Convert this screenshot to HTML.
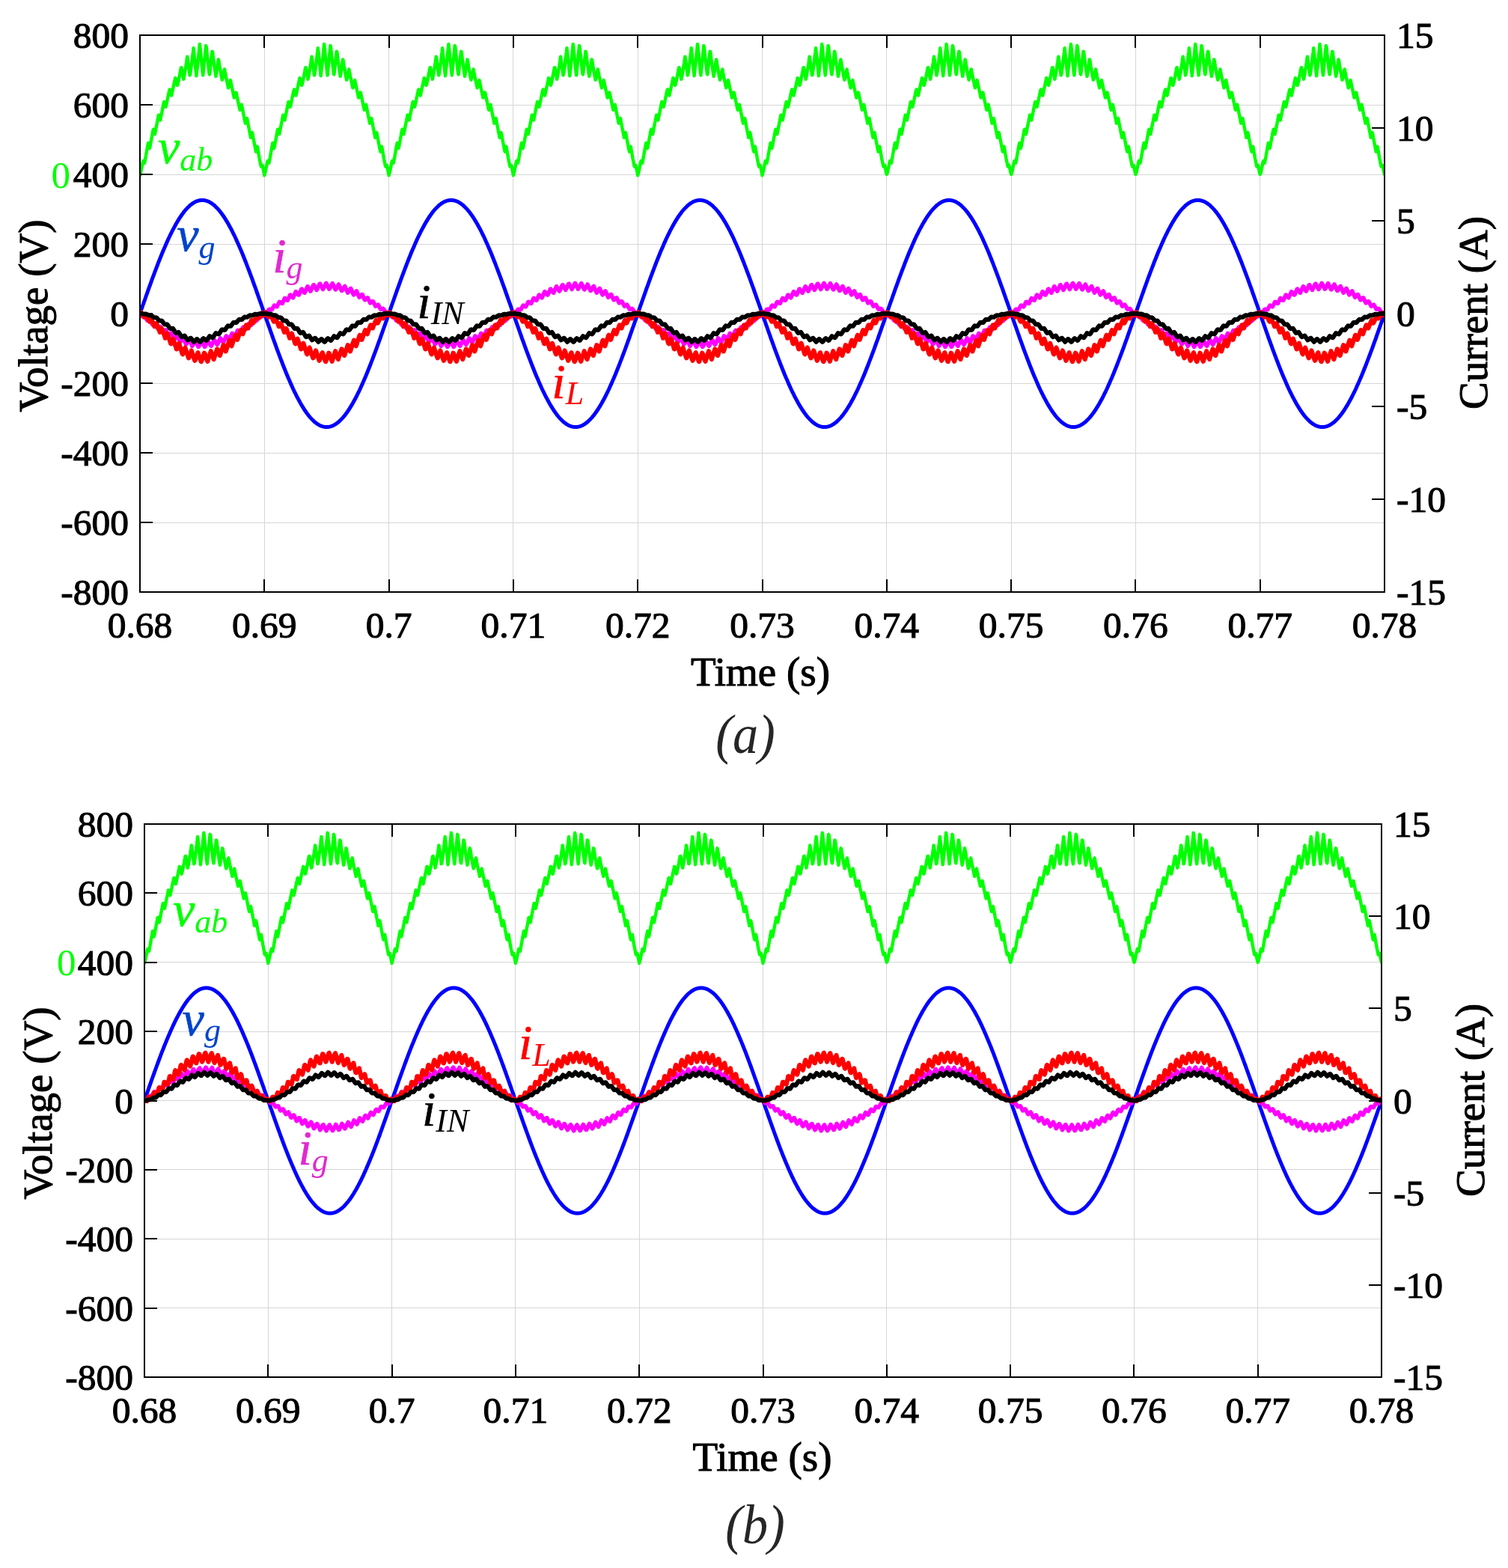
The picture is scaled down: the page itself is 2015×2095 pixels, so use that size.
<!DOCTYPE html><html><head><meta charset="utf-8"><title>Waveforms</title><style>html,body{margin:0;padding:0;background:#fff;overflow:hidden}svg{display:block}</style></head><body>
<svg xmlns="http://www.w3.org/2000/svg" width="2015" height="2095" viewBox="0 0 2015 2095">
<rect width="2015" height="2095" fill="#fff"/>
<clipPath id="ca"><rect x="187" y="44" width="1663" height="750"/></clipPath>
<path d="M353.5 47V791M519.5 47V791M685.5 47V791M852.5 47V791M1018.5 47V791M1184.5 47V791M1351.5 47V791M1517.5 47V791M1683.5 47V791M187 140.5H1850M187 233.5H1850M187 326.5H1850M187 419.5H1850M187 512.5H1850M187 605.5H1850M187 698.5H1850" stroke="#d6d6d6" stroke-width="1" fill="none"/>
<g clip-path="url(#ca)" fill="none" stroke-linejoin="round" stroke-linecap="round">
<path d="M187 234.3L187.6 232.1L188.1 229.9L188.7 227.5L189.2 224.9L189.8 222.2L190.3 219.4L190.9 216.5L191.4 214.9L192 216L192.5 217.4L193.1 217.9L193.7 215.1L194.2 212.2L194.8 209.2L195.3 206L195.9 202.8L196.4 199.8L197 196.8L197.5 193.9L198.1 190.9L198.6 193.4L199.2 195.9L199.7 198.3L200.3 196.5L200.9 193.6L201.4 190.7L202 187.7L202.5 184.8L203.1 181.9L203.6 178.9L204.2 176L204.7 173.1L205.3 172.7L205.8 175.1L206.4 177.4L207 179.2L207.5 176.4L208.1 173.5L208.6 170.6L209.2 167.8L209.7 165L210.3 162.1L210.8 159.3L211.4 156.4L211.9 153.6L212.5 154.6L213.1 156.8L213.6 158.9L214.2 160.5L214.7 157.8L215.3 155L215.8 152.3L216.4 149.5L216.9 146.8L217.5 144.1L218 141.3L218.6 138.6L219.2 135.9L219.7 136.7L220.3 138.8L220.8 140.8L221.4 142.8L221.9 141.3L222.5 138.7L223 136.1L223.6 133.4L224.1 130.8L224.7 128.2L225.2 125.5L225.8 122.9L226.4 120.3L226.9 119.5L227.5 121.5L228 123.5L228.6 125.5L229.1 127.6L229.7 125.2L230.2 122.6L230.8 120.1L231.3 117.5L231.9 114.9L232.5 112.3L233 109.6L233.6 106.9L234.1 104.2L234.7 104.7L235.2 107L235.8 109.3L236.3 111.6L236.9 114.1L237.4 113.1L238 110.5L238.6 107.8L239.1 105.1L239.7 102.3L240.2 99.5L240.8 96.5L241.3 93.5L241.9 90.4L242.4 90.2L243 93.1L243.5 96.1L244.1 99.2L244.7 102.5L245.2 105.9L245.8 103.6L246.3 100.5L246.9 97.4L247.4 94.1L248 90.7L248.5 87.1L249.1 83.5L249.6 79.6L250.2 75.7L250.7 78.9L251.3 82.9L251.9 87.1L252.4 91.4L253 95.9L253.5 100.5L254.1 99.8L254.6 95.9L255.2 91.9L255.7 87.7L256.3 83.3L256.8 78.8L257.4 74.1L258 69.3L258.5 64.3L259.1 69.3L259.6 74.4L260.2 79.6L260.7 85L261.3 90.4L261.8 95.9L262.4 101.4L262.9 96.6L263.5 91.6L264.1 86.4L264.6 81.1L265.2 75.7L265.7 70.2L266.3 64.6L266.8 59L267.4 62.9L267.9 68.6L268.5 74.4L269 80.1L269.6 85.7L270.2 91.3L270.7 96.9L271.3 100.6L271.8 95L272.4 89.4L272.9 83.7L273.5 78L274 72.3L274.6 66.7L275.1 61L275.7 62.5L276.2 68L276.8 73.4L277.4 78.7L277.9 83.8L278.5 88.9L279 93.7L279.6 98.5L280.1 99.5L280.7 94.2L281.2 88.9L281.8 83.7L282.3 78.6L282.9 73.6L283.5 68.8L284 69L284.6 73.6L285.1 78.2L285.7 82.5L286.2 86.7L286.8 90.8L287.3 94.7L287.9 98.4L288.4 102L289 99.3L289.6 95.1L290.1 90.9L290.7 87L291.2 83.2L291.8 79.5L292.3 80.8L292.9 84.5L293.4 88L294 91.5L294.5 94.7L295.1 97.9L295.6 101L296.2 103.9L296.8 106.8L297.3 105.8L297.9 102.8L298.4 99.8L299 97L299.5 94.2L300.1 92.6L300.6 95.6L301.2 98.6L301.7 101.4L302.3 104.2L302.9 107L303.4 109.6L304 112.3L304.5 114.8L305.1 117.4L305.6 115.3L306.2 113L306.7 110.8L307.3 108.6L307.8 107.1L308.4 109.8L309 112.4L309.5 115.1L310.1 117.7L310.6 120.3L311.2 122.9L311.7 125.4L312.3 128L312.8 130.5L313.4 129.5L313.9 127.5L314.5 125.5L315.1 123.5L315.6 123.7L316.2 126.3L316.7 129L317.3 131.6L317.8 134.3L318.4 136.9L318.9 139.6L319.5 142.2L320 144.9L320.6 147L321.1 145L321.7 142.9L322.3 140.9L322.8 139.8L323.4 142.5L323.9 145.3L324.5 148L325 150.8L325.6 153.6L326.1 156.3L326.7 159.1L327.2 161.9L327.8 164.7L328.4 163.2L328.9 161L329.5 158.8L330 158L330.6 160.8L331.1 163.7L331.7 166.5L332.2 169.4L332.8 172.2L333.3 175.1L333.9 178L334.5 180.9L335 183.8L335.6 181.7L336.1 179.3L336.7 176.9L337.2 177.8L337.8 180.7L338.3 183.6L338.9 186.6L339.4 189.5L340 192.5L340.6 195.4L341.1 198.4L341.7 201.3L342.2 202.7L342.8 200.2L343.3 197.6L343.9 195.8L344.4 198.8L345 202L345.5 205.2L346.1 208.5L346.6 211.6L347.2 214.5L347.8 217.4L348.3 220.1L348.9 222.6L349.4 222.1L350 221.2L350.5 220.8L351.1 222.9L351.6 225.6L352.2 228.2L352.7 230.7L353.3 234.3L353.9 232.1L354.4 229.9L355 227.5L355.5 224.9L356.1 222.2L356.6 219.4L357.2 216.5L357.7 214.9L358.3 216L358.8 217.4L359.4 217.9L360 215.1L360.5 212.2L361.1 209.2L361.6 206L362.2 202.8L362.7 199.8L363.3 196.8L363.8 193.9L364.4 190.9L364.9 193.4L365.5 195.9L366 198.3L366.6 196.5L367.2 193.6L367.7 190.7L368.3 187.7L368.8 184.8L369.4 181.9L369.9 178.9L370.5 176L371 173.1L371.6 172.7L372.1 175.1L372.7 177.4L373.3 179.2L373.8 176.4L374.4 173.5L374.9 170.6L375.5 167.8L376 165L376.6 162.1L377.1 159.3L377.7 156.4L378.2 153.6L378.8 154.6L379.4 156.8L379.9 158.9L380.5 160.5L381 157.8L381.6 155L382.1 152.3L382.7 149.5L383.2 146.8L383.8 144.1L384.3 141.3L384.9 138.6L385.5 135.9L386 136.7L386.6 138.8L387.1 140.8L387.7 142.8L388.2 141.3L388.8 138.7L389.3 136.1L389.9 133.4L390.4 130.8L391 128.2L391.5 125.5L392.1 122.9L392.7 120.3L393.2 119.5L393.8 121.5L394.3 123.5L394.9 125.5L395.4 127.6L396 125.2L396.5 122.6L397.1 120.1L397.6 117.5L398.2 114.9L398.8 112.3L399.3 109.6L399.9 106.9L400.4 104.2L401 104.7L401.5 107L402.1 109.3L402.6 111.6L403.2 114.1L403.7 113.1L404.3 110.5L404.9 107.8L405.4 105.1L406 102.3L406.5 99.5L407.1 96.5L407.6 93.5L408.2 90.4L408.7 90.2L409.3 93.1L409.8 96.1L410.4 99.2L411 102.5L411.5 105.9L412.1 103.6L412.6 100.5L413.2 97.4L413.7 94.1L414.3 90.7L414.8 87.1L415.4 83.5L415.9 79.6L416.5 75.7L417 78.9L417.6 82.9L418.2 87.1L418.7 91.4L419.3 95.9L419.8 100.5L420.4 99.8L420.9 95.9L421.5 91.9L422 87.7L422.6 83.3L423.1 78.8L423.7 74.1L424.3 69.3L424.8 64.3L425.4 69.3L425.9 74.4L426.5 79.6L427 85L427.6 90.4L428.1 95.9L428.7 101.4L429.2 96.6L429.8 91.6L430.4 86.4L430.9 81.1L431.5 75.7L432 70.2L432.6 64.6L433.1 59L433.7 62.9L434.2 68.6L434.8 74.4L435.3 80.1L435.9 85.7L436.5 91.3L437 96.9L437.6 100.6L438.1 95L438.7 89.4L439.2 83.7L439.8 78L440.3 72.3L440.9 66.7L441.4 61L442 62.5L442.5 68L443.1 73.4L443.7 78.7L444.2 83.8L444.8 88.9L445.3 93.7L445.9 98.5L446.4 99.5L447 94.2L447.5 88.9L448.1 83.7L448.6 78.6L449.2 73.6L449.8 68.8L450.3 69L450.9 73.6L451.4 78.2L452 82.5L452.5 86.7L453.1 90.8L453.6 94.7L454.2 98.4L454.7 102L455.3 99.3L455.9 95.1L456.4 90.9L457 87L457.5 83.2L458.1 79.5L458.6 80.8L459.2 84.5L459.7 88L460.3 91.5L460.8 94.7L461.4 97.9L461.9 101L462.5 103.9L463.1 106.8L463.6 105.8L464.2 102.8L464.7 99.8L465.3 97L465.8 94.2L466.4 92.6L466.9 95.6L467.5 98.6L468 101.4L468.6 104.2L469.2 107L469.7 109.6L470.3 112.3L470.8 114.8L471.4 117.4L471.9 115.3L472.5 113L473 110.8L473.6 108.6L474.1 107.1L474.7 109.8L475.3 112.4L475.8 115.1L476.4 117.7L476.9 120.3L477.5 122.9L478 125.4L478.6 128L479.1 130.5L479.7 129.5L480.2 127.5L480.8 125.5L481.4 123.5L481.9 123.7L482.5 126.3L483 129L483.6 131.6L484.1 134.3L484.7 136.9L485.2 139.6L485.8 142.2L486.3 144.9L486.9 147L487.4 145L488 142.9L488.6 140.9L489.1 139.8L489.7 142.5L490.2 145.3L490.8 148L491.3 150.8L491.9 153.6L492.4 156.3L493 159.1L493.5 161.9L494.1 164.7L494.7 163.2L495.2 161L495.8 158.8L496.3 158L496.9 160.8L497.4 163.7L498 166.5L498.5 169.4L499.1 172.2L499.6 175.1L500.2 178L500.8 180.9L501.3 183.8L501.9 181.7L502.4 179.3L503 176.9L503.5 177.8L504.1 180.7L504.6 183.6L505.2 186.6L505.7 189.5L506.3 192.5L506.9 195.4L507.4 198.4L508 201.3L508.5 202.7L509.1 200.2L509.6 197.6L510.2 195.8L510.7 198.8L511.3 202L511.8 205.2L512.4 208.5L512.9 211.6L513.5 214.5L514.1 217.4L514.6 220.1L515.2 222.6L515.7 222.1L516.3 221.2L516.8 220.8L517.4 222.9L517.9 225.6L518.5 228.2L519 230.7L519.6 234.3L520.2 232.1L520.7 229.9L521.3 227.5L521.8 224.9L522.4 222.2L522.9 219.4L523.5 216.5L524 214.9L524.6 216L525.1 217.4L525.7 217.9L526.3 215.1L526.8 212.2L527.4 209.2L527.9 206L528.5 202.8L529 199.8L529.6 196.8L530.1 193.9L530.7 190.9L531.2 193.4L531.8 195.9L532.3 198.3L532.9 196.5L533.5 193.6L534 190.7L534.6 187.7L535.1 184.8L535.7 181.9L536.2 178.9L536.8 176L537.3 173.1L537.9 172.7L538.4 175.1L539 177.4L539.6 179.2L540.1 176.4L540.7 173.5L541.2 170.6L541.8 167.8L542.3 165L542.9 162.1L543.4 159.3L544 156.4L544.5 153.6L545.1 154.6L545.7 156.8L546.2 158.9L546.8 160.5L547.3 157.8L547.9 155L548.4 152.3L549 149.5L549.5 146.8L550.1 144.1L550.6 141.3L551.2 138.6L551.8 135.9L552.3 136.7L552.9 138.8L553.4 140.8L554 142.8L554.5 141.3L555.1 138.7L555.6 136.1L556.2 133.4L556.7 130.8L557.3 128.2L557.8 125.5L558.4 122.9L559 120.3L559.5 119.5L560.1 121.5L560.6 123.5L561.2 125.5L561.7 127.6L562.3 125.2L562.8 122.6L563.4 120.1L563.9 117.5L564.5 114.9L565.1 112.3L565.6 109.6L566.2 106.9L566.7 104.2L567.3 104.7L567.8 107L568.4 109.3L568.9 111.6L569.5 114.1L570 113.1L570.6 110.5L571.2 107.8L571.7 105.1L572.3 102.3L572.8 99.5L573.4 96.5L573.9 93.5L574.5 90.4L575 90.2L575.6 93.1L576.1 96.1L576.7 99.2L577.3 102.5L577.8 105.9L578.4 103.6L578.9 100.5L579.5 97.4L580 94.1L580.6 90.7L581.1 87.1L581.7 83.5L582.2 79.6L582.8 75.7L583.3 78.9L583.9 82.9L584.5 87.1L585 91.4L585.6 95.9L586.1 100.5L586.7 99.8L587.2 95.9L587.8 91.9L588.3 87.7L588.9 83.3L589.4 78.8L590 74.1L590.6 69.3L591.1 64.3L591.7 69.3L592.2 74.4L592.8 79.6L593.3 85L593.9 90.4L594.4 95.9L595 101.4L595.5 96.6L596.1 91.6L596.7 86.4L597.2 81.1L597.8 75.7L598.3 70.2L598.9 64.6L599.4 59L600 62.9L600.5 68.6L601.1 74.4L601.6 80.1L602.2 85.7L602.8 91.3L603.3 96.9L603.9 100.6L604.4 95L605 89.4L605.5 83.7L606.1 78L606.6 72.3L607.2 66.7L607.7 61L608.3 62.5L608.8 68L609.4 73.4L610 78.7L610.5 83.8L611.1 88.9L611.6 93.7L612.2 98.5L612.7 99.5L613.3 94.2L613.8 88.9L614.4 83.7L614.9 78.6L615.5 73.6L616.1 68.8L616.6 69L617.2 73.6L617.7 78.2L618.3 82.5L618.8 86.7L619.4 90.8L619.9 94.7L620.5 98.4L621 102L621.6 99.3L622.2 95.1L622.7 90.9L623.3 87L623.8 83.2L624.4 79.5L624.9 80.8L625.5 84.5L626 88L626.6 91.5L627.1 94.7L627.7 97.9L628.2 101L628.8 103.9L629.4 106.8L629.9 105.8L630.5 102.8L631 99.8L631.6 97L632.1 94.2L632.7 92.6L633.2 95.6L633.8 98.6L634.3 101.4L634.9 104.2L635.5 107L636 109.6L636.6 112.3L637.1 114.8L637.7 117.4L638.2 115.3L638.8 113L639.3 110.8L639.9 108.6L640.4 107.1L641 109.8L641.6 112.4L642.1 115.1L642.7 117.7L643.2 120.3L643.8 122.9L644.3 125.4L644.9 128L645.4 130.5L646 129.5L646.5 127.5L647.1 125.5L647.7 123.5L648.2 123.7L648.8 126.3L649.3 129L649.9 131.6L650.4 134.3L651 136.9L651.5 139.6L652.1 142.2L652.6 144.9L653.2 147L653.7 145L654.3 142.9L654.9 140.9L655.4 139.8L656 142.5L656.5 145.3L657.1 148L657.6 150.8L658.2 153.6L658.7 156.3L659.3 159.1L659.8 161.9L660.4 164.7L661 163.2L661.5 161L662.1 158.8L662.6 158L663.2 160.8L663.7 163.7L664.3 166.5L664.8 169.4L665.4 172.2L665.9 175.1L666.5 178L667.1 180.9L667.6 183.8L668.2 181.7L668.7 179.3L669.3 176.9L669.8 177.8L670.4 180.7L670.9 183.6L671.5 186.6L672 189.5L672.6 192.5L673.2 195.4L673.7 198.4L674.3 201.3L674.8 202.7L675.4 200.2L675.9 197.6L676.5 195.8L677 198.8L677.6 202L678.1 205.2L678.7 208.5L679.2 211.6L679.8 214.5L680.4 217.4L680.9 220.1L681.5 222.6L682 222.1L682.6 221.2L683.1 220.8L683.7 222.9L684.2 225.6L684.8 228.2L685.3 230.7L685.9 234.3L686.5 232.1L687 229.9L687.6 227.5L688.1 224.9L688.7 222.2L689.2 219.4L689.8 216.5L690.3 214.9L690.9 216L691.4 217.4L692 217.9L692.6 215.1L693.1 212.2L693.7 209.2L694.2 206L694.8 202.8L695.3 199.8L695.9 196.8L696.4 193.9L697 190.9L697.5 193.4L698.1 195.9L698.6 198.3L699.2 196.5L699.8 193.6L700.3 190.7L700.9 187.7L701.4 184.8L702 181.9L702.5 178.9L703.1 176L703.6 173.1L704.2 172.7L704.7 175.1L705.3 177.4L705.9 179.2L706.4 176.4L707 173.5L707.5 170.6L708.1 167.8L708.6 165L709.2 162.1L709.7 159.3L710.3 156.4L710.8 153.6L711.4 154.6L712 156.8L712.5 158.9L713.1 160.5L713.6 157.8L714.2 155L714.7 152.3L715.3 149.5L715.8 146.8L716.4 144.1L716.9 141.3L717.5 138.6L718.1 135.9L718.6 136.7L719.2 138.8L719.7 140.8L720.3 142.8L720.8 141.3L721.4 138.7L721.9 136.1L722.5 133.4L723 130.8L723.6 128.2L724.1 125.5L724.7 122.9L725.3 120.3L725.8 119.5L726.4 121.5L726.9 123.5L727.5 125.5L728 127.6L728.6 125.2L729.1 122.6L729.7 120.1L730.2 117.5L730.8 114.9L731.4 112.3L731.9 109.6L732.5 106.9L733 104.2L733.6 104.7L734.1 107L734.7 109.3L735.2 111.6L735.8 114.1L736.3 113.1L736.9 110.5L737.5 107.8L738 105.1L738.6 102.3L739.1 99.5L739.7 96.5L740.2 93.5L740.8 90.4L741.3 90.2L741.9 93.1L742.4 96.1L743 99.2L743.6 102.5L744.1 105.9L744.7 103.6L745.2 100.5L745.8 97.4L746.3 94.1L746.9 90.7L747.4 87.1L748 83.5L748.5 79.6L749.1 75.7L749.6 78.9L750.2 82.9L750.8 87.1L751.3 91.4L751.9 95.9L752.4 100.5L753 99.8L753.5 95.9L754.1 91.9L754.6 87.7L755.2 83.3L755.7 78.8L756.3 74.1L756.9 69.3L757.4 64.3L758 69.3L758.5 74.4L759.1 79.6L759.6 85L760.2 90.4L760.7 95.9L761.3 101.4L761.8 96.6L762.4 91.6L763 86.4L763.5 81.1L764.1 75.7L764.6 70.2L765.2 64.6L765.7 59L766.3 62.9L766.8 68.6L767.4 74.4L767.9 80.1L768.5 85.7L769.1 91.3L769.6 96.9L770.2 100.6L770.7 95L771.3 89.4L771.8 83.7L772.4 78L772.9 72.3L773.5 66.7L774 61L774.6 62.5L775.1 68L775.7 73.4L776.3 78.7L776.8 83.8L777.4 88.9L777.9 93.7L778.5 98.5L779 99.5L779.6 94.2L780.1 88.9L780.7 83.7L781.2 78.6L781.8 73.6L782.4 68.8L782.9 69L783.5 73.6L784 78.2L784.6 82.5L785.1 86.7L785.7 90.8L786.2 94.7L786.8 98.4L787.3 102L787.9 99.3L788.5 95.1L789 90.9L789.6 87L790.1 83.2L790.7 79.5L791.2 80.8L791.8 84.5L792.3 88L792.9 91.5L793.4 94.7L794 97.9L794.5 101L795.1 103.9L795.7 106.8L796.2 105.8L796.8 102.8L797.3 99.8L797.9 97L798.4 94.2L799 92.6L799.5 95.6L800.1 98.6L800.6 101.4L801.2 104.2L801.8 107L802.3 109.6L802.9 112.3L803.4 114.8L804 117.4L804.5 115.3L805.1 113L805.6 110.8L806.2 108.6L806.7 107.1L807.3 109.8L807.9 112.4L808.4 115.1L809 117.7L809.5 120.3L810.1 122.9L810.6 125.4L811.2 128L811.7 130.5L812.3 129.5L812.8 127.5L813.4 125.5L814 123.5L814.5 123.7L815.1 126.3L815.6 129L816.2 131.6L816.7 134.3L817.3 136.9L817.8 139.6L818.4 142.2L818.9 144.9L819.5 147L820 145L820.6 142.9L821.2 140.9L821.7 139.8L822.3 142.5L822.8 145.3L823.4 148L823.9 150.8L824.5 153.6L825 156.3L825.6 159.1L826.1 161.9L826.7 164.7L827.3 163.2L827.8 161L828.4 158.8L828.9 158L829.5 160.8L830 163.7L830.6 166.5L831.1 169.4L831.7 172.2L832.2 175.1L832.8 178L833.4 180.9L833.9 183.8L834.5 181.7L835 179.3L835.6 176.9L836.1 177.8L836.7 180.7L837.2 183.6L837.8 186.6L838.3 189.5L838.9 192.5L839.5 195.4L840 198.4L840.6 201.3L841.1 202.7L841.7 200.2L842.2 197.6L842.8 195.8L843.3 198.8L843.9 202L844.4 205.2L845 208.5L845.5 211.6L846.1 214.5L846.7 217.4L847.2 220.1L847.8 222.6L848.3 222.1L848.9 221.2L849.4 220.8L850 222.9L850.5 225.6L851.1 228.2L851.6 230.7L852.2 234.3L852.8 232.1L853.3 229.9L853.9 227.5L854.4 224.9L855 222.2L855.5 219.4L856.1 216.5L856.6 214.9L857.2 216L857.7 217.4L858.3 217.9L858.9 215.1L859.4 212.2L860 209.2L860.5 206L861.1 202.8L861.6 199.8L862.2 196.8L862.7 193.9L863.3 190.9L863.8 193.4L864.4 195.9L864.9 198.3L865.5 196.5L866.1 193.6L866.6 190.7L867.2 187.7L867.7 184.8L868.3 181.9L868.8 178.9L869.4 176L869.9 173.1L870.5 172.7L871 175.1L871.6 177.4L872.2 179.2L872.7 176.4L873.3 173.5L873.8 170.6L874.4 167.8L874.9 165L875.5 162.1L876 159.3L876.6 156.4L877.1 153.6L877.7 154.6L878.3 156.8L878.8 158.9L879.4 160.5L879.9 157.8L880.5 155L881 152.3L881.6 149.5L882.1 146.8L882.7 144.1L883.2 141.3L883.8 138.6L884.4 135.9L884.9 136.7L885.5 138.8L886 140.8L886.6 142.8L887.1 141.3L887.7 138.7L888.2 136.1L888.8 133.4L889.3 130.8L889.9 128.2L890.4 125.5L891 122.9L891.6 120.3L892.1 119.5L892.7 121.5L893.2 123.5L893.8 125.5L894.3 127.6L894.9 125.2L895.4 122.6L896 120.1L896.5 117.5L897.1 114.9L897.7 112.3L898.2 109.6L898.8 106.9L899.3 104.2L899.9 104.7L900.4 107L901 109.3L901.5 111.6L902.1 114.1L902.6 113.1L903.2 110.5L903.8 107.8L904.3 105.1L904.9 102.3L905.4 99.5L906 96.5L906.5 93.5L907.1 90.4L907.6 90.2L908.2 93.1L908.7 96.1L909.3 99.2L909.9 102.5L910.4 105.9L911 103.6L911.5 100.5L912.1 97.4L912.6 94.1L913.2 90.7L913.7 87.1L914.3 83.5L914.8 79.6L915.4 75.7L915.9 78.9L916.5 82.9L917.1 87.1L917.6 91.4L918.2 95.9L918.7 100.5L919.3 99.8L919.8 95.9L920.4 91.9L920.9 87.7L921.5 83.3L922 78.8L922.6 74.1L923.2 69.3L923.7 64.3L924.3 69.3L924.8 74.4L925.4 79.6L925.9 85L926.5 90.4L927 95.9L927.6 101.4L928.1 96.6L928.7 91.6L929.3 86.4L929.8 81.1L930.4 75.7L930.9 70.2L931.5 64.6L932 59L932.6 62.9L933.1 68.6L933.7 74.4L934.2 80.1L934.8 85.7L935.4 91.3L935.9 96.9L936.5 100.6L937 95L937.6 89.4L938.1 83.7L938.7 78L939.2 72.3L939.8 66.7L940.3 61L940.9 62.5L941.4 68L942 73.4L942.6 78.7L943.1 83.8L943.7 88.9L944.2 93.7L944.8 98.5L945.3 99.5L945.9 94.2L946.4 88.9L947 83.7L947.5 78.6L948.1 73.6L948.7 68.8L949.2 69L949.8 73.6L950.3 78.2L950.9 82.5L951.4 86.7L952 90.8L952.5 94.7L953.1 98.4L953.6 102L954.2 99.3L954.8 95.1L955.3 90.9L955.9 87L956.4 83.2L957 79.5L957.5 80.8L958.1 84.5L958.6 88L959.2 91.5L959.7 94.7L960.3 97.9L960.8 101L961.4 103.9L962 106.8L962.5 105.8L963.1 102.8L963.6 99.8L964.2 97L964.7 94.2L965.3 92.6L965.8 95.6L966.4 98.6L966.9 101.4L967.5 104.2L968.1 107L968.6 109.6L969.2 112.3L969.7 114.8L970.3 117.4L970.8 115.3L971.4 113L971.9 110.8L972.5 108.6L973 107.1L973.6 109.8L974.2 112.4L974.7 115.1L975.3 117.7L975.8 120.3L976.4 122.9L976.9 125.4L977.5 128L978 130.5L978.6 129.5L979.1 127.5L979.7 125.5L980.3 123.5L980.8 123.7L981.4 126.3L981.9 129L982.5 131.6L983 134.3L983.6 136.9L984.1 139.6L984.7 142.2L985.2 144.9L985.8 147L986.3 145L986.9 142.9L987.5 140.9L988 139.8L988.6 142.5L989.1 145.3L989.7 148L990.2 150.8L990.8 153.6L991.3 156.3L991.9 159.1L992.4 161.9L993 164.7L993.6 163.2L994.1 161L994.7 158.8L995.2 158L995.8 160.8L996.3 163.7L996.9 166.5L997.4 169.4L998 172.2L998.5 175.1L999.1 178L999.7 180.9L1000.2 183.8L1000.8 181.7L1001.3 179.3L1001.9 176.9L1002.4 177.8L1003 180.7L1003.5 183.6L1004.1 186.6L1004.6 189.5L1005.2 192.5L1005.8 195.4L1006.3 198.4L1006.9 201.3L1007.4 202.7L1008 200.2L1008.5 197.6L1009.1 195.8L1009.6 198.8L1010.2 202L1010.7 205.2L1011.3 208.5L1011.8 211.6L1012.4 214.5L1013 217.4L1013.5 220.1L1014.1 222.6L1014.6 222.1L1015.2 221.2L1015.7 220.8L1016.3 222.9L1016.8 225.6L1017.4 228.2L1017.9 230.7L1018.5 234.3L1019.1 232.1L1019.6 229.9L1020.2 227.5L1020.7 224.9L1021.3 222.2L1021.8 219.4L1022.4 216.5L1022.9 214.9L1023.5 216L1024 217.4L1024.6 217.9L1025.2 215.1L1025.7 212.2L1026.3 209.2L1026.8 206L1027.4 202.8L1027.9 199.8L1028.5 196.8L1029 193.9L1029.6 190.9L1030.1 193.4L1030.7 195.9L1031.2 198.3L1031.8 196.5L1032.4 193.6L1032.9 190.7L1033.5 187.7L1034 184.8L1034.6 181.9L1035.1 178.9L1035.7 176L1036.2 173.1L1036.8 172.7L1037.3 175.1L1037.9 177.4L1038.5 179.2L1039 176.4L1039.6 173.5L1040.1 170.6L1040.7 167.8L1041.2 165L1041.8 162.1L1042.3 159.3L1042.9 156.4L1043.4 153.6L1044 154.6L1044.6 156.8L1045.1 158.9L1045.7 160.5L1046.2 157.8L1046.8 155L1047.3 152.3L1047.9 149.5L1048.4 146.8L1049 144.1L1049.5 141.3L1050.1 138.6L1050.7 135.9L1051.2 136.7L1051.8 138.8L1052.3 140.8L1052.9 142.8L1053.4 141.3L1054 138.7L1054.5 136.1L1055.1 133.4L1055.6 130.8L1056.2 128.2L1056.7 125.5L1057.3 122.9L1057.9 120.3L1058.4 119.5L1059 121.5L1059.5 123.5L1060.1 125.5L1060.6 127.6L1061.2 125.2L1061.7 122.6L1062.3 120.1L1062.8 117.5L1063.4 114.9L1064 112.3L1064.5 109.6L1065.1 106.9L1065.6 104.2L1066.2 104.7L1066.7 107L1067.3 109.3L1067.8 111.6L1068.4 114.1L1068.9 113.1L1069.5 110.5L1070.1 107.8L1070.6 105.1L1071.2 102.3L1071.7 99.5L1072.3 96.5L1072.8 93.5L1073.4 90.4L1073.9 90.2L1074.5 93.1L1075 96.1L1075.6 99.2L1076.2 102.5L1076.7 105.9L1077.3 103.6L1077.8 100.5L1078.4 97.4L1078.9 94.1L1079.5 90.7L1080 87.1L1080.6 83.5L1081.1 79.6L1081.7 75.7L1082.2 78.9L1082.8 82.9L1083.4 87.1L1083.9 91.4L1084.5 95.9L1085 100.5L1085.6 99.8L1086.1 95.9L1086.7 91.9L1087.2 87.7L1087.8 83.3L1088.3 78.8L1088.9 74.1L1089.5 69.3L1090 64.3L1090.6 69.3L1091.1 74.4L1091.7 79.6L1092.2 85L1092.8 90.4L1093.3 95.9L1093.9 101.4L1094.4 96.6L1095 91.6L1095.6 86.4L1096.1 81.1L1096.7 75.7L1097.2 70.2L1097.8 64.6L1098.3 59L1098.9 62.9L1099.4 68.6L1100 74.4L1100.5 80.1L1101.1 85.7L1101.7 91.3L1102.2 96.9L1102.8 100.6L1103.3 95L1103.9 89.4L1104.4 83.7L1105 78L1105.5 72.3L1106.1 66.7L1106.6 61L1107.2 62.5L1107.7 68L1108.3 73.4L1108.9 78.7L1109.4 83.8L1110 88.9L1110.5 93.7L1111.1 98.5L1111.6 99.5L1112.2 94.2L1112.7 88.9L1113.3 83.7L1113.8 78.6L1114.4 73.6L1115 68.8L1115.5 69L1116.1 73.6L1116.6 78.2L1117.2 82.5L1117.7 86.7L1118.3 90.8L1118.8 94.7L1119.4 98.4L1119.9 102L1120.5 99.3L1121.1 95.1L1121.6 90.9L1122.2 87L1122.7 83.2L1123.3 79.5L1123.8 80.8L1124.4 84.5L1124.9 88L1125.5 91.5L1126 94.7L1126.6 97.9L1127.1 101L1127.7 103.9L1128.3 106.8L1128.8 105.8L1129.4 102.8L1129.9 99.8L1130.5 97L1131 94.2L1131.6 92.6L1132.1 95.6L1132.7 98.6L1133.2 101.4L1133.8 104.2L1134.4 107L1134.9 109.6L1135.5 112.3L1136 114.8L1136.6 117.4L1137.1 115.3L1137.7 113L1138.2 110.8L1138.8 108.6L1139.3 107.1L1139.9 109.8L1140.5 112.4L1141 115.1L1141.6 117.7L1142.1 120.3L1142.7 122.9L1143.2 125.4L1143.8 128L1144.3 130.5L1144.9 129.5L1145.4 127.5L1146 125.5L1146.6 123.5L1147.1 123.7L1147.7 126.3L1148.2 129L1148.8 131.6L1149.3 134.3L1149.9 136.9L1150.4 139.6L1151 142.2L1151.5 144.9L1152.1 147L1152.6 145L1153.2 142.9L1153.8 140.9L1154.3 139.8L1154.9 142.5L1155.4 145.3L1156 148L1156.5 150.8L1157.1 153.6L1157.6 156.3L1158.2 159.1L1158.7 161.9L1159.3 164.7L1159.9 163.2L1160.4 161L1161 158.8L1161.5 158L1162.1 160.8L1162.6 163.7L1163.2 166.5L1163.7 169.4L1164.3 172.2L1164.8 175.1L1165.4 178L1166 180.9L1166.5 183.8L1167.1 181.7L1167.6 179.3L1168.2 176.9L1168.7 177.8L1169.3 180.7L1169.8 183.6L1170.4 186.6L1170.9 189.5L1171.5 192.5L1172.1 195.4L1172.6 198.4L1173.2 201.3L1173.7 202.7L1174.3 200.2L1174.8 197.6L1175.4 195.8L1175.9 198.8L1176.5 202L1177 205.2L1177.6 208.5L1178.1 211.6L1178.7 214.5L1179.3 217.4L1179.8 220.1L1180.4 222.6L1180.9 222.1L1181.5 221.2L1182 220.8L1182.6 222.9L1183.1 225.6L1183.7 228.2L1184.2 230.7L1184.8 233L1185.4 232.1L1185.9 229.9L1186.5 227.5L1187 224.9L1187.6 222.2L1188.1 219.4L1188.7 216.5L1189.2 214.9L1189.8 216L1190.3 217.4L1190.9 217.9L1191.5 215.1L1192 212.2L1192.6 209.2L1193.1 206L1193.7 202.8L1194.2 199.8L1194.8 196.8L1195.3 193.9L1195.9 190.9L1196.4 193.4L1197 195.9L1197.5 198.3L1198.1 196.5L1198.7 193.6L1199.2 190.7L1199.8 187.7L1200.3 184.8L1200.9 181.9L1201.4 178.9L1202 176L1202.5 173.1L1203.1 172.7L1203.6 175.1L1204.2 177.4L1204.8 179.2L1205.3 176.4L1205.9 173.5L1206.4 170.6L1207 167.8L1207.5 165L1208.1 162.1L1208.6 159.3L1209.2 156.4L1209.7 153.6L1210.3 154.6L1210.9 156.8L1211.4 158.9L1212 160.5L1212.5 157.8L1213.1 155L1213.6 152.3L1214.2 149.5L1214.7 146.8L1215.3 144.1L1215.8 141.3L1216.4 138.6L1217 135.9L1217.5 136.7L1218.1 138.8L1218.6 140.8L1219.2 142.8L1219.7 141.3L1220.3 138.7L1220.8 136.1L1221.4 133.4L1221.9 130.8L1222.5 128.2L1223 125.5L1223.6 122.9L1224.2 120.3L1224.7 119.5L1225.3 121.5L1225.8 123.5L1226.4 125.5L1226.9 127.6L1227.5 125.2L1228 122.6L1228.6 120.1L1229.1 117.5L1229.7 114.9L1230.3 112.3L1230.8 109.6L1231.4 106.9L1231.9 104.2L1232.5 104.7L1233 107L1233.6 109.3L1234.1 111.6L1234.7 114.1L1235.2 113.1L1235.8 110.5L1236.4 107.8L1236.9 105.1L1237.5 102.3L1238 99.5L1238.6 96.5L1239.1 93.5L1239.7 90.4L1240.2 90.2L1240.8 93.1L1241.3 96.1L1241.9 99.2L1242.5 102.5L1243 105.9L1243.6 103.6L1244.1 100.5L1244.7 97.4L1245.2 94.1L1245.8 90.7L1246.3 87.1L1246.9 83.5L1247.4 79.6L1248 75.7L1248.5 78.9L1249.1 82.9L1249.7 87.1L1250.2 91.4L1250.8 95.9L1251.3 100.5L1251.9 99.8L1252.4 95.9L1253 91.9L1253.5 87.7L1254.1 83.3L1254.6 78.8L1255.2 74.1L1255.8 69.3L1256.3 64.3L1256.9 69.3L1257.4 74.4L1258 79.6L1258.5 85L1259.1 90.4L1259.6 95.9L1260.2 101.4L1260.7 96.6L1261.3 91.6L1261.9 86.4L1262.4 81.1L1263 75.7L1263.5 70.2L1264.1 64.6L1264.6 59L1265.2 62.9L1265.7 68.6L1266.3 74.4L1266.8 80.1L1267.4 85.7L1268 91.3L1268.5 96.9L1269.1 100.6L1269.6 95L1270.2 89.4L1270.7 83.7L1271.3 78L1271.8 72.3L1272.4 66.7L1272.9 61L1273.5 62.5L1274 68L1274.6 73.4L1275.2 78.7L1275.7 83.8L1276.3 88.9L1276.8 93.7L1277.4 98.5L1277.9 99.5L1278.5 94.2L1279 88.9L1279.6 83.7L1280.1 78.6L1280.7 73.6L1281.3 68.8L1281.8 69L1282.4 73.6L1282.9 78.2L1283.5 82.5L1284 86.7L1284.6 90.8L1285.1 94.7L1285.7 98.4L1286.2 102L1286.8 99.3L1287.4 95.1L1287.9 90.9L1288.5 87L1289 83.2L1289.6 79.5L1290.1 80.8L1290.7 84.5L1291.2 88L1291.8 91.5L1292.3 94.7L1292.9 97.9L1293.4 101L1294 103.9L1294.6 106.8L1295.1 105.8L1295.7 102.8L1296.2 99.8L1296.8 97L1297.3 94.2L1297.9 92.6L1298.4 95.6L1299 98.6L1299.5 101.4L1300.1 104.2L1300.7 107L1301.2 109.6L1301.8 112.3L1302.3 114.8L1302.9 117.4L1303.4 115.3L1304 113L1304.5 110.8L1305.1 108.6L1305.6 107.1L1306.2 109.8L1306.8 112.4L1307.3 115.1L1307.9 117.7L1308.4 120.3L1309 122.9L1309.5 125.4L1310.1 128L1310.6 130.5L1311.2 129.5L1311.7 127.5L1312.3 125.5L1312.9 123.5L1313.4 123.7L1314 126.3L1314.5 129L1315.1 131.6L1315.6 134.3L1316.2 136.9L1316.7 139.6L1317.3 142.2L1317.8 144.9L1318.4 147L1318.9 145L1319.5 142.9L1320.1 140.9L1320.6 139.8L1321.2 142.5L1321.7 145.3L1322.3 148L1322.8 150.8L1323.4 153.6L1323.9 156.3L1324.5 159.1L1325 161.9L1325.6 164.7L1326.2 163.2L1326.7 161L1327.3 158.8L1327.8 158L1328.4 160.8L1328.9 163.7L1329.5 166.5L1330 169.4L1330.6 172.2L1331.1 175.1L1331.7 178L1332.3 180.9L1332.8 183.8L1333.4 181.7L1333.9 179.3L1334.5 176.9L1335 177.8L1335.6 180.7L1336.1 183.6L1336.7 186.6L1337.2 189.5L1337.8 192.5L1338.4 195.4L1338.9 198.4L1339.5 201.3L1340 202.7L1340.6 200.2L1341.1 197.6L1341.7 195.8L1342.2 198.8L1342.8 202L1343.3 205.2L1343.9 208.5L1344.4 211.6L1345 214.5L1345.6 217.4L1346.1 220.1L1346.7 222.6L1347.2 222.1L1347.8 221.2L1348.3 220.8L1348.9 222.9L1349.4 225.6L1350 228.2L1350.5 230.7L1351.1 233L1351.7 232.1L1352.2 229.9L1352.8 227.5L1353.3 224.9L1353.9 222.2L1354.4 219.4L1355 216.5L1355.5 214.9L1356.1 216L1356.6 217.4L1357.2 217.9L1357.8 215.1L1358.3 212.2L1358.9 209.2L1359.4 206L1360 202.8L1360.5 199.8L1361.1 196.8L1361.6 193.9L1362.2 190.9L1362.7 193.4L1363.3 195.9L1363.8 198.3L1364.4 196.5L1365 193.6L1365.5 190.7L1366.1 187.7L1366.6 184.8L1367.2 181.9L1367.7 178.9L1368.3 176L1368.8 173.1L1369.4 172.7L1369.9 175.1L1370.5 177.4L1371.1 179.2L1371.6 176.4L1372.2 173.5L1372.7 170.6L1373.3 167.8L1373.8 165L1374.4 162.1L1374.9 159.3L1375.5 156.4L1376 153.6L1376.6 154.6L1377.2 156.8L1377.7 158.9L1378.3 160.5L1378.8 157.8L1379.4 155L1379.9 152.3L1380.5 149.5L1381 146.8L1381.6 144.1L1382.1 141.3L1382.7 138.6L1383.3 135.9L1383.8 136.7L1384.4 138.8L1384.9 140.8L1385.5 142.8L1386 141.3L1386.6 138.7L1387.1 136.1L1387.7 133.4L1388.2 130.8L1388.8 128.2L1389.3 125.5L1389.9 122.9L1390.5 120.3L1391 119.5L1391.6 121.5L1392.1 123.5L1392.7 125.5L1393.2 127.6L1393.8 125.2L1394.3 122.6L1394.9 120.1L1395.4 117.5L1396 114.9L1396.6 112.3L1397.1 109.6L1397.7 106.9L1398.2 104.2L1398.8 104.7L1399.3 107L1399.9 109.3L1400.4 111.6L1401 114.1L1401.5 113.1L1402.1 110.5L1402.7 107.8L1403.2 105.1L1403.8 102.3L1404.3 99.5L1404.9 96.5L1405.4 93.5L1406 90.4L1406.5 90.2L1407.1 93.1L1407.6 96.1L1408.2 99.2L1408.8 102.5L1409.3 105.9L1409.9 103.6L1410.4 100.5L1411 97.4L1411.5 94.1L1412.1 90.7L1412.6 87.1L1413.2 83.5L1413.7 79.6L1414.3 75.7L1414.8 78.9L1415.4 82.9L1416 87.1L1416.5 91.4L1417.1 95.9L1417.6 100.5L1418.2 99.8L1418.7 95.9L1419.3 91.9L1419.8 87.7L1420.4 83.3L1420.9 78.8L1421.5 74.1L1422.1 69.3L1422.6 64.3L1423.2 69.3L1423.7 74.4L1424.3 79.6L1424.8 85L1425.4 90.4L1425.9 95.9L1426.5 101.4L1427 96.6L1427.6 91.6L1428.2 86.4L1428.7 81.1L1429.3 75.7L1429.8 70.2L1430.4 64.6L1430.9 59L1431.5 62.9L1432 68.6L1432.6 74.4L1433.1 80.1L1433.7 85.7L1434.2 91.3L1434.8 96.9L1435.4 100.6L1435.9 95L1436.5 89.4L1437 83.7L1437.6 78L1438.1 72.3L1438.7 66.7L1439.2 61L1439.8 62.5L1440.3 68L1440.9 73.4L1441.5 78.7L1442 83.8L1442.6 88.9L1443.1 93.7L1443.7 98.5L1444.2 99.5L1444.8 94.2L1445.3 88.9L1445.9 83.7L1446.4 78.6L1447 73.6L1447.6 68.8L1448.1 69L1448.7 73.6L1449.2 78.2L1449.8 82.5L1450.3 86.7L1450.9 90.8L1451.4 94.7L1452 98.4L1452.5 102L1453.1 99.3L1453.7 95.1L1454.2 90.9L1454.8 87L1455.3 83.2L1455.9 79.5L1456.4 80.8L1457 84.5L1457.5 88L1458.1 91.5L1458.6 94.7L1459.2 97.9L1459.7 101L1460.3 103.9L1460.9 106.8L1461.4 105.8L1462 102.8L1462.5 99.8L1463.1 97L1463.6 94.2L1464.2 92.6L1464.7 95.6L1465.3 98.6L1465.8 101.4L1466.4 104.2L1467 107L1467.5 109.6L1468.1 112.3L1468.6 114.8L1469.2 117.4L1469.7 115.3L1470.3 113L1470.8 110.8L1471.4 108.6L1471.9 107.1L1472.5 109.8L1473.1 112.4L1473.6 115.1L1474.2 117.7L1474.7 120.3L1475.3 122.9L1475.8 125.4L1476.4 128L1476.9 130.5L1477.5 129.5L1478 127.5L1478.6 125.5L1479.2 123.5L1479.7 123.7L1480.3 126.3L1480.8 129L1481.4 131.6L1481.9 134.3L1482.5 136.9L1483 139.6L1483.6 142.2L1484.1 144.9L1484.7 147L1485.2 145L1485.8 142.9L1486.4 140.9L1486.9 139.8L1487.5 142.5L1488 145.3L1488.6 148L1489.1 150.8L1489.7 153.6L1490.2 156.3L1490.8 159.1L1491.3 161.9L1491.9 164.7L1492.5 163.2L1493 161L1493.6 158.8L1494.1 158L1494.7 160.8L1495.2 163.7L1495.8 166.5L1496.3 169.4L1496.9 172.2L1497.4 175.1L1498 178L1498.6 180.9L1499.1 183.8L1499.7 181.7L1500.2 179.3L1500.8 176.9L1501.3 177.8L1501.9 180.7L1502.4 183.6L1503 186.6L1503.5 189.5L1504.1 192.5L1504.7 195.4L1505.2 198.4L1505.8 201.3L1506.3 202.7L1506.9 200.2L1507.4 197.6L1508 195.8L1508.5 198.8L1509.1 202L1509.6 205.2L1510.2 208.5L1510.7 211.6L1511.3 214.5L1511.9 217.4L1512.4 220.1L1513 222.6L1513.5 222.1L1514.1 221.2L1514.6 220.8L1515.2 222.9L1515.7 225.6L1516.3 228.2L1516.8 230.7L1517.4 233L1518 232.1L1518.5 229.9L1519.1 227.5L1519.6 224.9L1520.2 222.2L1520.7 219.4L1521.3 216.5L1521.8 214.9L1522.4 216L1522.9 217.4L1523.5 217.9L1524.1 215.1L1524.6 212.2L1525.2 209.2L1525.7 206L1526.3 202.8L1526.8 199.8L1527.4 196.8L1527.9 193.9L1528.5 190.9L1529 193.4L1529.6 195.9L1530.1 198.3L1530.7 196.5L1531.3 193.6L1531.8 190.7L1532.4 187.7L1532.9 184.8L1533.5 181.9L1534 178.9L1534.6 176L1535.1 173.1L1535.7 172.7L1536.2 175.1L1536.8 177.4L1537.4 179.2L1537.9 176.4L1538.5 173.5L1539 170.6L1539.6 167.8L1540.1 165L1540.7 162.1L1541.2 159.3L1541.8 156.4L1542.3 153.6L1542.9 154.6L1543.5 156.8L1544 158.9L1544.6 160.5L1545.1 157.8L1545.7 155L1546.2 152.3L1546.8 149.5L1547.3 146.8L1547.9 144.1L1548.4 141.3L1549 138.6L1549.6 135.9L1550.1 136.7L1550.7 138.8L1551.2 140.8L1551.8 142.8L1552.3 141.3L1552.9 138.7L1553.4 136.1L1554 133.4L1554.5 130.8L1555.1 128.2L1555.6 125.5L1556.2 122.9L1556.8 120.3L1557.3 119.5L1557.9 121.5L1558.4 123.5L1559 125.5L1559.5 127.6L1560.1 125.2L1560.6 122.6L1561.2 120.1L1561.7 117.5L1562.3 114.9L1562.9 112.3L1563.4 109.6L1564 106.9L1564.5 104.2L1565.1 104.7L1565.6 107L1566.2 109.3L1566.7 111.6L1567.3 114.1L1567.8 113.1L1568.4 110.5L1569 107.8L1569.5 105.1L1570.1 102.3L1570.6 99.5L1571.2 96.5L1571.7 93.5L1572.3 90.4L1572.8 90.2L1573.4 93.1L1573.9 96.1L1574.5 99.2L1575.1 102.5L1575.6 105.9L1576.2 103.6L1576.7 100.5L1577.3 97.4L1577.8 94.1L1578.4 90.7L1578.9 87.1L1579.5 83.5L1580 79.6L1580.6 75.7L1581.1 78.9L1581.7 82.9L1582.3 87.1L1582.8 91.4L1583.4 95.9L1583.9 100.5L1584.5 99.8L1585 95.9L1585.6 91.9L1586.1 87.7L1586.7 83.3L1587.2 78.8L1587.8 74.1L1588.4 69.3L1588.9 64.3L1589.5 69.3L1590 74.4L1590.6 79.6L1591.1 85L1591.7 90.4L1592.2 95.9L1592.8 101.4L1593.3 96.6L1593.9 91.6L1594.5 86.4L1595 81.1L1595.6 75.7L1596.1 70.2L1596.7 64.6L1597.2 59L1597.8 62.9L1598.3 68.6L1598.9 74.4L1599.4 80.1L1600 85.7L1600.5 91.3L1601.1 96.9L1601.7 100.6L1602.2 95L1602.8 89.4L1603.3 83.7L1603.9 78L1604.4 72.3L1605 66.7L1605.5 61L1606.1 62.5L1606.6 68L1607.2 73.4L1607.8 78.7L1608.3 83.8L1608.9 88.9L1609.4 93.7L1610 98.5L1610.5 99.5L1611.1 94.2L1611.6 88.9L1612.2 83.7L1612.7 78.6L1613.3 73.6L1613.9 68.8L1614.4 69L1615 73.6L1615.5 78.2L1616.1 82.5L1616.6 86.7L1617.2 90.8L1617.7 94.7L1618.3 98.4L1618.8 102L1619.4 99.3L1620 95.1L1620.5 90.9L1621.1 87L1621.6 83.2L1622.2 79.5L1622.7 80.8L1623.3 84.5L1623.8 88L1624.4 91.5L1624.9 94.7L1625.5 97.9L1626 101L1626.6 103.9L1627.2 106.8L1627.7 105.8L1628.3 102.8L1628.8 99.8L1629.4 97L1629.9 94.2L1630.5 92.6L1631 95.6L1631.6 98.6L1632.1 101.4L1632.7 104.2L1633.3 107L1633.8 109.6L1634.4 112.3L1634.9 114.8L1635.5 117.4L1636 115.3L1636.6 113L1637.1 110.8L1637.7 108.6L1638.2 107.1L1638.8 109.8L1639.4 112.4L1639.9 115.1L1640.5 117.7L1641 120.3L1641.6 122.9L1642.1 125.4L1642.7 128L1643.2 130.5L1643.8 129.5L1644.3 127.5L1644.9 125.5L1645.5 123.5L1646 123.7L1646.6 126.3L1647.1 129L1647.7 131.6L1648.2 134.3L1648.8 136.9L1649.3 139.6L1649.9 142.2L1650.4 144.9L1651 147L1651.5 145L1652.1 142.9L1652.7 140.9L1653.2 139.8L1653.8 142.5L1654.3 145.3L1654.9 148L1655.4 150.8L1656 153.6L1656.5 156.3L1657.1 159.1L1657.6 161.9L1658.2 164.7L1658.8 163.2L1659.3 161L1659.9 158.8L1660.4 158L1661 160.8L1661.5 163.7L1662.1 166.5L1662.6 169.4L1663.2 172.2L1663.7 175.1L1664.3 178L1664.9 180.9L1665.4 183.8L1666 181.7L1666.5 179.3L1667.1 176.9L1667.6 177.8L1668.2 180.7L1668.7 183.6L1669.3 186.6L1669.8 189.5L1670.4 192.5L1671 195.4L1671.5 198.4L1672.1 201.3L1672.6 202.7L1673.2 200.2L1673.7 197.6L1674.3 195.8L1674.8 198.8L1675.4 202L1675.9 205.2L1676.5 208.5L1677 211.6L1677.6 214.5L1678.2 217.4L1678.7 220.1L1679.3 222.6L1679.8 222.1L1680.4 221.2L1680.9 220.8L1681.5 222.9L1682 225.6L1682.6 228.2L1683.1 230.7L1683.7 233L1684.3 232.1L1684.8 229.9L1685.4 227.5L1685.9 224.9L1686.5 222.2L1687 219.4L1687.6 216.5L1688.1 214.9L1688.7 216L1689.2 217.4L1689.8 217.9L1690.4 215.1L1690.9 212.2L1691.5 209.2L1692 206L1692.6 202.8L1693.1 199.8L1693.7 196.8L1694.2 193.9L1694.8 190.9L1695.3 193.4L1695.9 195.9L1696.4 198.3L1697 196.5L1697.6 193.6L1698.1 190.7L1698.7 187.7L1699.2 184.8L1699.8 181.9L1700.3 178.9L1700.9 176L1701.4 173.1L1702 172.7L1702.5 175.1L1703.1 177.4L1703.7 179.2L1704.2 176.4L1704.8 173.5L1705.3 170.6L1705.9 167.8L1706.4 165L1707 162.1L1707.5 159.3L1708.1 156.4L1708.6 153.6L1709.2 154.6L1709.8 156.8L1710.3 158.9L1710.9 160.5L1711.4 157.8L1712 155L1712.5 152.3L1713.1 149.5L1713.6 146.8L1714.2 144.1L1714.7 141.3L1715.3 138.6L1715.9 135.9L1716.4 136.7L1717 138.8L1717.5 140.8L1718.1 142.8L1718.6 141.3L1719.2 138.7L1719.7 136.1L1720.3 133.4L1720.8 130.8L1721.4 128.2L1721.9 125.5L1722.5 122.9L1723.1 120.3L1723.6 119.5L1724.2 121.5L1724.7 123.5L1725.3 125.5L1725.8 127.6L1726.4 125.2L1726.9 122.6L1727.5 120.1L1728 117.5L1728.6 114.9L1729.2 112.3L1729.7 109.6L1730.3 106.9L1730.8 104.2L1731.4 104.7L1731.9 107L1732.5 109.3L1733 111.6L1733.6 114.1L1734.1 113.1L1734.7 110.5L1735.3 107.8L1735.8 105.1L1736.4 102.3L1736.9 99.5L1737.5 96.5L1738 93.5L1738.6 90.4L1739.1 90.2L1739.7 93.1L1740.2 96.1L1740.8 99.2L1741.4 102.5L1741.9 105.9L1742.5 103.6L1743 100.5L1743.6 97.4L1744.1 94.1L1744.7 90.7L1745.2 87.1L1745.8 83.5L1746.3 79.6L1746.9 75.7L1747.4 78.9L1748 82.9L1748.6 87.1L1749.1 91.4L1749.7 95.9L1750.2 100.5L1750.8 99.8L1751.3 95.9L1751.9 91.9L1752.4 87.7L1753 83.3L1753.5 78.8L1754.1 74.1L1754.7 69.3L1755.2 64.3L1755.8 69.3L1756.3 74.4L1756.9 79.6L1757.4 85L1758 90.4L1758.5 95.9L1759.1 101.4L1759.6 96.6L1760.2 91.6L1760.8 86.4L1761.3 81.1L1761.9 75.7L1762.4 70.2L1763 64.6L1763.5 59L1764.1 62.9L1764.6 68.6L1765.2 74.4L1765.7 80.1L1766.3 85.7L1766.8 91.3L1767.4 96.9L1768 100.6L1768.5 95L1769.1 89.4L1769.6 83.7L1770.2 78L1770.7 72.3L1771.3 66.7L1771.8 61L1772.4 62.5L1772.9 68L1773.5 73.4L1774.1 78.7L1774.6 83.8L1775.2 88.9L1775.7 93.7L1776.3 98.5L1776.8 99.5L1777.4 94.2L1777.9 88.9L1778.5 83.7L1779 78.6L1779.6 73.6L1780.2 68.8L1780.7 69L1781.3 73.6L1781.8 78.2L1782.4 82.5L1782.9 86.7L1783.5 90.8L1784 94.7L1784.6 98.4L1785.1 102L1785.7 99.3L1786.3 95.1L1786.8 90.9L1787.4 87L1787.9 83.2L1788.5 79.5L1789 80.8L1789.6 84.5L1790.1 88L1790.7 91.5L1791.2 94.7L1791.8 97.9L1792.3 101L1792.9 103.9L1793.5 106.8L1794 105.8L1794.6 102.8L1795.1 99.8L1795.7 97L1796.2 94.2L1796.8 92.6L1797.3 95.6L1797.9 98.6L1798.4 101.4L1799 104.2L1799.6 107L1800.1 109.6L1800.7 112.3L1801.2 114.8L1801.8 117.4L1802.3 115.3L1802.9 113L1803.4 110.8L1804 108.6L1804.5 107.1L1805.1 109.8L1805.7 112.4L1806.2 115.1L1806.8 117.7L1807.3 120.3L1807.9 122.9L1808.4 125.4L1809 128L1809.5 130.5L1810.1 129.5L1810.6 127.5L1811.2 125.5L1811.8 123.5L1812.3 123.7L1812.9 126.3L1813.4 129L1814 131.6L1814.5 134.3L1815.1 136.9L1815.6 139.6L1816.2 142.2L1816.7 144.9L1817.3 147L1817.8 145L1818.4 142.9L1819 140.9L1819.5 139.8L1820.1 142.5L1820.6 145.3L1821.2 148L1821.7 150.8L1822.3 153.6L1822.8 156.3L1823.4 159.1L1823.9 161.9L1824.5 164.7L1825.1 163.2L1825.6 161L1826.2 158.8L1826.7 158L1827.3 160.8L1827.8 163.7L1828.4 166.5L1828.9 169.4L1829.5 172.2L1830 175.1L1830.6 178L1831.2 180.9L1831.7 183.8L1832.3 181.7L1832.8 179.3L1833.4 176.9L1833.9 177.8L1834.5 180.7L1835 183.6L1835.6 186.6L1836.1 189.5L1836.7 192.5L1837.3 195.4L1837.8 198.4L1838.4 201.3L1838.9 202.7L1839.5 200.2L1840 197.6L1840.6 195.8L1841.1 198.8L1841.7 202L1842.2 205.2L1842.8 208.5L1843.3 211.6L1843.9 214.5L1844.5 217.4L1845 220.1L1845.6 222.6L1846.1 222.1L1846.7 221.2L1847.2 220.8L1847.8 222.9L1848.3 225.6L1848.9 228.2L1849.4 230.7L1850 233" stroke="#00ff00" stroke-width="4.4"/>
<path d="M187 419L188.7 414.2L190.3 409.5L192 404.7L193.7 400L195.3 395.3L197 390.6L198.6 385.9L200.3 381.3L202 376.7L203.6 372.2L205.3 367.7L207 363.2L208.6 358.8L210.3 354.5L211.9 350.2L213.6 346L215.3 341.8L216.9 337.8L218.6 333.8L220.3 329.9L221.9 326.1L223.6 322.4L225.2 318.8L226.9 315.2L228.6 311.8L230.2 308.5L231.9 305.3L233.6 302.2L235.2 299.2L236.9 296.4L238.6 293.6L240.2 291L241.9 288.5L243.5 286.2L245.2 283.9L246.9 281.8L248.5 279.9L250.2 278.1L251.9 276.4L253.5 274.8L255.2 273.4L256.8 272.2L258.5 271.1L260.2 270.1L261.8 269.3L263.5 268.6L265.2 268.1L266.8 267.7L268.5 267.5L270.2 267.4L271.8 267.5L273.5 267.7L275.1 268.1L276.8 268.6L278.5 269.3L280.1 270.1L281.8 271.1L283.5 272.2L285.1 273.4L286.8 274.8L288.4 276.4L290.1 278.1L291.8 279.9L293.4 281.8L295.1 283.9L296.8 286.2L298.4 288.5L300.1 291L301.7 293.6L303.4 296.4L305.1 299.2L306.7 302.2L308.4 305.3L310.1 308.5L311.7 311.8L313.4 315.2L315.1 318.8L316.7 322.4L318.4 326.1L320 329.9L321.7 333.8L323.4 337.8L325 341.8L326.7 346L328.4 350.2L330 354.5L331.7 358.8L333.3 363.2L335 367.7L336.7 372.2L338.3 376.7L340 381.3L341.7 385.9L343.3 390.6L345 395.3L346.6 400L348.3 404.7L350 409.5L351.6 414.2L353.3 419L355 423.8L356.6 428.5L358.3 433.3L360 438L361.6 442.7L363.3 447.4L364.9 452.1L366.6 456.7L368.3 461.3L369.9 465.8L371.6 470.3L373.3 474.8L374.9 479.2L376.6 483.5L378.2 487.8L379.9 492L381.6 496.2L383.2 500.2L384.9 504.2L386.6 508.1L388.2 511.9L389.9 515.6L391.5 519.2L393.2 522.8L394.9 526.2L396.5 529.5L398.2 532.7L399.9 535.8L401.5 538.8L403.2 541.6L404.9 544.4L406.5 547L408.2 549.5L409.8 551.8L411.5 554.1L413.2 556.2L414.8 558.1L416.5 559.9L418.2 561.6L419.8 563.2L421.5 564.6L423.1 565.8L424.8 566.9L426.5 567.9L428.1 568.7L429.8 569.4L431.5 569.9L433.1 570.3L434.8 570.5L436.5 570.6L438.1 570.5L439.8 570.3L441.4 569.9L443.1 569.4L444.8 568.7L446.4 567.9L448.1 566.9L449.8 565.8L451.4 564.6L453.1 563.2L454.7 561.6L456.4 559.9L458.1 558.1L459.7 556.2L461.4 554.1L463.1 551.8L464.7 549.5L466.4 547L468 544.4L469.7 541.6L471.4 538.8L473 535.8L474.7 532.7L476.4 529.5L478 526.2L479.7 522.8L481.4 519.2L483 515.6L484.7 511.9L486.3 508.1L488 504.2L489.7 500.2L491.3 496.2L493 492L494.7 487.8L496.3 483.5L498 479.2L499.6 474.8L501.3 470.3L503 465.8L504.6 461.3L506.3 456.7L508 452.1L509.6 447.4L511.3 442.7L512.9 438L514.6 433.3L516.3 428.5L517.9 423.8L519.6 419L521.3 414.2L522.9 409.5L524.6 404.7L526.3 400L527.9 395.3L529.6 390.6L531.2 385.9L532.9 381.3L534.6 376.7L536.2 372.2L537.9 367.7L539.6 363.2L541.2 358.8L542.9 354.5L544.5 350.2L546.2 346L547.9 341.8L549.5 337.8L551.2 333.8L552.9 329.9L554.5 326.1L556.2 322.4L557.8 318.8L559.5 315.2L561.2 311.8L562.8 308.5L564.5 305.3L566.2 302.2L567.8 299.2L569.5 296.4L571.2 293.6L572.8 291L574.5 288.5L576.1 286.2L577.8 283.9L579.5 281.8L581.1 279.9L582.8 278.1L584.5 276.4L586.1 274.8L587.8 273.4L589.4 272.2L591.1 271.1L592.8 270.1L594.4 269.3L596.1 268.6L597.8 268.1L599.4 267.7L601.1 267.5L602.8 267.4L604.4 267.5L606.1 267.7L607.7 268.1L609.4 268.6L611.1 269.3L612.7 270.1L614.4 271.1L616.1 272.2L617.7 273.4L619.4 274.8L621 276.4L622.7 278.1L624.4 279.9L626 281.8L627.7 283.9L629.4 286.2L631 288.5L632.7 291L634.3 293.6L636 296.4L637.7 299.2L639.3 302.2L641 305.3L642.7 308.5L644.3 311.8L646 315.2L647.7 318.8L649.3 322.4L651 326.1L652.6 329.9L654.3 333.8L656 337.8L657.6 341.8L659.3 346L661 350.2L662.6 354.5L664.3 358.8L665.9 363.2L667.6 367.7L669.3 372.2L670.9 376.7L672.6 381.3L674.3 385.9L675.9 390.6L677.6 395.3L679.2 400L680.9 404.7L682.6 409.5L684.2 414.2L685.9 419L687.6 423.8L689.2 428.5L690.9 433.3L692.6 438L694.2 442.7L695.9 447.4L697.5 452.1L699.2 456.7L700.9 461.3L702.5 465.8L704.2 470.3L705.9 474.8L707.5 479.2L709.2 483.5L710.8 487.8L712.5 492L714.2 496.2L715.8 500.2L717.5 504.2L719.2 508.1L720.8 511.9L722.5 515.6L724.1 519.2L725.8 522.8L727.5 526.2L729.1 529.5L730.8 532.7L732.5 535.8L734.1 538.8L735.8 541.6L737.5 544.4L739.1 547L740.8 549.5L742.4 551.8L744.1 554.1L745.8 556.2L747.4 558.1L749.1 559.9L750.8 561.6L752.4 563.2L754.1 564.6L755.7 565.8L757.4 566.9L759.1 567.9L760.7 568.7L762.4 569.4L764.1 569.9L765.7 570.3L767.4 570.5L769.1 570.6L770.7 570.5L772.4 570.3L774 569.9L775.7 569.4L777.4 568.7L779 567.9L780.7 566.9L782.4 565.8L784 564.6L785.7 563.2L787.3 561.6L789 559.9L790.7 558.1L792.3 556.2L794 554.1L795.7 551.8L797.3 549.5L799 547L800.6 544.4L802.3 541.6L804 538.8L805.6 535.8L807.3 532.7L809 529.5L810.6 526.2L812.3 522.8L814 519.2L815.6 515.6L817.3 511.9L818.9 508.1L820.6 504.2L822.3 500.2L823.9 496.2L825.6 492L827.3 487.8L828.9 483.5L830.6 479.2L832.2 474.8L833.9 470.3L835.6 465.8L837.2 461.3L838.9 456.7L840.6 452.1L842.2 447.4L843.9 442.7L845.5 438L847.2 433.3L848.9 428.5L850.5 423.8L852.2 419L853.9 414.2L855.5 409.5L857.2 404.7L858.9 400L860.5 395.3L862.2 390.6L863.8 385.9L865.5 381.3L867.2 376.7L868.8 372.2L870.5 367.7L872.2 363.2L873.8 358.8L875.5 354.5L877.1 350.2L878.8 346L880.5 341.8L882.1 337.8L883.8 333.8L885.5 329.9L887.1 326.1L888.8 322.4L890.4 318.8L892.1 315.2L893.8 311.8L895.4 308.5L897.1 305.3L898.8 302.2L900.4 299.2L902.1 296.4L903.8 293.6L905.4 291L907.1 288.5L908.7 286.2L910.4 283.9L912.1 281.8L913.7 279.9L915.4 278.1L917.1 276.4L918.7 274.8L920.4 273.4L922 272.2L923.7 271.1L925.4 270.1L927 269.3L928.7 268.6L930.4 268.1L932 267.7L933.7 267.5L935.4 267.4L937 267.5L938.7 267.7L940.3 268.1L942 268.6L943.7 269.3L945.3 270.1L947 271.1L948.7 272.2L950.3 273.4L952 274.8L953.6 276.4L955.3 278.1L957 279.9L958.6 281.8L960.3 283.9L962 286.2L963.6 288.5L965.3 291L966.9 293.6L968.6 296.4L970.3 299.2L971.9 302.2L973.6 305.3L975.3 308.5L976.9 311.8L978.6 315.2L980.3 318.8L981.9 322.4L983.6 326.1L985.2 329.9L986.9 333.8L988.6 337.8L990.2 341.8L991.9 346L993.6 350.2L995.2 354.5L996.9 358.8L998.5 363.2L1000.2 367.7L1001.9 372.2L1003.5 376.7L1005.2 381.3L1006.9 385.9L1008.5 390.6L1010.2 395.3L1011.8 400L1013.5 404.7L1015.2 409.5L1016.8 414.2L1018.5 419L1020.2 423.8L1021.8 428.5L1023.5 433.3L1025.2 438L1026.8 442.7L1028.5 447.4L1030.1 452.1L1031.8 456.7L1033.5 461.3L1035.1 465.8L1036.8 470.3L1038.5 474.8L1040.1 479.2L1041.8 483.5L1043.4 487.8L1045.1 492L1046.8 496.2L1048.4 500.2L1050.1 504.2L1051.8 508.1L1053.4 511.9L1055.1 515.6L1056.7 519.2L1058.4 522.8L1060.1 526.2L1061.7 529.5L1063.4 532.7L1065.1 535.8L1066.7 538.8L1068.4 541.6L1070.1 544.4L1071.7 547L1073.4 549.5L1075 551.8L1076.7 554.1L1078.4 556.2L1080 558.1L1081.7 559.9L1083.4 561.6L1085 563.2L1086.7 564.6L1088.3 565.8L1090 566.9L1091.7 567.9L1093.3 568.7L1095 569.4L1096.7 569.9L1098.3 570.3L1100 570.5L1101.7 570.6L1103.3 570.5L1105 570.3L1106.6 569.9L1108.3 569.4L1110 568.7L1111.6 567.9L1113.3 566.9L1115 565.8L1116.6 564.6L1118.3 563.2L1119.9 561.6L1121.6 559.9L1123.3 558.1L1124.9 556.2L1126.6 554.1L1128.3 551.8L1129.9 549.5L1131.6 547L1133.2 544.4L1134.9 541.6L1136.6 538.8L1138.2 535.8L1139.9 532.7L1141.6 529.5L1143.2 526.2L1144.9 522.8L1146.6 519.2L1148.2 515.6L1149.9 511.9L1151.5 508.1L1153.2 504.2L1154.9 500.2L1156.5 496.2L1158.2 492L1159.9 487.8L1161.5 483.5L1163.2 479.2L1164.8 474.8L1166.5 470.3L1168.2 465.8L1169.8 461.3L1171.5 456.7L1173.2 452.1L1174.8 447.4L1176.5 442.7L1178.1 438L1179.8 433.3L1181.5 428.5L1183.1 423.8L1184.8 419L1186.5 414.2L1188.1 409.5L1189.8 404.7L1191.5 400L1193.1 395.3L1194.8 390.6L1196.4 385.9L1198.1 381.3L1199.8 376.7L1201.4 372.2L1203.1 367.7L1204.8 363.2L1206.4 358.8L1208.1 354.5L1209.7 350.2L1211.4 346L1213.1 341.8L1214.7 337.8L1216.4 333.8L1218.1 329.9L1219.7 326.1L1221.4 322.4L1223 318.8L1224.7 315.2L1226.4 311.8L1228 308.5L1229.7 305.3L1231.4 302.2L1233 299.2L1234.7 296.4L1236.4 293.6L1238 291L1239.7 288.5L1241.3 286.2L1243 283.9L1244.7 281.8L1246.3 279.9L1248 278.1L1249.7 276.4L1251.3 274.8L1253 273.4L1254.6 272.2L1256.3 271.1L1258 270.1L1259.6 269.3L1261.3 268.6L1263 268.1L1264.6 267.7L1266.3 267.5L1268 267.4L1269.6 267.5L1271.3 267.7L1272.9 268.1L1274.6 268.6L1276.3 269.3L1277.9 270.1L1279.6 271.1L1281.3 272.2L1282.9 273.4L1284.6 274.8L1286.2 276.4L1287.9 278.1L1289.6 279.9L1291.2 281.8L1292.9 283.9L1294.6 286.2L1296.2 288.5L1297.9 291L1299.5 293.6L1301.2 296.4L1302.9 299.2L1304.5 302.2L1306.2 305.3L1307.9 308.5L1309.5 311.8L1311.2 315.2L1312.9 318.8L1314.5 322.4L1316.2 326.1L1317.8 329.9L1319.5 333.8L1321.2 337.8L1322.8 341.8L1324.5 346L1326.2 350.2L1327.8 354.5L1329.5 358.8L1331.1 363.2L1332.8 367.7L1334.5 372.2L1336.1 376.7L1337.8 381.3L1339.5 385.9L1341.1 390.6L1342.8 395.3L1344.4 400L1346.1 404.7L1347.8 409.5L1349.4 414.2L1351.1 419L1352.8 423.8L1354.4 428.5L1356.1 433.3L1357.8 438L1359.4 442.7L1361.1 447.4L1362.7 452.1L1364.4 456.7L1366.1 461.3L1367.7 465.8L1369.4 470.3L1371.1 474.8L1372.7 479.2L1374.4 483.5L1376 487.8L1377.7 492L1379.4 496.2L1381 500.2L1382.7 504.2L1384.4 508.1L1386 511.9L1387.7 515.6L1389.3 519.2L1391 522.8L1392.7 526.2L1394.3 529.5L1396 532.7L1397.7 535.8L1399.3 538.8L1401 541.6L1402.7 544.4L1404.3 547L1406 549.5L1407.6 551.8L1409.3 554.1L1411 556.2L1412.6 558.1L1414.3 559.9L1416 561.6L1417.6 563.2L1419.3 564.6L1420.9 565.8L1422.6 566.9L1424.3 567.9L1425.9 568.7L1427.6 569.4L1429.3 569.9L1430.9 570.3L1432.6 570.5L1434.2 570.6L1435.9 570.5L1437.6 570.3L1439.2 569.9L1440.9 569.4L1442.6 568.7L1444.2 567.9L1445.9 566.9L1447.6 565.8L1449.2 564.6L1450.9 563.2L1452.5 561.6L1454.2 559.9L1455.9 558.1L1457.5 556.2L1459.2 554.1L1460.9 551.8L1462.5 549.5L1464.2 547L1465.8 544.4L1467.5 541.6L1469.2 538.8L1470.8 535.8L1472.5 532.7L1474.2 529.5L1475.8 526.2L1477.5 522.8L1479.2 519.2L1480.8 515.6L1482.5 511.9L1484.1 508.1L1485.8 504.2L1487.5 500.2L1489.1 496.2L1490.8 492L1492.5 487.8L1494.1 483.5L1495.8 479.2L1497.4 474.8L1499.1 470.3L1500.8 465.8L1502.4 461.3L1504.1 456.7L1505.8 452.1L1507.4 447.4L1509.1 442.7L1510.7 438L1512.4 433.3L1514.1 428.5L1515.7 423.8L1517.4 419L1519.1 414.2L1520.7 409.5L1522.4 404.7L1524.1 400L1525.7 395.3L1527.4 390.6L1529 385.9L1530.7 381.3L1532.4 376.7L1534 372.2L1535.7 367.7L1537.4 363.2L1539 358.8L1540.7 354.5L1542.3 350.2L1544 346L1545.7 341.8L1547.3 337.8L1549 333.8L1550.7 329.9L1552.3 326.1L1554 322.4L1555.6 318.8L1557.3 315.2L1559 311.8L1560.6 308.5L1562.3 305.3L1564 302.2L1565.6 299.2L1567.3 296.4L1569 293.6L1570.6 291L1572.3 288.5L1573.9 286.2L1575.6 283.9L1577.3 281.8L1578.9 279.9L1580.6 278.1L1582.3 276.4L1583.9 274.8L1585.6 273.4L1587.2 272.2L1588.9 271.1L1590.6 270.1L1592.2 269.3L1593.9 268.6L1595.6 268.1L1597.2 267.7L1598.9 267.5L1600.5 267.4L1602.2 267.5L1603.9 267.7L1605.5 268.1L1607.2 268.6L1608.9 269.3L1610.5 270.1L1612.2 271.1L1613.9 272.2L1615.5 273.4L1617.2 274.8L1618.8 276.4L1620.5 278.1L1622.2 279.9L1623.8 281.8L1625.5 283.9L1627.2 286.2L1628.8 288.5L1630.5 291L1632.1 293.6L1633.8 296.4L1635.5 299.2L1637.1 302.2L1638.8 305.3L1640.5 308.5L1642.1 311.8L1643.8 315.2L1645.5 318.8L1647.1 322.4L1648.8 326.1L1650.4 329.9L1652.1 333.8L1653.8 337.8L1655.4 341.8L1657.1 346L1658.8 350.2L1660.4 354.5L1662.1 358.8L1663.7 363.2L1665.4 367.7L1667.1 372.2L1668.7 376.7L1670.4 381.3L1672.1 385.9L1673.7 390.6L1675.4 395.3L1677 400L1678.7 404.7L1680.4 409.5L1682 414.2L1683.7 419L1685.4 423.8L1687 428.5L1688.7 433.3L1690.4 438L1692 442.7L1693.7 447.4L1695.3 452.1L1697 456.7L1698.7 461.3L1700.3 465.8L1702 470.3L1703.7 474.8L1705.3 479.2L1707 483.5L1708.6 487.8L1710.3 492L1712 496.2L1713.6 500.2L1715.3 504.2L1717 508.1L1718.6 511.9L1720.3 515.6L1721.9 519.2L1723.6 522.8L1725.3 526.2L1726.9 529.5L1728.6 532.7L1730.3 535.8L1731.9 538.8L1733.6 541.6L1735.3 544.4L1736.9 547L1738.6 549.5L1740.2 551.8L1741.9 554.1L1743.6 556.2L1745.2 558.1L1746.9 559.9L1748.6 561.6L1750.2 563.2L1751.9 564.6L1753.5 565.8L1755.2 566.9L1756.9 567.9L1758.5 568.7L1760.2 569.4L1761.9 569.9L1763.5 570.3L1765.2 570.5L1766.8 570.6L1768.5 570.5L1770.2 570.3L1771.8 569.9L1773.5 569.4L1775.2 568.7L1776.8 567.9L1778.5 566.9L1780.2 565.8L1781.8 564.6L1783.5 563.2L1785.1 561.6L1786.8 559.9L1788.5 558.1L1790.1 556.2L1791.8 554.1L1793.5 551.8L1795.1 549.5L1796.8 547L1798.4 544.4L1800.1 541.6L1801.8 538.8L1803.4 535.8L1805.1 532.7L1806.8 529.5L1808.4 526.2L1810.1 522.8L1811.8 519.2L1813.4 515.6L1815.1 511.9L1816.7 508.1L1818.4 504.2L1820.1 500.2L1821.7 496.2L1823.4 492L1825.1 487.8L1826.7 483.5L1828.4 479.2L1830 474.8L1831.7 470.3L1833.4 465.8L1835 461.3L1836.7 456.7L1838.4 452.1L1840 447.4L1841.7 442.7L1843.3 438L1845 433.3L1846.7 428.5L1848.3 423.8L1850 419" stroke="#0000ff" stroke-width="5"/>
<path d="M187 418.2L187.6 419L188.1 419.8L188.7 420.7L189.2 421.5L189.8 422.4L190.3 422.6L190.9 422.6L191.4 422.5L192 422.5L192.5 422.4L193.1 422.3L193.7 422.8L194.2 423.7L194.8 424.7L195.3 425.7L195.9 426.6L196.4 427.6L197 428.2L197.5 428L198.1 427.9L198.6 427.7L199.2 427.5L199.7 427.3L200.3 427.3L200.9 428.3L201.4 429.3L202 430.4L202.5 431.5L203.1 432.6L203.6 433.7L204.2 433.5L204.7 433.2L205.3 432.9L205.8 432.6L206.4 432.3L207 431.9L207.5 432.5L208.1 433.6L208.6 434.7L209.2 435.9L209.7 437.1L210.3 438.2L210.8 439L211.4 438.6L211.9 438.2L212.5 437.8L213.1 437.4L213.6 436.9L214.2 436.4L214.7 437.3L215.3 438.5L215.8 439.7L216.4 440.9L216.9 442.2L217.5 443.4L218 444.1L218.6 443.6L219.2 443.1L219.7 442.5L220.3 442L220.8 441.4L221.4 440.8L221.9 441.5L222.5 442.8L223 444L223.6 445.3L224.1 446.6L224.7 447.8L225.2 449.1L225.8 448.5L226.4 447.8L226.9 447.2L227.5 446.5L228 445.8L228.6 445.1L229.1 444.9L229.7 446.2L230.2 447.5L230.8 448.8L231.3 450.1L231.9 451.4L232.5 452.7L233 453.2L233.6 452.5L234.1 451.7L234.7 451L235.2 450.2L235.8 449.4L236.3 448.7L236.9 448.7L237.4 449.9L238 451.2L238.6 452.5L239.1 453.8L239.7 455.1L240.2 456.4L240.8 457L241.3 456.2L241.9 455.4L242.4 454.5L243 453.7L243.5 452.8L244.1 451.9L244.7 451.3L245.2 452.5L245.8 453.8L246.3 455L246.9 456.3L247.4 457.6L248 458.8L248.5 460.1L249.1 459.6L249.6 458.7L250.2 457.8L250.7 456.8L251.3 455.9L251.9 455L252.4 454L253 453.9L253.5 455.2L254.1 456.4L254.6 457.6L255.2 458.8L255.7 460L256.3 461.2L256.8 462.4L257.4 461.6L258 460.6L258.5 459.6L259.1 458.6L259.6 457.6L260.2 456.5L260.7 455.5L261.3 455.4L261.8 456.5L262.4 457.7L262.9 458.9L263.5 460L264.1 461.2L264.6 462.3L265.2 463.5L265.7 462.8L266.3 461.8L266.8 460.7L267.4 459.6L267.9 458.5L268.5 457.4L269 456.3L269.6 455.7L270.2 456.8L270.7 457.9L271.3 459L271.8 460.1L272.4 461.2L272.9 462.3L273.5 463.4L274 463.1L274.6 462L275.1 460.8L275.7 459.7L276.2 458.5L276.8 457.4L277.4 456.2L277.9 455.1L278.5 456.1L279 457.1L279.6 458.2L280.1 459.2L280.7 460.2L281.2 461.2L281.8 462.2L282.3 462.2L282.9 461L283.5 459.8L284 458.6L284.6 457.4L285.1 456.2L285.7 455L286.2 453.8L286.8 454.7L287.3 455.6L287.9 456.6L288.4 457.5L289 458.5L289.6 459.4L290.1 460.3L290.7 460.1L291.2 458.8L291.8 457.6L292.3 456.3L292.9 455L293.4 453.8L294 452.5L294.5 451.8L295.1 452.6L295.6 453.5L296.2 454.4L296.8 455.3L297.3 456.1L297.9 457L298.4 457.8L299 456.5L299.5 455.2L300.1 454L300.6 452.7L301.2 451.4L301.7 450.1L302.3 448.9L302.9 449.4L303.4 450.2L304 451L304.5 451.7L305.1 452.5L305.6 453.3L306.2 454L306.7 453L307.3 451.7L307.8 450.4L308.4 449.1L309 447.9L309.5 446.6L310.1 445.3L310.6 445.9L311.2 446.6L311.7 447.3L312.3 447.9L312.8 448.6L313.4 449.3L313.9 449.7L314.5 448.4L315.1 447.1L315.6 445.8L316.2 444.6L316.7 443.3L317.3 442L317.8 441.5L318.4 442.2L318.9 442.7L319.5 443.3L320 443.9L320.6 444.4L321.1 445L321.7 444.1L322.3 442.8L322.8 441.6L323.4 440.4L323.9 439.1L324.5 437.9L325 437.2L325.6 437.7L326.1 438.1L326.7 438.6L327.2 439L327.8 439.5L328.4 439.9L328.9 439L329.5 437.8L330 436.6L330.6 435.5L331.1 434.3L331.7 433.2L332.2 432.7L332.8 433L333.3 433.4L333.9 433.7L334.5 434.1L335 434.4L335.6 434.5L336.1 433.4L336.7 432.3L337.2 431.2L337.8 430.1L338.3 429.1L338.9 428L339.4 428L340 428.3L340.6 428.5L341.1 428.7L341.7 428.9L342.2 429L342.8 428.5L343.3 427.5L343.9 426.5L344.4 425.5L345 424.6L345.5 423.6L346.1 423.1L346.6 423.2L347.2 423.3L347.8 423.4L348.3 423.4L348.9 423.5L349.4 423.4L350 422.4L350.5 421.5L351.1 420.7L351.6 419.8L352.2 419L352.7 418.2L353.3 418.2L353.9 418.2L354.4 418.2L355 418.2L355.5 418.3L356.1 418.4L356.6 417.7L357.2 416.9L357.7 416.1L358.3 415.2L358.8 414.3L359.4 413.4L360 413.1L360.5 413.2L361.1 413.4L361.6 413.5L362.2 413.7L362.7 413.9L363.3 413.7L363.8 412.7L364.4 411.8L364.9 410.8L365.5 409.8L366 408.8L366.6 408L367.2 408.3L367.7 408.5L368.3 408.8L368.8 409.1L369.4 409.4L369.9 409.8L370.5 408.8L371 407.8L371.6 406.7L372.1 405.6L372.7 404.5L373.3 403.4L373.8 403.2L374.4 403.6L374.9 404L375.5 404.4L376 404.8L376.6 405.3L377.1 405.4L377.7 404.2L378.2 403.1L378.8 402L379.4 400.8L379.9 399.6L380.5 398.4L381 398.6L381.6 399.1L382.1 399.6L382.7 400.2L383.2 400.7L383.8 401.3L384.3 401.3L384.9 400.1L385.5 398.9L386 397.7L386.6 396.5L387.1 395.3L387.7 394L388.2 394.1L388.8 394.7L389.3 395.3L389.9 396L390.4 396.6L391 397.3L391.5 397.9L392.1 396.7L392.7 395.4L393.2 394.2L393.8 393L394.3 391.7L394.9 390.4L395.4 389.7L396 390.4L396.5 391.1L397.1 391.8L397.6 392.6L398.2 393.3L398.8 394.1L399.3 394.1L399.9 392.9L400.4 391.6L401 390.3L401.5 389.1L402.1 387.8L402.6 386.5L403.2 386.1L403.7 386.9L404.3 387.7L404.9 388.5L405.4 389.3L406 390.2L406.5 391L407.1 391.3L407.6 390L408.2 388.8L408.7 387.5L409.3 386.3L409.8 385L410.4 383.8L411 382.7L411.5 383.6L412.1 384.5L412.6 385.4L413.2 386.3L413.7 387.2L414.3 388.1L414.8 389.1L415.4 388.3L415.9 387.1L416.5 385.8L417 384.6L417.6 383.4L418.2 382.2L418.7 380.9L419.3 380.6L419.8 381.6L420.4 382.5L420.9 383.5L421.5 384.5L422 385.5L422.6 386.5L423.1 387.5L423.7 386.5L424.3 385.3L424.8 384.1L425.4 382.9L425.9 381.7L426.5 380.5L427 379.4L427.6 379.1L428.1 380.1L428.7 381.2L429.2 382.2L429.8 383.3L430.4 384.3L430.9 385.4L431.5 386.5L432 385.7L432.6 384.6L433.1 383.5L433.7 382.3L434.2 381.2L434.8 380.1L435.3 379L435.9 378.3L436.5 379.4L437 380.5L437.6 381.6L438.1 382.8L438.7 383.9L439.2 385L439.8 386.1L440.3 385.9L440.9 384.9L441.4 383.8L442 382.7L442.5 381.7L443.1 380.6L443.7 379.5L444.2 378.5L444.8 379.7L445.3 380.8L445.9 382L446.4 383.2L447 384.4L447.5 385.5L448.1 386.7L448.6 386.9L449.2 385.9L449.8 384.9L450.3 383.9L450.9 382.9L451.4 381.9L452 380.9L452.5 379.9L453.1 381.1L453.6 382.3L454.2 383.5L454.7 384.7L455.3 385.9L455.9 387.2L456.4 388.4L457 388.4L457.5 387.5L458.1 386.5L458.6 385.6L459.2 384.7L459.7 383.8L460.3 382.9L460.8 382.4L461.4 383.7L461.9 385L462.5 386.2L463.1 387.5L463.6 388.7L464.2 390L464.7 391.2L465.3 390.4L465.8 389.5L466.4 388.6L466.9 387.8L467.5 387L468 386.1L468.6 385.3L469.2 386.3L469.7 387.6L470.3 388.8L470.8 390.1L471.4 391.4L471.9 392.6L472.5 393.9L473 393.4L473.6 392.6L474.1 391.9L474.7 391.1L475.3 390.4L475.8 389.6L476.4 388.9L476.9 390L477.5 391.3L478 392.6L478.6 393.8L479.1 395.1L479.7 396.3L480.2 397.3L480.8 396.6L481.4 395.9L481.9 395.3L482.5 394.6L483 394L483.6 393.4L484.1 393.5L484.7 394.7L485.2 396L485.8 397.2L486.3 398.4L486.9 399.6L487.4 400.8L488 400.6L488.6 400L489.1 399.4L489.7 398.9L490.2 398.4L490.8 397.9L491.3 397.8L491.9 399L492.4 400.2L493 401.3L493.5 402.5L494.1 403.6L494.7 404.8L495.2 404.6L495.8 404.1L496.3 403.7L496.9 403.3L497.4 402.9L498 402.5L498.5 402.7L499.1 403.8L499.6 404.9L500.2 406L500.8 407.1L501.3 408.2L501.9 409.1L502.4 408.7L503 408.4L503.5 408.1L504.1 407.8L504.6 407.5L505.2 407.2L505.7 408L506.3 409L506.9 410L507.4 411L508 412L508.5 413L509.1 413.2L509.6 413L510.2 412.8L510.7 412.6L511.3 412.5L511.8 412.3L512.4 412.6L512.9 413.5L513.5 414.4L514.1 415.3L514.6 416.2L515.2 417L515.7 417.7L516.3 417.6L516.8 417.5L517.4 417.4L517.9 417.4L518.5 417.4L519 417.4L519.6 418.2L520.2 419L520.7 419.8L521.3 420.7L521.8 421.5L522.4 422.4L522.9 422.6L523.5 422.6L524 422.5L524.6 422.5L525.1 422.4L525.7 422.3L526.3 422.8L526.8 423.7L527.4 424.7L527.9 425.7L528.5 426.6L529 427.6L529.6 428.2L530.1 428L530.7 427.9L531.2 427.7L531.8 427.5L532.3 427.3L532.9 427.3L533.5 428.3L534 429.3L534.6 430.4L535.1 431.5L535.7 432.6L536.2 433.7L536.8 433.5L537.3 433.2L537.9 432.9L538.4 432.6L539 432.3L539.6 431.9L540.1 432.5L540.7 433.6L541.2 434.7L541.8 435.9L542.3 437.1L542.9 438.2L543.4 439L544 438.6L544.5 438.2L545.1 437.8L545.7 437.4L546.2 436.9L546.8 436.4L547.3 437.3L547.9 438.5L548.4 439.7L549 440.9L549.5 442.2L550.1 443.4L550.6 444.1L551.2 443.6L551.8 443.1L552.3 442.5L552.9 442L553.4 441.4L554 440.8L554.5 441.5L555.1 442.8L555.6 444L556.2 445.3L556.7 446.6L557.3 447.8L557.8 449.1L558.4 448.5L559 447.8L559.5 447.2L560.1 446.5L560.6 445.8L561.2 445.1L561.7 444.9L562.3 446.2L562.8 447.5L563.4 448.8L563.9 450.1L564.5 451.4L565.1 452.7L565.6 453.2L566.2 452.5L566.7 451.7L567.3 451L567.8 450.2L568.4 449.4L568.9 448.7L569.5 448.7L570 449.9L570.6 451.2L571.2 452.5L571.7 453.8L572.3 455.1L572.8 456.4L573.4 457L573.9 456.2L574.5 455.4L575 454.5L575.6 453.7L576.1 452.8L576.7 451.9L577.3 451.3L577.8 452.5L578.4 453.8L578.9 455L579.5 456.3L580 457.6L580.6 458.8L581.1 460.1L581.7 459.6L582.2 458.7L582.8 457.8L583.3 456.8L583.9 455.9L584.5 455L585 454L585.6 453.9L586.1 455.2L586.7 456.4L587.2 457.6L587.8 458.8L588.3 460L588.9 461.2L589.4 462.4L590 461.6L590.6 460.6L591.1 459.6L591.7 458.6L592.2 457.6L592.8 456.5L593.3 455.5L593.9 455.4L594.4 456.5L595 457.7L595.5 458.9L596.1 460L596.7 461.2L597.2 462.3L597.8 463.5L598.3 462.8L598.9 461.8L599.4 460.7L600 459.6L600.5 458.5L601.1 457.4L601.6 456.3L602.2 455.7L602.8 456.8L603.3 457.9L603.9 459L604.4 460.1L605 461.2L605.5 462.3L606.1 463.4L606.6 463.1L607.2 462L607.7 460.8L608.3 459.7L608.8 458.5L609.4 457.4L610 456.2L610.5 455.1L611.1 456.1L611.6 457.1L612.2 458.2L612.7 459.2L613.3 460.2L613.8 461.2L614.4 462.2L614.9 462.2L615.5 461L616.1 459.8L616.6 458.6L617.2 457.4L617.7 456.2L618.3 455L618.8 453.8L619.4 454.7L619.9 455.6L620.5 456.6L621 457.5L621.6 458.5L622.2 459.4L622.7 460.3L623.3 460.1L623.8 458.8L624.4 457.6L624.9 456.3L625.5 455L626 453.8L626.6 452.5L627.1 451.8L627.7 452.6L628.2 453.5L628.8 454.4L629.4 455.3L629.9 456.1L630.5 457L631 457.8L631.6 456.5L632.1 455.2L632.7 454L633.2 452.7L633.8 451.4L634.3 450.1L634.9 448.9L635.5 449.4L636 450.2L636.6 451L637.1 451.7L637.7 452.5L638.2 453.3L638.8 454L639.3 453L639.9 451.7L640.4 450.4L641 449.1L641.6 447.9L642.1 446.6L642.7 445.3L643.2 445.9L643.8 446.6L644.3 447.3L644.9 447.9L645.4 448.6L646 449.3L646.5 449.7L647.1 448.4L647.7 447.1L648.2 445.8L648.8 444.6L649.3 443.3L649.9 442L650.4 441.5L651 442.2L651.5 442.7L652.1 443.3L652.6 443.9L653.2 444.4L653.7 445L654.3 444.1L654.9 442.8L655.4 441.6L656 440.4L656.5 439.1L657.1 437.9L657.6 437.2L658.2 437.7L658.7 438.1L659.3 438.6L659.8 439L660.4 439.5L661 439.9L661.5 439L662.1 437.8L662.6 436.6L663.2 435.5L663.7 434.3L664.3 433.2L664.8 432.7L665.4 433L665.9 433.4L666.5 433.7L667.1 434.1L667.6 434.4L668.2 434.5L668.7 433.4L669.3 432.3L669.8 431.2L670.4 430.1L670.9 429.1L671.5 428L672 428L672.6 428.3L673.2 428.5L673.7 428.7L674.3 428.9L674.8 429L675.4 428.5L675.9 427.5L676.5 426.5L677 425.5L677.6 424.6L678.1 423.6L678.7 423.1L679.2 423.2L679.8 423.3L680.4 423.4L680.9 423.4L681.5 423.5L682 423.4L682.6 422.4L683.1 421.5L683.7 420.7L684.2 419.8L684.8 419L685.3 418.2L685.9 418.2L686.5 418.2L687 418.2L687.6 418.2L688.1 418.3L688.7 418.4L689.2 417.7L689.8 416.9L690.3 416.1L690.9 415.2L691.4 414.3L692 413.4L692.6 413.1L693.1 413.2L693.7 413.4L694.2 413.5L694.8 413.7L695.3 413.9L695.9 413.7L696.4 412.7L697 411.8L697.5 410.8L698.1 409.8L698.6 408.8L699.2 408L699.8 408.3L700.3 408.5L700.9 408.8L701.4 409.1L702 409.4L702.5 409.8L703.1 408.8L703.6 407.8L704.2 406.7L704.7 405.6L705.3 404.5L705.9 403.4L706.4 403.2L707 403.6L707.5 404L708.1 404.4L708.6 404.8L709.2 405.3L709.7 405.4L710.3 404.2L710.8 403.1L711.4 402L712 400.8L712.5 399.6L713.1 398.4L713.6 398.6L714.2 399.1L714.7 399.6L715.3 400.2L715.8 400.7L716.4 401.3L716.9 401.3L717.5 400.1L718.1 398.9L718.6 397.7L719.2 396.5L719.7 395.3L720.3 394L720.8 394.1L721.4 394.7L721.9 395.3L722.5 396L723 396.6L723.6 397.3L724.1 397.9L724.7 396.7L725.3 395.4L725.8 394.2L726.4 393L726.9 391.7L727.5 390.4L728 389.7L728.6 390.4L729.1 391.1L729.7 391.8L730.2 392.6L730.8 393.3L731.4 394.1L731.9 394.1L732.5 392.9L733 391.6L733.6 390.3L734.1 389.1L734.7 387.8L735.2 386.5L735.8 386.1L736.3 386.9L736.9 387.7L737.5 388.5L738 389.3L738.6 390.2L739.1 391L739.7 391.3L740.2 390L740.8 388.8L741.3 387.5L741.9 386.3L742.4 385L743 383.8L743.6 382.7L744.1 383.6L744.7 384.5L745.2 385.4L745.8 386.3L746.3 387.2L746.9 388.1L747.4 389.1L748 388.3L748.5 387.1L749.1 385.8L749.6 384.6L750.2 383.4L750.8 382.2L751.3 380.9L751.9 380.6L752.4 381.6L753 382.5L753.5 383.5L754.1 384.5L754.6 385.5L755.2 386.5L755.7 387.5L756.3 386.5L756.9 385.3L757.4 384.1L758 382.9L758.5 381.7L759.1 380.5L759.6 379.4L760.2 379.1L760.7 380.1L761.3 381.2L761.8 382.2L762.4 383.3L763 384.3L763.5 385.4L764.1 386.5L764.6 385.7L765.2 384.6L765.7 383.5L766.3 382.3L766.8 381.2L767.4 380.1L767.9 379L768.5 378.3L769.1 379.4L769.6 380.5L770.2 381.6L770.7 382.8L771.3 383.9L771.8 385L772.4 386.1L772.9 385.9L773.5 384.9L774 383.8L774.6 382.7L775.1 381.7L775.7 380.6L776.3 379.5L776.8 378.5L777.4 379.7L777.9 380.8L778.5 382L779 383.2L779.6 384.4L780.1 385.5L780.7 386.7L781.2 386.9L781.8 385.9L782.4 384.9L782.9 383.9L783.5 382.9L784 381.9L784.6 380.9L785.1 379.9L785.7 381.1L786.2 382.3L786.8 383.5L787.3 384.7L787.9 385.9L788.5 387.2L789 388.4L789.6 388.4L790.1 387.5L790.7 386.5L791.2 385.6L791.8 384.7L792.3 383.8L792.9 382.9L793.4 382.4L794 383.7L794.5 385L795.1 386.2L795.7 387.5L796.2 388.7L796.8 390L797.3 391.2L797.9 390.4L798.4 389.5L799 388.6L799.5 387.8L800.1 387L800.6 386.1L801.2 385.3L801.8 386.3L802.3 387.6L802.9 388.8L803.4 390.1L804 391.4L804.5 392.6L805.1 393.9L805.6 393.4L806.2 392.6L806.7 391.9L807.3 391.1L807.9 390.4L808.4 389.6L809 388.9L809.5 390L810.1 391.3L810.6 392.6L811.2 393.8L811.7 395.1L812.3 396.3L812.8 397.3L813.4 396.6L814 395.9L814.5 395.3L815.1 394.6L815.6 394L816.2 393.4L816.7 393.5L817.3 394.7L817.8 396L818.4 397.2L818.9 398.4L819.5 399.6L820 400.8L820.6 400.6L821.2 400L821.7 399.4L822.3 398.9L822.8 398.4L823.4 397.9L823.9 397.8L824.5 399L825 400.2L825.6 401.3L826.1 402.5L826.7 403.6L827.3 404.8L827.8 404.6L828.4 404.1L828.9 403.7L829.5 403.3L830 402.9L830.6 402.5L831.1 402.7L831.7 403.8L832.2 404.9L832.8 406L833.4 407.1L833.9 408.2L834.5 409.1L835 408.7L835.6 408.4L836.1 408.1L836.7 407.8L837.2 407.5L837.8 407.2L838.3 408L838.9 409L839.5 410L840 411L840.6 412L841.1 413L841.7 413.2L842.2 413L842.8 412.8L843.3 412.6L843.9 412.5L844.4 412.3L845 412.6L845.5 413.5L846.1 414.4L846.7 415.3L847.2 416.2L847.8 417L848.3 417.7L848.9 417.6L849.4 417.5L850 417.4L850.5 417.4L851.1 417.4L851.6 417.4L852.2 418.2L852.8 419L853.3 419.8L853.9 420.7L854.4 421.5L855 422.4L855.5 422.6L856.1 422.6L856.6 422.5L857.2 422.5L857.7 422.4L858.3 422.3L858.9 422.8L859.4 423.7L860 424.7L860.5 425.7L861.1 426.6L861.6 427.6L862.2 428.2L862.7 428L863.3 427.9L863.8 427.7L864.4 427.5L864.9 427.3L865.5 427.3L866.1 428.3L866.6 429.3L867.2 430.4L867.7 431.5L868.3 432.6L868.8 433.7L869.4 433.5L869.9 433.2L870.5 432.9L871 432.6L871.6 432.3L872.2 431.9L872.7 432.5L873.3 433.6L873.8 434.7L874.4 435.9L874.9 437.1L875.5 438.2L876 439L876.6 438.6L877.1 438.2L877.7 437.8L878.3 437.4L878.8 436.9L879.4 436.4L879.9 437.3L880.5 438.5L881 439.7L881.6 440.9L882.1 442.2L882.7 443.4L883.2 444.1L883.8 443.6L884.4 443.1L884.9 442.5L885.5 442L886 441.4L886.6 440.8L887.1 441.5L887.7 442.8L888.2 444L888.8 445.3L889.3 446.6L889.9 447.8L890.4 449.1L891 448.5L891.6 447.8L892.1 447.2L892.7 446.5L893.2 445.8L893.8 445.1L894.3 444.9L894.9 446.2L895.4 447.5L896 448.8L896.5 450.1L897.1 451.4L897.7 452.7L898.2 453.2L898.8 452.5L899.3 451.7L899.9 451L900.4 450.2L901 449.4L901.5 448.7L902.1 448.7L902.6 449.9L903.2 451.2L903.8 452.5L904.3 453.8L904.9 455.1L905.4 456.4L906 457L906.5 456.2L907.1 455.4L907.6 454.5L908.2 453.7L908.7 452.8L909.3 451.9L909.9 451.3L910.4 452.5L911 453.8L911.5 455L912.1 456.3L912.6 457.6L913.2 458.8L913.7 460.1L914.3 459.6L914.8 458.7L915.4 457.8L915.9 456.8L916.5 455.9L917.1 455L917.6 454L918.2 453.9L918.7 455.2L919.3 456.4L919.8 457.6L920.4 458.8L920.9 460L921.5 461.2L922 462.4L922.6 461.6L923.2 460.6L923.7 459.6L924.3 458.6L924.8 457.6L925.4 456.5L925.9 455.5L926.5 455.4L927 456.5L927.6 457.7L928.1 458.9L928.7 460L929.3 461.2L929.8 462.3L930.4 463.5L930.9 462.8L931.5 461.8L932 460.7L932.6 459.6L933.1 458.5L933.7 457.4L934.2 456.3L934.8 455.7L935.4 456.8L935.9 457.9L936.5 459L937 460.1L937.6 461.2L938.1 462.3L938.7 463.4L939.2 463.1L939.8 462L940.3 460.8L940.9 459.7L941.4 458.5L942 457.4L942.6 456.2L943.1 455.1L943.7 456.1L944.2 457.1L944.8 458.2L945.3 459.2L945.9 460.2L946.4 461.2L947 462.2L947.5 462.2L948.1 461L948.7 459.8L949.2 458.6L949.8 457.4L950.3 456.2L950.9 455L951.4 453.8L952 454.7L952.5 455.6L953.1 456.6L953.6 457.5L954.2 458.5L954.8 459.4L955.3 460.3L955.9 460.1L956.4 458.8L957 457.6L957.5 456.3L958.1 455L958.6 453.8L959.2 452.5L959.7 451.8L960.3 452.6L960.8 453.5L961.4 454.4L962 455.3L962.5 456.1L963.1 457L963.6 457.8L964.2 456.5L964.7 455.2L965.3 454L965.8 452.7L966.4 451.4L966.9 450.1L967.5 448.9L968.1 449.4L968.6 450.2L969.2 451L969.7 451.7L970.3 452.5L970.8 453.3L971.4 454L971.9 453L972.5 451.7L973 450.4L973.6 449.1L974.2 447.9L974.7 446.6L975.3 445.3L975.8 445.9L976.4 446.6L976.9 447.3L977.5 447.9L978 448.6L978.6 449.3L979.1 449.7L979.7 448.4L980.3 447.1L980.8 445.8L981.4 444.6L981.9 443.3L982.5 442L983 441.5L983.6 442.2L984.1 442.7L984.7 443.3L985.2 443.9L985.8 444.4L986.3 445L986.9 444.1L987.5 442.8L988 441.6L988.6 440.4L989.1 439.1L989.7 437.9L990.2 437.2L990.8 437.7L991.3 438.1L991.9 438.6L992.4 439L993 439.5L993.6 439.9L994.1 439L994.7 437.8L995.2 436.6L995.8 435.5L996.3 434.3L996.9 433.2L997.4 432.7L998 433L998.5 433.4L999.1 433.7L999.7 434.1L1000.2 434.4L1000.8 434.5L1001.3 433.4L1001.9 432.3L1002.4 431.2L1003 430.1L1003.5 429.1L1004.1 428L1004.6 428L1005.2 428.3L1005.8 428.5L1006.3 428.7L1006.9 428.9L1007.4 429L1008 428.5L1008.5 427.5L1009.1 426.5L1009.6 425.5L1010.2 424.6L1010.7 423.6L1011.3 423.1L1011.8 423.2L1012.4 423.3L1013 423.4L1013.5 423.4L1014.1 423.5L1014.6 423.4L1015.2 422.4L1015.7 421.5L1016.3 420.7L1016.8 419.8L1017.4 419L1017.9 418.2L1018.5 418.2L1019.1 418.2L1019.6 418.2L1020.2 418.2L1020.7 418.3L1021.3 418.4L1021.8 417.7L1022.4 416.9L1022.9 416.1L1023.5 415.2L1024 414.3L1024.6 413.4L1025.2 413.1L1025.7 413.2L1026.3 413.4L1026.8 413.5L1027.4 413.7L1027.9 413.9L1028.5 413.7L1029 412.7L1029.6 411.8L1030.1 410.8L1030.7 409.8L1031.2 408.8L1031.8 408L1032.4 408.3L1032.9 408.5L1033.5 408.8L1034 409.1L1034.6 409.4L1035.1 409.8L1035.7 408.8L1036.2 407.8L1036.8 406.7L1037.3 405.6L1037.9 404.5L1038.5 403.4L1039 403.2L1039.6 403.6L1040.1 404L1040.7 404.4L1041.2 404.8L1041.8 405.3L1042.3 405.4L1042.9 404.2L1043.4 403.1L1044 402L1044.6 400.8L1045.1 399.6L1045.7 398.4L1046.2 398.6L1046.8 399.1L1047.3 399.6L1047.9 400.2L1048.4 400.7L1049 401.3L1049.5 401.3L1050.1 400.1L1050.7 398.9L1051.2 397.7L1051.8 396.5L1052.3 395.3L1052.9 394L1053.4 394.1L1054 394.7L1054.5 395.3L1055.1 396L1055.6 396.6L1056.2 397.3L1056.7 397.9L1057.3 396.7L1057.9 395.4L1058.4 394.2L1059 393L1059.5 391.7L1060.1 390.4L1060.6 389.7L1061.2 390.4L1061.7 391.1L1062.3 391.8L1062.8 392.6L1063.4 393.3L1064 394.1L1064.5 394.1L1065.1 392.9L1065.6 391.6L1066.2 390.3L1066.7 389.1L1067.3 387.8L1067.8 386.5L1068.4 386.1L1068.9 386.9L1069.5 387.7L1070.1 388.5L1070.6 389.3L1071.2 390.2L1071.7 391L1072.3 391.3L1072.8 390L1073.4 388.8L1073.9 387.5L1074.5 386.3L1075 385L1075.6 383.8L1076.2 382.7L1076.7 383.6L1077.3 384.5L1077.8 385.4L1078.4 386.3L1078.9 387.2L1079.5 388.1L1080 389.1L1080.6 388.3L1081.1 387.1L1081.7 385.8L1082.2 384.6L1082.8 383.4L1083.4 382.2L1083.9 380.9L1084.5 380.6L1085 381.6L1085.6 382.5L1086.1 383.5L1086.7 384.5L1087.2 385.5L1087.8 386.5L1088.3 387.5L1088.9 386.5L1089.5 385.3L1090 384.1L1090.6 382.9L1091.1 381.7L1091.7 380.5L1092.2 379.4L1092.8 379.1L1093.3 380.1L1093.9 381.2L1094.4 382.2L1095 383.3L1095.6 384.3L1096.1 385.4L1096.7 386.5L1097.2 385.7L1097.8 384.6L1098.3 383.5L1098.9 382.3L1099.4 381.2L1100 380.1L1100.5 379L1101.1 378.3L1101.7 379.4L1102.2 380.5L1102.8 381.6L1103.3 382.8L1103.9 383.9L1104.4 385L1105 386.1L1105.5 385.9L1106.1 384.9L1106.6 383.8L1107.2 382.7L1107.7 381.7L1108.3 380.6L1108.9 379.5L1109.4 378.5L1110 379.7L1110.5 380.8L1111.1 382L1111.6 383.2L1112.2 384.4L1112.7 385.5L1113.3 386.7L1113.8 386.9L1114.4 385.9L1115 384.9L1115.5 383.9L1116.1 382.9L1116.6 381.9L1117.2 380.9L1117.7 379.9L1118.3 381.1L1118.8 382.3L1119.4 383.5L1119.9 384.7L1120.5 385.9L1121.1 387.2L1121.6 388.4L1122.2 388.4L1122.7 387.5L1123.3 386.5L1123.8 385.6L1124.4 384.7L1124.9 383.8L1125.5 382.9L1126 382.4L1126.6 383.7L1127.1 385L1127.7 386.2L1128.3 387.5L1128.8 388.7L1129.4 390L1129.9 391.2L1130.5 390.4L1131 389.5L1131.6 388.6L1132.1 387.8L1132.7 387L1133.2 386.1L1133.8 385.3L1134.4 386.3L1134.9 387.6L1135.5 388.8L1136 390.1L1136.6 391.4L1137.1 392.6L1137.7 393.9L1138.2 393.4L1138.8 392.6L1139.3 391.9L1139.9 391.1L1140.5 390.4L1141 389.6L1141.6 388.9L1142.1 390L1142.7 391.3L1143.2 392.6L1143.8 393.8L1144.3 395.1L1144.9 396.3L1145.4 397.3L1146 396.6L1146.6 395.9L1147.1 395.3L1147.7 394.6L1148.2 394L1148.8 393.4L1149.3 393.5L1149.9 394.7L1150.4 396L1151 397.2L1151.5 398.4L1152.1 399.6L1152.6 400.8L1153.2 400.6L1153.8 400L1154.3 399.4L1154.9 398.9L1155.4 398.4L1156 397.9L1156.5 397.8L1157.1 399L1157.6 400.2L1158.2 401.3L1158.7 402.5L1159.3 403.6L1159.9 404.8L1160.4 404.6L1161 404.1L1161.5 403.7L1162.1 403.3L1162.6 402.9L1163.2 402.5L1163.7 402.7L1164.3 403.8L1164.8 404.9L1165.4 406L1166 407.1L1166.5 408.2L1167.1 409.1L1167.6 408.7L1168.2 408.4L1168.7 408.1L1169.3 407.8L1169.8 407.5L1170.4 407.2L1170.9 408L1171.5 409L1172.1 410L1172.6 411L1173.2 412L1173.7 413L1174.3 413.2L1174.8 413L1175.4 412.8L1175.9 412.6L1176.5 412.5L1177 412.3L1177.6 412.6L1178.1 413.5L1178.7 414.4L1179.3 415.3L1179.8 416.2L1180.4 417L1180.9 417.7L1181.5 417.6L1182 417.5L1182.6 417.4L1183.1 417.4L1183.7 417.4L1184.2 417.4L1184.8 418.2L1185.4 419L1185.9 419.8L1186.5 420.7L1187 421.5L1187.6 422.4L1188.1 422.6L1188.7 422.6L1189.2 422.5L1189.8 422.5L1190.3 422.4L1190.9 422.3L1191.5 422.8L1192 423.7L1192.6 424.7L1193.1 425.7L1193.7 426.6L1194.2 427.6L1194.8 428.2L1195.3 428L1195.9 427.9L1196.4 427.7L1197 427.5L1197.5 427.3L1198.1 427.3L1198.7 428.3L1199.2 429.3L1199.8 430.4L1200.3 431.5L1200.9 432.6L1201.4 433.7L1202 433.5L1202.5 433.2L1203.1 432.9L1203.6 432.6L1204.2 432.3L1204.8 431.9L1205.3 432.5L1205.9 433.6L1206.4 434.7L1207 435.9L1207.5 437.1L1208.1 438.2L1208.6 439L1209.2 438.6L1209.7 438.2L1210.3 437.8L1210.9 437.4L1211.4 436.9L1212 436.4L1212.5 437.3L1213.1 438.5L1213.6 439.7L1214.2 440.9L1214.7 442.2L1215.3 443.4L1215.8 444.1L1216.4 443.6L1217 443.1L1217.5 442.5L1218.1 442L1218.6 441.4L1219.2 440.8L1219.7 441.5L1220.3 442.8L1220.8 444L1221.4 445.3L1221.9 446.6L1222.5 447.8L1223 449.1L1223.6 448.5L1224.2 447.8L1224.7 447.2L1225.3 446.5L1225.8 445.8L1226.4 445.1L1226.9 444.9L1227.5 446.2L1228 447.5L1228.6 448.8L1229.1 450.1L1229.7 451.4L1230.3 452.7L1230.8 453.2L1231.4 452.5L1231.9 451.7L1232.5 451L1233 450.2L1233.6 449.4L1234.1 448.7L1234.7 448.7L1235.2 449.9L1235.8 451.2L1236.4 452.5L1236.9 453.8L1237.5 455.1L1238 456.4L1238.6 457L1239.1 456.2L1239.7 455.4L1240.2 454.5L1240.8 453.7L1241.3 452.8L1241.9 451.9L1242.5 451.3L1243 452.5L1243.6 453.8L1244.1 455L1244.7 456.3L1245.2 457.6L1245.8 458.8L1246.3 460.1L1246.9 459.6L1247.4 458.7L1248 457.8L1248.5 456.8L1249.1 455.9L1249.7 455L1250.2 454L1250.8 453.9L1251.3 455.2L1251.9 456.4L1252.4 457.6L1253 458.8L1253.5 460L1254.1 461.2L1254.6 462.4L1255.2 461.6L1255.8 460.6L1256.3 459.6L1256.9 458.6L1257.4 457.6L1258 456.5L1258.5 455.5L1259.1 455.4L1259.6 456.5L1260.2 457.7L1260.7 458.9L1261.3 460L1261.9 461.2L1262.4 462.3L1263 463.5L1263.5 462.8L1264.1 461.8L1264.6 460.7L1265.2 459.6L1265.7 458.5L1266.3 457.4L1266.8 456.3L1267.4 455.7L1268 456.8L1268.5 457.9L1269.1 459L1269.6 460.1L1270.2 461.2L1270.7 462.3L1271.3 463.4L1271.8 463.1L1272.4 462L1272.9 460.8L1273.5 459.7L1274 458.5L1274.6 457.4L1275.2 456.2L1275.7 455.1L1276.3 456.1L1276.8 457.1L1277.4 458.2L1277.9 459.2L1278.5 460.2L1279 461.2L1279.6 462.2L1280.1 462.2L1280.7 461L1281.3 459.8L1281.8 458.6L1282.4 457.4L1282.9 456.2L1283.5 455L1284 453.8L1284.6 454.7L1285.1 455.6L1285.7 456.6L1286.2 457.5L1286.8 458.5L1287.4 459.4L1287.9 460.3L1288.5 460.1L1289 458.8L1289.6 457.6L1290.1 456.3L1290.7 455L1291.2 453.8L1291.8 452.5L1292.3 451.8L1292.9 452.6L1293.4 453.5L1294 454.4L1294.6 455.3L1295.1 456.1L1295.7 457L1296.2 457.8L1296.8 456.5L1297.3 455.2L1297.9 454L1298.4 452.7L1299 451.4L1299.5 450.1L1300.1 448.9L1300.7 449.4L1301.2 450.2L1301.8 451L1302.3 451.7L1302.9 452.5L1303.4 453.3L1304 454L1304.5 453L1305.1 451.7L1305.6 450.4L1306.2 449.1L1306.8 447.9L1307.3 446.6L1307.9 445.3L1308.4 445.9L1309 446.6L1309.5 447.3L1310.1 447.9L1310.6 448.6L1311.2 449.3L1311.7 449.7L1312.3 448.4L1312.9 447.1L1313.4 445.8L1314 444.6L1314.5 443.3L1315.1 442L1315.6 441.5L1316.2 442.2L1316.7 442.7L1317.3 443.3L1317.8 443.9L1318.4 444.4L1318.9 445L1319.5 444.1L1320.1 442.8L1320.6 441.6L1321.2 440.4L1321.7 439.1L1322.3 437.9L1322.8 437.2L1323.4 437.7L1323.9 438.1L1324.5 438.6L1325 439L1325.6 439.5L1326.2 439.9L1326.7 439L1327.3 437.8L1327.8 436.6L1328.4 435.5L1328.9 434.3L1329.5 433.2L1330 432.7L1330.6 433L1331.1 433.4L1331.7 433.7L1332.3 434.1L1332.8 434.4L1333.4 434.5L1333.9 433.4L1334.5 432.3L1335 431.2L1335.6 430.1L1336.1 429.1L1336.7 428L1337.2 428L1337.8 428.3L1338.4 428.5L1338.9 428.7L1339.5 428.9L1340 429L1340.6 428.5L1341.1 427.5L1341.7 426.5L1342.2 425.5L1342.8 424.6L1343.3 423.6L1343.9 423.1L1344.4 423.2L1345 423.3L1345.6 423.4L1346.1 423.4L1346.7 423.5L1347.2 423.4L1347.8 422.4L1348.3 421.5L1348.9 420.7L1349.4 419.8L1350 419L1350.5 418.2L1351.1 418.2L1351.7 418.2L1352.2 418.2L1352.8 418.2L1353.3 418.3L1353.9 418.4L1354.4 417.7L1355 416.9L1355.5 416.1L1356.1 415.2L1356.6 414.3L1357.2 413.4L1357.8 413.1L1358.3 413.2L1358.9 413.4L1359.4 413.5L1360 413.7L1360.5 413.9L1361.1 413.7L1361.6 412.7L1362.2 411.8L1362.7 410.8L1363.3 409.8L1363.8 408.8L1364.4 408L1365 408.3L1365.5 408.5L1366.1 408.8L1366.6 409.1L1367.2 409.4L1367.7 409.8L1368.3 408.8L1368.8 407.8L1369.4 406.7L1369.9 405.6L1370.5 404.5L1371.1 403.4L1371.6 403.2L1372.2 403.6L1372.7 404L1373.3 404.4L1373.8 404.8L1374.4 405.3L1374.9 405.4L1375.5 404.2L1376 403.1L1376.6 402L1377.2 400.8L1377.7 399.6L1378.3 398.4L1378.8 398.6L1379.4 399.1L1379.9 399.6L1380.5 400.2L1381 400.7L1381.6 401.3L1382.1 401.3L1382.7 400.1L1383.3 398.9L1383.8 397.7L1384.4 396.5L1384.9 395.3L1385.5 394L1386 394.1L1386.6 394.7L1387.1 395.3L1387.7 396L1388.2 396.6L1388.8 397.3L1389.3 397.9L1389.9 396.7L1390.5 395.4L1391 394.2L1391.6 393L1392.1 391.7L1392.7 390.4L1393.2 389.7L1393.8 390.4L1394.3 391.1L1394.9 391.8L1395.4 392.6L1396 393.3L1396.6 394.1L1397.1 394.1L1397.7 392.9L1398.2 391.6L1398.8 390.3L1399.3 389.1L1399.9 387.8L1400.4 386.5L1401 386.1L1401.5 386.9L1402.1 387.7L1402.7 388.5L1403.2 389.3L1403.8 390.2L1404.3 391L1404.9 391.3L1405.4 390L1406 388.8L1406.5 387.5L1407.1 386.3L1407.6 385L1408.2 383.8L1408.8 382.7L1409.3 383.6L1409.9 384.5L1410.4 385.4L1411 386.3L1411.5 387.2L1412.1 388.1L1412.6 389.1L1413.2 388.3L1413.7 387.1L1414.3 385.8L1414.8 384.6L1415.4 383.4L1416 382.2L1416.5 380.9L1417.1 380.6L1417.6 381.6L1418.2 382.5L1418.7 383.5L1419.3 384.5L1419.8 385.5L1420.4 386.5L1420.9 387.5L1421.5 386.5L1422.1 385.3L1422.6 384.1L1423.2 382.9L1423.7 381.7L1424.3 380.5L1424.8 379.4L1425.4 379.1L1425.9 380.1L1426.5 381.2L1427 382.2L1427.6 383.3L1428.2 384.3L1428.7 385.4L1429.3 386.5L1429.8 385.7L1430.4 384.6L1430.9 383.5L1431.5 382.3L1432 381.2L1432.6 380.1L1433.1 379L1433.7 378.3L1434.2 379.4L1434.8 380.5L1435.4 381.6L1435.9 382.8L1436.5 383.9L1437 385L1437.6 386.1L1438.1 385.9L1438.7 384.9L1439.2 383.8L1439.8 382.7L1440.3 381.7L1440.9 380.6L1441.5 379.5L1442 378.5L1442.6 379.7L1443.1 380.8L1443.7 382L1444.2 383.2L1444.8 384.4L1445.3 385.5L1445.9 386.7L1446.4 386.9L1447 385.9L1447.6 384.9L1448.1 383.9L1448.7 382.9L1449.2 381.9L1449.8 380.9L1450.3 379.9L1450.9 381.1L1451.4 382.3L1452 383.5L1452.5 384.7L1453.1 385.9L1453.7 387.2L1454.2 388.4L1454.8 388.4L1455.3 387.5L1455.9 386.5L1456.4 385.6L1457 384.7L1457.5 383.8L1458.1 382.9L1458.6 382.4L1459.2 383.7L1459.7 385L1460.3 386.2L1460.9 387.5L1461.4 388.7L1462 390L1462.5 391.2L1463.1 390.4L1463.6 389.5L1464.2 388.6L1464.7 387.8L1465.3 387L1465.8 386.1L1466.4 385.3L1467 386.3L1467.5 387.6L1468.1 388.8L1468.6 390.1L1469.2 391.4L1469.7 392.6L1470.3 393.9L1470.8 393.4L1471.4 392.6L1471.9 391.9L1472.5 391.1L1473.1 390.4L1473.6 389.6L1474.2 388.9L1474.7 390L1475.3 391.3L1475.8 392.6L1476.4 393.8L1476.9 395.1L1477.5 396.3L1478 397.3L1478.6 396.6L1479.2 395.9L1479.7 395.3L1480.3 394.6L1480.8 394L1481.4 393.4L1481.9 393.5L1482.5 394.7L1483 396L1483.6 397.2L1484.1 398.4L1484.7 399.6L1485.2 400.8L1485.8 400.6L1486.4 400L1486.9 399.4L1487.5 398.9L1488 398.4L1488.6 397.9L1489.1 397.8L1489.7 399L1490.2 400.2L1490.8 401.3L1491.3 402.5L1491.9 403.6L1492.5 404.8L1493 404.6L1493.6 404.1L1494.1 403.7L1494.7 403.3L1495.2 402.9L1495.8 402.5L1496.3 402.7L1496.9 403.8L1497.4 404.9L1498 406L1498.6 407.1L1499.1 408.2L1499.7 409.1L1500.2 408.7L1500.8 408.4L1501.3 408.1L1501.9 407.8L1502.4 407.5L1503 407.2L1503.5 408L1504.1 409L1504.7 410L1505.2 411L1505.8 412L1506.3 413L1506.9 413.2L1507.4 413L1508 412.8L1508.5 412.6L1509.1 412.5L1509.6 412.3L1510.2 412.6L1510.7 413.5L1511.3 414.4L1511.9 415.3L1512.4 416.2L1513 417L1513.5 417.7L1514.1 417.6L1514.6 417.5L1515.2 417.4L1515.7 417.4L1516.3 417.4L1516.8 417.4L1517.4 418.2L1518 419L1518.5 419.8L1519.1 420.7L1519.6 421.5L1520.2 422.4L1520.7 422.6L1521.3 422.6L1521.8 422.5L1522.4 422.5L1522.9 422.4L1523.5 422.3L1524.1 422.8L1524.6 423.7L1525.2 424.7L1525.7 425.7L1526.3 426.6L1526.8 427.6L1527.4 428.2L1527.9 428L1528.5 427.9L1529 427.7L1529.6 427.5L1530.1 427.3L1530.7 427.3L1531.3 428.3L1531.8 429.3L1532.4 430.4L1532.9 431.5L1533.5 432.6L1534 433.7L1534.6 433.5L1535.1 433.2L1535.7 432.9L1536.2 432.6L1536.8 432.3L1537.4 431.9L1537.9 432.5L1538.5 433.6L1539 434.7L1539.6 435.9L1540.1 437.1L1540.7 438.2L1541.2 439L1541.8 438.6L1542.3 438.2L1542.9 437.8L1543.5 437.4L1544 436.9L1544.6 436.4L1545.1 437.3L1545.7 438.5L1546.2 439.7L1546.8 440.9L1547.3 442.2L1547.9 443.4L1548.4 444.1L1549 443.6L1549.6 443.1L1550.1 442.5L1550.7 442L1551.2 441.4L1551.8 440.8L1552.3 441.5L1552.9 442.8L1553.4 444L1554 445.3L1554.5 446.6L1555.1 447.8L1555.6 449.1L1556.2 448.5L1556.8 447.8L1557.3 447.2L1557.9 446.5L1558.4 445.8L1559 445.1L1559.5 444.9L1560.1 446.2L1560.6 447.5L1561.2 448.8L1561.7 450.1L1562.3 451.4L1562.9 452.7L1563.4 453.2L1564 452.5L1564.5 451.7L1565.1 451L1565.6 450.2L1566.2 449.4L1566.7 448.7L1567.3 448.7L1567.8 449.9L1568.4 451.2L1569 452.5L1569.5 453.8L1570.1 455.1L1570.6 456.4L1571.2 457L1571.7 456.2L1572.3 455.4L1572.8 454.5L1573.4 453.7L1573.9 452.8L1574.5 451.9L1575.1 451.3L1575.6 452.5L1576.2 453.8L1576.7 455L1577.3 456.3L1577.8 457.6L1578.4 458.8L1578.9 460.1L1579.5 459.6L1580 458.7L1580.6 457.8L1581.1 456.8L1581.7 455.9L1582.3 455L1582.8 454L1583.4 453.9L1583.9 455.2L1584.5 456.4L1585 457.6L1585.6 458.8L1586.1 460L1586.7 461.2L1587.2 462.4L1587.8 461.6L1588.4 460.6L1588.9 459.6L1589.5 458.6L1590 457.6L1590.6 456.5L1591.1 455.5L1591.7 455.4L1592.2 456.5L1592.8 457.7L1593.3 458.9L1593.9 460L1594.5 461.2L1595 462.3L1595.6 463.5L1596.1 462.8L1596.7 461.8L1597.2 460.7L1597.8 459.6L1598.3 458.5L1598.9 457.4L1599.4 456.3L1600 455.7L1600.5 456.8L1601.1 457.9L1601.7 459L1602.2 460.1L1602.8 461.2L1603.3 462.3L1603.9 463.4L1604.4 463.1L1605 462L1605.5 460.8L1606.1 459.7L1606.6 458.5L1607.2 457.4L1607.8 456.2L1608.3 455.1L1608.9 456.1L1609.4 457.1L1610 458.2L1610.5 459.2L1611.1 460.2L1611.6 461.2L1612.2 462.2L1612.7 462.2L1613.3 461L1613.9 459.8L1614.4 458.6L1615 457.4L1615.5 456.2L1616.1 455L1616.6 453.8L1617.2 454.7L1617.7 455.6L1618.3 456.6L1618.8 457.5L1619.4 458.5L1620 459.4L1620.5 460.3L1621.1 460.1L1621.6 458.8L1622.2 457.6L1622.7 456.3L1623.3 455L1623.8 453.8L1624.4 452.5L1624.9 451.8L1625.5 452.6L1626 453.5L1626.6 454.4L1627.2 455.3L1627.7 456.1L1628.3 457L1628.8 457.8L1629.4 456.5L1629.9 455.2L1630.5 454L1631 452.7L1631.6 451.4L1632.1 450.1L1632.7 448.9L1633.3 449.4L1633.8 450.2L1634.4 451L1634.9 451.7L1635.5 452.5L1636 453.3L1636.6 454L1637.1 453L1637.7 451.7L1638.2 450.4L1638.8 449.1L1639.4 447.9L1639.9 446.6L1640.5 445.3L1641 445.9L1641.6 446.6L1642.1 447.3L1642.7 447.9L1643.2 448.6L1643.8 449.3L1644.3 449.7L1644.9 448.4L1645.5 447.1L1646 445.8L1646.6 444.6L1647.1 443.3L1647.7 442L1648.2 441.5L1648.8 442.2L1649.3 442.7L1649.9 443.3L1650.4 443.9L1651 444.4L1651.5 445L1652.1 444.1L1652.7 442.8L1653.2 441.6L1653.8 440.4L1654.3 439.1L1654.9 437.9L1655.4 437.2L1656 437.7L1656.5 438.1L1657.1 438.6L1657.6 439L1658.2 439.5L1658.8 439.9L1659.3 439L1659.9 437.8L1660.4 436.6L1661 435.5L1661.5 434.3L1662.1 433.2L1662.6 432.7L1663.2 433L1663.7 433.4L1664.3 433.7L1664.9 434.1L1665.4 434.4L1666 434.5L1666.5 433.4L1667.1 432.3L1667.6 431.2L1668.2 430.1L1668.7 429.1L1669.3 428L1669.8 428L1670.4 428.3L1671 428.5L1671.5 428.7L1672.1 428.9L1672.6 429L1673.2 428.5L1673.7 427.5L1674.3 426.5L1674.8 425.5L1675.4 424.6L1675.9 423.6L1676.5 423.1L1677 423.2L1677.6 423.3L1678.2 423.4L1678.7 423.4L1679.3 423.5L1679.8 423.4L1680.4 422.4L1680.9 421.5L1681.5 420.7L1682 419.8L1682.6 419L1683.1 418.2L1683.7 418.2L1684.3 418.2L1684.8 418.2L1685.4 418.2L1685.9 418.3L1686.5 418.4L1687 417.7L1687.6 416.9L1688.1 416.1L1688.7 415.2L1689.2 414.3L1689.8 413.4L1690.4 413.1L1690.9 413.2L1691.5 413.4L1692 413.5L1692.6 413.7L1693.1 413.9L1693.7 413.7L1694.2 412.7L1694.8 411.8L1695.3 410.8L1695.9 409.8L1696.4 408.8L1697 408L1697.6 408.3L1698.1 408.5L1698.7 408.8L1699.2 409.1L1699.8 409.4L1700.3 409.8L1700.9 408.8L1701.4 407.8L1702 406.7L1702.5 405.6L1703.1 404.5L1703.7 403.4L1704.2 403.2L1704.8 403.6L1705.3 404L1705.9 404.4L1706.4 404.8L1707 405.3L1707.5 405.4L1708.1 404.2L1708.6 403.1L1709.2 402L1709.8 400.8L1710.3 399.6L1710.9 398.4L1711.4 398.6L1712 399.1L1712.5 399.6L1713.1 400.2L1713.6 400.7L1714.2 401.3L1714.7 401.3L1715.3 400.1L1715.9 398.9L1716.4 397.7L1717 396.5L1717.5 395.3L1718.1 394L1718.6 394.1L1719.2 394.7L1719.7 395.3L1720.3 396L1720.8 396.6L1721.4 397.3L1721.9 397.9L1722.5 396.7L1723.1 395.4L1723.6 394.2L1724.2 393L1724.7 391.7L1725.3 390.4L1725.8 389.7L1726.4 390.4L1726.9 391.1L1727.5 391.8L1728 392.6L1728.6 393.3L1729.2 394.1L1729.7 394.1L1730.3 392.9L1730.8 391.6L1731.4 390.3L1731.9 389.1L1732.5 387.8L1733 386.5L1733.6 386.1L1734.1 386.9L1734.7 387.7L1735.3 388.5L1735.8 389.3L1736.4 390.2L1736.9 391L1737.5 391.3L1738 390L1738.6 388.8L1739.1 387.5L1739.7 386.3L1740.2 385L1740.8 383.8L1741.4 382.7L1741.9 383.6L1742.5 384.5L1743 385.4L1743.6 386.3L1744.1 387.2L1744.7 388.1L1745.2 389.1L1745.8 388.3L1746.3 387.1L1746.9 385.8L1747.4 384.6L1748 383.4L1748.6 382.2L1749.1 380.9L1749.7 380.6L1750.2 381.6L1750.8 382.5L1751.3 383.5L1751.9 384.5L1752.4 385.5L1753 386.5L1753.5 387.5L1754.1 386.5L1754.7 385.3L1755.2 384.1L1755.8 382.9L1756.3 381.7L1756.9 380.5L1757.4 379.4L1758 379.1L1758.5 380.1L1759.1 381.2L1759.6 382.2L1760.2 383.3L1760.8 384.3L1761.3 385.4L1761.9 386.5L1762.4 385.7L1763 384.6L1763.5 383.5L1764.1 382.3L1764.6 381.2L1765.2 380.1L1765.7 379L1766.3 378.3L1766.8 379.4L1767.4 380.5L1768 381.6L1768.5 382.8L1769.1 383.9L1769.6 385L1770.2 386.1L1770.7 385.9L1771.3 384.9L1771.8 383.8L1772.4 382.7L1772.9 381.7L1773.5 380.6L1774.1 379.5L1774.6 378.5L1775.2 379.7L1775.7 380.8L1776.3 382L1776.8 383.2L1777.4 384.4L1777.9 385.5L1778.5 386.7L1779 386.9L1779.6 385.9L1780.2 384.9L1780.7 383.9L1781.3 382.9L1781.8 381.9L1782.4 380.9L1782.9 379.9L1783.5 381.1L1784 382.3L1784.6 383.5L1785.1 384.7L1785.7 385.9L1786.3 387.2L1786.8 388.4L1787.4 388.4L1787.9 387.5L1788.5 386.5L1789 385.6L1789.6 384.7L1790.1 383.8L1790.7 382.9L1791.2 382.4L1791.8 383.7L1792.3 385L1792.9 386.2L1793.5 387.5L1794 388.7L1794.6 390L1795.1 391.2L1795.7 390.4L1796.2 389.5L1796.8 388.6L1797.3 387.8L1797.9 387L1798.4 386.1L1799 385.3L1799.6 386.3L1800.1 387.6L1800.7 388.8L1801.2 390.1L1801.8 391.4L1802.3 392.6L1802.9 393.9L1803.4 393.4L1804 392.6L1804.5 391.9L1805.1 391.1L1805.7 390.4L1806.2 389.6L1806.8 388.9L1807.3 390L1807.9 391.3L1808.4 392.6L1809 393.8L1809.5 395.1L1810.1 396.3L1810.6 397.3L1811.2 396.6L1811.8 395.9L1812.3 395.3L1812.9 394.6L1813.4 394L1814 393.4L1814.5 393.5L1815.1 394.7L1815.6 396L1816.2 397.2L1816.7 398.4L1817.3 399.6L1817.8 400.8L1818.4 400.6L1819 400L1819.5 399.4L1820.1 398.9L1820.6 398.4L1821.2 397.9L1821.7 397.8L1822.3 399L1822.8 400.2L1823.4 401.3L1823.9 402.5L1824.5 403.6L1825.1 404.8L1825.6 404.6L1826.2 404.1L1826.7 403.7L1827.3 403.3L1827.8 402.9L1828.4 402.5L1828.9 402.7L1829.5 403.8L1830 404.9L1830.6 406L1831.2 407.1L1831.7 408.2L1832.3 409.1L1832.8 408.7L1833.4 408.4L1833.9 408.1L1834.5 407.8L1835 407.5L1835.6 407.2L1836.1 408L1836.7 409L1837.3 410L1837.8 411L1838.4 412L1838.9 413L1839.5 413.2L1840 413L1840.6 412.8L1841.1 412.6L1841.7 412.5L1842.2 412.3L1842.8 412.6L1843.3 413.5L1843.9 414.4L1844.5 415.3L1845 416.2L1845.6 417L1846.1 417.7L1846.7 417.6L1847.2 417.5L1847.8 417.4L1848.3 417.4L1848.9 417.4L1849.4 417.4L1850 418.2" stroke="#ff00ff" stroke-width="5.5"/>
<path d="M187 418.9L187.6 417.9L188.1 417.3L188.7 418L189.2 418.7L189.8 419.4L190.3 420.2L190.9 421L191.4 421.9L192 422.8L192.5 423.7L193.1 423.5L193.7 422.5L194.2 421.5L194.8 420.5L195.3 421.2L195.9 422.2L196.4 423.2L197 424.3L197.5 425.4L198.1 426.5L198.6 427.7L199.2 428.8L199.7 429.6L200.3 428.5L200.9 427.4L201.4 426.2L202 425.8L202.5 427L203.1 428.3L203.6 429.5L204.2 430.8L204.7 432.1L205.3 433.4L205.8 434.8L206.4 436.2L207 435.9L207.5 434.7L208.1 433.4L208.6 432L209.2 432.3L209.7 433.7L210.3 435.1L210.8 436.6L211.4 438L211.9 439.5L212.5 441L213.1 442.5L213.6 444L214.2 443.1L214.7 441.7L215.3 440.3L215.8 438.8L216.4 439.1L216.9 440.6L217.5 442.2L218 443.7L218.6 445.3L219.2 446.9L219.7 448.5L220.3 450.1L220.8 451.8L221.4 451L221.9 449.5L222.5 448L223 446.5L223.6 445.5L224.1 447.1L224.7 448.8L225.2 450.4L225.8 452.1L226.4 453.7L226.9 455.4L227.5 457.1L228 458.8L228.6 459.4L229.1 457.9L229.7 456.3L230.2 454.8L230.8 453.2L231.3 452.7L231.9 454.4L232.5 456.1L233 457.8L233.6 459.5L234.1 461.2L234.7 463L235.2 464.7L235.8 466.5L236.3 466.5L236.9 465L237.4 463.4L238 461.8L238.6 460.2L239.1 458.6L239.7 460.3L240.2 462L240.8 463.8L241.3 465.5L241.9 467.2L242.4 469L243 470.8L243.5 472.5L244.1 473.4L244.7 471.8L245.2 470.2L245.8 468.6L246.3 467L246.9 465.4L247.4 464.5L248 466.2L248.5 467.9L249.1 469.6L249.6 471.3L250.2 473.1L250.7 474.8L251.3 476.6L251.9 478.3L252.4 478.1L253 476.5L253.5 474.8L254.1 473.2L254.6 471.6L255.2 470L255.7 468.4L256.3 469.8L256.8 471.5L257.4 473.2L258 474.9L258.5 476.7L259.1 478.4L259.6 480.1L260.2 481.8L260.7 481.5L261.3 479.9L261.8 478.2L262.4 476.6L262.9 474.9L263.5 473.3L264.1 471.7L264.6 471.2L265.2 472.9L265.7 474.5L266.3 476.2L266.8 477.9L267.4 479.6L267.9 481.3L268.5 483L269 483.2L269.6 481.5L270.2 479.9L270.7 478.2L271.3 476.5L271.8 474.9L272.4 473.2L272.9 471.6L273.5 472L274 473.6L274.6 475.3L275.1 476.9L275.7 478.6L276.2 480.2L276.8 481.9L277.4 482.8L277.9 481.1L278.5 479.4L279 477.7L279.6 476L280.1 474.3L280.7 472.6L281.2 470.9L281.8 469.2L282.3 470.8L282.9 472.4L283.5 474.1L284 475.7L284.6 477.3L285.1 479L285.7 480.1L286.2 478.3L286.8 476.6L287.3 474.9L287.9 473.1L288.4 471.4L289 469.7L289.6 468L290.1 466.3L290.7 466.6L291.2 468.2L291.8 469.8L292.3 471.4L292.9 473L293.4 474.7L294 475L294.5 473.2L295.1 471.5L295.6 469.7L296.2 468L296.8 466.2L297.3 464.5L297.9 462.8L298.4 461.1L299 461.5L299.5 463.1L300.1 464.7L300.6 466.3L301.2 467.9L301.7 469.5L302.3 467.8L302.9 466L303.4 464.3L304 462.5L304.5 460.8L305.1 459.1L305.6 457.4L306.2 455.7L306.7 454.6L307.3 456.1L307.8 457.7L308.4 459.3L309 460.9L309.5 462.4L310.1 460.6L310.6 458.9L311.2 457.2L311.7 455.5L312.3 453.8L312.8 452.1L313.4 450.4L313.9 448.8L314.5 447.7L315.1 449.3L315.6 450.8L316.2 452.3L316.7 453.9L317.3 453.9L317.8 452.2L318.4 450.6L318.9 448.9L319.5 447.3L320 445.7L320.6 444.1L321.1 442.5L321.7 441L322.3 441.4L322.8 442.9L323.4 444.3L323.9 445.8L324.5 446.3L325 444.8L325.6 443.2L326.1 441.7L326.7 440.1L327.2 438.7L327.8 437.2L328.4 435.7L328.9 434.3L329.5 434.3L330 435.7L330.6 437L331.1 438.3L331.7 438.5L332.2 437L332.8 435.6L333.3 434.2L333.9 432.9L334.5 431.5L335 430.2L335.6 428.9L336.1 427.7L336.7 428.1L337.2 429.3L337.8 430.5L338.3 431.7L338.9 430.9L339.4 429.7L340 428.4L340.6 427.3L341.1 426.1L341.7 425L342.2 423.9L342.8 422.8L343.3 421.9L343.9 423L344.4 424.1L345 425.1L345.5 425.4L346.1 424.4L346.6 423.4L347.2 422.4L347.8 421.5L348.3 420.6L348.9 419.7L349.4 418.9L350 418.1L350.5 418.5L351.1 419.5L351.6 420.4L352.2 421.3L352.7 420.7L353.3 418.9L353.9 417.9L354.4 417.3L355 418L355.5 418.7L356.1 419.4L356.6 420.2L357.2 421L357.7 421.9L358.3 422.8L358.8 423.7L359.4 423.5L360 422.5L360.5 421.5L361.1 420.5L361.6 421.2L362.2 422.2L362.7 423.2L363.3 424.3L363.8 425.4L364.4 426.5L364.9 427.7L365.5 428.8L366 429.6L366.6 428.5L367.2 427.4L367.7 426.2L368.3 425.8L368.8 427L369.4 428.3L369.9 429.5L370.5 430.8L371 432.1L371.6 433.4L372.1 434.8L372.7 436.2L373.3 435.9L373.8 434.7L374.4 433.4L374.9 432L375.5 432.3L376 433.7L376.6 435.1L377.1 436.6L377.7 438L378.2 439.5L378.8 441L379.4 442.5L379.9 444L380.5 443.1L381 441.7L381.6 440.3L382.1 438.8L382.7 439.1L383.2 440.6L383.8 442.2L384.3 443.7L384.9 445.3L385.5 446.9L386 448.5L386.6 450.1L387.1 451.8L387.7 451L388.2 449.5L388.8 448L389.3 446.5L389.9 445.5L390.4 447.1L391 448.8L391.5 450.4L392.1 452.1L392.7 453.7L393.2 455.4L393.8 457.1L394.3 458.8L394.9 459.4L395.4 457.9L396 456.3L396.5 454.8L397.1 453.2L397.6 452.7L398.2 454.4L398.8 456.1L399.3 457.8L399.9 459.5L400.4 461.2L401 463L401.5 464.7L402.1 466.5L402.6 466.5L403.2 465L403.7 463.4L404.3 461.8L404.9 460.2L405.4 458.6L406 460.3L406.5 462L407.1 463.8L407.6 465.5L408.2 467.2L408.7 469L409.3 470.8L409.8 472.5L410.4 473.4L411 471.8L411.5 470.2L412.1 468.6L412.6 467L413.2 465.4L413.7 464.5L414.3 466.2L414.8 467.9L415.4 469.6L415.9 471.3L416.5 473.1L417 474.8L417.6 476.6L418.2 478.3L418.7 478.1L419.3 476.5L419.8 474.8L420.4 473.2L420.9 471.6L421.5 470L422 468.4L422.6 469.8L423.1 471.5L423.7 473.2L424.3 474.9L424.8 476.7L425.4 478.4L425.9 480.1L426.5 481.8L427 481.5L427.6 479.9L428.1 478.2L428.7 476.6L429.2 474.9L429.8 473.3L430.4 471.7L430.9 471.2L431.5 472.9L432 474.5L432.6 476.2L433.1 477.9L433.7 479.6L434.2 481.3L434.8 483L435.3 483.2L435.9 481.5L436.5 479.9L437 478.2L437.6 476.5L438.1 474.9L438.7 473.2L439.2 471.6L439.8 472L440.3 473.6L440.9 475.3L441.4 476.9L442 478.6L442.5 480.2L443.1 481.9L443.7 482.8L444.2 481.1L444.8 479.4L445.3 477.7L445.9 476L446.4 474.3L447 472.6L447.5 470.9L448.1 469.2L448.6 470.8L449.2 472.4L449.8 474.1L450.3 475.7L450.9 477.3L451.4 479L452 480.1L452.5 478.3L453.1 476.6L453.6 474.9L454.2 473.1L454.7 471.4L455.3 469.7L455.9 468L456.4 466.3L457 466.6L457.5 468.2L458.1 469.8L458.6 471.4L459.2 473L459.7 474.7L460.3 475L460.8 473.2L461.4 471.5L461.9 469.7L462.5 468L463.1 466.2L463.6 464.5L464.2 462.8L464.7 461.1L465.3 461.5L465.8 463.1L466.4 464.7L466.9 466.3L467.5 467.9L468 469.5L468.6 467.8L469.2 466L469.7 464.3L470.3 462.5L470.8 460.8L471.4 459.1L471.9 457.4L472.5 455.7L473 454.6L473.6 456.1L474.1 457.7L474.7 459.3L475.3 460.9L475.8 462.4L476.4 460.6L476.9 458.9L477.5 457.2L478 455.5L478.6 453.8L479.1 452.1L479.7 450.4L480.2 448.8L480.8 447.7L481.4 449.3L481.9 450.8L482.5 452.3L483 453.9L483.6 453.9L484.1 452.2L484.7 450.6L485.2 448.9L485.8 447.3L486.3 445.7L486.9 444.1L487.4 442.5L488 441L488.6 441.4L489.1 442.9L489.7 444.3L490.2 445.8L490.8 446.3L491.3 444.8L491.9 443.2L492.4 441.7L493 440.1L493.5 438.7L494.1 437.2L494.7 435.7L495.2 434.3L495.8 434.3L496.3 435.7L496.9 437L497.4 438.3L498 438.5L498.5 437L499.1 435.6L499.6 434.2L500.2 432.9L500.8 431.5L501.3 430.2L501.9 428.9L502.4 427.7L503 428.1L503.5 429.3L504.1 430.5L504.6 431.7L505.2 430.9L505.7 429.7L506.3 428.4L506.9 427.3L507.4 426.1L508 425L508.5 423.9L509.1 422.8L509.6 421.9L510.2 423L510.7 424.1L511.3 425.1L511.8 425.4L512.4 424.4L512.9 423.4L513.5 422.4L514.1 421.5L514.6 420.6L515.2 419.7L515.7 418.9L516.3 418.1L516.8 418.5L517.4 419.5L517.9 420.4L518.5 421.3L519 420.7L519.6 418.9L520.2 417.9L520.7 417.3L521.3 418L521.8 418.7L522.4 419.4L522.9 420.2L523.5 421L524 421.9L524.6 422.8L525.1 423.7L525.7 423.5L526.3 422.5L526.8 421.5L527.4 420.5L527.9 421.2L528.5 422.2L529 423.2L529.6 424.3L530.1 425.4L530.7 426.5L531.2 427.7L531.8 428.8L532.3 429.6L532.9 428.5L533.5 427.4L534 426.2L534.6 425.8L535.1 427L535.7 428.3L536.2 429.5L536.8 430.8L537.3 432.1L537.9 433.4L538.4 434.8L539 436.2L539.6 435.9L540.1 434.7L540.7 433.4L541.2 432L541.8 432.3L542.3 433.7L542.9 435.1L543.4 436.6L544 438L544.5 439.5L545.1 441L545.7 442.5L546.2 444L546.8 443.1L547.3 441.7L547.9 440.3L548.4 438.8L549 439.1L549.5 440.6L550.1 442.2L550.6 443.7L551.2 445.3L551.8 446.9L552.3 448.5L552.9 450.1L553.4 451.8L554 451L554.5 449.5L555.1 448L555.6 446.5L556.2 445.5L556.7 447.1L557.3 448.8L557.8 450.4L558.4 452.1L559 453.7L559.5 455.4L560.1 457.1L560.6 458.8L561.2 459.4L561.7 457.9L562.3 456.3L562.8 454.8L563.4 453.2L563.9 452.7L564.5 454.4L565.1 456.1L565.6 457.8L566.2 459.5L566.7 461.2L567.3 463L567.8 464.7L568.4 466.5L568.9 466.5L569.5 465L570 463.4L570.6 461.8L571.2 460.2L571.7 458.6L572.3 460.3L572.8 462L573.4 463.8L573.9 465.5L574.5 467.2L575 469L575.6 470.8L576.1 472.5L576.7 473.4L577.3 471.8L577.8 470.2L578.4 468.6L578.9 467L579.5 465.4L580 464.5L580.6 466.2L581.1 467.9L581.7 469.6L582.2 471.3L582.8 473.1L583.3 474.8L583.9 476.6L584.5 478.3L585 478.1L585.6 476.5L586.1 474.8L586.7 473.2L587.2 471.6L587.8 470L588.3 468.4L588.9 469.8L589.4 471.5L590 473.2L590.6 474.9L591.1 476.7L591.7 478.4L592.2 480.1L592.8 481.8L593.3 481.5L593.9 479.9L594.4 478.2L595 476.6L595.5 474.9L596.1 473.3L596.7 471.7L597.2 471.2L597.8 472.9L598.3 474.5L598.9 476.2L599.4 477.9L600 479.6L600.5 481.3L601.1 483L601.6 483.2L602.2 481.5L602.8 479.9L603.3 478.2L603.9 476.5L604.4 474.9L605 473.2L605.5 471.6L606.1 472L606.6 473.6L607.2 475.3L607.7 476.9L608.3 478.6L608.8 480.2L609.4 481.9L610 482.8L610.5 481.1L611.1 479.4L611.6 477.7L612.2 476L612.7 474.3L613.3 472.6L613.8 470.9L614.4 469.2L614.9 470.8L615.5 472.4L616.1 474.1L616.6 475.7L617.2 477.3L617.7 479L618.3 480.1L618.8 478.3L619.4 476.6L619.9 474.9L620.5 473.1L621 471.4L621.6 469.7L622.2 468L622.7 466.3L623.3 466.6L623.8 468.2L624.4 469.8L624.9 471.4L625.5 473L626 474.7L626.6 475L627.1 473.2L627.7 471.5L628.2 469.7L628.8 468L629.4 466.2L629.9 464.5L630.5 462.8L631 461.1L631.6 461.5L632.1 463.1L632.7 464.7L633.2 466.3L633.8 467.9L634.3 469.5L634.9 467.8L635.5 466L636 464.3L636.6 462.5L637.1 460.8L637.7 459.1L638.2 457.4L638.8 455.7L639.3 454.6L639.9 456.1L640.4 457.7L641 459.3L641.6 460.9L642.1 462.4L642.7 460.6L643.2 458.9L643.8 457.2L644.3 455.5L644.9 453.8L645.4 452.1L646 450.4L646.5 448.8L647.1 447.7L647.7 449.3L648.2 450.8L648.8 452.3L649.3 453.9L649.9 453.9L650.4 452.2L651 450.6L651.5 448.9L652.1 447.3L652.6 445.7L653.2 444.1L653.7 442.5L654.3 441L654.9 441.4L655.4 442.9L656 444.3L656.5 445.8L657.1 446.3L657.6 444.8L658.2 443.2L658.7 441.7L659.3 440.1L659.8 438.7L660.4 437.2L661 435.7L661.5 434.3L662.1 434.3L662.6 435.7L663.2 437L663.7 438.3L664.3 438.5L664.8 437L665.4 435.6L665.9 434.2L666.5 432.9L667.1 431.5L667.6 430.2L668.2 428.9L668.7 427.7L669.3 428.1L669.8 429.3L670.4 430.5L670.9 431.7L671.5 430.9L672 429.7L672.6 428.4L673.2 427.3L673.7 426.1L674.3 425L674.8 423.9L675.4 422.8L675.9 421.9L676.5 423L677 424.1L677.6 425.1L678.1 425.4L678.7 424.4L679.2 423.4L679.8 422.4L680.4 421.5L680.9 420.6L681.5 419.7L682 418.9L682.6 418.1L683.1 418.5L683.7 419.5L684.2 420.4L684.8 421.3L685.3 420.7L685.9 418.9L686.5 417.9L687 417.3L687.6 418L688.1 418.7L688.7 419.4L689.2 420.2L689.8 421L690.3 421.9L690.9 422.8L691.4 423.7L692 423.5L692.6 422.5L693.1 421.5L693.7 420.5L694.2 421.2L694.8 422.2L695.3 423.2L695.9 424.3L696.4 425.4L697 426.5L697.5 427.7L698.1 428.8L698.6 429.6L699.2 428.5L699.8 427.4L700.3 426.2L700.9 425.8L701.4 427L702 428.3L702.5 429.5L703.1 430.8L703.6 432.1L704.2 433.4L704.7 434.8L705.3 436.2L705.9 435.9L706.4 434.7L707 433.4L707.5 432L708.1 432.3L708.6 433.7L709.2 435.1L709.7 436.6L710.3 438L710.8 439.5L711.4 441L712 442.5L712.5 444L713.1 443.1L713.6 441.7L714.2 440.3L714.7 438.8L715.3 439.1L715.8 440.6L716.4 442.2L716.9 443.7L717.5 445.3L718.1 446.9L718.6 448.5L719.2 450.1L719.7 451.8L720.3 451L720.8 449.5L721.4 448L721.9 446.5L722.5 445.5L723 447.1L723.6 448.8L724.1 450.4L724.7 452.1L725.3 453.7L725.8 455.4L726.4 457.1L726.9 458.8L727.5 459.4L728 457.9L728.6 456.3L729.1 454.8L729.7 453.2L730.2 452.7L730.8 454.4L731.4 456.1L731.9 457.8L732.5 459.5L733 461.2L733.6 463L734.1 464.7L734.7 466.5L735.2 466.5L735.8 465L736.3 463.4L736.9 461.8L737.5 460.2L738 458.6L738.6 460.3L739.1 462L739.7 463.8L740.2 465.5L740.8 467.2L741.3 469L741.9 470.8L742.4 472.5L743 473.4L743.6 471.8L744.1 470.2L744.7 468.6L745.2 467L745.8 465.4L746.3 464.5L746.9 466.2L747.4 467.9L748 469.6L748.5 471.3L749.1 473.1L749.6 474.8L750.2 476.6L750.8 478.3L751.3 478.1L751.9 476.5L752.4 474.8L753 473.2L753.5 471.6L754.1 470L754.6 468.4L755.2 469.8L755.7 471.5L756.3 473.2L756.9 474.9L757.4 476.7L758 478.4L758.5 480.1L759.1 481.8L759.6 481.5L760.2 479.9L760.7 478.2L761.3 476.6L761.8 474.9L762.4 473.3L763 471.7L763.5 471.2L764.1 472.9L764.6 474.5L765.2 476.2L765.7 477.9L766.3 479.6L766.8 481.3L767.4 483L767.9 483.2L768.5 481.5L769.1 479.9L769.6 478.2L770.2 476.5L770.7 474.9L771.3 473.2L771.8 471.6L772.4 472L772.9 473.6L773.5 475.3L774 476.9L774.6 478.6L775.1 480.2L775.7 481.9L776.3 482.8L776.8 481.1L777.4 479.4L777.9 477.7L778.5 476L779 474.3L779.6 472.6L780.1 470.9L780.7 469.2L781.2 470.8L781.8 472.4L782.4 474.1L782.9 475.7L783.5 477.3L784 479L784.6 480.1L785.1 478.3L785.7 476.6L786.2 474.9L786.8 473.1L787.3 471.4L787.9 469.7L788.5 468L789 466.3L789.6 466.6L790.1 468.2L790.7 469.8L791.2 471.4L791.8 473L792.3 474.7L792.9 475L793.4 473.2L794 471.5L794.5 469.7L795.1 468L795.7 466.2L796.2 464.5L796.8 462.8L797.3 461.1L797.9 461.5L798.4 463.1L799 464.7L799.5 466.3L800.1 467.9L800.6 469.5L801.2 467.8L801.8 466L802.3 464.3L802.9 462.5L803.4 460.8L804 459.1L804.5 457.4L805.1 455.7L805.6 454.6L806.2 456.1L806.7 457.7L807.3 459.3L807.9 460.9L808.4 462.4L809 460.6L809.5 458.9L810.1 457.2L810.6 455.5L811.2 453.8L811.7 452.1L812.3 450.4L812.8 448.8L813.4 447.7L814 449.3L814.5 450.8L815.1 452.3L815.6 453.9L816.2 453.9L816.7 452.2L817.3 450.6L817.8 448.9L818.4 447.3L818.9 445.7L819.5 444.1L820 442.5L820.6 441L821.2 441.4L821.7 442.9L822.3 444.3L822.8 445.8L823.4 446.3L823.9 444.8L824.5 443.2L825 441.7L825.6 440.1L826.1 438.7L826.7 437.2L827.3 435.7L827.8 434.3L828.4 434.3L828.9 435.7L829.5 437L830 438.3L830.6 438.5L831.1 437L831.7 435.6L832.2 434.2L832.8 432.9L833.4 431.5L833.9 430.2L834.5 428.9L835 427.7L835.6 428.1L836.1 429.3L836.7 430.5L837.2 431.7L837.8 430.9L838.3 429.7L838.9 428.4L839.5 427.3L840 426.1L840.6 425L841.1 423.9L841.7 422.8L842.2 421.9L842.8 423L843.3 424.1L843.9 425.1L844.4 425.4L845 424.4L845.5 423.4L846.1 422.4L846.7 421.5L847.2 420.6L847.8 419.7L848.3 418.9L848.9 418.1L849.4 418.5L850 419.5L850.5 420.4L851.1 421.3L851.6 420.7L852.2 418.9L852.8 417.9L853.3 417.3L853.9 418L854.4 418.7L855 419.4L855.5 420.2L856.1 421L856.6 421.9L857.2 422.8L857.7 423.7L858.3 423.5L858.9 422.5L859.4 421.5L860 420.5L860.5 421.2L861.1 422.2L861.6 423.2L862.2 424.3L862.7 425.4L863.3 426.5L863.8 427.7L864.4 428.8L864.9 429.6L865.5 428.5L866.1 427.4L866.6 426.2L867.2 425.8L867.7 427L868.3 428.3L868.8 429.5L869.4 430.8L869.9 432.1L870.5 433.4L871 434.8L871.6 436.2L872.2 435.9L872.7 434.7L873.3 433.4L873.8 432L874.4 432.3L874.9 433.7L875.5 435.1L876 436.6L876.6 438L877.1 439.5L877.7 441L878.3 442.5L878.8 444L879.4 443.1L879.9 441.7L880.5 440.3L881 438.8L881.6 439.1L882.1 440.6L882.7 442.2L883.2 443.7L883.8 445.3L884.4 446.9L884.9 448.5L885.5 450.1L886 451.8L886.6 451L887.1 449.5L887.7 448L888.2 446.5L888.8 445.5L889.3 447.1L889.9 448.8L890.4 450.4L891 452.1L891.6 453.7L892.1 455.4L892.7 457.1L893.2 458.8L893.8 459.4L894.3 457.9L894.9 456.3L895.4 454.8L896 453.2L896.5 452.7L897.1 454.4L897.7 456.1L898.2 457.8L898.8 459.5L899.3 461.2L899.9 463L900.4 464.7L901 466.5L901.5 466.5L902.1 465L902.6 463.4L903.2 461.8L903.8 460.2L904.3 458.6L904.9 460.3L905.4 462L906 463.8L906.5 465.5L907.1 467.2L907.6 469L908.2 470.8L908.7 472.5L909.3 473.4L909.9 471.8L910.4 470.2L911 468.6L911.5 467L912.1 465.4L912.6 464.5L913.2 466.2L913.7 467.9L914.3 469.6L914.8 471.3L915.4 473.1L915.9 474.8L916.5 476.6L917.1 478.3L917.6 478.1L918.2 476.5L918.7 474.8L919.3 473.2L919.8 471.6L920.4 470L920.9 468.4L921.5 469.8L922 471.5L922.6 473.2L923.2 474.9L923.7 476.7L924.3 478.4L924.8 480.1L925.4 481.8L925.9 481.5L926.5 479.9L927 478.2L927.6 476.6L928.1 474.9L928.7 473.3L929.3 471.7L929.8 471.2L930.4 472.9L930.9 474.5L931.5 476.2L932 477.9L932.6 479.6L933.1 481.3L933.7 483L934.2 483.2L934.8 481.5L935.4 479.9L935.9 478.2L936.5 476.5L937 474.9L937.6 473.2L938.1 471.6L938.7 472L939.2 473.6L939.8 475.3L940.3 476.9L940.9 478.6L941.4 480.2L942 481.9L942.6 482.8L943.1 481.1L943.7 479.4L944.2 477.7L944.8 476L945.3 474.3L945.9 472.6L946.4 470.9L947 469.2L947.5 470.8L948.1 472.4L948.7 474.1L949.2 475.7L949.8 477.3L950.3 479L950.9 480.1L951.4 478.3L952 476.6L952.5 474.9L953.1 473.1L953.6 471.4L954.2 469.7L954.8 468L955.3 466.3L955.9 466.6L956.4 468.2L957 469.8L957.5 471.4L958.1 473L958.6 474.7L959.2 475L959.7 473.2L960.3 471.5L960.8 469.7L961.4 468L962 466.2L962.5 464.5L963.1 462.8L963.6 461.1L964.2 461.5L964.7 463.1L965.3 464.7L965.8 466.3L966.4 467.9L966.9 469.5L967.5 467.8L968.1 466L968.6 464.3L969.2 462.5L969.7 460.8L970.3 459.1L970.8 457.4L971.4 455.7L971.9 454.6L972.5 456.1L973 457.7L973.6 459.3L974.2 460.9L974.7 462.4L975.3 460.6L975.8 458.9L976.4 457.2L976.9 455.5L977.5 453.8L978 452.1L978.6 450.4L979.1 448.8L979.7 447.7L980.3 449.3L980.8 450.8L981.4 452.3L981.9 453.9L982.5 453.9L983 452.2L983.6 450.6L984.1 448.9L984.7 447.3L985.2 445.7L985.8 444.1L986.3 442.5L986.9 441L987.5 441.4L988 442.9L988.6 444.3L989.1 445.8L989.7 446.3L990.2 444.8L990.8 443.2L991.3 441.7L991.9 440.1L992.4 438.7L993 437.2L993.6 435.7L994.1 434.3L994.7 434.3L995.2 435.7L995.8 437L996.3 438.3L996.9 438.5L997.4 437L998 435.6L998.5 434.2L999.1 432.9L999.7 431.5L1000.2 430.2L1000.8 428.9L1001.3 427.7L1001.9 428.1L1002.4 429.3L1003 430.5L1003.5 431.7L1004.1 430.9L1004.6 429.7L1005.2 428.4L1005.8 427.3L1006.3 426.1L1006.9 425L1007.4 423.9L1008 422.8L1008.5 421.9L1009.1 423L1009.6 424.1L1010.2 425.1L1010.7 425.4L1011.3 424.4L1011.8 423.4L1012.4 422.4L1013 421.5L1013.5 420.6L1014.1 419.7L1014.6 418.9L1015.2 418.1L1015.7 418.5L1016.3 419.5L1016.8 420.4L1017.4 421.3L1017.9 420.7L1018.5 418.9L1019.1 417.9L1019.6 417.3L1020.2 418L1020.7 418.7L1021.3 419.4L1021.8 420.2L1022.4 421L1022.9 421.9L1023.5 422.8L1024 423.7L1024.6 423.5L1025.2 422.5L1025.7 421.5L1026.3 420.5L1026.8 421.2L1027.4 422.2L1027.9 423.2L1028.5 424.3L1029 425.4L1029.6 426.5L1030.1 427.7L1030.7 428.8L1031.2 429.6L1031.8 428.5L1032.4 427.4L1032.9 426.2L1033.5 425.8L1034 427L1034.6 428.3L1035.1 429.5L1035.7 430.8L1036.2 432.1L1036.8 433.4L1037.3 434.8L1037.9 436.2L1038.5 435.9L1039 434.7L1039.6 433.4L1040.1 432L1040.7 432.3L1041.2 433.7L1041.8 435.1L1042.3 436.6L1042.9 438L1043.4 439.5L1044 441L1044.6 442.5L1045.1 444L1045.7 443.1L1046.2 441.7L1046.8 440.3L1047.3 438.8L1047.9 439.1L1048.4 440.6L1049 442.2L1049.5 443.7L1050.1 445.3L1050.7 446.9L1051.2 448.5L1051.8 450.1L1052.3 451.8L1052.9 451L1053.4 449.5L1054 448L1054.5 446.5L1055.1 445.5L1055.6 447.1L1056.2 448.8L1056.7 450.4L1057.3 452.1L1057.9 453.7L1058.4 455.4L1059 457.1L1059.5 458.8L1060.1 459.4L1060.6 457.9L1061.2 456.3L1061.7 454.8L1062.3 453.2L1062.8 452.7L1063.4 454.4L1064 456.1L1064.5 457.8L1065.1 459.5L1065.6 461.2L1066.2 463L1066.7 464.7L1067.3 466.5L1067.8 466.5L1068.4 465L1068.9 463.4L1069.5 461.8L1070.1 460.2L1070.6 458.6L1071.2 460.3L1071.7 462L1072.3 463.8L1072.8 465.5L1073.4 467.2L1073.9 469L1074.5 470.8L1075 472.5L1075.6 473.4L1076.2 471.8L1076.7 470.2L1077.3 468.6L1077.8 467L1078.4 465.4L1078.9 464.5L1079.5 466.2L1080 467.9L1080.6 469.6L1081.1 471.3L1081.7 473.1L1082.2 474.8L1082.8 476.6L1083.4 478.3L1083.9 478.1L1084.5 476.5L1085 474.8L1085.6 473.2L1086.1 471.6L1086.7 470L1087.2 468.4L1087.8 469.8L1088.3 471.5L1088.9 473.2L1089.5 474.9L1090 476.7L1090.6 478.4L1091.1 480.1L1091.7 481.8L1092.2 481.5L1092.8 479.9L1093.3 478.2L1093.9 476.6L1094.4 474.9L1095 473.3L1095.6 471.7L1096.1 471.2L1096.7 472.9L1097.2 474.5L1097.8 476.2L1098.3 477.9L1098.9 479.6L1099.4 481.3L1100 483L1100.5 483.2L1101.1 481.5L1101.7 479.9L1102.2 478.2L1102.8 476.5L1103.3 474.9L1103.9 473.2L1104.4 471.6L1105 472L1105.5 473.6L1106.1 475.3L1106.6 476.9L1107.2 478.6L1107.7 480.2L1108.3 481.9L1108.9 482.8L1109.4 481.1L1110 479.4L1110.5 477.7L1111.1 476L1111.6 474.3L1112.2 472.6L1112.7 470.9L1113.3 469.2L1113.8 470.8L1114.4 472.4L1115 474.1L1115.5 475.7L1116.1 477.3L1116.6 479L1117.2 480.1L1117.7 478.3L1118.3 476.6L1118.8 474.9L1119.4 473.1L1119.9 471.4L1120.5 469.7L1121.1 468L1121.6 466.3L1122.2 466.6L1122.7 468.2L1123.3 469.8L1123.8 471.4L1124.4 473L1124.9 474.7L1125.5 475L1126 473.2L1126.6 471.5L1127.1 469.7L1127.7 468L1128.3 466.2L1128.8 464.5L1129.4 462.8L1129.9 461.1L1130.5 461.5L1131 463.1L1131.6 464.7L1132.1 466.3L1132.7 467.9L1133.2 469.5L1133.8 467.8L1134.4 466L1134.9 464.3L1135.5 462.5L1136 460.8L1136.6 459.1L1137.1 457.4L1137.7 455.7L1138.2 454.6L1138.8 456.1L1139.3 457.7L1139.9 459.3L1140.5 460.9L1141 462.4L1141.6 460.6L1142.1 458.9L1142.7 457.2L1143.2 455.5L1143.8 453.8L1144.3 452.1L1144.9 450.4L1145.4 448.8L1146 447.7L1146.6 449.3L1147.1 450.8L1147.7 452.3L1148.2 453.9L1148.8 453.9L1149.3 452.2L1149.9 450.6L1150.4 448.9L1151 447.3L1151.5 445.7L1152.1 444.1L1152.6 442.5L1153.2 441L1153.8 441.4L1154.3 442.9L1154.9 444.3L1155.4 445.8L1156 446.3L1156.5 444.8L1157.1 443.2L1157.6 441.7L1158.2 440.1L1158.7 438.7L1159.3 437.2L1159.9 435.7L1160.4 434.3L1161 434.3L1161.5 435.7L1162.1 437L1162.6 438.3L1163.2 438.5L1163.7 437L1164.3 435.6L1164.8 434.2L1165.4 432.9L1166 431.5L1166.5 430.2L1167.1 428.9L1167.6 427.7L1168.2 428.1L1168.7 429.3L1169.3 430.5L1169.8 431.7L1170.4 430.9L1170.9 429.7L1171.5 428.4L1172.1 427.3L1172.6 426.1L1173.2 425L1173.7 423.9L1174.3 422.8L1174.8 421.9L1175.4 423L1175.9 424.1L1176.5 425.1L1177 425.4L1177.6 424.4L1178.1 423.4L1178.7 422.4L1179.3 421.5L1179.8 420.6L1180.4 419.7L1180.9 418.9L1181.5 418.1L1182 418.5L1182.6 419.5L1183.1 420.4L1183.7 421.3L1184.2 420.7L1184.8 420.1L1185.4 417.9L1185.9 417.3L1186.5 418L1187 418.7L1187.6 419.4L1188.1 420.2L1188.7 421L1189.2 421.9L1189.8 422.8L1190.3 423.7L1190.9 423.5L1191.5 422.5L1192 421.5L1192.6 420.5L1193.1 421.2L1193.7 422.2L1194.2 423.2L1194.8 424.3L1195.3 425.4L1195.9 426.5L1196.4 427.7L1197 428.8L1197.5 429.6L1198.1 428.5L1198.7 427.4L1199.2 426.2L1199.8 425.8L1200.3 427L1200.9 428.3L1201.4 429.5L1202 430.8L1202.5 432.1L1203.1 433.4L1203.6 434.8L1204.2 436.2L1204.8 435.9L1205.3 434.7L1205.9 433.4L1206.4 432L1207 432.3L1207.5 433.7L1208.1 435.1L1208.6 436.6L1209.2 438L1209.7 439.5L1210.3 441L1210.9 442.5L1211.4 444L1212 443.1L1212.5 441.7L1213.1 440.3L1213.6 438.8L1214.2 439.1L1214.7 440.6L1215.3 442.2L1215.8 443.7L1216.4 445.3L1217 446.9L1217.5 448.5L1218.1 450.1L1218.6 451.8L1219.2 451L1219.7 449.5L1220.3 448L1220.8 446.5L1221.4 445.5L1221.9 447.1L1222.5 448.8L1223 450.4L1223.6 452.1L1224.2 453.7L1224.7 455.4L1225.3 457.1L1225.8 458.8L1226.4 459.4L1226.9 457.9L1227.5 456.3L1228 454.8L1228.6 453.2L1229.1 452.7L1229.7 454.4L1230.3 456.1L1230.8 457.8L1231.4 459.5L1231.9 461.2L1232.5 463L1233 464.7L1233.6 466.5L1234.1 466.5L1234.7 465L1235.2 463.4L1235.8 461.8L1236.4 460.2L1236.9 458.6L1237.5 460.3L1238 462L1238.6 463.8L1239.1 465.5L1239.7 467.2L1240.2 469L1240.8 470.8L1241.3 472.5L1241.9 473.4L1242.5 471.8L1243 470.2L1243.6 468.6L1244.1 467L1244.7 465.4L1245.2 464.5L1245.8 466.2L1246.3 467.9L1246.9 469.6L1247.4 471.3L1248 473.1L1248.5 474.8L1249.1 476.6L1249.7 478.3L1250.2 478.1L1250.8 476.5L1251.3 474.8L1251.9 473.2L1252.4 471.6L1253 470L1253.5 468.4L1254.1 469.8L1254.6 471.5L1255.2 473.2L1255.8 474.9L1256.3 476.7L1256.9 478.4L1257.4 480.1L1258 481.8L1258.5 481.5L1259.1 479.9L1259.6 478.2L1260.2 476.6L1260.7 474.9L1261.3 473.3L1261.9 471.7L1262.4 471.2L1263 472.9L1263.5 474.5L1264.1 476.2L1264.6 477.9L1265.2 479.6L1265.7 481.3L1266.3 483L1266.8 483.2L1267.4 481.5L1268 479.9L1268.5 478.2L1269.1 476.5L1269.6 474.9L1270.2 473.2L1270.7 471.6L1271.3 472L1271.8 473.6L1272.4 475.3L1272.9 476.9L1273.5 478.6L1274 480.2L1274.6 481.9L1275.2 482.8L1275.7 481.1L1276.3 479.4L1276.8 477.7L1277.4 476L1277.9 474.3L1278.5 472.6L1279 470.9L1279.6 469.2L1280.1 470.8L1280.7 472.4L1281.3 474.1L1281.8 475.7L1282.4 477.3L1282.9 479L1283.5 480.1L1284 478.3L1284.6 476.6L1285.1 474.9L1285.7 473.1L1286.2 471.4L1286.8 469.7L1287.4 468L1287.9 466.3L1288.5 466.6L1289 468.2L1289.6 469.8L1290.1 471.4L1290.7 473L1291.2 474.7L1291.8 475L1292.3 473.2L1292.9 471.5L1293.4 469.7L1294 468L1294.6 466.2L1295.1 464.5L1295.7 462.8L1296.2 461.1L1296.8 461.5L1297.3 463.1L1297.9 464.7L1298.4 466.3L1299 467.9L1299.5 469.5L1300.1 467.8L1300.7 466L1301.2 464.3L1301.8 462.5L1302.3 460.8L1302.9 459.1L1303.4 457.4L1304 455.7L1304.5 454.6L1305.1 456.1L1305.6 457.7L1306.2 459.3L1306.8 460.9L1307.3 462.4L1307.9 460.6L1308.4 458.9L1309 457.2L1309.5 455.5L1310.1 453.8L1310.6 452.1L1311.2 450.4L1311.7 448.8L1312.3 447.7L1312.9 449.3L1313.4 450.8L1314 452.3L1314.5 453.9L1315.1 453.9L1315.6 452.2L1316.2 450.6L1316.7 448.9L1317.3 447.3L1317.8 445.7L1318.4 444.1L1318.9 442.5L1319.5 441L1320.1 441.4L1320.6 442.9L1321.2 444.3L1321.7 445.8L1322.3 446.3L1322.8 444.8L1323.4 443.2L1323.9 441.7L1324.5 440.1L1325 438.7L1325.6 437.2L1326.2 435.7L1326.7 434.3L1327.3 434.3L1327.8 435.7L1328.4 437L1328.9 438.3L1329.5 438.5L1330 437L1330.6 435.6L1331.1 434.2L1331.7 432.9L1332.3 431.5L1332.8 430.2L1333.4 428.9L1333.9 427.7L1334.5 428.1L1335 429.3L1335.6 430.5L1336.1 431.7L1336.7 430.9L1337.2 429.7L1337.8 428.4L1338.4 427.3L1338.9 426.1L1339.5 425L1340 423.9L1340.6 422.8L1341.1 421.9L1341.7 423L1342.2 424.1L1342.8 425.1L1343.3 425.4L1343.9 424.4L1344.4 423.4L1345 422.4L1345.6 421.5L1346.1 420.6L1346.7 419.7L1347.2 418.9L1347.8 418.1L1348.3 418.5L1348.9 419.5L1349.4 420.4L1350 421.3L1350.5 420.7L1351.1 420.1L1351.7 417.9L1352.2 417.3L1352.8 418L1353.3 418.7L1353.9 419.4L1354.4 420.2L1355 421L1355.5 421.9L1356.1 422.8L1356.6 423.7L1357.2 423.5L1357.8 422.5L1358.3 421.5L1358.9 420.5L1359.4 421.2L1360 422.2L1360.5 423.2L1361.1 424.3L1361.6 425.4L1362.2 426.5L1362.7 427.7L1363.3 428.8L1363.8 429.6L1364.4 428.5L1365 427.4L1365.5 426.2L1366.1 425.8L1366.6 427L1367.2 428.3L1367.7 429.5L1368.3 430.8L1368.8 432.1L1369.4 433.4L1369.9 434.8L1370.5 436.2L1371.1 435.9L1371.6 434.7L1372.2 433.4L1372.7 432L1373.3 432.3L1373.8 433.7L1374.4 435.1L1374.9 436.6L1375.5 438L1376 439.5L1376.6 441L1377.2 442.5L1377.7 444L1378.3 443.1L1378.8 441.7L1379.4 440.3L1379.9 438.8L1380.5 439.1L1381 440.6L1381.6 442.2L1382.1 443.7L1382.7 445.3L1383.3 446.9L1383.8 448.5L1384.4 450.1L1384.9 451.8L1385.5 451L1386 449.5L1386.6 448L1387.1 446.5L1387.7 445.5L1388.2 447.1L1388.8 448.8L1389.3 450.4L1389.9 452.1L1390.5 453.7L1391 455.4L1391.6 457.1L1392.1 458.8L1392.7 459.4L1393.2 457.9L1393.8 456.3L1394.3 454.8L1394.9 453.2L1395.4 452.7L1396 454.4L1396.6 456.1L1397.1 457.8L1397.7 459.5L1398.2 461.2L1398.8 463L1399.3 464.7L1399.9 466.5L1400.4 466.5L1401 465L1401.5 463.4L1402.1 461.8L1402.7 460.2L1403.2 458.6L1403.8 460.3L1404.3 462L1404.9 463.8L1405.4 465.5L1406 467.2L1406.5 469L1407.1 470.8L1407.6 472.5L1408.2 473.4L1408.8 471.8L1409.3 470.2L1409.9 468.6L1410.4 467L1411 465.4L1411.5 464.5L1412.1 466.2L1412.6 467.9L1413.2 469.6L1413.7 471.3L1414.3 473.1L1414.8 474.8L1415.4 476.6L1416 478.3L1416.5 478.1L1417.1 476.5L1417.6 474.8L1418.2 473.2L1418.7 471.6L1419.3 470L1419.8 468.4L1420.4 469.8L1420.9 471.5L1421.5 473.2L1422.1 474.9L1422.6 476.7L1423.2 478.4L1423.7 480.1L1424.3 481.8L1424.8 481.5L1425.4 479.9L1425.9 478.2L1426.5 476.6L1427 474.9L1427.6 473.3L1428.2 471.7L1428.7 471.2L1429.3 472.9L1429.8 474.5L1430.4 476.2L1430.9 477.9L1431.5 479.6L1432 481.3L1432.6 483L1433.1 483.2L1433.7 481.5L1434.2 479.9L1434.8 478.2L1435.4 476.5L1435.9 474.9L1436.5 473.2L1437 471.6L1437.6 472L1438.1 473.6L1438.7 475.3L1439.2 476.9L1439.8 478.6L1440.3 480.2L1440.9 481.9L1441.5 482.8L1442 481.1L1442.6 479.4L1443.1 477.7L1443.7 476L1444.2 474.3L1444.8 472.6L1445.3 470.9L1445.9 469.2L1446.4 470.8L1447 472.4L1447.6 474.1L1448.1 475.7L1448.7 477.3L1449.2 479L1449.8 480.1L1450.3 478.3L1450.9 476.6L1451.4 474.9L1452 473.1L1452.5 471.4L1453.1 469.7L1453.7 468L1454.2 466.3L1454.8 466.6L1455.3 468.2L1455.9 469.8L1456.4 471.4L1457 473L1457.5 474.7L1458.1 475L1458.6 473.2L1459.2 471.5L1459.7 469.7L1460.3 468L1460.9 466.2L1461.4 464.5L1462 462.8L1462.5 461.1L1463.1 461.5L1463.6 463.1L1464.2 464.7L1464.7 466.3L1465.3 467.9L1465.8 469.5L1466.4 467.8L1467 466L1467.5 464.3L1468.1 462.5L1468.6 460.8L1469.2 459.1L1469.7 457.4L1470.3 455.7L1470.8 454.6L1471.4 456.1L1471.9 457.7L1472.5 459.3L1473.1 460.9L1473.6 462.4L1474.2 460.6L1474.7 458.9L1475.3 457.2L1475.8 455.5L1476.4 453.8L1476.9 452.1L1477.5 450.4L1478 448.8L1478.6 447.7L1479.2 449.3L1479.7 450.8L1480.3 452.3L1480.8 453.9L1481.4 453.9L1481.9 452.2L1482.5 450.6L1483 448.9L1483.6 447.3L1484.1 445.7L1484.7 444.1L1485.2 442.5L1485.8 441L1486.4 441.4L1486.9 442.9L1487.5 444.3L1488 445.8L1488.6 446.3L1489.1 444.8L1489.7 443.2L1490.2 441.7L1490.8 440.1L1491.3 438.7L1491.9 437.2L1492.5 435.7L1493 434.3L1493.6 434.3L1494.1 435.7L1494.7 437L1495.2 438.3L1495.8 438.5L1496.3 437L1496.9 435.6L1497.4 434.2L1498 432.9L1498.6 431.5L1499.1 430.2L1499.7 428.9L1500.2 427.7L1500.8 428.1L1501.3 429.3L1501.9 430.5L1502.4 431.7L1503 430.9L1503.5 429.7L1504.1 428.4L1504.7 427.3L1505.2 426.1L1505.8 425L1506.3 423.9L1506.9 422.8L1507.4 421.9L1508 423L1508.5 424.1L1509.1 425.1L1509.6 425.4L1510.2 424.4L1510.7 423.4L1511.3 422.4L1511.9 421.5L1512.4 420.6L1513 419.7L1513.5 418.9L1514.1 418.1L1514.6 418.5L1515.2 419.5L1515.7 420.4L1516.3 421.3L1516.8 420.7L1517.4 420.1L1518 417.9L1518.5 417.3L1519.1 418L1519.6 418.7L1520.2 419.4L1520.7 420.2L1521.3 421L1521.8 421.9L1522.4 422.8L1522.9 423.7L1523.5 423.5L1524.1 422.5L1524.6 421.5L1525.2 420.5L1525.7 421.2L1526.3 422.2L1526.8 423.2L1527.4 424.3L1527.9 425.4L1528.5 426.5L1529 427.7L1529.6 428.8L1530.1 429.6L1530.7 428.5L1531.3 427.4L1531.8 426.2L1532.4 425.8L1532.9 427L1533.5 428.3L1534 429.5L1534.6 430.8L1535.1 432.1L1535.7 433.4L1536.2 434.8L1536.8 436.2L1537.4 435.9L1537.9 434.7L1538.5 433.4L1539 432L1539.6 432.3L1540.1 433.7L1540.7 435.1L1541.2 436.6L1541.8 438L1542.3 439.5L1542.9 441L1543.5 442.5L1544 444L1544.6 443.1L1545.1 441.7L1545.7 440.3L1546.2 438.8L1546.8 439.1L1547.3 440.6L1547.9 442.2L1548.4 443.7L1549 445.3L1549.6 446.9L1550.1 448.5L1550.7 450.1L1551.2 451.8L1551.8 451L1552.3 449.5L1552.9 448L1553.4 446.5L1554 445.5L1554.5 447.1L1555.1 448.8L1555.6 450.4L1556.2 452.1L1556.8 453.7L1557.3 455.4L1557.9 457.1L1558.4 458.8L1559 459.4L1559.5 457.9L1560.1 456.3L1560.6 454.8L1561.2 453.2L1561.7 452.7L1562.3 454.4L1562.9 456.1L1563.4 457.8L1564 459.5L1564.5 461.2L1565.1 463L1565.6 464.7L1566.2 466.5L1566.7 466.5L1567.3 465L1567.8 463.4L1568.4 461.8L1569 460.2L1569.5 458.6L1570.1 460.3L1570.6 462L1571.2 463.8L1571.7 465.5L1572.3 467.2L1572.8 469L1573.4 470.8L1573.9 472.5L1574.5 473.4L1575.1 471.8L1575.6 470.2L1576.2 468.6L1576.7 467L1577.3 465.4L1577.8 464.5L1578.4 466.2L1578.9 467.9L1579.5 469.6L1580 471.3L1580.6 473.1L1581.1 474.8L1581.7 476.6L1582.3 478.3L1582.8 478.1L1583.4 476.5L1583.9 474.8L1584.5 473.2L1585 471.6L1585.6 470L1586.1 468.4L1586.7 469.8L1587.2 471.5L1587.8 473.2L1588.4 474.9L1588.9 476.7L1589.5 478.4L1590 480.1L1590.6 481.8L1591.1 481.5L1591.7 479.9L1592.2 478.2L1592.8 476.6L1593.3 474.9L1593.9 473.3L1594.5 471.7L1595 471.2L1595.6 472.9L1596.1 474.5L1596.7 476.2L1597.2 477.9L1597.8 479.6L1598.3 481.3L1598.9 483L1599.4 483.2L1600 481.5L1600.5 479.9L1601.1 478.2L1601.7 476.5L1602.2 474.9L1602.8 473.2L1603.3 471.6L1603.9 472L1604.4 473.6L1605 475.3L1605.5 476.9L1606.1 478.6L1606.6 480.2L1607.2 481.9L1607.8 482.8L1608.3 481.1L1608.9 479.4L1609.4 477.7L1610 476L1610.5 474.3L1611.1 472.6L1611.6 470.9L1612.2 469.2L1612.7 470.8L1613.3 472.4L1613.9 474.1L1614.4 475.7L1615 477.3L1615.5 479L1616.1 480.1L1616.6 478.3L1617.2 476.6L1617.7 474.9L1618.3 473.1L1618.8 471.4L1619.4 469.7L1620 468L1620.5 466.3L1621.1 466.6L1621.6 468.2L1622.2 469.8L1622.7 471.4L1623.3 473L1623.8 474.7L1624.4 475L1624.9 473.2L1625.5 471.5L1626 469.7L1626.6 468L1627.2 466.2L1627.7 464.5L1628.3 462.8L1628.8 461.1L1629.4 461.5L1629.9 463.1L1630.5 464.7L1631 466.3L1631.6 467.9L1632.1 469.5L1632.7 467.8L1633.3 466L1633.8 464.3L1634.4 462.5L1634.9 460.8L1635.5 459.1L1636 457.4L1636.6 455.7L1637.1 454.6L1637.7 456.1L1638.2 457.7L1638.8 459.3L1639.4 460.9L1639.9 462.4L1640.5 460.6L1641 458.9L1641.6 457.2L1642.1 455.5L1642.7 453.8L1643.2 452.1L1643.8 450.4L1644.3 448.8L1644.9 447.7L1645.5 449.3L1646 450.8L1646.6 452.3L1647.1 453.9L1647.7 453.9L1648.2 452.2L1648.8 450.6L1649.3 448.9L1649.9 447.3L1650.4 445.7L1651 444.1L1651.5 442.5L1652.1 441L1652.7 441.4L1653.2 442.9L1653.8 444.3L1654.3 445.8L1654.9 446.3L1655.4 444.8L1656 443.2L1656.5 441.7L1657.1 440.1L1657.6 438.7L1658.2 437.2L1658.8 435.7L1659.3 434.3L1659.9 434.3L1660.4 435.7L1661 437L1661.5 438.3L1662.1 438.5L1662.6 437L1663.2 435.6L1663.7 434.2L1664.3 432.9L1664.9 431.5L1665.4 430.2L1666 428.9L1666.5 427.7L1667.1 428.1L1667.6 429.3L1668.2 430.5L1668.7 431.7L1669.3 430.9L1669.8 429.7L1670.4 428.4L1671 427.3L1671.5 426.1L1672.1 425L1672.6 423.9L1673.2 422.8L1673.7 421.9L1674.3 423L1674.8 424.1L1675.4 425.1L1675.9 425.4L1676.5 424.4L1677 423.4L1677.6 422.4L1678.2 421.5L1678.7 420.6L1679.3 419.7L1679.8 418.9L1680.4 418.1L1680.9 418.5L1681.5 419.5L1682 420.4L1682.6 421.3L1683.1 420.7L1683.7 420.1L1684.3 417.9L1684.8 417.3L1685.4 418L1685.9 418.7L1686.5 419.4L1687 420.2L1687.6 421L1688.1 421.9L1688.7 422.8L1689.2 423.7L1689.8 423.5L1690.4 422.5L1690.9 421.5L1691.5 420.5L1692 421.2L1692.6 422.2L1693.1 423.2L1693.7 424.3L1694.2 425.4L1694.8 426.5L1695.3 427.7L1695.9 428.8L1696.4 429.6L1697 428.5L1697.6 427.4L1698.1 426.2L1698.7 425.8L1699.2 427L1699.8 428.3L1700.3 429.5L1700.9 430.8L1701.4 432.1L1702 433.4L1702.5 434.8L1703.1 436.2L1703.7 435.9L1704.2 434.7L1704.8 433.4L1705.3 432L1705.9 432.3L1706.4 433.7L1707 435.1L1707.5 436.6L1708.1 438L1708.6 439.5L1709.2 441L1709.8 442.5L1710.3 444L1710.9 443.1L1711.4 441.7L1712 440.3L1712.5 438.8L1713.1 439.1L1713.6 440.6L1714.2 442.2L1714.7 443.7L1715.3 445.3L1715.9 446.9L1716.4 448.5L1717 450.1L1717.5 451.8L1718.1 451L1718.6 449.5L1719.2 448L1719.7 446.5L1720.3 445.5L1720.8 447.1L1721.4 448.8L1721.9 450.4L1722.5 452.1L1723.1 453.7L1723.6 455.4L1724.2 457.1L1724.7 458.8L1725.3 459.4L1725.8 457.9L1726.4 456.3L1726.9 454.8L1727.5 453.2L1728 452.7L1728.6 454.4L1729.2 456.1L1729.7 457.8L1730.3 459.5L1730.8 461.2L1731.4 463L1731.9 464.7L1732.5 466.5L1733 466.5L1733.6 465L1734.1 463.4L1734.7 461.8L1735.3 460.2L1735.8 458.6L1736.4 460.3L1736.9 462L1737.5 463.8L1738 465.5L1738.6 467.2L1739.1 469L1739.7 470.8L1740.2 472.5L1740.8 473.4L1741.4 471.8L1741.9 470.2L1742.5 468.6L1743 467L1743.6 465.4L1744.1 464.5L1744.7 466.2L1745.2 467.9L1745.8 469.6L1746.3 471.3L1746.9 473.1L1747.4 474.8L1748 476.6L1748.6 478.3L1749.1 478.1L1749.7 476.5L1750.2 474.8L1750.8 473.2L1751.3 471.6L1751.9 470L1752.4 468.4L1753 469.8L1753.5 471.5L1754.1 473.2L1754.7 474.9L1755.2 476.7L1755.8 478.4L1756.3 480.1L1756.9 481.8L1757.4 481.5L1758 479.9L1758.5 478.2L1759.1 476.6L1759.6 474.9L1760.2 473.3L1760.8 471.7L1761.3 471.2L1761.9 472.9L1762.4 474.5L1763 476.2L1763.5 477.9L1764.1 479.6L1764.6 481.3L1765.2 483L1765.7 483.2L1766.3 481.5L1766.8 479.9L1767.4 478.2L1768 476.5L1768.5 474.9L1769.1 473.2L1769.6 471.6L1770.2 472L1770.7 473.6L1771.3 475.3L1771.8 476.9L1772.4 478.6L1772.9 480.2L1773.5 481.9L1774.1 482.8L1774.6 481.1L1775.2 479.4L1775.7 477.7L1776.3 476L1776.8 474.3L1777.4 472.6L1777.9 470.9L1778.5 469.2L1779 470.8L1779.6 472.4L1780.2 474.1L1780.7 475.7L1781.3 477.3L1781.8 479L1782.4 480.1L1782.9 478.3L1783.5 476.6L1784 474.9L1784.6 473.1L1785.1 471.4L1785.7 469.7L1786.3 468L1786.8 466.3L1787.4 466.6L1787.9 468.2L1788.5 469.8L1789 471.4L1789.6 473L1790.1 474.7L1790.7 475L1791.2 473.2L1791.8 471.5L1792.3 469.7L1792.9 468L1793.5 466.2L1794 464.5L1794.6 462.8L1795.1 461.1L1795.7 461.5L1796.2 463.1L1796.8 464.7L1797.3 466.3L1797.9 467.9L1798.4 469.5L1799 467.8L1799.6 466L1800.1 464.3L1800.7 462.5L1801.2 460.8L1801.8 459.1L1802.3 457.4L1802.9 455.7L1803.4 454.6L1804 456.1L1804.5 457.7L1805.1 459.3L1805.7 460.9L1806.2 462.4L1806.8 460.6L1807.3 458.9L1807.9 457.2L1808.4 455.5L1809 453.8L1809.5 452.1L1810.1 450.4L1810.6 448.8L1811.2 447.7L1811.8 449.3L1812.3 450.8L1812.9 452.3L1813.4 453.9L1814 453.9L1814.5 452.2L1815.1 450.6L1815.6 448.9L1816.2 447.3L1816.7 445.7L1817.3 444.1L1817.8 442.5L1818.4 441L1819 441.4L1819.5 442.9L1820.1 444.3L1820.6 445.8L1821.2 446.3L1821.7 444.8L1822.3 443.2L1822.8 441.7L1823.4 440.1L1823.9 438.7L1824.5 437.2L1825.1 435.7L1825.6 434.3L1826.2 434.3L1826.7 435.7L1827.3 437L1827.8 438.3L1828.4 438.5L1828.9 437L1829.5 435.6L1830 434.2L1830.6 432.9L1831.2 431.5L1831.7 430.2L1832.3 428.9L1832.8 427.7L1833.4 428.1L1833.9 429.3L1834.5 430.5L1835 431.7L1835.6 430.9L1836.1 429.7L1836.7 428.4L1837.3 427.3L1837.8 426.1L1838.4 425L1838.9 423.9L1839.5 422.8L1840 421.9L1840.6 423L1841.1 424.1L1841.7 425.1L1842.2 425.4L1842.8 424.4L1843.3 423.4L1843.9 422.4L1844.5 421.5L1845 420.6L1845.6 419.7L1846.1 418.9L1846.7 418.1L1847.2 418.5L1847.8 419.5L1848.3 420.4L1848.9 421.3L1849.4 420.7L1850 420.1" stroke="#ff0000" stroke-width="6"/>
<path d="M187 419L187.6 419L188.1 419L188.7 419L189.2 419L189.8 419.1L190.3 419.2L190.9 419.3L191.4 419.4L192 419.5L192.5 419.5L193.1 419.5L193.7 419.5L194.2 419.5L194.8 419.5L195.3 419.6L195.9 419.8L196.4 420.1L197 420.3L197.5 420.6L198.1 421L198.6 421.2L199.2 421.3L199.7 421.3L200.3 421.3L200.9 421.3L201.4 421.3L202 421.3L202.5 421.7L203.1 422.1L203.6 422.6L204.2 423L204.7 423.5L205.3 424L205.8 424.2L206.4 424.3L207 424.3L207.5 424.3L208.1 424.3L208.6 424.3L209.2 424.5L209.7 425.1L210.3 425.7L210.8 426.3L211.4 426.9L211.9 427.6L212.5 428.3L213.1 428.4L213.6 428.4L214.2 428.4L214.7 428.4L215.3 428.4L215.8 428.4L216.4 428.7L216.9 429.4L217.5 430.2L218 430.9L218.6 431.7L219.2 432.5L219.7 433.3L220.3 433.4L220.8 433.4L221.4 433.4L221.9 433.4L222.5 433.4L223 433.3L223.6 433.5L224.1 434.3L224.7 435.2L225.2 436L225.8 436.9L226.4 437.8L226.9 438.7L227.5 439.1L228 439.1L228.6 439L229.1 438.9L229.7 438.9L230.2 438.8L230.8 438.7L231.3 439.2L231.9 440.1L232.5 441L233 442L233.6 442.9L234.1 443.8L234.7 444.7L235.2 444.9L235.8 444.7L236.3 444.6L236.9 444.5L237.4 444.3L238 444.1L238.6 443.9L239.1 444.5L239.7 445.4L240.2 446.3L240.8 447.2L241.3 448.1L241.9 449L242.4 449.9L243 450.2L243.5 449.9L244.1 449.7L244.7 449.4L245.2 449.2L245.8 448.9L246.3 448.6L246.9 448.6L247.4 449.5L248 450.3L248.5 451.1L249.1 452L249.6 452.8L250.2 453.6L250.7 454.4L251.3 454.1L251.9 453.7L252.4 453.3L253 452.9L253.5 452.5L254.1 452.1L254.6 451.7L255.2 451.9L255.7 452.6L256.3 453.3L256.8 454L257.4 454.7L258 455.4L258.5 456.1L259.1 456.8L259.6 456.3L260.2 455.8L260.7 455.2L261.3 454.7L261.8 454.2L262.4 453.6L262.9 453L263.5 453L264.1 453.6L264.6 454.2L265.2 454.7L265.7 455.3L266.3 455.9L266.8 456.4L267.4 456.9L267.9 456.5L268.5 455.8L269 455.1L269.6 454.5L270.2 453.8L270.7 453.1L271.3 452.4L271.8 452L272.4 452.4L272.9 452.9L273.5 453.3L274 453.7L274.6 454.1L275.1 454.5L275.7 454.9L276.2 454.6L276.8 453.8L277.4 453L277.9 452.3L278.5 451.5L279 450.7L279.6 449.9L280.1 449.2L280.7 449.5L281.2 449.8L281.8 450.1L282.3 450.4L282.9 450.7L283.5 451L284 451.2L284.6 450.9L285.1 450L285.7 449.2L286.2 448.4L286.8 447.5L287.3 446.7L287.9 445.8L288.4 445.1L289 445.3L289.6 445.5L290.1 445.7L290.7 445.9L291.2 446.1L291.8 446.2L292.3 446.4L292.9 445.8L293.4 445L294 444.1L294.5 443.3L295.1 442.4L295.6 441.6L296.2 440.7L296.8 440.3L297.3 440.4L297.9 440.6L298.4 440.7L299 440.8L299.5 440.9L300.1 441L300.6 440.9L301.2 440L301.7 439.2L302.3 438.4L302.9 437.6L303.4 436.7L304 435.9L304.5 435.3L305.1 435.4L305.6 435.5L306.2 435.6L306.7 435.7L307.3 435.7L307.8 435.8L308.4 435.7L309 434.9L309.5 434.1L310.1 433.4L310.6 432.6L311.2 431.9L311.7 431.1L312.3 430.7L312.8 430.8L313.4 430.8L313.9 430.9L314.5 431L315.1 431L315.6 431.1L316.2 430.7L316.7 430L317.3 429.3L317.8 428.7L318.4 428L318.9 427.4L319.5 426.8L320 426.8L320.6 426.8L321.1 426.9L321.7 426.9L322.3 427L322.8 427L323.4 426.8L323.9 426.3L324.5 425.7L325 425.2L325.6 424.6L326.1 424.1L326.7 423.6L327.2 423.6L327.8 423.7L328.4 423.7L328.9 423.8L329.5 423.8L330 423.8L330.6 423.6L331.1 423.2L331.7 422.8L332.2 422.4L332.8 422L333.3 421.6L333.9 421.3L334.5 421.3L335 421.4L335.6 421.4L336.1 421.4L336.7 421.4L337.2 421.4L337.8 421.2L338.3 420.9L338.9 420.6L339.4 420.4L340 420.1L340.6 419.9L341.1 419.8L341.7 419.8L342.2 419.9L342.8 419.9L343.3 419.9L343.9 419.9L344.4 419.8L345 419.7L345.5 419.5L346.1 419.4L346.6 419.2L347.2 419.1L347.8 419.1L348.3 419.1L348.9 419.1L349.4 419.1L350 419.1L350.5 419.1L351.1 419.1L351.6 419.1L352.2 419L352.7 419L353.3 419L353.9 419L354.4 419L355 419L355.5 419L356.1 419.1L356.6 419.2L357.2 419.3L357.7 419.4L358.3 419.5L358.8 419.5L359.4 419.5L360 419.5L360.5 419.5L361.1 419.5L361.6 419.6L362.2 419.8L362.7 420.1L363.3 420.3L363.8 420.6L364.4 421L364.9 421.2L365.5 421.3L366 421.3L366.6 421.3L367.2 421.3L367.7 421.3L368.3 421.3L368.8 421.7L369.4 422.1L369.9 422.6L370.5 423L371 423.5L371.6 424L372.1 424.2L372.7 424.3L373.3 424.3L373.8 424.3L374.4 424.3L374.9 424.3L375.5 424.5L376 425.1L376.6 425.7L377.1 426.3L377.7 426.9L378.2 427.6L378.8 428.3L379.4 428.4L379.9 428.4L380.5 428.4L381 428.4L381.6 428.4L382.1 428.4L382.7 428.7L383.2 429.4L383.8 430.2L384.3 430.9L384.9 431.7L385.5 432.5L386 433.3L386.6 433.4L387.1 433.4L387.7 433.4L388.2 433.4L388.8 433.4L389.3 433.3L389.9 433.5L390.4 434.3L391 435.2L391.5 436L392.1 436.9L392.7 437.8L393.2 438.7L393.8 439.1L394.3 439.1L394.9 439L395.4 438.9L396 438.9L396.5 438.8L397.1 438.7L397.6 439.2L398.2 440.1L398.8 441L399.3 442L399.9 442.9L400.4 443.8L401 444.7L401.5 444.9L402.1 444.7L402.6 444.6L403.2 444.5L403.7 444.3L404.3 444.1L404.9 443.9L405.4 444.5L406 445.4L406.5 446.3L407.1 447.2L407.6 448.1L408.2 449L408.7 449.9L409.3 450.2L409.8 449.9L410.4 449.7L411 449.4L411.5 449.2L412.1 448.9L412.6 448.6L413.2 448.6L413.7 449.5L414.3 450.3L414.8 451.1L415.4 452L415.9 452.8L416.5 453.6L417 454.4L417.6 454.1L418.2 453.7L418.7 453.3L419.3 452.9L419.8 452.5L420.4 452.1L420.9 451.7L421.5 451.9L422 452.6L422.6 453.3L423.1 454L423.7 454.7L424.3 455.4L424.8 456.1L425.4 456.8L425.9 456.3L426.5 455.8L427 455.2L427.6 454.7L428.1 454.2L428.7 453.6L429.2 453L429.8 453L430.4 453.6L430.9 454.2L431.5 454.7L432 455.3L432.6 455.9L433.1 456.4L433.7 456.9L434.2 456.5L434.8 455.8L435.3 455.1L435.9 454.5L436.5 453.8L437 453.1L437.6 452.4L438.1 452L438.7 452.4L439.2 452.9L439.8 453.3L440.3 453.7L440.9 454.1L441.4 454.5L442 454.9L442.5 454.6L443.1 453.8L443.7 453L444.2 452.3L444.8 451.5L445.3 450.7L445.9 449.9L446.4 449.2L447 449.5L447.5 449.8L448.1 450.1L448.6 450.4L449.2 450.7L449.8 451L450.3 451.2L450.9 450.9L451.4 450L452 449.2L452.5 448.4L453.1 447.5L453.6 446.7L454.2 445.8L454.7 445.1L455.3 445.3L455.9 445.5L456.4 445.7L457 445.9L457.5 446.1L458.1 446.2L458.6 446.4L459.2 445.8L459.7 445L460.3 444.1L460.8 443.3L461.4 442.4L461.9 441.6L462.5 440.7L463.1 440.3L463.6 440.4L464.2 440.6L464.7 440.7L465.3 440.8L465.8 440.9L466.4 441L466.9 440.9L467.5 440L468 439.2L468.6 438.4L469.2 437.6L469.7 436.7L470.3 435.9L470.8 435.3L471.4 435.4L471.9 435.5L472.5 435.6L473 435.7L473.6 435.7L474.1 435.8L474.7 435.7L475.3 434.9L475.8 434.1L476.4 433.4L476.9 432.6L477.5 431.9L478 431.1L478.6 430.7L479.1 430.8L479.7 430.8L480.2 430.9L480.8 431L481.4 431L481.9 431.1L482.5 430.7L483 430L483.6 429.3L484.1 428.7L484.7 428L485.2 427.4L485.8 426.8L486.3 426.8L486.9 426.8L487.4 426.9L488 426.9L488.6 427L489.1 427L489.7 426.8L490.2 426.3L490.8 425.7L491.3 425.2L491.9 424.6L492.4 424.1L493 423.6L493.5 423.6L494.1 423.7L494.7 423.7L495.2 423.8L495.8 423.8L496.3 423.8L496.9 423.6L497.4 423.2L498 422.8L498.5 422.4L499.1 422L499.6 421.6L500.2 421.3L500.8 421.3L501.3 421.4L501.9 421.4L502.4 421.4L503 421.4L503.5 421.4L504.1 421.2L504.6 420.9L505.2 420.6L505.7 420.4L506.3 420.1L506.9 419.9L507.4 419.8L508 419.8L508.5 419.9L509.1 419.9L509.6 419.9L510.2 419.9L510.7 419.8L511.3 419.7L511.8 419.5L512.4 419.4L512.9 419.2L513.5 419.1L514.1 419.1L514.6 419.1L515.2 419.1L515.7 419.1L516.3 419.1L516.8 419.1L517.4 419.1L517.9 419.1L518.5 419L519 419L519.6 419L520.2 419L520.7 419L521.3 419L521.8 419L522.4 419.1L522.9 419.2L523.5 419.3L524 419.4L524.6 419.5L525.1 419.5L525.7 419.5L526.3 419.5L526.8 419.5L527.4 419.5L527.9 419.6L528.5 419.8L529 420.1L529.6 420.3L530.1 420.6L530.7 421L531.2 421.2L531.8 421.3L532.3 421.3L532.9 421.3L533.5 421.3L534 421.3L534.6 421.3L535.1 421.7L535.7 422.1L536.2 422.6L536.8 423L537.3 423.5L537.9 424L538.4 424.2L539 424.3L539.6 424.3L540.1 424.3L540.7 424.3L541.2 424.3L541.8 424.5L542.3 425.1L542.9 425.7L543.4 426.3L544 426.9L544.5 427.6L545.1 428.3L545.7 428.4L546.2 428.4L546.8 428.4L547.3 428.4L547.9 428.4L548.4 428.4L549 428.7L549.5 429.4L550.1 430.2L550.6 430.9L551.2 431.7L551.8 432.5L552.3 433.3L552.9 433.4L553.4 433.4L554 433.4L554.5 433.4L555.1 433.4L555.6 433.3L556.2 433.5L556.7 434.3L557.3 435.2L557.8 436L558.4 436.9L559 437.8L559.5 438.7L560.1 439.1L560.6 439.1L561.2 439L561.7 438.9L562.3 438.9L562.8 438.8L563.4 438.7L563.9 439.2L564.5 440.1L565.1 441L565.6 442L566.2 442.9L566.7 443.8L567.3 444.7L567.8 444.9L568.4 444.7L568.9 444.6L569.5 444.5L570 444.3L570.6 444.1L571.2 443.9L571.7 444.5L572.3 445.4L572.8 446.3L573.4 447.2L573.9 448.1L574.5 449L575 449.9L575.6 450.2L576.1 449.9L576.7 449.7L577.3 449.4L577.8 449.2L578.4 448.9L578.9 448.6L579.5 448.6L580 449.5L580.6 450.3L581.1 451.1L581.7 452L582.2 452.8L582.8 453.6L583.3 454.4L583.9 454.1L584.5 453.7L585 453.3L585.6 452.9L586.1 452.5L586.7 452.1L587.2 451.7L587.8 451.9L588.3 452.6L588.9 453.3L589.4 454L590 454.7L590.6 455.4L591.1 456.1L591.7 456.8L592.2 456.3L592.8 455.8L593.3 455.2L593.9 454.7L594.4 454.2L595 453.6L595.5 453L596.1 453L596.7 453.6L597.2 454.2L597.8 454.7L598.3 455.3L598.9 455.9L599.4 456.4L600 456.9L600.5 456.5L601.1 455.8L601.6 455.1L602.2 454.5L602.8 453.8L603.3 453.1L603.9 452.4L604.4 452L605 452.4L605.5 452.9L606.1 453.3L606.6 453.7L607.2 454.1L607.7 454.5L608.3 454.9L608.8 454.6L609.4 453.8L610 453L610.5 452.3L611.1 451.5L611.6 450.7L612.2 449.9L612.7 449.2L613.3 449.5L613.8 449.8L614.4 450.1L614.9 450.4L615.5 450.7L616.1 451L616.6 451.2L617.2 450.9L617.7 450L618.3 449.2L618.8 448.4L619.4 447.5L619.9 446.7L620.5 445.8L621 445.1L621.6 445.3L622.2 445.5L622.7 445.7L623.3 445.9L623.8 446.1L624.4 446.2L624.9 446.4L625.5 445.8L626 445L626.6 444.1L627.1 443.3L627.7 442.4L628.2 441.6L628.8 440.7L629.4 440.3L629.9 440.4L630.5 440.6L631 440.7L631.6 440.8L632.1 440.9L632.7 441L633.2 440.9L633.8 440L634.3 439.2L634.9 438.4L635.5 437.6L636 436.7L636.6 435.9L637.1 435.3L637.7 435.4L638.2 435.5L638.8 435.6L639.3 435.7L639.9 435.7L640.4 435.8L641 435.7L641.6 434.9L642.1 434.1L642.7 433.4L643.2 432.6L643.8 431.9L644.3 431.1L644.9 430.7L645.4 430.8L646 430.8L646.5 430.9L647.1 431L647.7 431L648.2 431.1L648.8 430.7L649.3 430L649.9 429.3L650.4 428.7L651 428L651.5 427.4L652.1 426.8L652.6 426.8L653.2 426.8L653.7 426.9L654.3 426.9L654.9 427L655.4 427L656 426.8L656.5 426.3L657.1 425.7L657.6 425.2L658.2 424.6L658.7 424.1L659.3 423.6L659.8 423.6L660.4 423.7L661 423.7L661.5 423.8L662.1 423.8L662.6 423.8L663.2 423.6L663.7 423.2L664.3 422.8L664.8 422.4L665.4 422L665.9 421.6L666.5 421.3L667.1 421.3L667.6 421.4L668.2 421.4L668.7 421.4L669.3 421.4L669.8 421.4L670.4 421.2L670.9 420.9L671.5 420.6L672 420.4L672.6 420.1L673.2 419.9L673.7 419.8L674.3 419.8L674.8 419.9L675.4 419.9L675.9 419.9L676.5 419.9L677 419.8L677.6 419.7L678.1 419.5L678.7 419.4L679.2 419.2L679.8 419.1L680.4 419.1L680.9 419.1L681.5 419.1L682 419.1L682.6 419.1L683.1 419.1L683.7 419.1L684.2 419.1L684.8 419L685.3 419L685.9 419L686.5 419L687 419L687.6 419L688.1 419L688.7 419.1L689.2 419.2L689.8 419.3L690.3 419.4L690.9 419.5L691.4 419.5L692 419.5L692.6 419.5L693.1 419.5L693.7 419.5L694.2 419.6L694.8 419.8L695.3 420.1L695.9 420.3L696.4 420.6L697 421L697.5 421.2L698.1 421.3L698.6 421.3L699.2 421.3L699.8 421.3L700.3 421.3L700.9 421.3L701.4 421.7L702 422.1L702.5 422.6L703.1 423L703.6 423.5L704.2 424L704.7 424.2L705.3 424.3L705.9 424.3L706.4 424.3L707 424.3L707.5 424.3L708.1 424.5L708.6 425.1L709.2 425.7L709.7 426.3L710.3 426.9L710.8 427.6L711.4 428.3L712 428.4L712.5 428.4L713.1 428.4L713.6 428.4L714.2 428.4L714.7 428.4L715.3 428.7L715.8 429.4L716.4 430.2L716.9 430.9L717.5 431.7L718.1 432.5L718.6 433.3L719.2 433.4L719.7 433.4L720.3 433.4L720.8 433.4L721.4 433.4L721.9 433.3L722.5 433.5L723 434.3L723.6 435.2L724.1 436L724.7 436.9L725.3 437.8L725.8 438.7L726.4 439.1L726.9 439.1L727.5 439L728 438.9L728.6 438.9L729.1 438.8L729.7 438.7L730.2 439.2L730.8 440.1L731.4 441L731.9 442L732.5 442.9L733 443.8L733.6 444.7L734.1 444.9L734.7 444.7L735.2 444.6L735.8 444.5L736.3 444.3L736.9 444.1L737.5 443.9L738 444.5L738.6 445.4L739.1 446.3L739.7 447.2L740.2 448.1L740.8 449L741.3 449.9L741.9 450.2L742.4 449.9L743 449.7L743.6 449.4L744.1 449.2L744.7 448.9L745.2 448.6L745.8 448.6L746.3 449.5L746.9 450.3L747.4 451.1L748 452L748.5 452.8L749.1 453.6L749.6 454.4L750.2 454.1L750.8 453.7L751.3 453.3L751.9 452.9L752.4 452.5L753 452.1L753.5 451.7L754.1 451.9L754.6 452.6L755.2 453.3L755.7 454L756.3 454.7L756.9 455.4L757.4 456.1L758 456.8L758.5 456.3L759.1 455.8L759.6 455.2L760.2 454.7L760.7 454.2L761.3 453.6L761.8 453L762.4 453L763 453.6L763.5 454.2L764.1 454.7L764.6 455.3L765.2 455.9L765.7 456.4L766.3 456.9L766.8 456.5L767.4 455.8L767.9 455.1L768.5 454.5L769.1 453.8L769.6 453.1L770.2 452.4L770.7 452L771.3 452.4L771.8 452.9L772.4 453.3L772.9 453.7L773.5 454.1L774 454.5L774.6 454.9L775.1 454.6L775.7 453.8L776.3 453L776.8 452.3L777.4 451.5L777.9 450.7L778.5 449.9L779 449.2L779.6 449.5L780.1 449.8L780.7 450.1L781.2 450.4L781.8 450.7L782.4 451L782.9 451.2L783.5 450.9L784 450L784.6 449.2L785.1 448.4L785.7 447.5L786.2 446.7L786.8 445.8L787.3 445.1L787.9 445.3L788.5 445.5L789 445.7L789.6 445.9L790.1 446.1L790.7 446.2L791.2 446.4L791.8 445.8L792.3 445L792.9 444.1L793.4 443.3L794 442.4L794.5 441.6L795.1 440.7L795.7 440.3L796.2 440.4L796.8 440.6L797.3 440.7L797.9 440.8L798.4 440.9L799 441L799.5 440.9L800.1 440L800.6 439.2L801.2 438.4L801.8 437.6L802.3 436.7L802.9 435.9L803.4 435.3L804 435.4L804.5 435.5L805.1 435.6L805.6 435.7L806.2 435.7L806.7 435.8L807.3 435.7L807.9 434.9L808.4 434.1L809 433.4L809.5 432.6L810.1 431.9L810.6 431.1L811.2 430.7L811.7 430.8L812.3 430.8L812.8 430.9L813.4 431L814 431L814.5 431.1L815.1 430.7L815.6 430L816.2 429.3L816.7 428.7L817.3 428L817.8 427.4L818.4 426.8L818.9 426.8L819.5 426.8L820 426.9L820.6 426.9L821.2 427L821.7 427L822.3 426.8L822.8 426.3L823.4 425.7L823.9 425.2L824.5 424.6L825 424.1L825.6 423.6L826.1 423.6L826.7 423.7L827.3 423.7L827.8 423.8L828.4 423.8L828.9 423.8L829.5 423.6L830 423.2L830.6 422.8L831.1 422.4L831.7 422L832.2 421.6L832.8 421.3L833.4 421.3L833.9 421.4L834.5 421.4L835 421.4L835.6 421.4L836.1 421.4L836.7 421.2L837.2 420.9L837.8 420.6L838.3 420.4L838.9 420.1L839.5 419.9L840 419.8L840.6 419.8L841.1 419.9L841.7 419.9L842.2 419.9L842.8 419.9L843.3 419.8L843.9 419.7L844.4 419.5L845 419.4L845.5 419.2L846.1 419.1L846.7 419.1L847.2 419.1L847.8 419.1L848.3 419.1L848.9 419.1L849.4 419.1L850 419.1L850.5 419.1L851.1 419L851.6 419L852.2 419L852.8 419L853.3 419L853.9 419L854.4 419L855 419.1L855.5 419.2L856.1 419.3L856.6 419.4L857.2 419.5L857.7 419.5L858.3 419.5L858.9 419.5L859.4 419.5L860 419.5L860.5 419.6L861.1 419.8L861.6 420.1L862.2 420.3L862.7 420.6L863.3 421L863.8 421.2L864.4 421.3L864.9 421.3L865.5 421.3L866.1 421.3L866.6 421.3L867.2 421.3L867.7 421.7L868.3 422.1L868.8 422.6L869.4 423L869.9 423.5L870.5 424L871 424.2L871.6 424.3L872.2 424.3L872.7 424.3L873.3 424.3L873.8 424.3L874.4 424.5L874.9 425.1L875.5 425.7L876 426.3L876.6 426.9L877.1 427.6L877.7 428.3L878.3 428.4L878.8 428.4L879.4 428.4L879.9 428.4L880.5 428.4L881 428.4L881.6 428.7L882.1 429.4L882.7 430.2L883.2 430.9L883.8 431.7L884.4 432.5L884.9 433.3L885.5 433.4L886 433.4L886.6 433.4L887.1 433.4L887.7 433.4L888.2 433.3L888.8 433.5L889.3 434.3L889.9 435.2L890.4 436L891 436.9L891.6 437.8L892.1 438.7L892.7 439.1L893.2 439.1L893.8 439L894.3 438.9L894.9 438.9L895.4 438.8L896 438.7L896.5 439.2L897.1 440.1L897.7 441L898.2 442L898.8 442.9L899.3 443.8L899.9 444.7L900.4 444.9L901 444.7L901.5 444.6L902.1 444.5L902.6 444.3L903.2 444.1L903.8 443.9L904.3 444.5L904.9 445.4L905.4 446.3L906 447.2L906.5 448.1L907.1 449L907.6 449.9L908.2 450.2L908.7 449.9L909.3 449.7L909.9 449.4L910.4 449.2L911 448.9L911.5 448.6L912.1 448.6L912.6 449.5L913.2 450.3L913.7 451.1L914.3 452L914.8 452.8L915.4 453.6L915.9 454.4L916.5 454.1L917.1 453.7L917.6 453.3L918.2 452.9L918.7 452.5L919.3 452.1L919.8 451.7L920.4 451.9L920.9 452.6L921.5 453.3L922 454L922.6 454.7L923.2 455.4L923.7 456.1L924.3 456.8L924.8 456.3L925.4 455.8L925.9 455.2L926.5 454.7L927 454.2L927.6 453.6L928.1 453L928.7 453L929.3 453.6L929.8 454.2L930.4 454.7L930.9 455.3L931.5 455.9L932 456.4L932.6 456.9L933.1 456.5L933.7 455.8L934.2 455.1L934.8 454.5L935.4 453.8L935.9 453.1L936.5 452.4L937 452L937.6 452.4L938.1 452.9L938.7 453.3L939.2 453.7L939.8 454.1L940.3 454.5L940.9 454.9L941.4 454.6L942 453.8L942.6 453L943.1 452.3L943.7 451.5L944.2 450.7L944.8 449.9L945.3 449.2L945.9 449.5L946.4 449.8L947 450.1L947.5 450.4L948.1 450.7L948.7 451L949.2 451.2L949.8 450.9L950.3 450L950.9 449.2L951.4 448.4L952 447.5L952.5 446.7L953.1 445.8L953.6 445.1L954.2 445.3L954.8 445.5L955.3 445.7L955.9 445.9L956.4 446.1L957 446.2L957.5 446.4L958.1 445.8L958.6 445L959.2 444.1L959.7 443.3L960.3 442.4L960.8 441.6L961.4 440.7L962 440.3L962.5 440.4L963.1 440.6L963.6 440.7L964.2 440.8L964.7 440.9L965.3 441L965.8 440.9L966.4 440L966.9 439.2L967.5 438.4L968.1 437.6L968.6 436.7L969.2 435.9L969.7 435.3L970.3 435.4L970.8 435.5L971.4 435.6L971.9 435.7L972.5 435.7L973 435.8L973.6 435.7L974.2 434.9L974.7 434.1L975.3 433.4L975.8 432.6L976.4 431.9L976.9 431.1L977.5 430.7L978 430.8L978.6 430.8L979.1 430.9L979.7 431L980.3 431L980.8 431.1L981.4 430.7L981.9 430L982.5 429.3L983 428.7L983.6 428L984.1 427.4L984.7 426.8L985.2 426.8L985.8 426.8L986.3 426.9L986.9 426.9L987.5 427L988 427L988.6 426.8L989.1 426.3L989.7 425.7L990.2 425.2L990.8 424.6L991.3 424.1L991.9 423.6L992.4 423.6L993 423.7L993.6 423.7L994.1 423.8L994.7 423.8L995.2 423.8L995.8 423.6L996.3 423.2L996.9 422.8L997.4 422.4L998 422L998.5 421.6L999.1 421.3L999.7 421.3L1000.2 421.4L1000.8 421.4L1001.3 421.4L1001.9 421.4L1002.4 421.4L1003 421.2L1003.5 420.9L1004.1 420.6L1004.6 420.4L1005.2 420.1L1005.8 419.9L1006.3 419.8L1006.9 419.8L1007.4 419.9L1008 419.9L1008.5 419.9L1009.1 419.9L1009.6 419.8L1010.2 419.7L1010.7 419.5L1011.3 419.4L1011.8 419.2L1012.4 419.1L1013 419.1L1013.5 419.1L1014.1 419.1L1014.6 419.1L1015.2 419.1L1015.7 419.1L1016.3 419.1L1016.8 419.1L1017.4 419L1017.9 419L1018.5 419L1019.1 419L1019.6 419L1020.2 419L1020.7 419L1021.3 419.1L1021.8 419.2L1022.4 419.3L1022.9 419.4L1023.5 419.5L1024 419.5L1024.6 419.5L1025.2 419.5L1025.7 419.5L1026.3 419.5L1026.8 419.6L1027.4 419.8L1027.9 420.1L1028.5 420.3L1029 420.6L1029.6 421L1030.1 421.2L1030.7 421.3L1031.2 421.3L1031.8 421.3L1032.4 421.3L1032.9 421.3L1033.5 421.3L1034 421.7L1034.6 422.1L1035.1 422.6L1035.7 423L1036.2 423.5L1036.8 424L1037.3 424.2L1037.9 424.3L1038.5 424.3L1039 424.3L1039.6 424.3L1040.1 424.3L1040.7 424.5L1041.2 425.1L1041.8 425.7L1042.3 426.3L1042.9 426.9L1043.4 427.6L1044 428.3L1044.6 428.4L1045.1 428.4L1045.7 428.4L1046.2 428.4L1046.8 428.4L1047.3 428.4L1047.9 428.7L1048.4 429.4L1049 430.2L1049.5 430.9L1050.1 431.7L1050.7 432.5L1051.2 433.3L1051.8 433.4L1052.3 433.4L1052.9 433.4L1053.4 433.4L1054 433.4L1054.5 433.3L1055.1 433.5L1055.6 434.3L1056.2 435.2L1056.7 436L1057.3 436.9L1057.9 437.8L1058.4 438.7L1059 439.1L1059.5 439.1L1060.1 439L1060.6 438.9L1061.2 438.9L1061.7 438.8L1062.3 438.7L1062.8 439.2L1063.4 440.1L1064 441L1064.5 442L1065.1 442.9L1065.6 443.8L1066.2 444.7L1066.7 444.9L1067.3 444.7L1067.8 444.6L1068.4 444.5L1068.9 444.3L1069.5 444.1L1070.1 443.9L1070.6 444.5L1071.2 445.4L1071.7 446.3L1072.3 447.2L1072.8 448.1L1073.4 449L1073.9 449.9L1074.5 450.2L1075 449.9L1075.6 449.7L1076.2 449.4L1076.7 449.2L1077.3 448.9L1077.8 448.6L1078.4 448.6L1078.9 449.5L1079.5 450.3L1080 451.1L1080.6 452L1081.1 452.8L1081.7 453.6L1082.2 454.4L1082.8 454.1L1083.4 453.7L1083.9 453.3L1084.5 452.9L1085 452.5L1085.6 452.1L1086.1 451.7L1086.7 451.9L1087.2 452.6L1087.8 453.3L1088.3 454L1088.9 454.7L1089.5 455.4L1090 456.1L1090.6 456.8L1091.1 456.3L1091.7 455.8L1092.2 455.2L1092.8 454.7L1093.3 454.2L1093.9 453.6L1094.4 453L1095 453L1095.6 453.6L1096.1 454.2L1096.7 454.7L1097.2 455.3L1097.8 455.9L1098.3 456.4L1098.9 456.9L1099.4 456.5L1100 455.8L1100.5 455.1L1101.1 454.5L1101.7 453.8L1102.2 453.1L1102.8 452.4L1103.3 452L1103.9 452.4L1104.4 452.9L1105 453.3L1105.5 453.7L1106.1 454.1L1106.6 454.5L1107.2 454.9L1107.7 454.6L1108.3 453.8L1108.9 453L1109.4 452.3L1110 451.5L1110.5 450.7L1111.1 449.9L1111.6 449.2L1112.2 449.5L1112.7 449.8L1113.3 450.1L1113.8 450.4L1114.4 450.7L1115 451L1115.5 451.2L1116.1 450.9L1116.6 450L1117.2 449.2L1117.7 448.4L1118.3 447.5L1118.8 446.7L1119.4 445.8L1119.9 445.1L1120.5 445.3L1121.1 445.5L1121.6 445.7L1122.2 445.9L1122.7 446.1L1123.3 446.2L1123.8 446.4L1124.4 445.8L1124.9 445L1125.5 444.1L1126 443.3L1126.6 442.4L1127.1 441.6L1127.7 440.7L1128.3 440.3L1128.8 440.4L1129.4 440.6L1129.9 440.7L1130.5 440.8L1131 440.9L1131.6 441L1132.1 440.9L1132.7 440L1133.2 439.2L1133.8 438.4L1134.4 437.6L1134.9 436.7L1135.5 435.9L1136 435.3L1136.6 435.4L1137.1 435.5L1137.7 435.6L1138.2 435.7L1138.8 435.7L1139.3 435.8L1139.9 435.7L1140.5 434.9L1141 434.1L1141.6 433.4L1142.1 432.6L1142.7 431.9L1143.2 431.1L1143.8 430.7L1144.3 430.8L1144.9 430.8L1145.4 430.9L1146 431L1146.6 431L1147.1 431.1L1147.7 430.7L1148.2 430L1148.8 429.3L1149.3 428.7L1149.9 428L1150.4 427.4L1151 426.8L1151.5 426.8L1152.1 426.8L1152.6 426.9L1153.2 426.9L1153.8 427L1154.3 427L1154.9 426.8L1155.4 426.3L1156 425.7L1156.5 425.2L1157.1 424.6L1157.6 424.1L1158.2 423.6L1158.7 423.6L1159.3 423.7L1159.9 423.7L1160.4 423.8L1161 423.8L1161.5 423.8L1162.1 423.6L1162.6 423.2L1163.2 422.8L1163.7 422.4L1164.3 422L1164.8 421.6L1165.4 421.3L1166 421.3L1166.5 421.4L1167.1 421.4L1167.6 421.4L1168.2 421.4L1168.7 421.4L1169.3 421.2L1169.8 420.9L1170.4 420.6L1170.9 420.4L1171.5 420.1L1172.1 419.9L1172.6 419.8L1173.2 419.8L1173.7 419.9L1174.3 419.9L1174.8 419.9L1175.4 419.9L1175.9 419.8L1176.5 419.7L1177 419.5L1177.6 419.4L1178.1 419.2L1178.7 419.1L1179.3 419.1L1179.8 419.1L1180.4 419.1L1180.9 419.1L1181.5 419.1L1182 419.1L1182.6 419.1L1183.1 419.1L1183.7 419L1184.2 419L1184.8 419L1185.4 419L1185.9 419L1186.5 419L1187 419L1187.6 419.1L1188.1 419.2L1188.7 419.3L1189.2 419.4L1189.8 419.5L1190.3 419.5L1190.9 419.5L1191.5 419.5L1192 419.5L1192.6 419.5L1193.1 419.6L1193.7 419.8L1194.2 420.1L1194.8 420.3L1195.3 420.6L1195.9 421L1196.4 421.2L1197 421.3L1197.5 421.3L1198.1 421.3L1198.7 421.3L1199.2 421.3L1199.8 421.3L1200.3 421.7L1200.9 422.1L1201.4 422.6L1202 423L1202.5 423.5L1203.1 424L1203.6 424.2L1204.2 424.3L1204.8 424.3L1205.3 424.3L1205.9 424.3L1206.4 424.3L1207 424.5L1207.5 425.1L1208.1 425.7L1208.6 426.3L1209.2 426.9L1209.7 427.6L1210.3 428.3L1210.9 428.4L1211.4 428.4L1212 428.4L1212.5 428.4L1213.1 428.4L1213.6 428.4L1214.2 428.7L1214.7 429.4L1215.3 430.2L1215.8 430.9L1216.4 431.7L1217 432.5L1217.5 433.3L1218.1 433.4L1218.6 433.4L1219.2 433.4L1219.7 433.4L1220.3 433.4L1220.8 433.3L1221.4 433.5L1221.9 434.3L1222.5 435.2L1223 436L1223.6 436.9L1224.2 437.8L1224.7 438.7L1225.3 439.1L1225.8 439.1L1226.4 439L1226.9 438.9L1227.5 438.9L1228 438.8L1228.6 438.7L1229.1 439.2L1229.7 440.1L1230.3 441L1230.8 442L1231.4 442.9L1231.9 443.8L1232.5 444.7L1233 444.9L1233.6 444.7L1234.1 444.6L1234.7 444.5L1235.2 444.3L1235.8 444.1L1236.4 443.9L1236.9 444.5L1237.5 445.4L1238 446.3L1238.6 447.2L1239.1 448.1L1239.7 449L1240.2 449.9L1240.8 450.2L1241.3 449.9L1241.9 449.7L1242.5 449.4L1243 449.2L1243.6 448.9L1244.1 448.6L1244.7 448.6L1245.2 449.5L1245.8 450.3L1246.3 451.1L1246.9 452L1247.4 452.8L1248 453.6L1248.5 454.4L1249.1 454.1L1249.7 453.7L1250.2 453.3L1250.8 452.9L1251.3 452.5L1251.9 452.1L1252.4 451.7L1253 451.9L1253.5 452.6L1254.1 453.3L1254.6 454L1255.2 454.7L1255.8 455.4L1256.3 456.1L1256.9 456.8L1257.4 456.3L1258 455.8L1258.5 455.2L1259.1 454.7L1259.6 454.2L1260.2 453.6L1260.7 453L1261.3 453L1261.9 453.6L1262.4 454.2L1263 454.7L1263.5 455.3L1264.1 455.9L1264.6 456.4L1265.2 456.9L1265.7 456.5L1266.3 455.8L1266.8 455.1L1267.4 454.5L1268 453.8L1268.5 453.1L1269.1 452.4L1269.6 452L1270.2 452.4L1270.7 452.9L1271.3 453.3L1271.8 453.7L1272.4 454.1L1272.9 454.5L1273.5 454.9L1274 454.6L1274.6 453.8L1275.2 453L1275.7 452.3L1276.3 451.5L1276.8 450.7L1277.4 449.9L1277.9 449.2L1278.5 449.5L1279 449.8L1279.6 450.1L1280.1 450.4L1280.7 450.7L1281.3 451L1281.8 451.2L1282.4 450.9L1282.9 450L1283.5 449.2L1284 448.4L1284.6 447.5L1285.1 446.7L1285.7 445.8L1286.2 445.1L1286.8 445.3L1287.4 445.5L1287.9 445.7L1288.5 445.9L1289 446.1L1289.6 446.2L1290.1 446.4L1290.7 445.8L1291.2 445L1291.8 444.1L1292.3 443.3L1292.9 442.4L1293.4 441.6L1294 440.7L1294.6 440.3L1295.1 440.4L1295.7 440.6L1296.2 440.7L1296.8 440.8L1297.3 440.9L1297.9 441L1298.4 440.9L1299 440L1299.5 439.2L1300.1 438.4L1300.7 437.6L1301.2 436.7L1301.8 435.9L1302.3 435.3L1302.9 435.4L1303.4 435.5L1304 435.6L1304.5 435.7L1305.1 435.7L1305.6 435.8L1306.2 435.7L1306.8 434.9L1307.3 434.1L1307.9 433.4L1308.4 432.6L1309 431.9L1309.5 431.1L1310.1 430.7L1310.6 430.8L1311.2 430.8L1311.7 430.9L1312.3 431L1312.9 431L1313.4 431.1L1314 430.7L1314.5 430L1315.1 429.3L1315.6 428.7L1316.2 428L1316.7 427.4L1317.3 426.8L1317.8 426.8L1318.4 426.8L1318.9 426.9L1319.5 426.9L1320.1 427L1320.6 427L1321.2 426.8L1321.7 426.3L1322.3 425.7L1322.8 425.2L1323.4 424.6L1323.9 424.1L1324.5 423.6L1325 423.6L1325.6 423.7L1326.2 423.7L1326.7 423.8L1327.3 423.8L1327.8 423.8L1328.4 423.6L1328.9 423.2L1329.5 422.8L1330 422.4L1330.6 422L1331.1 421.6L1331.7 421.3L1332.3 421.3L1332.8 421.4L1333.4 421.4L1333.9 421.4L1334.5 421.4L1335 421.4L1335.6 421.2L1336.1 420.9L1336.7 420.6L1337.2 420.4L1337.8 420.1L1338.4 419.9L1338.9 419.8L1339.5 419.8L1340 419.9L1340.6 419.9L1341.1 419.9L1341.7 419.9L1342.2 419.8L1342.8 419.7L1343.3 419.5L1343.9 419.4L1344.4 419.2L1345 419.1L1345.6 419.1L1346.1 419.1L1346.7 419.1L1347.2 419.1L1347.8 419.1L1348.3 419.1L1348.9 419.1L1349.4 419.1L1350 419L1350.5 419L1351.1 419L1351.7 419L1352.2 419L1352.8 419L1353.3 419L1353.9 419.1L1354.4 419.2L1355 419.3L1355.5 419.4L1356.1 419.5L1356.6 419.5L1357.2 419.5L1357.8 419.5L1358.3 419.5L1358.9 419.5L1359.4 419.6L1360 419.8L1360.5 420.1L1361.1 420.3L1361.6 420.6L1362.2 421L1362.7 421.2L1363.3 421.3L1363.8 421.3L1364.4 421.3L1365 421.3L1365.5 421.3L1366.1 421.3L1366.6 421.7L1367.2 422.1L1367.7 422.6L1368.3 423L1368.8 423.5L1369.4 424L1369.9 424.2L1370.5 424.3L1371.1 424.3L1371.6 424.3L1372.2 424.3L1372.7 424.3L1373.3 424.5L1373.8 425.1L1374.4 425.7L1374.9 426.3L1375.5 426.9L1376 427.6L1376.6 428.3L1377.2 428.4L1377.7 428.4L1378.3 428.4L1378.8 428.4L1379.4 428.4L1379.9 428.4L1380.5 428.7L1381 429.4L1381.6 430.2L1382.1 430.9L1382.7 431.7L1383.3 432.5L1383.8 433.3L1384.4 433.4L1384.9 433.4L1385.5 433.4L1386 433.4L1386.6 433.4L1387.1 433.3L1387.7 433.5L1388.2 434.3L1388.8 435.2L1389.3 436L1389.9 436.9L1390.5 437.8L1391 438.7L1391.6 439.1L1392.1 439.1L1392.7 439L1393.2 438.9L1393.8 438.9L1394.3 438.8L1394.9 438.7L1395.4 439.2L1396 440.1L1396.6 441L1397.1 442L1397.7 442.9L1398.2 443.8L1398.8 444.7L1399.3 444.9L1399.9 444.7L1400.4 444.6L1401 444.5L1401.5 444.3L1402.1 444.1L1402.7 443.9L1403.2 444.5L1403.8 445.4L1404.3 446.3L1404.9 447.2L1405.4 448.1L1406 449L1406.5 449.9L1407.1 450.2L1407.6 449.9L1408.2 449.7L1408.8 449.4L1409.3 449.2L1409.9 448.9L1410.4 448.6L1411 448.6L1411.5 449.5L1412.1 450.3L1412.6 451.1L1413.2 452L1413.7 452.8L1414.3 453.6L1414.8 454.4L1415.4 454.1L1416 453.7L1416.5 453.3L1417.1 452.9L1417.6 452.5L1418.2 452.1L1418.7 451.7L1419.3 451.9L1419.8 452.6L1420.4 453.3L1420.9 454L1421.5 454.7L1422.1 455.4L1422.6 456.1L1423.2 456.8L1423.7 456.3L1424.3 455.8L1424.8 455.2L1425.4 454.7L1425.9 454.2L1426.5 453.6L1427 453L1427.6 453L1428.2 453.6L1428.7 454.2L1429.3 454.7L1429.8 455.3L1430.4 455.9L1430.9 456.4L1431.5 456.9L1432 456.5L1432.6 455.8L1433.1 455.1L1433.7 454.5L1434.2 453.8L1434.8 453.1L1435.4 452.4L1435.9 452L1436.5 452.4L1437 452.9L1437.6 453.3L1438.1 453.7L1438.7 454.1L1439.2 454.5L1439.8 454.9L1440.3 454.6L1440.9 453.8L1441.5 453L1442 452.3L1442.6 451.5L1443.1 450.7L1443.7 449.9L1444.2 449.2L1444.8 449.5L1445.3 449.8L1445.9 450.1L1446.4 450.4L1447 450.7L1447.6 451L1448.1 451.2L1448.7 450.9L1449.2 450L1449.8 449.2L1450.3 448.4L1450.9 447.5L1451.4 446.7L1452 445.8L1452.5 445.1L1453.1 445.3L1453.7 445.5L1454.2 445.7L1454.8 445.9L1455.3 446.1L1455.9 446.2L1456.4 446.4L1457 445.8L1457.5 445L1458.1 444.1L1458.6 443.3L1459.2 442.4L1459.7 441.6L1460.3 440.7L1460.9 440.3L1461.4 440.4L1462 440.6L1462.5 440.7L1463.1 440.8L1463.6 440.9L1464.2 441L1464.7 440.9L1465.3 440L1465.8 439.2L1466.4 438.4L1467 437.6L1467.5 436.7L1468.1 435.9L1468.6 435.3L1469.2 435.4L1469.7 435.5L1470.3 435.6L1470.8 435.7L1471.4 435.7L1471.9 435.8L1472.5 435.7L1473.1 434.9L1473.6 434.1L1474.2 433.4L1474.7 432.6L1475.3 431.9L1475.8 431.1L1476.4 430.7L1476.9 430.8L1477.5 430.8L1478 430.9L1478.6 431L1479.2 431L1479.7 431.1L1480.3 430.7L1480.8 430L1481.4 429.3L1481.9 428.7L1482.5 428L1483 427.4L1483.6 426.8L1484.1 426.8L1484.7 426.8L1485.2 426.9L1485.8 426.9L1486.4 427L1486.9 427L1487.5 426.8L1488 426.3L1488.6 425.7L1489.1 425.2L1489.7 424.6L1490.2 424.1L1490.8 423.6L1491.3 423.6L1491.9 423.7L1492.5 423.7L1493 423.8L1493.6 423.8L1494.1 423.8L1494.7 423.6L1495.2 423.2L1495.8 422.8L1496.3 422.4L1496.9 422L1497.4 421.6L1498 421.3L1498.6 421.3L1499.1 421.4L1499.7 421.4L1500.2 421.4L1500.8 421.4L1501.3 421.4L1501.9 421.2L1502.4 420.9L1503 420.6L1503.5 420.4L1504.1 420.1L1504.7 419.9L1505.2 419.8L1505.8 419.8L1506.3 419.9L1506.9 419.9L1507.4 419.9L1508 419.9L1508.5 419.8L1509.1 419.7L1509.6 419.5L1510.2 419.4L1510.7 419.2L1511.3 419.1L1511.9 419.1L1512.4 419.1L1513 419.1L1513.5 419.1L1514.1 419.1L1514.6 419.1L1515.2 419.1L1515.7 419.1L1516.3 419L1516.8 419L1517.4 419L1518 419L1518.5 419L1519.1 419L1519.6 419L1520.2 419.1L1520.7 419.2L1521.3 419.3L1521.8 419.4L1522.4 419.5L1522.9 419.5L1523.5 419.5L1524.1 419.5L1524.6 419.5L1525.2 419.5L1525.7 419.6L1526.3 419.8L1526.8 420.1L1527.4 420.3L1527.9 420.6L1528.5 421L1529 421.2L1529.6 421.3L1530.1 421.3L1530.7 421.3L1531.3 421.3L1531.8 421.3L1532.4 421.3L1532.9 421.7L1533.5 422.1L1534 422.6L1534.6 423L1535.1 423.5L1535.7 424L1536.2 424.2L1536.8 424.3L1537.4 424.3L1537.9 424.3L1538.5 424.3L1539 424.3L1539.6 424.5L1540.1 425.1L1540.7 425.7L1541.2 426.3L1541.8 426.9L1542.3 427.6L1542.9 428.3L1543.5 428.4L1544 428.4L1544.6 428.4L1545.1 428.4L1545.7 428.4L1546.2 428.4L1546.8 428.7L1547.3 429.4L1547.9 430.2L1548.4 430.9L1549 431.7L1549.6 432.5L1550.1 433.3L1550.7 433.4L1551.2 433.4L1551.8 433.4L1552.3 433.4L1552.9 433.4L1553.4 433.3L1554 433.5L1554.5 434.3L1555.1 435.2L1555.6 436L1556.2 436.9L1556.8 437.8L1557.3 438.7L1557.9 439.1L1558.4 439.1L1559 439L1559.5 438.9L1560.1 438.9L1560.6 438.8L1561.2 438.7L1561.7 439.2L1562.3 440.1L1562.9 441L1563.4 442L1564 442.9L1564.5 443.8L1565.1 444.7L1565.6 444.9L1566.2 444.7L1566.7 444.6L1567.3 444.5L1567.8 444.3L1568.4 444.1L1569 443.9L1569.5 444.5L1570.1 445.4L1570.6 446.3L1571.2 447.2L1571.7 448.1L1572.3 449L1572.8 449.9L1573.4 450.2L1573.9 449.9L1574.5 449.7L1575.1 449.4L1575.6 449.2L1576.2 448.9L1576.7 448.6L1577.3 448.6L1577.8 449.5L1578.4 450.3L1578.9 451.1L1579.5 452L1580 452.8L1580.6 453.6L1581.1 454.4L1581.7 454.1L1582.3 453.7L1582.8 453.3L1583.4 452.9L1583.9 452.5L1584.5 452.1L1585 451.7L1585.6 451.9L1586.1 452.6L1586.7 453.3L1587.2 454L1587.8 454.7L1588.4 455.4L1588.9 456.1L1589.5 456.8L1590 456.3L1590.6 455.8L1591.1 455.2L1591.7 454.7L1592.2 454.2L1592.8 453.6L1593.3 453L1593.9 453L1594.5 453.6L1595 454.2L1595.6 454.7L1596.1 455.3L1596.7 455.9L1597.2 456.4L1597.8 456.9L1598.3 456.5L1598.9 455.8L1599.4 455.1L1600 454.5L1600.5 453.8L1601.1 453.1L1601.7 452.4L1602.2 452L1602.8 452.4L1603.3 452.9L1603.9 453.3L1604.4 453.7L1605 454.1L1605.5 454.5L1606.1 454.9L1606.6 454.6L1607.2 453.8L1607.8 453L1608.3 452.3L1608.9 451.5L1609.4 450.7L1610 449.9L1610.5 449.2L1611.1 449.5L1611.6 449.8L1612.2 450.1L1612.7 450.4L1613.3 450.7L1613.9 451L1614.4 451.2L1615 450.9L1615.5 450L1616.1 449.2L1616.6 448.4L1617.2 447.5L1617.7 446.7L1618.3 445.8L1618.8 445.1L1619.4 445.3L1620 445.5L1620.5 445.7L1621.1 445.9L1621.6 446.1L1622.2 446.2L1622.7 446.4L1623.3 445.8L1623.8 445L1624.4 444.1L1624.9 443.3L1625.5 442.4L1626 441.6L1626.6 440.7L1627.2 440.3L1627.7 440.4L1628.3 440.6L1628.8 440.7L1629.4 440.8L1629.9 440.9L1630.5 441L1631 440.9L1631.6 440L1632.1 439.2L1632.7 438.4L1633.3 437.6L1633.8 436.7L1634.4 435.9L1634.9 435.3L1635.5 435.4L1636 435.5L1636.6 435.6L1637.1 435.7L1637.7 435.7L1638.2 435.8L1638.8 435.7L1639.4 434.9L1639.9 434.1L1640.5 433.4L1641 432.6L1641.6 431.9L1642.1 431.1L1642.7 430.7L1643.2 430.8L1643.8 430.8L1644.3 430.9L1644.9 431L1645.5 431L1646 431.1L1646.6 430.7L1647.1 430L1647.7 429.3L1648.2 428.7L1648.8 428L1649.3 427.4L1649.9 426.8L1650.4 426.8L1651 426.8L1651.5 426.9L1652.1 426.9L1652.7 427L1653.2 427L1653.8 426.8L1654.3 426.3L1654.9 425.7L1655.4 425.2L1656 424.6L1656.5 424.1L1657.1 423.6L1657.6 423.6L1658.2 423.7L1658.8 423.7L1659.3 423.8L1659.9 423.8L1660.4 423.8L1661 423.6L1661.5 423.2L1662.1 422.8L1662.6 422.4L1663.2 422L1663.7 421.6L1664.3 421.3L1664.9 421.3L1665.4 421.4L1666 421.4L1666.5 421.4L1667.1 421.4L1667.6 421.4L1668.2 421.2L1668.7 420.9L1669.3 420.6L1669.8 420.4L1670.4 420.1L1671 419.9L1671.5 419.8L1672.1 419.8L1672.6 419.9L1673.2 419.9L1673.7 419.9L1674.3 419.9L1674.8 419.8L1675.4 419.7L1675.9 419.5L1676.5 419.4L1677 419.2L1677.6 419.1L1678.2 419.1L1678.7 419.1L1679.3 419.1L1679.8 419.1L1680.4 419.1L1680.9 419.1L1681.5 419.1L1682 419.1L1682.6 419L1683.1 419L1683.7 419L1684.3 419L1684.8 419L1685.4 419L1685.9 419L1686.5 419.1L1687 419.2L1687.6 419.3L1688.1 419.4L1688.7 419.5L1689.2 419.5L1689.8 419.5L1690.4 419.5L1690.9 419.5L1691.5 419.5L1692 419.6L1692.6 419.8L1693.1 420.1L1693.7 420.3L1694.2 420.6L1694.8 421L1695.3 421.2L1695.9 421.3L1696.4 421.3L1697 421.3L1697.6 421.3L1698.1 421.3L1698.7 421.3L1699.2 421.7L1699.8 422.1L1700.3 422.6L1700.9 423L1701.4 423.5L1702 424L1702.5 424.2L1703.1 424.3L1703.7 424.3L1704.2 424.3L1704.8 424.3L1705.3 424.3L1705.9 424.5L1706.4 425.1L1707 425.7L1707.5 426.3L1708.1 426.9L1708.6 427.6L1709.2 428.3L1709.8 428.4L1710.3 428.4L1710.9 428.4L1711.4 428.4L1712 428.4L1712.5 428.4L1713.1 428.7L1713.6 429.4L1714.2 430.2L1714.7 430.9L1715.3 431.7L1715.9 432.5L1716.4 433.3L1717 433.4L1717.5 433.4L1718.1 433.4L1718.6 433.4L1719.2 433.4L1719.7 433.3L1720.3 433.5L1720.8 434.3L1721.4 435.2L1721.9 436L1722.5 436.9L1723.1 437.8L1723.6 438.7L1724.2 439.1L1724.7 439.1L1725.3 439L1725.8 438.9L1726.4 438.9L1726.9 438.8L1727.5 438.7L1728 439.2L1728.6 440.1L1729.2 441L1729.7 442L1730.3 442.9L1730.8 443.8L1731.4 444.7L1731.9 444.9L1732.5 444.7L1733 444.6L1733.6 444.5L1734.1 444.3L1734.7 444.1L1735.3 443.9L1735.8 444.5L1736.4 445.4L1736.9 446.3L1737.5 447.2L1738 448.1L1738.6 449L1739.1 449.9L1739.7 450.2L1740.2 449.9L1740.8 449.7L1741.4 449.4L1741.9 449.2L1742.5 448.9L1743 448.6L1743.6 448.6L1744.1 449.5L1744.7 450.3L1745.2 451.1L1745.8 452L1746.3 452.8L1746.9 453.6L1747.4 454.4L1748 454.1L1748.6 453.7L1749.1 453.3L1749.7 452.9L1750.2 452.5L1750.8 452.1L1751.3 451.7L1751.9 451.9L1752.4 452.6L1753 453.3L1753.5 454L1754.1 454.7L1754.7 455.4L1755.2 456.1L1755.8 456.8L1756.3 456.3L1756.9 455.8L1757.4 455.2L1758 454.7L1758.5 454.2L1759.1 453.6L1759.6 453L1760.2 453L1760.8 453.6L1761.3 454.2L1761.9 454.7L1762.4 455.3L1763 455.9L1763.5 456.4L1764.1 456.9L1764.6 456.5L1765.2 455.8L1765.7 455.1L1766.3 454.5L1766.8 453.8L1767.4 453.1L1768 452.4L1768.5 452L1769.1 452.4L1769.6 452.9L1770.2 453.3L1770.7 453.7L1771.3 454.1L1771.8 454.5L1772.4 454.9L1772.9 454.6L1773.5 453.8L1774.1 453L1774.6 452.3L1775.2 451.5L1775.7 450.7L1776.3 449.9L1776.8 449.2L1777.4 449.5L1777.9 449.8L1778.5 450.1L1779 450.4L1779.6 450.7L1780.2 451L1780.7 451.2L1781.3 450.9L1781.8 450L1782.4 449.2L1782.9 448.4L1783.5 447.5L1784 446.7L1784.6 445.8L1785.1 445.1L1785.7 445.3L1786.3 445.5L1786.8 445.7L1787.4 445.9L1787.9 446.1L1788.5 446.2L1789 446.4L1789.6 445.8L1790.1 445L1790.7 444.1L1791.2 443.3L1791.8 442.4L1792.3 441.6L1792.9 440.7L1793.5 440.3L1794 440.4L1794.6 440.6L1795.1 440.7L1795.7 440.8L1796.2 440.9L1796.8 441L1797.3 440.9L1797.9 440L1798.4 439.2L1799 438.4L1799.6 437.6L1800.1 436.7L1800.7 435.9L1801.2 435.3L1801.8 435.4L1802.3 435.5L1802.9 435.6L1803.4 435.7L1804 435.7L1804.5 435.8L1805.1 435.7L1805.7 434.9L1806.2 434.1L1806.8 433.4L1807.3 432.6L1807.9 431.9L1808.4 431.1L1809 430.7L1809.5 430.8L1810.1 430.8L1810.6 430.9L1811.2 431L1811.8 431L1812.3 431.1L1812.9 430.7L1813.4 430L1814 429.3L1814.5 428.7L1815.1 428L1815.6 427.4L1816.2 426.8L1816.7 426.8L1817.3 426.8L1817.8 426.9L1818.4 426.9L1819 427L1819.5 427L1820.1 426.8L1820.6 426.3L1821.2 425.7L1821.7 425.2L1822.3 424.6L1822.8 424.1L1823.4 423.6L1823.9 423.6L1824.5 423.7L1825.1 423.7L1825.6 423.8L1826.2 423.8L1826.7 423.8L1827.3 423.6L1827.8 423.2L1828.4 422.8L1828.9 422.4L1829.5 422L1830 421.6L1830.6 421.3L1831.2 421.3L1831.7 421.4L1832.3 421.4L1832.8 421.4L1833.4 421.4L1833.9 421.4L1834.5 421.2L1835 420.9L1835.6 420.6L1836.1 420.4L1836.7 420.1L1837.3 419.9L1837.8 419.8L1838.4 419.8L1838.9 419.9L1839.5 419.9L1840 419.9L1840.6 419.9L1841.1 419.8L1841.7 419.7L1842.2 419.5L1842.8 419.4L1843.3 419.2L1843.9 419.1L1844.5 419.1L1845 419.1L1845.6 419.1L1846.1 419.1L1846.7 419.1L1847.2 419.1L1847.8 419.1L1848.3 419.1L1848.9 419L1849.4 419L1850 419" stroke="#000000" stroke-width="6"/>
</g>
<path d="M187 47H1850V791H187ZM353.3 791v-17M353.3 47v17M519.6 791v-17M519.6 47v17M685.9 791v-17M685.9 47v17M852.2 791v-17M852.2 47v17M1018.5 791v-17M1018.5 47v17M1184.8 791v-17M1184.8 47v17M1351.1 791v-17M1351.1 47v17M1517.4 791v-17M1517.4 47v17M1683.7 791v-17M1683.7 47v17M187 140h17M187 233h17M187 326h17M187 419h17M187 512h17M187 605h17M187 698h17M1850 171h-17M1850 295h-17M1850 419h-17M1850 543h-17M1850 667h-17" stroke="#000" stroke-width="2" fill="none" shape-rendering="crispEdges"/>
<g font-family="&quot;Liberation Serif&quot;, &quot;Times New Roman&quot;, serif" font-size="49.5" fill="#000" stroke="#000" stroke-width="1.1">
<text x="172" y="64" text-anchor="end">800</text>
<text x="172" y="157" text-anchor="end">600</text>
<text x="172" y="250" text-anchor="end">400</text>
<text x="172" y="343" text-anchor="end">200</text>
<text x="172" y="436" text-anchor="end">0</text>
<text x="172" y="529" text-anchor="end">-200</text>
<text x="172" y="622" text-anchor="end">-400</text>
<text x="172" y="715" text-anchor="end">-600</text>
<text x="172" y="808" text-anchor="end">-800</text>
<text x="1866" y="64">15</text>
<text x="1866" y="188">10</text>
<text x="1866" y="312">5</text>
<text x="1866" y="436">0</text>
<text x="1866" y="560">-5</text>
<text x="1866" y="684">-10</text>
<text x="1866" y="808">-15</text>
<text x="187" y="852" text-anchor="middle">0.68</text>
<text x="353.3" y="852" text-anchor="middle">0.69</text>
<text x="519.6" y="852" text-anchor="middle">0.7</text>
<text x="685.9" y="852" text-anchor="middle">0.71</text>
<text x="852.2" y="852" text-anchor="middle">0.72</text>
<text x="1018.5" y="852" text-anchor="middle">0.73</text>
<text x="1184.8" y="852" text-anchor="middle">0.74</text>
<text x="1351.1" y="852" text-anchor="middle">0.75</text>
<text x="1517.4" y="852" text-anchor="middle">0.76</text>
<text x="1683.7" y="852" text-anchor="middle">0.77</text>
<text x="1850" y="852" text-anchor="middle">0.78</text>
<text x="1016" y="916" font-size="55" text-anchor="middle">Time (s)</text>
<text transform="translate(63 422) rotate(-90)" font-size="55" text-anchor="middle">Voltage (V)</text>
<text transform="translate(1987 418) rotate(-90)" font-size="55" text-anchor="middle">Current (A)</text>
</g>
<text x="93.9" y="250.8" font-family="&quot;Liberation Serif&quot;, &quot;Times New Roman&quot;, serif" font-size="51" fill="#00ff00" text-anchor="end">0</text>
<text transform="translate(996 1006.4) scale(0.91 1)" font-family="&quot;Liberation Serif&quot;, &quot;Times New Roman&quot;, serif" font-size="75" font-style="italic" fill="#262626" text-anchor="middle">(a)</text>
<text x="211" y="218.2" font-family="&quot;Liberation Serif&quot;, &quot;Times New Roman&quot;, serif" font-style="italic" fill="#00ff00"><tspan font-size="66" stroke="#00ff00" stroke-width="0.6">v</tspan><tspan font-size="44" dy="9.5">ab</tspan></text>
<text x="236.2" y="335.2" font-family="&quot;Liberation Serif&quot;, &quot;Times New Roman&quot;, serif" font-style="italic" fill="#0044cc"><tspan font-size="66" stroke="#0044cc" stroke-width="0.6">v</tspan><tspan font-size="44" dy="9.3">g</tspan></text>
<text x="364.2" y="363.9" font-family="&quot;Liberation Serif&quot;, &quot;Times New Roman&quot;, serif" font-style="italic" fill="#e02ad0"><tspan font-size="66" stroke="#e02ad0" stroke-width="0.6">i</tspan><tspan font-size="44" dy="7.8">g</tspan></text>
<text x="557.3" y="424.7" font-family="&quot;Liberation Serif&quot;, &quot;Times New Roman&quot;, serif" font-style="italic" fill="#000000"><tspan font-size="66" stroke="#000000" stroke-width="0.6">i</tspan><tspan font-size="44" dy="8.2">IN</tspan></text>
<text x="737.3" y="532.1" font-family="&quot;Liberation Serif&quot;, &quot;Times New Roman&quot;, serif" font-style="italic" fill="#ff0000"><tspan font-size="66" stroke="#ff0000" stroke-width="0.6">i</tspan><tspan font-size="44" dy="7.9">L</tspan></text>
<clipPath id="cb"><rect x="193" y="1098" width="1653" height="745"/></clipPath>
<path d="M358.5 1101V1840M523.5 1101V1840M688.5 1101V1840M854.5 1101V1840M1019.5 1101V1840M1184.5 1101V1840M1350.5 1101V1840M1515.5 1101V1840M1680.5 1101V1840M193 1193.5H1846M193 1285.5H1846M193 1378.5H1846M193 1470.5H1846M193 1562.5H1846M193 1655.5H1846M193 1747.5H1846" stroke="#d6d6d6" stroke-width="1" fill="none"/>
<g clip-path="url(#cb)" fill="none" stroke-linejoin="round" stroke-linecap="round">
<path d="M193 1287L193.6 1284.9L194.1 1282.6L194.7 1280.3L195.2 1277.7L195.8 1275.1L196.3 1272.3L196.9 1269.3L197.4 1267.8L198 1268.8L198.5 1270.3L199.1 1270.8L199.6 1268L200.2 1265.1L200.7 1262.1L201.3 1259L201.8 1255.8L202.4 1252.8L202.9 1249.8L203.5 1246.8L204 1243.9L204.6 1246.4L205.1 1248.9L205.7 1251.4L206.2 1249.6L206.8 1246.6L207.3 1243.7L207.9 1240.8L208.4 1237.9L209 1234.9L209.5 1232L210.1 1229.1L210.6 1226.2L211.2 1225.8L211.7 1228.2L212.3 1230.5L212.8 1232.4L213.4 1229.5L213.9 1226.7L214.5 1223.8L215 1221L215.6 1218.2L216.1 1215.3L216.7 1212.5L217.2 1209.7L217.8 1206.9L218.3 1207.8L218.9 1210L219.4 1212.2L220 1213.8L220.6 1211.1L221.1 1208.3L221.7 1205.6L222.2 1202.8L222.8 1200.1L223.3 1197.4L223.9 1194.7L224.4 1192L225 1189.3L225.5 1190.1L226.1 1192.2L226.6 1194.2L227.2 1196.2L227.7 1194.7L228.3 1192.1L228.8 1189.5L229.4 1186.9L229.9 1184.2L230.5 1181.6L231 1179L231.6 1176.4L232.1 1173.7L232.7 1172.9L233.2 1175L233.8 1177L234.3 1179L234.9 1181.1L235.4 1178.7L236 1176.1L236.5 1173.6L237.1 1171L237.6 1168.5L238.2 1165.8L238.7 1163.2L239.3 1160.5L239.8 1157.8L240.4 1158.3L240.9 1160.5L241.5 1162.9L242 1165.2L242.6 1167.7L243.1 1166.7L243.7 1164.1L244.2 1161.4L244.8 1158.7L245.3 1156L245.9 1153.1L246.4 1150.2L247 1147.2L247.5 1144L248.1 1143.8L248.7 1146.7L249.2 1149.7L249.8 1152.9L250.3 1156.2L250.9 1159.6L251.4 1157.3L252 1154.2L252.5 1151.1L253.1 1147.8L253.6 1144.4L254.2 1140.8L254.7 1137.2L255.3 1133.3L255.8 1129.4L256.4 1132.6L256.9 1136.6L257.5 1140.8L258 1145.1L258.6 1149.6L259.1 1154.2L259.7 1153.6L260.2 1149.7L260.8 1145.6L261.3 1141.4L261.9 1137.1L262.4 1132.5L263 1127.8L263.5 1123L264.1 1118L264.6 1123L265.2 1128.2L265.7 1133.4L266.3 1138.7L266.8 1144.1L267.4 1149.6L267.9 1155.2L268.5 1150.4L269 1145.3L269.6 1140.2L270.1 1134.9L270.7 1129.5L271.2 1124L271.8 1118.4L272.3 1112.8L272.9 1116.7L273.4 1122.4L274 1128.1L274.5 1133.8L275.1 1139.5L275.7 1145.1L276.2 1150.7L276.8 1154.4L277.3 1148.8L277.9 1143.1L278.4 1137.5L279 1131.8L279.5 1126.1L280.1 1120.4L280.6 1114.8L281.2 1116.2L281.7 1121.8L282.3 1127.2L282.8 1132.4L283.4 1137.6L283.9 1142.6L284.5 1147.5L285 1152.2L285.6 1153.3L286.1 1147.9L286.7 1142.6L287.2 1137.4L287.8 1132.3L288.3 1127.4L288.9 1122.5L289.4 1122.7L290 1127.4L290.5 1131.9L291.1 1136.3L291.6 1140.5L292.2 1144.5L292.7 1148.4L293.3 1152.2L293.8 1155.8L294.4 1153L294.9 1148.8L295.5 1144.6L296 1140.7L296.6 1136.9L297.1 1133.2L297.7 1134.5L298.2 1138.2L298.8 1141.7L299.3 1145.1L299.9 1148.4L300.4 1151.6L301 1154.6L301.5 1157.6L302.1 1160.4L302.6 1159.5L303.2 1156.4L303.8 1153.4L304.3 1150.6L304.9 1147.9L305.4 1146.3L306 1149.3L306.5 1152.2L307.1 1155.1L307.6 1157.8L308.2 1160.6L308.7 1163.2L309.3 1165.8L309.8 1168.4L310.4 1170.9L310.9 1168.9L311.5 1166.6L312 1164.4L312.6 1162.2L313.1 1160.6L313.7 1163.3L314.2 1166L314.8 1168.6L315.3 1171.2L315.9 1173.8L316.4 1176.4L317 1178.9L317.5 1181.5L318.1 1184L318.6 1182.9L319.2 1180.9L319.7 1178.9L320.3 1176.9L320.8 1177.1L321.4 1179.7L321.9 1182.4L322.5 1185L323 1187.7L323.6 1190.3L324.1 1193L324.7 1195.6L325.2 1198.2L325.8 1200.4L326.3 1198.4L326.9 1196.3L327.4 1194.2L328 1193.1L328.5 1195.9L329.1 1198.6L329.6 1201.3L330.2 1204.1L330.7 1206.8L331.3 1209.6L331.9 1212.4L332.4 1215.1L333 1217.9L333.5 1216.5L334.1 1214.2L334.6 1212L335.2 1211.2L335.7 1214L336.3 1216.8L336.8 1219.7L337.4 1222.6L337.9 1225.4L338.5 1228.3L339 1231.1L339.6 1234L340.1 1236.9L340.7 1234.8L341.2 1232.4L341.8 1230L342.3 1230.9L342.9 1233.8L343.4 1236.7L344 1239.6L344.5 1242.6L345.1 1245.5L345.6 1248.4L346.2 1251.4L346.7 1254.3L347.3 1255.7L347.8 1253.1L348.4 1250.6L348.9 1248.7L349.5 1251.7L350 1254.9L350.6 1258.2L351.1 1261.4L351.7 1264.5L352.2 1267.4L352.8 1270.2L353.3 1272.9L353.9 1275.5L354.4 1274.9L355 1274.1L355.5 1273.6L356.1 1275.7L356.6 1278.4L357.2 1281L357.7 1283.5L358.3 1287L358.9 1284.9L359.4 1282.6L360 1280.3L360.5 1277.7L361.1 1275.1L361.6 1272.3L362.2 1269.3L362.7 1267.8L363.3 1268.8L363.8 1270.3L364.4 1270.8L364.9 1268L365.5 1265.1L366 1262.1L366.6 1259L367.1 1255.8L367.7 1252.8L368.2 1249.8L368.8 1246.8L369.3 1243.9L369.9 1246.4L370.4 1248.9L371 1251.4L371.5 1249.6L372.1 1246.6L372.6 1243.7L373.2 1240.8L373.7 1237.9L374.3 1234.9L374.8 1232L375.4 1229.1L375.9 1226.2L376.5 1225.8L377 1228.2L377.6 1230.5L378.1 1232.4L378.7 1229.5L379.2 1226.7L379.8 1223.8L380.3 1221L380.9 1218.2L381.4 1215.3L382 1212.5L382.5 1209.7L383.1 1206.9L383.6 1207.8L384.2 1210L384.7 1212.2L385.3 1213.8L385.9 1211.1L386.4 1208.3L387 1205.6L387.5 1202.8L388.1 1200.1L388.6 1197.4L389.2 1194.7L389.7 1192L390.3 1189.3L390.8 1190.1L391.4 1192.2L391.9 1194.2L392.5 1196.2L393 1194.7L393.6 1192.1L394.1 1189.5L394.7 1186.9L395.2 1184.2L395.8 1181.6L396.3 1179L396.9 1176.4L397.4 1173.7L398 1172.9L398.5 1175L399.1 1177L399.6 1179L400.2 1181.1L400.7 1178.7L401.3 1176.1L401.8 1173.6L402.4 1171L402.9 1168.5L403.5 1165.8L404 1163.2L404.6 1160.5L405.1 1157.8L405.7 1158.3L406.2 1160.5L406.8 1162.9L407.3 1165.2L407.9 1167.7L408.4 1166.7L409 1164.1L409.5 1161.4L410.1 1158.7L410.6 1156L411.2 1153.1L411.7 1150.2L412.3 1147.2L412.8 1144L413.4 1143.8L414 1146.7L414.5 1149.7L415.1 1152.9L415.6 1156.2L416.2 1159.6L416.7 1157.3L417.3 1154.2L417.8 1151.1L418.4 1147.8L418.9 1144.4L419.5 1140.8L420 1137.2L420.6 1133.3L421.1 1129.4L421.7 1132.6L422.2 1136.6L422.8 1140.8L423.3 1145.1L423.9 1149.6L424.4 1154.2L425 1153.6L425.5 1149.7L426.1 1145.6L426.6 1141.4L427.2 1137.1L427.7 1132.5L428.3 1127.8L428.8 1123L429.4 1118L429.9 1123L430.5 1128.2L431 1133.4L431.6 1138.7L432.1 1144.1L432.7 1149.6L433.2 1155.2L433.8 1150.4L434.3 1145.3L434.9 1140.2L435.4 1134.9L436 1129.5L436.5 1124L437.1 1118.4L437.6 1112.8L438.2 1116.7L438.7 1122.4L439.3 1128.1L439.8 1133.8L440.4 1139.5L441 1145.1L441.5 1150.7L442.1 1154.4L442.6 1148.8L443.2 1143.1L443.7 1137.5L444.3 1131.8L444.8 1126.1L445.4 1120.4L445.9 1114.8L446.5 1116.2L447 1121.8L447.6 1127.2L448.1 1132.4L448.7 1137.6L449.2 1142.6L449.8 1147.5L450.3 1152.2L450.9 1153.3L451.4 1147.9L452 1142.6L452.5 1137.4L453.1 1132.3L453.6 1127.4L454.2 1122.5L454.7 1122.7L455.3 1127.4L455.8 1131.9L456.4 1136.3L456.9 1140.5L457.5 1144.5L458 1148.4L458.6 1152.2L459.1 1155.8L459.7 1153L460.2 1148.8L460.8 1144.6L461.3 1140.7L461.9 1136.9L462.4 1133.2L463 1134.5L463.5 1138.2L464.1 1141.7L464.6 1145.1L465.2 1148.4L465.7 1151.6L466.3 1154.6L466.8 1157.6L467.4 1160.4L467.9 1159.5L468.5 1156.4L469.1 1153.4L469.6 1150.6L470.2 1147.9L470.7 1146.3L471.3 1149.3L471.8 1152.2L472.4 1155.1L472.9 1157.8L473.5 1160.6L474 1163.2L474.6 1165.8L475.1 1168.4L475.7 1170.9L476.2 1168.9L476.8 1166.6L477.3 1164.4L477.9 1162.2L478.4 1160.6L479 1163.3L479.5 1166L480.1 1168.6L480.6 1171.2L481.2 1173.8L481.7 1176.4L482.3 1178.9L482.8 1181.5L483.4 1184L483.9 1182.9L484.5 1180.9L485 1178.9L485.6 1176.9L486.1 1177.1L486.7 1179.7L487.2 1182.4L487.8 1185L488.3 1187.7L488.9 1190.3L489.4 1193L490 1195.6L490.5 1198.2L491.1 1200.4L491.6 1198.4L492.2 1196.3L492.7 1194.2L493.3 1193.1L493.8 1195.9L494.4 1198.6L494.9 1201.3L495.5 1204.1L496 1206.8L496.6 1209.6L497.2 1212.4L497.7 1215.1L498.3 1217.9L498.8 1216.5L499.4 1214.2L499.9 1212L500.5 1211.2L501 1214L501.6 1216.8L502.1 1219.7L502.7 1222.6L503.2 1225.4L503.8 1228.3L504.3 1231.1L504.9 1234L505.4 1236.9L506 1234.8L506.5 1232.4L507.1 1230L507.6 1230.9L508.2 1233.8L508.7 1236.7L509.3 1239.6L509.8 1242.6L510.4 1245.5L510.9 1248.4L511.5 1251.4L512 1254.3L512.6 1255.7L513.1 1253.1L513.7 1250.6L514.2 1248.7L514.8 1251.7L515.3 1254.9L515.9 1258.2L516.4 1261.4L517 1264.5L517.5 1267.4L518.1 1270.2L518.6 1272.9L519.2 1275.5L519.7 1274.9L520.3 1274.1L520.8 1273.6L521.4 1275.7L521.9 1278.4L522.5 1281L523 1283.5L523.6 1287L524.2 1284.9L524.7 1282.6L525.3 1280.3L525.8 1277.7L526.4 1275.1L526.9 1272.3L527.5 1269.3L528 1267.8L528.6 1268.8L529.1 1270.3L529.7 1270.8L530.2 1268L530.8 1265.1L531.3 1262.1L531.9 1259L532.4 1255.8L533 1252.8L533.5 1249.8L534.1 1246.8L534.6 1243.9L535.2 1246.4L535.7 1248.9L536.3 1251.4L536.8 1249.6L537.4 1246.6L537.9 1243.7L538.5 1240.8L539 1237.9L539.6 1234.9L540.1 1232L540.7 1229.1L541.2 1226.2L541.8 1225.8L542.3 1228.2L542.9 1230.5L543.4 1232.4L544 1229.5L544.5 1226.7L545.1 1223.8L545.6 1221L546.2 1218.2L546.7 1215.3L547.3 1212.5L547.8 1209.7L548.4 1206.9L548.9 1207.8L549.5 1210L550 1212.2L550.6 1213.8L551.1 1211.1L551.7 1208.3L552.3 1205.6L552.8 1202.8L553.4 1200.1L553.9 1197.4L554.5 1194.7L555 1192L555.6 1189.3L556.1 1190.1L556.7 1192.2L557.2 1194.2L557.8 1196.2L558.3 1194.7L558.9 1192.1L559.4 1189.5L560 1186.9L560.5 1184.2L561.1 1181.6L561.6 1179L562.2 1176.4L562.7 1173.7L563.3 1172.9L563.8 1175L564.4 1177L564.9 1179L565.5 1181.1L566 1178.7L566.6 1176.1L567.1 1173.6L567.7 1171L568.2 1168.5L568.8 1165.8L569.3 1163.2L569.9 1160.5L570.4 1157.8L571 1158.3L571.5 1160.5L572.1 1162.9L572.6 1165.2L573.2 1167.7L573.7 1166.7L574.3 1164.1L574.8 1161.4L575.4 1158.7L575.9 1156L576.5 1153.1L577 1150.2L577.6 1147.2L578.1 1144L578.7 1143.8L579.3 1146.7L579.8 1149.7L580.4 1152.9L580.9 1156.2L581.5 1159.6L582 1157.3L582.6 1154.2L583.1 1151.1L583.7 1147.8L584.2 1144.4L584.8 1140.8L585.3 1137.2L585.9 1133.3L586.4 1129.4L587 1132.6L587.5 1136.6L588.1 1140.8L588.6 1145.1L589.2 1149.6L589.7 1154.2L590.3 1153.6L590.8 1149.7L591.4 1145.6L591.9 1141.4L592.5 1137.1L593 1132.5L593.6 1127.8L594.1 1123L594.7 1118L595.2 1123L595.8 1128.2L596.3 1133.4L596.9 1138.7L597.4 1144.1L598 1149.6L598.5 1155.2L599.1 1150.4L599.6 1145.3L600.2 1140.2L600.7 1134.9L601.3 1129.5L601.8 1124L602.4 1118.4L602.9 1112.8L603.5 1116.7L604 1122.4L604.6 1128.1L605.1 1133.8L605.7 1139.5L606.3 1145.1L606.8 1150.7L607.4 1154.4L607.9 1148.8L608.5 1143.1L609 1137.5L609.6 1131.8L610.1 1126.1L610.7 1120.4L611.2 1114.8L611.8 1116.2L612.3 1121.8L612.9 1127.2L613.4 1132.4L614 1137.6L614.5 1142.6L615.1 1147.5L615.6 1152.2L616.2 1153.3L616.7 1147.9L617.3 1142.6L617.8 1137.4L618.4 1132.3L618.9 1127.4L619.5 1122.5L620 1122.7L620.6 1127.4L621.1 1131.9L621.7 1136.3L622.2 1140.5L622.8 1144.5L623.3 1148.4L623.9 1152.2L624.4 1155.8L625 1153L625.5 1148.8L626.1 1144.6L626.6 1140.7L627.2 1136.9L627.7 1133.2L628.3 1134.5L628.8 1138.2L629.4 1141.7L629.9 1145.1L630.5 1148.4L631 1151.6L631.6 1154.6L632.1 1157.6L632.7 1160.4L633.2 1159.5L633.8 1156.4L634.4 1153.4L634.9 1150.6L635.5 1147.9L636 1146.3L636.6 1149.3L637.1 1152.2L637.7 1155.1L638.2 1157.8L638.8 1160.6L639.3 1163.2L639.9 1165.8L640.4 1168.4L641 1170.9L641.5 1168.9L642.1 1166.6L642.6 1164.4L643.2 1162.2L643.7 1160.6L644.3 1163.3L644.8 1166L645.4 1168.6L645.9 1171.2L646.5 1173.8L647 1176.4L647.6 1178.9L648.1 1181.5L648.7 1184L649.2 1182.9L649.8 1180.9L650.3 1178.9L650.9 1176.9L651.4 1177.1L652 1179.7L652.5 1182.4L653.1 1185L653.6 1187.7L654.2 1190.3L654.7 1193L655.3 1195.6L655.8 1198.2L656.4 1200.4L656.9 1198.4L657.5 1196.3L658 1194.2L658.6 1193.1L659.1 1195.9L659.7 1198.6L660.2 1201.3L660.8 1204.1L661.3 1206.8L661.9 1209.6L662.5 1212.4L663 1215.1L663.6 1217.9L664.1 1216.5L664.7 1214.2L665.2 1212L665.8 1211.2L666.3 1214L666.9 1216.8L667.4 1219.7L668 1222.6L668.5 1225.4L669.1 1228.3L669.6 1231.1L670.2 1234L670.7 1236.9L671.3 1234.8L671.8 1232.4L672.4 1230L672.9 1230.9L673.5 1233.8L674 1236.7L674.6 1239.6L675.1 1242.6L675.7 1245.5L676.2 1248.4L676.8 1251.4L677.3 1254.3L677.9 1255.7L678.4 1253.1L679 1250.6L679.5 1248.7L680.1 1251.7L680.6 1254.9L681.2 1258.2L681.7 1261.4L682.3 1264.5L682.8 1267.4L683.4 1270.2L683.9 1272.9L684.5 1275.5L685 1274.9L685.6 1274.1L686.1 1273.6L686.7 1275.7L687.2 1278.4L687.8 1281L688.3 1283.5L688.9 1287L689.5 1284.9L690 1282.6L690.6 1280.3L691.1 1277.7L691.7 1275.1L692.2 1272.3L692.8 1269.3L693.3 1267.8L693.9 1268.8L694.4 1270.3L695 1270.8L695.5 1268L696.1 1265.1L696.6 1262.1L697.2 1259L697.7 1255.8L698.3 1252.8L698.8 1249.8L699.4 1246.8L699.9 1243.9L700.5 1246.4L701 1248.9L701.6 1251.4L702.1 1249.6L702.7 1246.6L703.2 1243.7L703.8 1240.8L704.3 1237.9L704.9 1234.9L705.4 1232L706 1229.1L706.5 1226.2L707.1 1225.8L707.6 1228.2L708.2 1230.5L708.7 1232.4L709.3 1229.5L709.8 1226.7L710.4 1223.8L710.9 1221L711.5 1218.2L712 1215.3L712.6 1212.5L713.1 1209.7L713.7 1206.9L714.2 1207.8L714.8 1210L715.3 1212.2L715.9 1213.8L716.4 1211.1L717 1208.3L717.6 1205.6L718.1 1202.8L718.7 1200.1L719.2 1197.4L719.8 1194.7L720.3 1192L720.9 1189.3L721.4 1190.1L722 1192.2L722.5 1194.2L723.1 1196.2L723.6 1194.7L724.2 1192.1L724.7 1189.5L725.3 1186.9L725.8 1184.2L726.4 1181.6L726.9 1179L727.5 1176.4L728 1173.7L728.6 1172.9L729.1 1175L729.7 1177L730.2 1179L730.8 1181.1L731.3 1178.7L731.9 1176.1L732.4 1173.6L733 1171L733.5 1168.5L734.1 1165.8L734.6 1163.2L735.2 1160.5L735.7 1157.8L736.3 1158.3L736.8 1160.5L737.4 1162.9L737.9 1165.2L738.5 1167.7L739 1166.7L739.6 1164.1L740.1 1161.4L740.7 1158.7L741.2 1156L741.8 1153.1L742.3 1150.2L742.9 1147.2L743.4 1144L744 1143.8L744.6 1146.7L745.1 1149.7L745.7 1152.9L746.2 1156.2L746.8 1159.6L747.3 1157.3L747.9 1154.2L748.4 1151.1L749 1147.8L749.5 1144.4L750.1 1140.8L750.6 1137.2L751.2 1133.3L751.7 1129.4L752.3 1132.6L752.8 1136.6L753.4 1140.8L753.9 1145.1L754.5 1149.6L755 1154.2L755.6 1153.6L756.1 1149.7L756.7 1145.6L757.2 1141.4L757.8 1137.1L758.3 1132.5L758.9 1127.8L759.4 1123L760 1118L760.5 1123L761.1 1128.2L761.6 1133.4L762.2 1138.7L762.7 1144.1L763.3 1149.6L763.8 1155.2L764.4 1150.4L764.9 1145.3L765.5 1140.2L766 1134.9L766.6 1129.5L767.1 1124L767.7 1118.4L768.2 1112.8L768.8 1116.7L769.3 1122.4L769.9 1128.1L770.4 1133.8L771 1139.5L771.6 1145.1L772.1 1150.7L772.7 1154.4L773.2 1148.8L773.8 1143.1L774.3 1137.5L774.9 1131.8L775.4 1126.1L776 1120.4L776.5 1114.8L777.1 1116.2L777.6 1121.8L778.2 1127.2L778.7 1132.4L779.3 1137.6L779.8 1142.6L780.4 1147.5L780.9 1152.2L781.5 1153.3L782 1147.9L782.6 1142.6L783.1 1137.4L783.7 1132.3L784.2 1127.4L784.8 1122.5L785.3 1122.7L785.9 1127.4L786.4 1131.9L787 1136.3L787.5 1140.5L788.1 1144.5L788.6 1148.4L789.2 1152.2L789.7 1155.8L790.3 1153L790.8 1148.8L791.4 1144.6L791.9 1140.7L792.5 1136.9L793 1133.2L793.6 1134.5L794.1 1138.2L794.7 1141.7L795.2 1145.1L795.8 1148.4L796.3 1151.6L796.9 1154.6L797.4 1157.6L798 1160.4L798.5 1159.5L799.1 1156.4L799.7 1153.4L800.2 1150.6L800.8 1147.9L801.3 1146.3L801.9 1149.3L802.4 1152.2L803 1155.1L803.5 1157.8L804.1 1160.6L804.6 1163.2L805.2 1165.8L805.7 1168.4L806.3 1170.9L806.8 1168.9L807.4 1166.6L807.9 1164.4L808.5 1162.2L809 1160.6L809.6 1163.3L810.1 1166L810.7 1168.6L811.2 1171.2L811.8 1173.8L812.3 1176.4L812.9 1178.9L813.4 1181.5L814 1184L814.5 1182.9L815.1 1180.9L815.6 1178.9L816.2 1176.9L816.7 1177.1L817.3 1179.7L817.8 1182.4L818.4 1185L818.9 1187.7L819.5 1190.3L820 1193L820.6 1195.6L821.1 1198.2L821.7 1200.4L822.2 1198.4L822.8 1196.3L823.3 1194.2L823.9 1193.1L824.4 1195.9L825 1198.6L825.5 1201.3L826.1 1204.1L826.6 1206.8L827.2 1209.6L827.8 1212.4L828.3 1215.1L828.9 1217.9L829.4 1216.5L830 1214.2L830.5 1212L831.1 1211.2L831.6 1214L832.2 1216.8L832.7 1219.7L833.3 1222.6L833.8 1225.4L834.4 1228.3L834.9 1231.1L835.5 1234L836 1236.9L836.6 1234.8L837.1 1232.4L837.7 1230L838.2 1230.9L838.8 1233.8L839.3 1236.7L839.9 1239.6L840.4 1242.6L841 1245.5L841.5 1248.4L842.1 1251.4L842.6 1254.3L843.2 1255.7L843.7 1253.1L844.3 1250.6L844.8 1248.7L845.4 1251.7L845.9 1254.9L846.5 1258.2L847 1261.4L847.6 1264.5L848.1 1267.4L848.7 1270.2L849.2 1272.9L849.8 1275.5L850.3 1274.9L850.9 1274.1L851.4 1273.6L852 1275.7L852.5 1278.4L853.1 1281L853.6 1283.5L854.2 1287L854.8 1284.9L855.3 1282.6L855.9 1280.3L856.4 1277.7L857 1275.1L857.5 1272.3L858.1 1269.3L858.6 1267.8L859.2 1268.8L859.7 1270.3L860.3 1270.8L860.8 1268L861.4 1265.1L861.9 1262.1L862.5 1259L863 1255.8L863.6 1252.8L864.1 1249.8L864.7 1246.8L865.2 1243.9L865.8 1246.4L866.3 1248.9L866.9 1251.4L867.4 1249.6L868 1246.6L868.5 1243.7L869.1 1240.8L869.6 1237.9L870.2 1234.9L870.7 1232L871.3 1229.1L871.8 1226.2L872.4 1225.8L872.9 1228.2L873.5 1230.5L874 1232.4L874.6 1229.5L875.1 1226.7L875.7 1223.8L876.2 1221L876.8 1218.2L877.3 1215.3L877.9 1212.5L878.4 1209.7L879 1206.9L879.5 1207.8L880.1 1210L880.6 1212.2L881.2 1213.8L881.7 1211.1L882.3 1208.3L882.9 1205.6L883.4 1202.8L884 1200.1L884.5 1197.4L885.1 1194.7L885.6 1192L886.2 1189.3L886.7 1190.1L887.3 1192.2L887.8 1194.2L888.4 1196.2L888.9 1194.7L889.5 1192.1L890 1189.5L890.6 1186.9L891.1 1184.2L891.7 1181.6L892.2 1179L892.8 1176.4L893.3 1173.7L893.9 1172.9L894.4 1175L895 1177L895.5 1179L896.1 1181.1L896.6 1178.7L897.2 1176.1L897.7 1173.6L898.3 1171L898.8 1168.5L899.4 1165.8L899.9 1163.2L900.5 1160.5L901 1157.8L901.6 1158.3L902.1 1160.5L902.7 1162.9L903.2 1165.2L903.8 1167.7L904.3 1166.7L904.9 1164.1L905.4 1161.4L906 1158.7L906.5 1156L907.1 1153.1L907.6 1150.2L908.2 1147.2L908.7 1144L909.3 1143.8L909.9 1146.7L910.4 1149.7L911 1152.9L911.5 1156.2L912.1 1159.6L912.6 1157.3L913.2 1154.2L913.7 1151.1L914.3 1147.8L914.8 1144.4L915.4 1140.8L915.9 1137.2L916.5 1133.3L917 1129.4L917.6 1132.6L918.1 1136.6L918.7 1140.8L919.2 1145.1L919.8 1149.6L920.3 1154.2L920.9 1153.6L921.4 1149.7L922 1145.6L922.5 1141.4L923.1 1137.1L923.6 1132.5L924.2 1127.8L924.7 1123L925.3 1118L925.8 1123L926.4 1128.2L926.9 1133.4L927.5 1138.7L928 1144.1L928.6 1149.6L929.1 1155.2L929.7 1150.4L930.2 1145.3L930.8 1140.2L931.3 1134.9L931.9 1129.5L932.4 1124L933 1118.4L933.5 1112.8L934.1 1116.7L934.6 1122.4L935.2 1128.1L935.7 1133.8L936.3 1139.5L936.9 1145.1L937.4 1150.7L938 1154.4L938.5 1148.8L939.1 1143.1L939.6 1137.5L940.2 1131.8L940.7 1126.1L941.3 1120.4L941.8 1114.8L942.4 1116.2L942.9 1121.8L943.5 1127.2L944 1132.4L944.6 1137.6L945.1 1142.6L945.7 1147.5L946.2 1152.2L946.8 1153.3L947.3 1147.9L947.9 1142.6L948.4 1137.4L949 1132.3L949.5 1127.4L950.1 1122.5L950.6 1122.7L951.2 1127.4L951.7 1131.9L952.3 1136.3L952.8 1140.5L953.4 1144.5L953.9 1148.4L954.5 1152.2L955 1155.8L955.6 1153L956.1 1148.8L956.7 1144.6L957.2 1140.7L957.8 1136.9L958.3 1133.2L958.9 1134.5L959.4 1138.2L960 1141.7L960.5 1145.1L961.1 1148.4L961.6 1151.6L962.2 1154.6L962.7 1157.6L963.3 1160.4L963.8 1159.5L964.4 1156.4L965 1153.4L965.5 1150.6L966.1 1147.9L966.6 1146.3L967.2 1149.3L967.7 1152.2L968.3 1155.1L968.8 1157.8L969.4 1160.6L969.9 1163.2L970.5 1165.8L971 1168.4L971.6 1170.9L972.1 1168.9L972.7 1166.6L973.2 1164.4L973.8 1162.2L974.3 1160.6L974.9 1163.3L975.4 1166L976 1168.6L976.5 1171.2L977.1 1173.8L977.6 1176.4L978.2 1178.9L978.7 1181.5L979.3 1184L979.8 1182.9L980.4 1180.9L980.9 1178.9L981.5 1176.9L982 1177.1L982.6 1179.7L983.1 1182.4L983.7 1185L984.2 1187.7L984.8 1190.3L985.3 1193L985.9 1195.6L986.4 1198.2L987 1200.4L987.5 1198.4L988.1 1196.3L988.6 1194.2L989.2 1193.1L989.7 1195.9L990.3 1198.6L990.8 1201.3L991.4 1204.1L992 1206.8L992.5 1209.6L993.1 1212.4L993.6 1215.1L994.2 1217.9L994.7 1216.5L995.3 1214.2L995.8 1212L996.4 1211.2L996.9 1214L997.5 1216.8L998 1219.7L998.6 1222.6L999.1 1225.4L999.7 1228.3L1000.2 1231.1L1000.8 1234L1001.3 1236.9L1001.9 1234.8L1002.4 1232.4L1003 1230L1003.5 1230.9L1004.1 1233.8L1004.6 1236.7L1005.2 1239.6L1005.7 1242.6L1006.3 1245.5L1006.8 1248.4L1007.4 1251.4L1007.9 1254.3L1008.5 1255.7L1009 1253.1L1009.6 1250.6L1010.1 1248.7L1010.7 1251.7L1011.2 1254.9L1011.8 1258.2L1012.3 1261.4L1012.9 1264.5L1013.4 1267.4L1014 1270.2L1014.5 1272.9L1015.1 1275.5L1015.6 1274.9L1016.2 1274.1L1016.7 1273.6L1017.3 1275.7L1017.8 1278.4L1018.4 1281L1018.9 1283.5L1019.5 1287L1020.1 1284.9L1020.6 1282.6L1021.2 1280.3L1021.7 1277.7L1022.3 1275.1L1022.8 1272.3L1023.4 1269.3L1023.9 1267.8L1024.5 1268.8L1025 1270.3L1025.6 1270.8L1026.1 1268L1026.7 1265.1L1027.2 1262.1L1027.8 1259L1028.3 1255.8L1028.9 1252.8L1029.4 1249.8L1030 1246.8L1030.5 1243.9L1031.1 1246.4L1031.6 1248.9L1032.2 1251.4L1032.7 1249.6L1033.3 1246.6L1033.8 1243.7L1034.4 1240.8L1034.9 1237.9L1035.5 1234.9L1036 1232L1036.6 1229.1L1037.1 1226.2L1037.7 1225.8L1038.2 1228.2L1038.8 1230.5L1039.3 1232.4L1039.9 1229.5L1040.4 1226.7L1041 1223.8L1041.5 1221L1042.1 1218.2L1042.6 1215.3L1043.2 1212.5L1043.7 1209.7L1044.3 1206.9L1044.8 1207.8L1045.4 1210L1045.9 1212.2L1046.5 1213.8L1047 1211.1L1047.6 1208.3L1048.2 1205.6L1048.7 1202.8L1049.3 1200.1L1049.8 1197.4L1050.4 1194.7L1050.9 1192L1051.5 1189.3L1052 1190.1L1052.6 1192.2L1053.1 1194.2L1053.7 1196.2L1054.2 1194.7L1054.8 1192.1L1055.3 1189.5L1055.9 1186.9L1056.4 1184.2L1057 1181.6L1057.5 1179L1058.1 1176.4L1058.6 1173.7L1059.2 1172.9L1059.7 1175L1060.3 1177L1060.8 1179L1061.4 1181.1L1061.9 1178.7L1062.5 1176.1L1063 1173.6L1063.6 1171L1064.1 1168.5L1064.7 1165.8L1065.2 1163.2L1065.8 1160.5L1066.3 1157.8L1066.9 1158.3L1067.4 1160.5L1068 1162.9L1068.5 1165.2L1069.1 1167.7L1069.6 1166.7L1070.2 1164.1L1070.7 1161.4L1071.3 1158.7L1071.8 1156L1072.4 1153.1L1072.9 1150.2L1073.5 1147.2L1074 1144L1074.6 1143.8L1075.2 1146.7L1075.7 1149.7L1076.3 1152.9L1076.8 1156.2L1077.4 1159.6L1077.9 1157.3L1078.5 1154.2L1079 1151.1L1079.6 1147.8L1080.1 1144.4L1080.7 1140.8L1081.2 1137.2L1081.8 1133.3L1082.3 1129.4L1082.9 1132.6L1083.4 1136.6L1084 1140.8L1084.5 1145.1L1085.1 1149.6L1085.6 1154.2L1086.2 1153.6L1086.7 1149.7L1087.3 1145.6L1087.8 1141.4L1088.4 1137.1L1088.9 1132.5L1089.5 1127.8L1090 1123L1090.6 1118L1091.1 1123L1091.7 1128.2L1092.2 1133.4L1092.8 1138.7L1093.3 1144.1L1093.9 1149.6L1094.4 1155.2L1095 1150.4L1095.5 1145.3L1096.1 1140.2L1096.6 1134.9L1097.2 1129.5L1097.7 1124L1098.3 1118.4L1098.8 1112.8L1099.4 1116.7L1099.9 1122.4L1100.5 1128.1L1101 1133.8L1101.6 1139.5L1102.2 1145.1L1102.7 1150.7L1103.3 1154.4L1103.8 1148.8L1104.4 1143.1L1104.9 1137.5L1105.5 1131.8L1106 1126.1L1106.6 1120.4L1107.1 1114.8L1107.7 1116.2L1108.2 1121.8L1108.8 1127.2L1109.3 1132.4L1109.9 1137.6L1110.4 1142.6L1111 1147.5L1111.5 1152.2L1112.1 1153.3L1112.6 1147.9L1113.2 1142.6L1113.7 1137.4L1114.3 1132.3L1114.8 1127.4L1115.4 1122.5L1115.9 1122.7L1116.5 1127.4L1117 1131.9L1117.6 1136.3L1118.1 1140.5L1118.7 1144.5L1119.2 1148.4L1119.8 1152.2L1120.3 1155.8L1120.9 1153L1121.4 1148.8L1122 1144.6L1122.5 1140.7L1123.1 1136.9L1123.6 1133.2L1124.2 1134.5L1124.7 1138.2L1125.3 1141.7L1125.8 1145.1L1126.4 1148.4L1126.9 1151.6L1127.5 1154.6L1128 1157.6L1128.6 1160.4L1129.1 1159.5L1129.7 1156.4L1130.3 1153.4L1130.8 1150.6L1131.4 1147.9L1131.9 1146.3L1132.5 1149.3L1133 1152.2L1133.6 1155.1L1134.1 1157.8L1134.7 1160.6L1135.2 1163.2L1135.8 1165.8L1136.3 1168.4L1136.9 1170.9L1137.4 1168.9L1138 1166.6L1138.5 1164.4L1139.1 1162.2L1139.6 1160.6L1140.2 1163.3L1140.7 1166L1141.3 1168.6L1141.8 1171.2L1142.4 1173.8L1142.9 1176.4L1143.5 1178.9L1144 1181.5L1144.6 1184L1145.1 1182.9L1145.7 1180.9L1146.2 1178.9L1146.8 1176.9L1147.3 1177.1L1147.9 1179.7L1148.4 1182.4L1149 1185L1149.5 1187.7L1150.1 1190.3L1150.6 1193L1151.2 1195.6L1151.7 1198.2L1152.3 1200.4L1152.8 1198.4L1153.4 1196.3L1153.9 1194.2L1154.5 1193.1L1155 1195.9L1155.6 1198.6L1156.1 1201.3L1156.7 1204.1L1157.3 1206.8L1157.8 1209.6L1158.4 1212.4L1158.9 1215.1L1159.5 1217.9L1160 1216.5L1160.6 1214.2L1161.1 1212L1161.7 1211.2L1162.2 1214L1162.8 1216.8L1163.3 1219.7L1163.9 1222.6L1164.4 1225.4L1165 1228.3L1165.5 1231.1L1166.1 1234L1166.6 1236.9L1167.2 1234.8L1167.7 1232.4L1168.3 1230L1168.8 1230.9L1169.4 1233.8L1169.9 1236.7L1170.5 1239.6L1171 1242.6L1171.6 1245.5L1172.1 1248.4L1172.7 1251.4L1173.2 1254.3L1173.8 1255.7L1174.3 1253.1L1174.9 1250.6L1175.4 1248.7L1176 1251.7L1176.5 1254.9L1177.1 1258.2L1177.6 1261.4L1178.2 1264.5L1178.7 1267.4L1179.3 1270.2L1179.8 1272.9L1180.4 1275.5L1180.9 1274.9L1181.5 1274.1L1182 1273.6L1182.6 1275.7L1183.1 1278.4L1183.7 1281L1184.2 1283.5L1184.8 1285.8L1185.4 1284.9L1185.9 1282.6L1186.5 1280.3L1187 1277.7L1187.6 1275.1L1188.1 1272.3L1188.7 1269.3L1189.2 1267.8L1189.8 1268.8L1190.3 1270.3L1190.9 1270.8L1191.4 1268L1192 1265.1L1192.5 1262.1L1193.1 1259L1193.6 1255.8L1194.2 1252.8L1194.7 1249.8L1195.3 1246.8L1195.8 1243.9L1196.4 1246.4L1196.9 1248.9L1197.5 1251.4L1198 1249.6L1198.6 1246.6L1199.1 1243.7L1199.7 1240.8L1200.2 1237.9L1200.8 1234.9L1201.3 1232L1201.9 1229.1L1202.4 1226.2L1203 1225.8L1203.5 1228.2L1204.1 1230.5L1204.6 1232.4L1205.2 1229.5L1205.7 1226.7L1206.3 1223.8L1206.8 1221L1207.4 1218.2L1207.9 1215.3L1208.5 1212.5L1209 1209.7L1209.6 1206.9L1210.1 1207.8L1210.7 1210L1211.2 1212.2L1211.8 1213.8L1212.3 1211.1L1212.9 1208.3L1213.5 1205.6L1214 1202.8L1214.6 1200.1L1215.1 1197.4L1215.7 1194.7L1216.2 1192L1216.8 1189.3L1217.3 1190.1L1217.9 1192.2L1218.4 1194.2L1219 1196.2L1219.5 1194.7L1220.1 1192.1L1220.6 1189.5L1221.2 1186.9L1221.7 1184.2L1222.3 1181.6L1222.8 1179L1223.4 1176.4L1223.9 1173.7L1224.5 1172.9L1225 1175L1225.6 1177L1226.1 1179L1226.7 1181.1L1227.2 1178.7L1227.8 1176.1L1228.3 1173.6L1228.9 1171L1229.4 1168.5L1230 1165.8L1230.5 1163.2L1231.1 1160.5L1231.6 1157.8L1232.2 1158.3L1232.7 1160.5L1233.3 1162.9L1233.8 1165.2L1234.4 1167.7L1234.9 1166.7L1235.5 1164.1L1236 1161.4L1236.6 1158.7L1237.1 1156L1237.7 1153.1L1238.2 1150.2L1238.8 1147.2L1239.3 1144L1239.9 1143.8L1240.5 1146.7L1241 1149.7L1241.6 1152.9L1242.1 1156.2L1242.7 1159.6L1243.2 1157.3L1243.8 1154.2L1244.3 1151.1L1244.9 1147.8L1245.4 1144.4L1246 1140.8L1246.5 1137.2L1247.1 1133.3L1247.6 1129.4L1248.2 1132.6L1248.7 1136.6L1249.3 1140.8L1249.8 1145.1L1250.4 1149.6L1250.9 1154.2L1251.5 1153.6L1252 1149.7L1252.6 1145.6L1253.1 1141.4L1253.7 1137.1L1254.2 1132.5L1254.8 1127.8L1255.3 1123L1255.9 1118L1256.4 1123L1257 1128.2L1257.5 1133.4L1258.1 1138.7L1258.6 1144.1L1259.2 1149.6L1259.7 1155.2L1260.3 1150.4L1260.8 1145.3L1261.4 1140.2L1261.9 1134.9L1262.5 1129.5L1263 1124L1263.6 1118.4L1264.1 1112.8L1264.7 1116.7L1265.2 1122.4L1265.8 1128.1L1266.3 1133.8L1266.9 1139.5L1267.5 1145.1L1268 1150.7L1268.6 1154.4L1269.1 1148.8L1269.7 1143.1L1270.2 1137.5L1270.8 1131.8L1271.3 1126.1L1271.9 1120.4L1272.4 1114.8L1273 1116.2L1273.5 1121.8L1274.1 1127.2L1274.6 1132.4L1275.2 1137.6L1275.7 1142.6L1276.3 1147.5L1276.8 1152.2L1277.4 1153.3L1277.9 1147.9L1278.5 1142.6L1279 1137.4L1279.6 1132.3L1280.1 1127.4L1280.7 1122.5L1281.2 1122.7L1281.8 1127.4L1282.3 1131.9L1282.9 1136.3L1283.4 1140.5L1284 1144.5L1284.5 1148.4L1285.1 1152.2L1285.6 1155.8L1286.2 1153L1286.7 1148.8L1287.3 1144.6L1287.8 1140.7L1288.4 1136.9L1288.9 1133.2L1289.5 1134.5L1290 1138.2L1290.6 1141.7L1291.1 1145.1L1291.7 1148.4L1292.2 1151.6L1292.8 1154.6L1293.3 1157.6L1293.9 1160.4L1294.4 1159.5L1295 1156.4L1295.6 1153.4L1296.1 1150.6L1296.7 1147.9L1297.2 1146.3L1297.8 1149.3L1298.3 1152.2L1298.9 1155.1L1299.4 1157.8L1300 1160.6L1300.5 1163.2L1301.1 1165.8L1301.6 1168.4L1302.2 1170.9L1302.7 1168.9L1303.3 1166.6L1303.8 1164.4L1304.4 1162.2L1304.9 1160.6L1305.5 1163.3L1306 1166L1306.6 1168.6L1307.1 1171.2L1307.7 1173.8L1308.2 1176.4L1308.8 1178.9L1309.3 1181.5L1309.9 1184L1310.4 1182.9L1311 1180.9L1311.5 1178.9L1312.1 1176.9L1312.6 1177.1L1313.2 1179.7L1313.7 1182.4L1314.3 1185L1314.8 1187.7L1315.4 1190.3L1315.9 1193L1316.5 1195.6L1317 1198.2L1317.6 1200.4L1318.1 1198.4L1318.7 1196.3L1319.2 1194.2L1319.8 1193.1L1320.3 1195.9L1320.9 1198.6L1321.4 1201.3L1322 1204.1L1322.6 1206.8L1323.1 1209.6L1323.7 1212.4L1324.2 1215.1L1324.8 1217.9L1325.3 1216.5L1325.9 1214.2L1326.4 1212L1327 1211.2L1327.5 1214L1328.1 1216.8L1328.6 1219.7L1329.2 1222.6L1329.7 1225.4L1330.3 1228.3L1330.8 1231.1L1331.4 1234L1331.9 1236.9L1332.5 1234.8L1333 1232.4L1333.6 1230L1334.1 1230.9L1334.7 1233.8L1335.2 1236.7L1335.8 1239.6L1336.3 1242.6L1336.9 1245.5L1337.4 1248.4L1338 1251.4L1338.5 1254.3L1339.1 1255.7L1339.6 1253.1L1340.2 1250.6L1340.7 1248.7L1341.3 1251.7L1341.8 1254.9L1342.4 1258.2L1342.9 1261.4L1343.5 1264.5L1344 1267.4L1344.6 1270.2L1345.1 1272.9L1345.7 1275.5L1346.2 1274.9L1346.8 1274.1L1347.3 1273.6L1347.9 1275.7L1348.4 1278.4L1349 1281L1349.5 1283.5L1350.1 1285.8L1350.7 1284.9L1351.2 1282.6L1351.8 1280.3L1352.3 1277.7L1352.9 1275.1L1353.4 1272.3L1354 1269.3L1354.5 1267.8L1355.1 1268.8L1355.6 1270.3L1356.2 1270.8L1356.7 1268L1357.3 1265.1L1357.8 1262.1L1358.4 1259L1358.9 1255.8L1359.5 1252.8L1360 1249.8L1360.6 1246.8L1361.1 1243.9L1361.7 1246.4L1362.2 1248.9L1362.8 1251.4L1363.3 1249.6L1363.9 1246.6L1364.4 1243.7L1365 1240.8L1365.5 1237.9L1366.1 1234.9L1366.6 1232L1367.2 1229.1L1367.7 1226.2L1368.3 1225.8L1368.8 1228.2L1369.4 1230.5L1369.9 1232.4L1370.5 1229.5L1371 1226.7L1371.6 1223.8L1372.1 1221L1372.7 1218.2L1373.2 1215.3L1373.8 1212.5L1374.3 1209.7L1374.9 1206.9L1375.4 1207.8L1376 1210L1376.5 1212.2L1377.1 1213.8L1377.6 1211.1L1378.2 1208.3L1378.8 1205.6L1379.3 1202.8L1379.9 1200.1L1380.4 1197.4L1381 1194.7L1381.5 1192L1382.1 1189.3L1382.6 1190.1L1383.2 1192.2L1383.7 1194.2L1384.3 1196.2L1384.8 1194.7L1385.4 1192.1L1385.9 1189.5L1386.5 1186.9L1387 1184.2L1387.6 1181.6L1388.1 1179L1388.7 1176.4L1389.2 1173.7L1389.8 1172.9L1390.3 1175L1390.9 1177L1391.4 1179L1392 1181.1L1392.5 1178.7L1393.1 1176.1L1393.6 1173.6L1394.2 1171L1394.7 1168.5L1395.3 1165.8L1395.8 1163.2L1396.4 1160.5L1396.9 1157.8L1397.5 1158.3L1398 1160.5L1398.6 1162.9L1399.1 1165.2L1399.7 1167.7L1400.2 1166.7L1400.8 1164.1L1401.3 1161.4L1401.9 1158.7L1402.4 1156L1403 1153.1L1403.5 1150.2L1404.1 1147.2L1404.6 1144L1405.2 1143.8L1405.8 1146.7L1406.3 1149.7L1406.9 1152.9L1407.4 1156.2L1408 1159.6L1408.5 1157.3L1409.1 1154.2L1409.6 1151.1L1410.2 1147.8L1410.7 1144.4L1411.3 1140.8L1411.8 1137.2L1412.4 1133.3L1412.9 1129.4L1413.5 1132.6L1414 1136.6L1414.6 1140.8L1415.1 1145.1L1415.7 1149.6L1416.2 1154.2L1416.8 1153.6L1417.3 1149.7L1417.9 1145.6L1418.4 1141.4L1419 1137.1L1419.5 1132.5L1420.1 1127.8L1420.6 1123L1421.2 1118L1421.7 1123L1422.3 1128.2L1422.8 1133.4L1423.4 1138.7L1423.9 1144.1L1424.5 1149.6L1425 1155.2L1425.6 1150.4L1426.1 1145.3L1426.7 1140.2L1427.2 1134.9L1427.8 1129.5L1428.3 1124L1428.9 1118.4L1429.4 1112.8L1430 1116.7L1430.5 1122.4L1431.1 1128.1L1431.6 1133.8L1432.2 1139.5L1432.7 1145.1L1433.3 1150.7L1433.9 1154.4L1434.4 1148.8L1435 1143.1L1435.5 1137.5L1436.1 1131.8L1436.6 1126.1L1437.2 1120.4L1437.7 1114.8L1438.3 1116.2L1438.8 1121.8L1439.4 1127.2L1439.9 1132.4L1440.5 1137.6L1441 1142.6L1441.6 1147.5L1442.1 1152.2L1442.7 1153.3L1443.2 1147.9L1443.8 1142.6L1444.3 1137.4L1444.9 1132.3L1445.4 1127.4L1446 1122.5L1446.5 1122.7L1447.1 1127.4L1447.6 1131.9L1448.2 1136.3L1448.7 1140.5L1449.3 1144.5L1449.8 1148.4L1450.4 1152.2L1450.9 1155.8L1451.5 1153L1452 1148.8L1452.6 1144.6L1453.1 1140.7L1453.7 1136.9L1454.2 1133.2L1454.8 1134.5L1455.3 1138.2L1455.9 1141.7L1456.4 1145.1L1457 1148.4L1457.5 1151.6L1458.1 1154.6L1458.6 1157.6L1459.2 1160.4L1459.7 1159.5L1460.3 1156.4L1460.9 1153.4L1461.4 1150.6L1462 1147.9L1462.5 1146.3L1463.1 1149.3L1463.6 1152.2L1464.2 1155.1L1464.7 1157.8L1465.3 1160.6L1465.8 1163.2L1466.4 1165.8L1466.9 1168.4L1467.5 1170.9L1468 1168.9L1468.6 1166.6L1469.1 1164.4L1469.7 1162.2L1470.2 1160.6L1470.8 1163.3L1471.3 1166L1471.9 1168.6L1472.4 1171.2L1473 1173.8L1473.5 1176.4L1474.1 1178.9L1474.6 1181.5L1475.2 1184L1475.7 1182.9L1476.3 1180.9L1476.8 1178.9L1477.4 1176.9L1477.9 1177.1L1478.5 1179.7L1479 1182.4L1479.6 1185L1480.1 1187.7L1480.7 1190.3L1481.2 1193L1481.8 1195.6L1482.3 1198.2L1482.9 1200.4L1483.4 1198.4L1484 1196.3L1484.5 1194.2L1485.1 1193.1L1485.6 1195.9L1486.2 1198.6L1486.7 1201.3L1487.3 1204.1L1487.9 1206.8L1488.4 1209.6L1489 1212.4L1489.5 1215.1L1490.1 1217.9L1490.6 1216.5L1491.2 1214.2L1491.7 1212L1492.3 1211.2L1492.8 1214L1493.4 1216.8L1493.9 1219.7L1494.5 1222.6L1495 1225.4L1495.6 1228.3L1496.1 1231.1L1496.7 1234L1497.2 1236.9L1497.8 1234.8L1498.3 1232.4L1498.9 1230L1499.4 1230.9L1500 1233.8L1500.5 1236.7L1501.1 1239.6L1501.6 1242.6L1502.2 1245.5L1502.7 1248.4L1503.3 1251.4L1503.8 1254.3L1504.4 1255.7L1504.9 1253.1L1505.5 1250.6L1506 1248.7L1506.6 1251.7L1507.1 1254.9L1507.7 1258.2L1508.2 1261.4L1508.8 1264.5L1509.3 1267.4L1509.9 1270.2L1510.4 1272.9L1511 1275.5L1511.5 1274.9L1512.1 1274.1L1512.6 1273.6L1513.2 1275.7L1513.7 1278.4L1514.3 1281L1514.8 1283.5L1515.4 1285.8L1516 1284.9L1516.5 1282.6L1517.1 1280.3L1517.6 1277.7L1518.2 1275.1L1518.7 1272.3L1519.3 1269.3L1519.8 1267.8L1520.4 1268.8L1520.9 1270.3L1521.5 1270.8L1522 1268L1522.6 1265.1L1523.1 1262.1L1523.7 1259L1524.2 1255.8L1524.8 1252.8L1525.3 1249.8L1525.9 1246.8L1526.4 1243.9L1527 1246.4L1527.5 1248.9L1528.1 1251.4L1528.6 1249.6L1529.2 1246.6L1529.7 1243.7L1530.3 1240.8L1530.8 1237.9L1531.4 1234.9L1531.9 1232L1532.5 1229.1L1533 1226.2L1533.6 1225.8L1534.1 1228.2L1534.7 1230.5L1535.2 1232.4L1535.8 1229.5L1536.3 1226.7L1536.9 1223.8L1537.4 1221L1538 1218.2L1538.5 1215.3L1539.1 1212.5L1539.6 1209.7L1540.2 1206.9L1540.7 1207.8L1541.3 1210L1541.8 1212.2L1542.4 1213.8L1543 1211.1L1543.5 1208.3L1544.1 1205.6L1544.6 1202.8L1545.2 1200.1L1545.7 1197.4L1546.3 1194.7L1546.8 1192L1547.4 1189.3L1547.9 1190.1L1548.5 1192.2L1549 1194.2L1549.6 1196.2L1550.1 1194.7L1550.7 1192.1L1551.2 1189.5L1551.8 1186.9L1552.3 1184.2L1552.9 1181.6L1553.4 1179L1554 1176.4L1554.5 1173.7L1555.1 1172.9L1555.6 1175L1556.2 1177L1556.7 1179L1557.3 1181.1L1557.8 1178.7L1558.4 1176.1L1558.9 1173.6L1559.5 1171L1560 1168.5L1560.6 1165.8L1561.1 1163.2L1561.7 1160.5L1562.2 1157.8L1562.8 1158.3L1563.3 1160.5L1563.9 1162.9L1564.4 1165.2L1565 1167.7L1565.5 1166.7L1566.1 1164.1L1566.6 1161.4L1567.2 1158.7L1567.7 1156L1568.3 1153.1L1568.8 1150.2L1569.4 1147.2L1569.9 1144L1570.5 1143.8L1571.1 1146.7L1571.6 1149.7L1572.2 1152.9L1572.7 1156.2L1573.3 1159.6L1573.8 1157.3L1574.4 1154.2L1574.9 1151.1L1575.5 1147.8L1576 1144.4L1576.6 1140.8L1577.1 1137.2L1577.7 1133.3L1578.2 1129.4L1578.8 1132.6L1579.3 1136.6L1579.9 1140.8L1580.4 1145.1L1581 1149.6L1581.5 1154.2L1582.1 1153.6L1582.6 1149.7L1583.2 1145.6L1583.7 1141.4L1584.3 1137.1L1584.8 1132.5L1585.4 1127.8L1585.9 1123L1586.5 1118L1587 1123L1587.6 1128.2L1588.1 1133.4L1588.7 1138.7L1589.2 1144.1L1589.8 1149.6L1590.3 1155.2L1590.9 1150.4L1591.4 1145.3L1592 1140.2L1592.5 1134.9L1593.1 1129.5L1593.6 1124L1594.2 1118.4L1594.7 1112.8L1595.3 1116.7L1595.8 1122.4L1596.4 1128.1L1596.9 1133.8L1597.5 1139.5L1598 1145.1L1598.6 1150.7L1599.2 1154.4L1599.7 1148.8L1600.3 1143.1L1600.8 1137.5L1601.4 1131.8L1601.9 1126.1L1602.5 1120.4L1603 1114.8L1603.6 1116.2L1604.1 1121.8L1604.7 1127.2L1605.2 1132.4L1605.8 1137.6L1606.3 1142.6L1606.9 1147.5L1607.4 1152.2L1608 1153.3L1608.5 1147.9L1609.1 1142.6L1609.6 1137.4L1610.2 1132.3L1610.7 1127.4L1611.3 1122.5L1611.8 1122.7L1612.4 1127.4L1612.9 1131.9L1613.5 1136.3L1614 1140.5L1614.6 1144.5L1615.1 1148.4L1615.7 1152.2L1616.2 1155.8L1616.8 1153L1617.3 1148.8L1617.9 1144.6L1618.4 1140.7L1619 1136.9L1619.5 1133.2L1620.1 1134.5L1620.6 1138.2L1621.2 1141.7L1621.7 1145.1L1622.3 1148.4L1622.8 1151.6L1623.4 1154.6L1623.9 1157.6L1624.5 1160.4L1625 1159.5L1625.6 1156.4L1626.2 1153.4L1626.7 1150.6L1627.3 1147.9L1627.8 1146.3L1628.4 1149.3L1628.9 1152.2L1629.5 1155.1L1630 1157.8L1630.6 1160.6L1631.1 1163.2L1631.7 1165.8L1632.2 1168.4L1632.8 1170.9L1633.3 1168.9L1633.9 1166.6L1634.4 1164.4L1635 1162.2L1635.5 1160.6L1636.1 1163.3L1636.6 1166L1637.2 1168.6L1637.7 1171.2L1638.3 1173.8L1638.8 1176.4L1639.4 1178.9L1639.9 1181.5L1640.5 1184L1641 1182.9L1641.6 1180.9L1642.1 1178.9L1642.7 1176.9L1643.2 1177.1L1643.8 1179.7L1644.3 1182.4L1644.9 1185L1645.4 1187.7L1646 1190.3L1646.5 1193L1647.1 1195.6L1647.6 1198.2L1648.2 1200.4L1648.7 1198.4L1649.3 1196.3L1649.8 1194.2L1650.4 1193.1L1650.9 1195.9L1651.5 1198.6L1652 1201.3L1652.6 1204.1L1653.2 1206.8L1653.7 1209.6L1654.3 1212.4L1654.8 1215.1L1655.4 1217.9L1655.9 1216.5L1656.5 1214.2L1657 1212L1657.6 1211.2L1658.1 1214L1658.7 1216.8L1659.2 1219.7L1659.8 1222.6L1660.3 1225.4L1660.9 1228.3L1661.4 1231.1L1662 1234L1662.5 1236.9L1663.1 1234.8L1663.6 1232.4L1664.2 1230L1664.7 1230.9L1665.3 1233.8L1665.8 1236.7L1666.4 1239.6L1666.9 1242.6L1667.5 1245.5L1668 1248.4L1668.6 1251.4L1669.1 1254.3L1669.7 1255.7L1670.2 1253.1L1670.8 1250.6L1671.3 1248.7L1671.9 1251.7L1672.4 1254.9L1673 1258.2L1673.5 1261.4L1674.1 1264.5L1674.6 1267.4L1675.2 1270.2L1675.7 1272.9L1676.3 1275.5L1676.8 1274.9L1677.4 1274.1L1677.9 1273.6L1678.5 1275.7L1679 1278.4L1679.6 1281L1680.1 1283.5L1680.7 1285.8L1681.3 1284.9L1681.8 1282.6L1682.4 1280.3L1682.9 1277.7L1683.5 1275.1L1684 1272.3L1684.6 1269.3L1685.1 1267.8L1685.7 1268.8L1686.2 1270.3L1686.8 1270.8L1687.3 1268L1687.9 1265.1L1688.4 1262.1L1689 1259L1689.5 1255.8L1690.1 1252.8L1690.6 1249.8L1691.2 1246.8L1691.7 1243.9L1692.3 1246.4L1692.8 1248.9L1693.4 1251.4L1693.9 1249.6L1694.5 1246.6L1695 1243.7L1695.6 1240.8L1696.1 1237.9L1696.7 1234.9L1697.2 1232L1697.8 1229.1L1698.3 1226.2L1698.9 1225.8L1699.4 1228.2L1700 1230.5L1700.5 1232.4L1701.1 1229.5L1701.6 1226.7L1702.2 1223.8L1702.7 1221L1703.3 1218.2L1703.8 1215.3L1704.4 1212.5L1704.9 1209.7L1705.5 1206.9L1706 1207.8L1706.6 1210L1707.1 1212.2L1707.7 1213.8L1708.3 1211.1L1708.8 1208.3L1709.4 1205.6L1709.9 1202.8L1710.5 1200.1L1711 1197.4L1711.6 1194.7L1712.1 1192L1712.7 1189.3L1713.2 1190.1L1713.8 1192.2L1714.3 1194.2L1714.9 1196.2L1715.4 1194.7L1716 1192.1L1716.5 1189.5L1717.1 1186.9L1717.6 1184.2L1718.2 1181.6L1718.7 1179L1719.3 1176.4L1719.8 1173.7L1720.4 1172.9L1720.9 1175L1721.5 1177L1722 1179L1722.6 1181.1L1723.1 1178.7L1723.7 1176.1L1724.2 1173.6L1724.8 1171L1725.3 1168.5L1725.9 1165.8L1726.4 1163.2L1727 1160.5L1727.5 1157.8L1728.1 1158.3L1728.6 1160.5L1729.2 1162.9L1729.7 1165.2L1730.3 1167.7L1730.8 1166.7L1731.4 1164.1L1731.9 1161.4L1732.5 1158.7L1733 1156L1733.6 1153.1L1734.1 1150.2L1734.7 1147.2L1735.2 1144L1735.8 1143.8L1736.4 1146.7L1736.9 1149.7L1737.5 1152.9L1738 1156.2L1738.6 1159.6L1739.1 1157.3L1739.7 1154.2L1740.2 1151.1L1740.8 1147.8L1741.3 1144.4L1741.9 1140.8L1742.4 1137.2L1743 1133.3L1743.5 1129.4L1744.1 1132.6L1744.6 1136.6L1745.2 1140.8L1745.7 1145.1L1746.3 1149.6L1746.8 1154.2L1747.4 1153.6L1747.9 1149.7L1748.5 1145.6L1749 1141.4L1749.6 1137.1L1750.1 1132.5L1750.7 1127.8L1751.2 1123L1751.8 1118L1752.3 1123L1752.9 1128.2L1753.4 1133.4L1754 1138.7L1754.5 1144.1L1755.1 1149.6L1755.6 1155.2L1756.2 1150.4L1756.7 1145.3L1757.3 1140.2L1757.8 1134.9L1758.4 1129.5L1758.9 1124L1759.5 1118.4L1760 1112.8L1760.6 1116.7L1761.1 1122.4L1761.7 1128.1L1762.2 1133.8L1762.8 1139.5L1763.3 1145.1L1763.9 1150.7L1764.5 1154.4L1765 1148.8L1765.6 1143.1L1766.1 1137.5L1766.7 1131.8L1767.2 1126.1L1767.8 1120.4L1768.3 1114.8L1768.9 1116.2L1769.4 1121.8L1770 1127.2L1770.5 1132.4L1771.1 1137.6L1771.6 1142.6L1772.2 1147.5L1772.7 1152.2L1773.3 1153.3L1773.8 1147.9L1774.4 1142.6L1774.9 1137.4L1775.5 1132.3L1776 1127.4L1776.6 1122.5L1777.1 1122.7L1777.7 1127.4L1778.2 1131.9L1778.8 1136.3L1779.3 1140.5L1779.9 1144.5L1780.4 1148.4L1781 1152.2L1781.5 1155.8L1782.1 1153L1782.6 1148.8L1783.2 1144.6L1783.7 1140.7L1784.3 1136.9L1784.8 1133.2L1785.4 1134.5L1785.9 1138.2L1786.5 1141.7L1787 1145.1L1787.6 1148.4L1788.1 1151.6L1788.7 1154.6L1789.2 1157.6L1789.8 1160.4L1790.3 1159.5L1790.9 1156.4L1791.5 1153.4L1792 1150.6L1792.6 1147.9L1793.1 1146.3L1793.7 1149.3L1794.2 1152.2L1794.8 1155.1L1795.3 1157.8L1795.9 1160.6L1796.4 1163.2L1797 1165.8L1797.5 1168.4L1798.1 1170.9L1798.6 1168.9L1799.2 1166.6L1799.7 1164.4L1800.3 1162.2L1800.8 1160.6L1801.4 1163.3L1801.9 1166L1802.5 1168.6L1803 1171.2L1803.6 1173.8L1804.1 1176.4L1804.7 1178.9L1805.2 1181.5L1805.8 1184L1806.3 1182.9L1806.9 1180.9L1807.4 1178.9L1808 1176.9L1808.5 1177.1L1809.1 1179.7L1809.6 1182.4L1810.2 1185L1810.7 1187.7L1811.3 1190.3L1811.8 1193L1812.4 1195.6L1812.9 1198.2L1813.5 1200.4L1814 1198.4L1814.6 1196.3L1815.1 1194.2L1815.7 1193.1L1816.2 1195.9L1816.8 1198.6L1817.3 1201.3L1817.9 1204.1L1818.4 1206.8L1819 1209.6L1819.6 1212.4L1820.1 1215.1L1820.7 1217.9L1821.2 1216.5L1821.8 1214.2L1822.3 1212L1822.9 1211.2L1823.4 1214L1824 1216.8L1824.5 1219.7L1825.1 1222.6L1825.6 1225.4L1826.2 1228.3L1826.7 1231.1L1827.3 1234L1827.8 1236.9L1828.4 1234.8L1828.9 1232.4L1829.5 1230L1830 1230.9L1830.6 1233.8L1831.1 1236.7L1831.7 1239.6L1832.2 1242.6L1832.8 1245.5L1833.3 1248.4L1833.9 1251.4L1834.4 1254.3L1835 1255.7L1835.5 1253.1L1836.1 1250.6L1836.6 1248.7L1837.2 1251.7L1837.7 1254.9L1838.3 1258.2L1838.8 1261.4L1839.4 1264.5L1839.9 1267.4L1840.5 1270.2L1841 1272.9L1841.6 1275.5L1842.1 1274.9L1842.7 1274.1L1843.2 1273.6L1843.8 1275.7L1844.3 1278.4L1844.9 1281L1845.4 1283.5L1846 1285.8" stroke="#00ff00" stroke-width="4.4"/>
<path d="M193 1470.5L194.7 1465.8L196.3 1461L198 1456.3L199.6 1451.6L201.3 1446.9L202.9 1442.3L204.6 1437.7L206.2 1433.1L207.9 1428.5L209.5 1424L211.2 1419.5L212.8 1415.1L214.5 1410.7L216.1 1406.4L217.8 1402.1L219.4 1398L221.1 1393.9L222.8 1389.8L224.4 1385.9L226.1 1382L227.7 1378.2L229.4 1374.5L231 1370.9L232.7 1367.4L234.3 1364L236 1360.7L237.6 1357.6L239.3 1354.5L240.9 1351.5L242.6 1348.7L244.2 1346L245.9 1343.4L247.5 1340.9L249.2 1338.6L250.9 1336.3L252.5 1334.3L254.2 1332.3L255.8 1330.5L257.5 1328.8L259.1 1327.3L260.8 1325.9L262.4 1324.7L264.1 1323.6L265.7 1322.6L267.4 1321.8L269 1321.1L270.7 1320.6L272.3 1320.2L274 1320L275.7 1319.9L277.3 1320L279 1320.2L280.6 1320.6L282.3 1321.1L283.9 1321.8L285.6 1322.6L287.2 1323.6L288.9 1324.7L290.5 1325.9L292.2 1327.3L293.8 1328.8L295.5 1330.5L297.1 1332.3L298.8 1334.3L300.4 1336.3L302.1 1338.6L303.8 1340.9L305.4 1343.4L307.1 1346L308.7 1348.7L310.4 1351.5L312 1354.5L313.7 1357.6L315.3 1360.7L317 1364L318.6 1367.4L320.3 1370.9L321.9 1374.5L323.6 1378.2L325.2 1382L326.9 1385.9L328.5 1389.8L330.2 1393.9L331.9 1398L333.5 1402.1L335.2 1406.4L336.8 1410.7L338.5 1415.1L340.1 1419.5L341.8 1424L343.4 1428.5L345.1 1433.1L346.7 1437.7L348.4 1442.3L350 1446.9L351.7 1451.6L353.3 1456.3L355 1461L356.6 1465.8L358.3 1470.5L360 1475.2L361.6 1480L363.3 1484.7L364.9 1489.4L366.6 1494.1L368.2 1498.7L369.9 1503.3L371.5 1507.9L373.2 1512.5L374.8 1517L376.5 1521.5L378.1 1525.9L379.8 1530.3L381.4 1534.6L383.1 1538.9L384.7 1543L386.4 1547.1L388.1 1551.2L389.7 1555.1L391.4 1559L393 1562.8L394.7 1566.5L396.3 1570.1L398 1573.6L399.6 1577L401.3 1580.3L402.9 1583.4L404.6 1586.5L406.2 1589.5L407.9 1592.3L409.5 1595L411.2 1597.6L412.8 1600.1L414.5 1602.4L416.2 1604.7L417.8 1606.7L419.5 1608.7L421.1 1610.5L422.8 1612.2L424.4 1613.7L426.1 1615.1L427.7 1616.3L429.4 1617.4L431 1618.4L432.7 1619.2L434.3 1619.9L436 1620.4L437.6 1620.8L439.3 1621L441 1621.1L442.6 1621L444.3 1620.8L445.9 1620.4L447.6 1619.9L449.2 1619.2L450.9 1618.4L452.5 1617.4L454.2 1616.3L455.8 1615.1L457.5 1613.7L459.1 1612.2L460.8 1610.5L462.4 1608.7L464.1 1606.7L465.7 1604.7L467.4 1602.4L469.1 1600.1L470.7 1597.6L472.4 1595L474 1592.3L475.7 1589.5L477.3 1586.5L479 1583.4L480.6 1580.3L482.3 1577L483.9 1573.6L485.6 1570.1L487.2 1566.5L488.9 1562.8L490.5 1559L492.2 1555.1L493.8 1551.2L495.5 1547.1L497.2 1543L498.8 1538.9L500.5 1534.6L502.1 1530.3L503.8 1525.9L505.4 1521.5L507.1 1517L508.7 1512.5L510.4 1507.9L512 1503.3L513.7 1498.7L515.3 1494.1L517 1489.4L518.6 1484.7L520.3 1480L521.9 1475.2L523.6 1470.5L525.3 1465.8L526.9 1461L528.6 1456.3L530.2 1451.6L531.9 1446.9L533.5 1442.3L535.2 1437.7L536.8 1433.1L538.5 1428.5L540.1 1424L541.8 1419.5L543.4 1415.1L545.1 1410.7L546.7 1406.4L548.4 1402.1L550 1398L551.7 1393.9L553.4 1389.8L555 1385.9L556.7 1382L558.3 1378.2L560 1374.5L561.6 1370.9L563.3 1367.4L564.9 1364L566.6 1360.7L568.2 1357.6L569.9 1354.5L571.5 1351.5L573.2 1348.7L574.8 1346L576.5 1343.4L578.1 1340.9L579.8 1338.6L581.5 1336.3L583.1 1334.3L584.8 1332.3L586.4 1330.5L588.1 1328.8L589.7 1327.3L591.4 1325.9L593 1324.7L594.7 1323.6L596.3 1322.6L598 1321.8L599.6 1321.1L601.3 1320.6L602.9 1320.2L604.6 1320L606.3 1319.9L607.9 1320L609.6 1320.2L611.2 1320.6L612.9 1321.1L614.5 1321.8L616.2 1322.6L617.8 1323.6L619.5 1324.7L621.1 1325.9L622.8 1327.3L624.4 1328.8L626.1 1330.5L627.7 1332.3L629.4 1334.3L631 1336.3L632.7 1338.6L634.4 1340.9L636 1343.4L637.7 1346L639.3 1348.7L641 1351.5L642.6 1354.5L644.3 1357.6L645.9 1360.7L647.6 1364L649.2 1367.4L650.9 1370.9L652.5 1374.5L654.2 1378.2L655.8 1382L657.5 1385.9L659.1 1389.8L660.8 1393.9L662.5 1398L664.1 1402.1L665.8 1406.4L667.4 1410.7L669.1 1415.1L670.7 1419.5L672.4 1424L674 1428.5L675.7 1433.1L677.3 1437.7L679 1442.3L680.6 1446.9L682.3 1451.6L683.9 1456.3L685.6 1461L687.2 1465.8L688.9 1470.5L690.6 1475.2L692.2 1480L693.9 1484.7L695.5 1489.4L697.2 1494.1L698.8 1498.7L700.5 1503.3L702.1 1507.9L703.8 1512.5L705.4 1517L707.1 1521.5L708.7 1525.9L710.4 1530.3L712 1534.6L713.7 1538.9L715.3 1543L717 1547.1L718.7 1551.2L720.3 1555.1L722 1559L723.6 1562.8L725.3 1566.5L726.9 1570.1L728.6 1573.6L730.2 1577L731.9 1580.3L733.5 1583.4L735.2 1586.5L736.8 1589.5L738.5 1592.3L740.1 1595L741.8 1597.6L743.4 1600.1L745.1 1602.4L746.8 1604.7L748.4 1606.7L750.1 1608.7L751.7 1610.5L753.4 1612.2L755 1613.7L756.7 1615.1L758.3 1616.3L760 1617.4L761.6 1618.4L763.3 1619.2L764.9 1619.9L766.6 1620.4L768.2 1620.8L769.9 1621L771.6 1621.1L773.2 1621L774.9 1620.8L776.5 1620.4L778.2 1619.9L779.8 1619.2L781.5 1618.4L783.1 1617.4L784.8 1616.3L786.4 1615.1L788.1 1613.7L789.7 1612.2L791.4 1610.5L793 1608.7L794.7 1606.7L796.3 1604.7L798 1602.4L799.7 1600.1L801.3 1597.6L803 1595L804.6 1592.3L806.3 1589.5L807.9 1586.5L809.6 1583.4L811.2 1580.3L812.9 1577L814.5 1573.6L816.2 1570.1L817.8 1566.5L819.5 1562.8L821.1 1559L822.8 1555.1L824.4 1551.2L826.1 1547.1L827.8 1543L829.4 1538.9L831.1 1534.6L832.7 1530.3L834.4 1525.9L836 1521.5L837.7 1517L839.3 1512.5L841 1507.9L842.6 1503.3L844.3 1498.7L845.9 1494.1L847.6 1489.4L849.2 1484.7L850.9 1480L852.5 1475.2L854.2 1470.5L855.9 1465.8L857.5 1461L859.2 1456.3L860.8 1451.6L862.5 1446.9L864.1 1442.3L865.8 1437.7L867.4 1433.1L869.1 1428.5L870.7 1424L872.4 1419.5L874 1415.1L875.7 1410.7L877.3 1406.4L879 1402.1L880.6 1398L882.3 1393.9L884 1389.8L885.6 1385.9L887.3 1382L888.9 1378.2L890.6 1374.5L892.2 1370.9L893.9 1367.4L895.5 1364L897.2 1360.7L898.8 1357.6L900.5 1354.5L902.1 1351.5L903.8 1348.7L905.4 1346L907.1 1343.4L908.7 1340.9L910.4 1338.6L912.1 1336.3L913.7 1334.3L915.4 1332.3L917 1330.5L918.7 1328.8L920.3 1327.3L922 1325.9L923.6 1324.7L925.3 1323.6L926.9 1322.6L928.6 1321.8L930.2 1321.1L931.9 1320.6L933.5 1320.2L935.2 1320L936.9 1319.9L938.5 1320L940.2 1320.2L941.8 1320.6L943.5 1321.1L945.1 1321.8L946.8 1322.6L948.4 1323.6L950.1 1324.7L951.7 1325.9L953.4 1327.3L955 1328.8L956.7 1330.5L958.3 1332.3L960 1334.3L961.6 1336.3L963.3 1338.6L965 1340.9L966.6 1343.4L968.3 1346L969.9 1348.7L971.6 1351.5L973.2 1354.5L974.9 1357.6L976.5 1360.7L978.2 1364L979.8 1367.4L981.5 1370.9L983.1 1374.5L984.8 1378.2L986.4 1382L988.1 1385.9L989.7 1389.8L991.4 1393.9L993.1 1398L994.7 1402.1L996.4 1406.4L998 1410.7L999.7 1415.1L1001.3 1419.5L1003 1424L1004.6 1428.5L1006.3 1433.1L1007.9 1437.7L1009.6 1442.3L1011.2 1446.9L1012.9 1451.6L1014.5 1456.3L1016.2 1461L1017.8 1465.8L1019.5 1470.5L1021.2 1475.2L1022.8 1480L1024.5 1484.7L1026.1 1489.4L1027.8 1494.1L1029.4 1498.7L1031.1 1503.3L1032.7 1507.9L1034.4 1512.5L1036 1517L1037.7 1521.5L1039.3 1525.9L1041 1530.3L1042.6 1534.6L1044.3 1538.9L1045.9 1543L1047.6 1547.1L1049.3 1551.2L1050.9 1555.1L1052.6 1559L1054.2 1562.8L1055.9 1566.5L1057.5 1570.1L1059.2 1573.6L1060.8 1577L1062.5 1580.3L1064.1 1583.4L1065.8 1586.5L1067.4 1589.5L1069.1 1592.3L1070.7 1595L1072.4 1597.6L1074 1600.1L1075.7 1602.4L1077.4 1604.7L1079 1606.7L1080.7 1608.7L1082.3 1610.5L1084 1612.2L1085.6 1613.7L1087.3 1615.1L1088.9 1616.3L1090.6 1617.4L1092.2 1618.4L1093.9 1619.2L1095.5 1619.9L1097.2 1620.4L1098.8 1620.8L1100.5 1621L1102.2 1621.1L1103.8 1621L1105.5 1620.8L1107.1 1620.4L1108.8 1619.9L1110.4 1619.2L1112.1 1618.4L1113.7 1617.4L1115.4 1616.3L1117 1615.1L1118.7 1613.7L1120.3 1612.2L1122 1610.5L1123.6 1608.7L1125.3 1606.7L1126.9 1604.7L1128.6 1602.4L1130.3 1600.1L1131.9 1597.6L1133.6 1595L1135.2 1592.3L1136.9 1589.5L1138.5 1586.5L1140.2 1583.4L1141.8 1580.3L1143.5 1577L1145.1 1573.6L1146.8 1570.1L1148.4 1566.5L1150.1 1562.8L1151.7 1559L1153.4 1555.1L1155 1551.2L1156.7 1547.1L1158.4 1543L1160 1538.9L1161.7 1534.6L1163.3 1530.3L1165 1525.9L1166.6 1521.5L1168.3 1517L1169.9 1512.5L1171.6 1507.9L1173.2 1503.3L1174.9 1498.7L1176.5 1494.1L1178.2 1489.4L1179.8 1484.7L1181.5 1480L1183.1 1475.2L1184.8 1470.5L1186.5 1465.8L1188.1 1461L1189.8 1456.3L1191.4 1451.6L1193.1 1446.9L1194.7 1442.3L1196.4 1437.7L1198 1433.1L1199.7 1428.5L1201.3 1424L1203 1419.5L1204.6 1415.1L1206.3 1410.7L1207.9 1406.4L1209.6 1402.1L1211.2 1398L1212.9 1393.9L1214.6 1389.8L1216.2 1385.9L1217.9 1382L1219.5 1378.2L1221.2 1374.5L1222.8 1370.9L1224.5 1367.4L1226.1 1364L1227.8 1360.7L1229.4 1357.6L1231.1 1354.5L1232.7 1351.5L1234.4 1348.7L1236 1346L1237.7 1343.4L1239.3 1340.9L1241 1338.6L1242.7 1336.3L1244.3 1334.3L1246 1332.3L1247.6 1330.5L1249.3 1328.8L1250.9 1327.3L1252.6 1325.9L1254.2 1324.7L1255.9 1323.6L1257.5 1322.6L1259.2 1321.8L1260.8 1321.1L1262.5 1320.6L1264.1 1320.2L1265.8 1320L1267.5 1319.9L1269.1 1320L1270.8 1320.2L1272.4 1320.6L1274.1 1321.1L1275.7 1321.8L1277.4 1322.6L1279 1323.6L1280.7 1324.7L1282.3 1325.9L1284 1327.3L1285.6 1328.8L1287.3 1330.5L1288.9 1332.3L1290.6 1334.3L1292.2 1336.3L1293.9 1338.6L1295.6 1340.9L1297.2 1343.4L1298.9 1346L1300.5 1348.7L1302.2 1351.5L1303.8 1354.5L1305.5 1357.6L1307.1 1360.7L1308.8 1364L1310.4 1367.4L1312.1 1370.9L1313.7 1374.5L1315.4 1378.2L1317 1382L1318.7 1385.9L1320.3 1389.8L1322 1393.9L1323.7 1398L1325.3 1402.1L1327 1406.4L1328.6 1410.7L1330.3 1415.1L1331.9 1419.5L1333.6 1424L1335.2 1428.5L1336.9 1433.1L1338.5 1437.7L1340.2 1442.3L1341.8 1446.9L1343.5 1451.6L1345.1 1456.3L1346.8 1461L1348.4 1465.8L1350.1 1470.5L1351.8 1475.2L1353.4 1480L1355.1 1484.7L1356.7 1489.4L1358.4 1494.1L1360 1498.7L1361.7 1503.3L1363.3 1507.9L1365 1512.5L1366.6 1517L1368.3 1521.5L1369.9 1525.9L1371.6 1530.3L1373.2 1534.6L1374.9 1538.9L1376.5 1543L1378.2 1547.1L1379.9 1551.2L1381.5 1555.1L1383.2 1559L1384.8 1562.8L1386.5 1566.5L1388.1 1570.1L1389.8 1573.6L1391.4 1577L1393.1 1580.3L1394.7 1583.4L1396.4 1586.5L1398 1589.5L1399.7 1592.3L1401.3 1595L1403 1597.6L1404.6 1600.1L1406.3 1602.4L1408 1604.7L1409.6 1606.7L1411.3 1608.7L1412.9 1610.5L1414.6 1612.2L1416.2 1613.7L1417.9 1615.1L1419.5 1616.3L1421.2 1617.4L1422.8 1618.4L1424.5 1619.2L1426.1 1619.9L1427.8 1620.4L1429.4 1620.8L1431.1 1621L1432.7 1621.1L1434.4 1621L1436.1 1620.8L1437.7 1620.4L1439.4 1619.9L1441 1619.2L1442.7 1618.4L1444.3 1617.4L1446 1616.3L1447.6 1615.1L1449.3 1613.7L1450.9 1612.2L1452.6 1610.5L1454.2 1608.7L1455.9 1606.7L1457.5 1604.7L1459.2 1602.4L1460.9 1600.1L1462.5 1597.6L1464.2 1595L1465.8 1592.3L1467.5 1589.5L1469.1 1586.5L1470.8 1583.4L1472.4 1580.3L1474.1 1577L1475.7 1573.6L1477.4 1570.1L1479 1566.5L1480.7 1562.8L1482.3 1559L1484 1555.1L1485.6 1551.2L1487.3 1547.1L1489 1543L1490.6 1538.9L1492.3 1534.6L1493.9 1530.3L1495.6 1525.9L1497.2 1521.5L1498.9 1517L1500.5 1512.5L1502.2 1507.9L1503.8 1503.3L1505.5 1498.7L1507.1 1494.1L1508.8 1489.4L1510.4 1484.7L1512.1 1480L1513.7 1475.2L1515.4 1470.5L1517.1 1465.8L1518.7 1461L1520.4 1456.3L1522 1451.6L1523.7 1446.9L1525.3 1442.3L1527 1437.7L1528.6 1433.1L1530.3 1428.5L1531.9 1424L1533.6 1419.5L1535.2 1415.1L1536.9 1410.7L1538.5 1406.4L1540.2 1402.1L1541.8 1398L1543.5 1393.9L1545.2 1389.8L1546.8 1385.9L1548.5 1382L1550.1 1378.2L1551.8 1374.5L1553.4 1370.9L1555.1 1367.4L1556.7 1364L1558.4 1360.7L1560 1357.6L1561.7 1354.5L1563.3 1351.5L1565 1348.7L1566.6 1346L1568.3 1343.4L1569.9 1340.9L1571.6 1338.6L1573.3 1336.3L1574.9 1334.3L1576.6 1332.3L1578.2 1330.5L1579.9 1328.8L1581.5 1327.3L1583.2 1325.9L1584.8 1324.7L1586.5 1323.6L1588.1 1322.6L1589.8 1321.8L1591.4 1321.1L1593.1 1320.6L1594.7 1320.2L1596.4 1320L1598 1319.9L1599.7 1320L1601.4 1320.2L1603 1320.6L1604.7 1321.1L1606.3 1321.8L1608 1322.6L1609.6 1323.6L1611.3 1324.7L1612.9 1325.9L1614.6 1327.3L1616.2 1328.8L1617.9 1330.5L1619.5 1332.3L1621.2 1334.3L1622.8 1336.3L1624.5 1338.6L1626.2 1340.9L1627.8 1343.4L1629.5 1346L1631.1 1348.7L1632.8 1351.5L1634.4 1354.5L1636.1 1357.6L1637.7 1360.7L1639.4 1364L1641 1367.4L1642.7 1370.9L1644.3 1374.5L1646 1378.2L1647.6 1382L1649.3 1385.9L1650.9 1389.8L1652.6 1393.9L1654.3 1398L1655.9 1402.1L1657.6 1406.4L1659.2 1410.7L1660.9 1415.1L1662.5 1419.5L1664.2 1424L1665.8 1428.5L1667.5 1433.1L1669.1 1437.7L1670.8 1442.3L1672.4 1446.9L1674.1 1451.6L1675.7 1456.3L1677.4 1461L1679 1465.8L1680.7 1470.5L1682.4 1475.2L1684 1480L1685.7 1484.7L1687.3 1489.4L1689 1494.1L1690.6 1498.7L1692.3 1503.3L1693.9 1507.9L1695.6 1512.5L1697.2 1517L1698.9 1521.5L1700.5 1525.9L1702.2 1530.3L1703.8 1534.6L1705.5 1538.9L1707.1 1543L1708.8 1547.1L1710.5 1551.2L1712.1 1555.1L1713.8 1559L1715.4 1562.8L1717.1 1566.5L1718.7 1570.1L1720.4 1573.6L1722 1577L1723.7 1580.3L1725.3 1583.4L1727 1586.5L1728.6 1589.5L1730.3 1592.3L1731.9 1595L1733.6 1597.6L1735.2 1600.1L1736.9 1602.4L1738.6 1604.7L1740.2 1606.7L1741.9 1608.7L1743.5 1610.5L1745.2 1612.2L1746.8 1613.7L1748.5 1615.1L1750.1 1616.3L1751.8 1617.4L1753.4 1618.4L1755.1 1619.2L1756.7 1619.9L1758.4 1620.4L1760 1620.8L1761.7 1621L1763.3 1621.1L1765 1621L1766.7 1620.8L1768.3 1620.4L1770 1619.9L1771.6 1619.2L1773.3 1618.4L1774.9 1617.4L1776.6 1616.3L1778.2 1615.1L1779.9 1613.7L1781.5 1612.2L1783.2 1610.5L1784.8 1608.7L1786.5 1606.7L1788.1 1604.7L1789.8 1602.4L1791.5 1600.1L1793.1 1597.6L1794.8 1595L1796.4 1592.3L1798.1 1589.5L1799.7 1586.5L1801.4 1583.4L1803 1580.3L1804.7 1577L1806.3 1573.6L1808 1570.1L1809.6 1566.5L1811.3 1562.8L1812.9 1559L1814.6 1555.1L1816.2 1551.2L1817.9 1547.1L1819.6 1543L1821.2 1538.9L1822.9 1534.6L1824.5 1530.3L1826.2 1525.9L1827.8 1521.5L1829.5 1517L1831.1 1512.5L1832.8 1507.9L1834.4 1503.3L1836.1 1498.7L1837.7 1494.1L1839.4 1489.4L1841 1484.7L1842.7 1480L1844.3 1475.2L1846 1470.5" stroke="#0000ff" stroke-width="5"/>
<path d="M193 1469.7L193.6 1469.6L194.1 1469.6L194.7 1469.6L195.2 1469.6L195.8 1469.7L196.3 1469L196.9 1468.1L197.4 1467.3L198 1466.3L198.5 1465.4L199.1 1464.5L199.6 1464.2L200.2 1464.2L200.7 1464.3L201.3 1464.5L201.8 1464.6L202.4 1464.8L202.9 1464.5L203.5 1463.5L204 1462.5L204.6 1461.5L205.1 1460.5L205.7 1459.4L206.2 1458.6L206.8 1458.8L207.3 1459L207.9 1459.3L208.4 1459.5L209 1459.8L209.5 1460.1L210.1 1459.1L210.6 1458.1L211.2 1457L211.7 1455.9L212.3 1454.7L212.8 1453.6L213.4 1453.3L213.9 1453.7L214.5 1454L215 1454.4L215.6 1454.8L216.1 1455.2L216.7 1455.2L217.2 1454.1L217.8 1452.9L218.3 1451.7L218.9 1450.6L219.4 1449.4L220 1448.1L220.6 1448.3L221.1 1448.7L221.7 1449.2L222.2 1449.7L222.8 1450.2L223.3 1450.7L223.9 1450.7L224.4 1449.5L225 1448.3L225.5 1447.1L226.1 1445.8L226.6 1444.6L227.2 1443.3L227.7 1443.4L228.3 1443.9L228.8 1444.5L229.4 1445.1L229.9 1445.7L230.5 1446.4L231 1446.9L231.6 1445.7L232.1 1444.4L232.7 1443.2L233.2 1441.9L233.8 1440.6L234.3 1439.3L234.9 1438.5L235.4 1439.2L236 1439.9L236.5 1440.6L237.1 1441.3L237.6 1442L238.2 1442.8L238.7 1442.8L239.3 1441.5L239.8 1440.2L240.4 1438.9L240.9 1437.7L241.5 1436.4L242 1435.1L242.6 1434.6L243.1 1435.4L243.7 1436.1L244.2 1436.9L244.8 1437.7L245.3 1438.6L245.9 1439.4L246.4 1439.6L247 1438.3L247.5 1437.1L248.1 1435.8L248.7 1434.6L249.2 1433.3L249.8 1432L250.3 1431L250.9 1431.8L251.4 1432.7L252 1433.6L252.5 1434.4L253.1 1435.3L253.6 1436.2L254.2 1437.2L254.7 1436.4L255.3 1435.1L255.8 1433.9L256.4 1432.7L256.9 1431.4L257.5 1430.2L258 1429L258.6 1428.6L259.1 1429.6L259.7 1430.5L260.2 1431.5L260.8 1432.4L261.3 1433.4L261.9 1434.4L262.4 1435.4L263 1434.3L263.5 1433.2L264.1 1432L264.6 1430.8L265.2 1429.6L265.7 1428.4L266.3 1427.3L266.8 1427L267.4 1428L267.9 1429L268.5 1430.1L269 1431.1L269.6 1432.1L270.1 1433.2L270.7 1434.3L271.2 1433.5L271.8 1432.4L272.3 1431.3L272.9 1430.1L273.4 1429L274 1427.9L274.5 1426.8L275.1 1426.1L275.7 1427.2L276.2 1428.3L276.8 1429.5L277.3 1430.6L277.9 1431.7L278.4 1432.8L279 1433.9L279.5 1433.7L280.1 1432.7L280.6 1431.6L281.2 1430.5L281.7 1429.5L282.3 1428.4L282.8 1427.4L283.4 1426.4L283.9 1427.6L284.5 1428.7L285 1429.9L285.6 1431.1L286.1 1432.2L286.7 1433.4L287.2 1434.6L287.8 1434.8L288.3 1433.8L288.9 1432.8L289.4 1431.8L290 1430.8L290.5 1429.9L291.1 1428.9L291.6 1427.9L292.2 1429.1L292.7 1430.3L293.3 1431.5L293.8 1432.8L294.4 1434L294.9 1435.2L295.5 1436.4L296 1436.5L296.6 1435.6L297.1 1434.6L297.7 1433.7L298.2 1432.8L298.8 1432L299.3 1431.1L299.9 1430.7L300.4 1431.9L301 1433.2L301.5 1434.5L302.1 1435.7L302.6 1437L303.2 1438.2L303.8 1439.5L304.3 1438.7L304.9 1437.8L305.4 1437L306 1436.2L306.5 1435.4L307.1 1434.6L307.6 1433.8L308.2 1434.8L308.7 1436.1L309.3 1437.4L309.8 1438.7L310.4 1439.9L310.9 1441.2L311.5 1442.5L312 1442L312.6 1441.3L313.1 1440.6L313.7 1439.8L314.2 1439.1L314.8 1438.4L315.3 1437.7L315.9 1438.9L316.4 1440.2L317 1441.4L317.5 1442.7L318.1 1444L318.6 1445.2L319.2 1446.3L319.7 1445.6L320.3 1445L320.8 1444.3L321.4 1443.7L321.9 1443.1L322.5 1442.5L323 1442.7L323.6 1444L324.1 1445.2L324.7 1446.5L325.2 1447.7L325.8 1448.9L326.3 1450.2L326.9 1450L327.4 1449.5L328 1448.9L328.5 1448.4L329.1 1447.9L329.6 1447.5L330.2 1447.4L330.7 1448.6L331.3 1449.8L331.9 1451L332.4 1452.2L333 1453.4L333.5 1454.6L334.1 1454.5L334.6 1454L335.2 1453.6L335.7 1453.2L336.3 1452.9L336.8 1452.5L337.4 1452.8L337.9 1453.9L338.5 1455.1L339 1456.2L339.6 1457.3L340.1 1458.4L340.7 1459.4L341.2 1459.1L341.8 1458.8L342.3 1458.5L342.9 1458.2L343.4 1458L344 1457.7L344.5 1458.6L345.1 1459.6L345.6 1460.7L346.2 1461.7L346.7 1462.7L347.3 1463.7L347.8 1464L348.4 1463.8L348.9 1463.7L349.5 1463.5L350 1463.4L350.6 1463.3L351.1 1463.6L351.7 1464.5L352.2 1465.5L352.8 1466.4L353.3 1467.3L353.9 1468.2L354.4 1468.9L355 1468.8L355.5 1468.8L356.1 1468.8L356.6 1468.8L357.2 1468.8L357.7 1468.8L358.3 1469.7L358.9 1470.4L359.4 1471.2L360 1472L360.5 1472.9L361.1 1473.7L361.6 1473.8L362.2 1473.8L362.7 1473.7L363.3 1473.6L363.8 1473.5L364.4 1473.3L364.9 1473.8L365.5 1474.7L366 1475.6L366.6 1476.5L367.1 1477.4L367.7 1478.4L368.2 1478.9L368.8 1478.7L369.3 1478.5L369.9 1478.3L370.4 1478L371 1477.8L371.5 1477.7L372.1 1478.7L372.6 1479.7L373.2 1480.7L373.7 1481.8L374.3 1482.8L374.8 1483.9L375.4 1483.7L375.9 1483.3L376.5 1483L377 1482.6L377.6 1482.3L378.1 1481.9L378.7 1482.4L379.2 1483.5L379.8 1484.6L380.3 1485.7L380.9 1486.8L381.4 1487.9L382 1488.7L382.5 1488.3L383.1 1487.8L383.6 1487.4L384.2 1486.9L384.7 1486.4L385.3 1485.9L385.9 1486.7L386.4 1487.9L387 1489L387.5 1490.2L388.1 1491.4L388.6 1492.6L389.2 1493.3L389.7 1492.7L390.3 1492.2L390.8 1491.6L391.4 1491L391.9 1490.4L392.5 1489.8L393 1490.5L393.6 1491.7L394.1 1492.9L394.7 1494.1L395.2 1495.3L395.8 1496.6L396.3 1497.8L396.9 1497.1L397.4 1496.5L398 1495.8L398.5 1495.1L399.1 1494.4L399.6 1493.7L400.2 1493.5L400.7 1494.7L401.3 1495.9L401.8 1497.2L402.4 1498.4L402.9 1499.7L403.5 1500.9L404 1501.5L404.6 1500.7L405.1 1499.9L405.7 1499.2L406.2 1498.4L406.8 1497.6L407.3 1496.8L407.9 1496.8L408.4 1498L409 1499.3L409.5 1500.5L410.1 1501.8L410.6 1503L411.2 1504.3L411.7 1504.9L412.3 1504.1L412.8 1503.2L413.4 1502.4L414 1501.5L414.5 1500.6L415.1 1499.7L415.6 1499.1L416.2 1500.3L416.7 1501.5L417.3 1502.7L417.8 1504L418.4 1505.2L418.9 1506.5L419.5 1507.7L420 1507.2L420.6 1506.3L421.1 1505.3L421.7 1504.4L422.2 1503.5L422.8 1502.5L423.3 1501.5L423.9 1501.5L424.4 1502.7L425 1503.9L425.5 1505.1L426.1 1506.3L426.6 1507.5L427.2 1508.6L427.7 1509.8L428.3 1509L428.8 1508L429.4 1507L429.9 1506L430.5 1504.9L431 1503.9L431.6 1502.9L432.1 1502.7L432.7 1503.9L433.2 1505L433.8 1506.2L434.3 1507.3L434.9 1508.5L435.4 1509.6L436 1510.8L436.5 1510.1L437.1 1509L437.6 1508L438.2 1506.9L438.7 1505.8L439.3 1504.7L439.8 1503.6L440.4 1503L441 1504.1L441.5 1505.2L442.1 1506.3L442.6 1507.4L443.2 1508.5L443.7 1509.6L444.3 1510.6L444.8 1510.4L445.4 1509.2L445.9 1508.1L446.5 1507L447 1505.8L447.6 1504.7L448.1 1503.6L448.7 1502.4L449.2 1503.5L449.8 1504.5L450.3 1505.5L450.9 1506.6L451.4 1507.6L452 1508.6L452.5 1509.6L453.1 1509.6L453.6 1508.4L454.2 1507.2L454.7 1506L455.3 1504.9L455.8 1503.7L456.4 1502.5L456.9 1501.3L457.5 1502.2L458 1503.1L458.6 1504.1L459.1 1505.1L459.7 1506L460.2 1507L460.8 1507.9L461.3 1507.6L461.9 1506.4L462.4 1505.2L463 1503.9L463.5 1502.7L464.1 1501.5L464.6 1500.3L465.2 1499.5L465.7 1500.4L466.3 1501.3L466.8 1502.2L467.4 1503.1L467.9 1503.9L468.5 1504.8L469.1 1505.6L469.6 1504.4L470.2 1503.2L470.7 1501.9L471.3 1500.7L471.8 1499.4L472.4 1498.2L472.9 1496.9L473.5 1497.5L474 1498.3L474.6 1499.1L475.1 1499.9L475.7 1500.7L476.2 1501.4L476.8 1502.2L477.3 1501.3L477.9 1500L478.4 1498.7L479 1497.5L479.5 1496.2L480.1 1495L480.6 1493.8L481.2 1494.4L481.7 1495.1L482.3 1495.8L482.8 1496.5L483.4 1497.2L483.9 1497.9L484.5 1498.3L485 1497L485.6 1495.8L486.1 1494.6L486.7 1493.3L487.2 1492.1L487.8 1490.9L488.3 1490.4L488.9 1491.1L489.4 1491.7L490 1492.3L490.5 1492.9L491.1 1493.5L491.6 1494L492.2 1493.2L492.7 1492L493.3 1490.8L493.8 1489.6L494.4 1488.4L494.9 1487.3L495.5 1486.5L496 1487.1L496.6 1487.6L497.2 1488.1L497.7 1488.5L498.3 1489L498.8 1489.5L499.4 1488.6L499.9 1487.5L500.5 1486.3L501 1485.2L501.6 1484.1L502.1 1483L502.7 1482.5L503.2 1483L503.8 1483.4L504.3 1483.7L504.9 1484.1L505.4 1484.4L506 1484.6L506.5 1483.6L507.1 1482.5L507.6 1481.5L508.2 1480.4L508.7 1479.4L509.3 1478.4L509.8 1478.4L510.4 1478.7L510.9 1479L511.5 1479.2L512 1479.5L512.6 1479.7L513.1 1479.2L513.7 1478.2L514.2 1477.3L514.8 1476.3L515.3 1475.4L515.9 1474.5L516.4 1474L517 1474.2L517.5 1474.3L518.1 1474.4L518.6 1474.5L519.2 1474.6L519.7 1474.5L520.3 1473.7L520.8 1472.8L521.4 1472L521.9 1471.2L522.5 1470.4L523 1469.6L523.6 1469.7L524.2 1469.6L524.7 1469.6L525.3 1469.6L525.8 1469.6L526.4 1469.7L526.9 1469L527.5 1468.1L528 1467.3L528.6 1466.3L529.1 1465.4L529.7 1464.5L530.2 1464.2L530.8 1464.2L531.3 1464.3L531.9 1464.5L532.4 1464.6L533 1464.8L533.5 1464.5L534.1 1463.5L534.6 1462.5L535.2 1461.5L535.7 1460.5L536.3 1459.4L536.8 1458.6L537.4 1458.8L537.9 1459L538.5 1459.3L539 1459.5L539.6 1459.8L540.1 1460.1L540.7 1459.1L541.2 1458.1L541.8 1457L542.3 1455.9L542.9 1454.7L543.4 1453.6L544 1453.3L544.5 1453.7L545.1 1454L545.6 1454.4L546.2 1454.8L546.7 1455.2L547.3 1455.2L547.8 1454.1L548.4 1452.9L548.9 1451.7L549.5 1450.6L550 1449.4L550.6 1448.1L551.1 1448.3L551.7 1448.7L552.3 1449.2L552.8 1449.7L553.4 1450.2L553.9 1450.7L554.5 1450.7L555 1449.5L555.6 1448.3L556.1 1447.1L556.7 1445.8L557.2 1444.6L557.8 1443.3L558.3 1443.4L558.9 1443.9L559.4 1444.5L560 1445.1L560.5 1445.7L561.1 1446.4L561.6 1446.9L562.2 1445.7L562.7 1444.4L563.3 1443.2L563.8 1441.9L564.4 1440.6L564.9 1439.3L565.5 1438.5L566 1439.2L566.6 1439.9L567.1 1440.6L567.7 1441.3L568.2 1442L568.8 1442.8L569.3 1442.8L569.9 1441.5L570.4 1440.2L571 1438.9L571.5 1437.7L572.1 1436.4L572.6 1435.1L573.2 1434.6L573.7 1435.4L574.3 1436.1L574.8 1436.9L575.4 1437.7L575.9 1438.6L576.5 1439.4L577 1439.6L577.6 1438.3L578.1 1437.1L578.7 1435.8L579.3 1434.6L579.8 1433.3L580.4 1432L580.9 1431L581.5 1431.8L582 1432.7L582.6 1433.6L583.1 1434.4L583.7 1435.3L584.2 1436.2L584.8 1437.2L585.3 1436.4L585.9 1435.1L586.4 1433.9L587 1432.7L587.5 1431.4L588.1 1430.2L588.6 1429L589.2 1428.6L589.7 1429.6L590.3 1430.5L590.8 1431.5L591.4 1432.4L591.9 1433.4L592.5 1434.4L593 1435.4L593.6 1434.3L594.1 1433.2L594.7 1432L595.2 1430.8L595.8 1429.6L596.3 1428.4L596.9 1427.3L597.4 1427L598 1428L598.5 1429L599.1 1430.1L599.6 1431.1L600.2 1432.1L600.7 1433.2L601.3 1434.3L601.8 1433.5L602.4 1432.4L602.9 1431.3L603.5 1430.1L604 1429L604.6 1427.9L605.1 1426.8L605.7 1426.1L606.3 1427.2L606.8 1428.3L607.4 1429.5L607.9 1430.6L608.5 1431.7L609 1432.8L609.6 1433.9L610.1 1433.7L610.7 1432.7L611.2 1431.6L611.8 1430.5L612.3 1429.5L612.9 1428.4L613.4 1427.4L614 1426.4L614.5 1427.6L615.1 1428.7L615.6 1429.9L616.2 1431.1L616.7 1432.2L617.3 1433.4L617.8 1434.6L618.4 1434.8L618.9 1433.8L619.5 1432.8L620 1431.8L620.6 1430.8L621.1 1429.9L621.7 1428.9L622.2 1427.9L622.8 1429.1L623.3 1430.3L623.9 1431.5L624.4 1432.8L625 1434L625.5 1435.2L626.1 1436.4L626.6 1436.5L627.2 1435.6L627.7 1434.6L628.3 1433.7L628.8 1432.8L629.4 1432L629.9 1431.1L630.5 1430.7L631 1431.9L631.6 1433.2L632.1 1434.5L632.7 1435.7L633.2 1437L633.8 1438.2L634.4 1439.5L634.9 1438.7L635.5 1437.8L636 1437L636.6 1436.2L637.1 1435.4L637.7 1434.6L638.2 1433.8L638.8 1434.8L639.3 1436.1L639.9 1437.4L640.4 1438.7L641 1439.9L641.5 1441.2L642.1 1442.5L642.6 1442L643.2 1441.3L643.7 1440.6L644.3 1439.8L644.8 1439.1L645.4 1438.4L645.9 1437.7L646.5 1438.9L647 1440.2L647.6 1441.4L648.1 1442.7L648.7 1444L649.2 1445.2L649.8 1446.3L650.3 1445.6L650.9 1445L651.4 1444.3L652 1443.7L652.5 1443.1L653.1 1442.5L653.6 1442.7L654.2 1444L654.7 1445.2L655.3 1446.5L655.8 1447.7L656.4 1448.9L656.9 1450.2L657.5 1450L658 1449.5L658.6 1448.9L659.1 1448.4L659.7 1447.9L660.2 1447.5L660.8 1447.4L661.3 1448.6L661.9 1449.8L662.5 1451L663 1452.2L663.6 1453.4L664.1 1454.6L664.7 1454.5L665.2 1454L665.8 1453.6L666.3 1453.2L666.9 1452.9L667.4 1452.5L668 1452.8L668.5 1453.9L669.1 1455.1L669.6 1456.2L670.2 1457.3L670.7 1458.4L671.3 1459.4L671.8 1459.1L672.4 1458.8L672.9 1458.5L673.5 1458.2L674 1458L674.6 1457.7L675.1 1458.6L675.7 1459.6L676.2 1460.7L676.8 1461.7L677.3 1462.7L677.9 1463.7L678.4 1464L679 1463.8L679.5 1463.7L680.1 1463.5L680.6 1463.4L681.2 1463.3L681.7 1463.6L682.3 1464.5L682.8 1465.5L683.4 1466.4L683.9 1467.3L684.5 1468.2L685 1468.9L685.6 1468.8L686.1 1468.8L686.7 1468.8L687.2 1468.8L687.8 1468.8L688.3 1468.8L688.9 1469.7L689.5 1470.4L690 1471.2L690.6 1472L691.1 1472.9L691.7 1473.7L692.2 1473.8L692.8 1473.8L693.3 1473.7L693.9 1473.6L694.4 1473.5L695 1473.3L695.5 1473.8L696.1 1474.7L696.6 1475.6L697.2 1476.5L697.7 1477.4L698.3 1478.4L698.8 1478.9L699.4 1478.7L699.9 1478.5L700.5 1478.3L701 1478L701.6 1477.8L702.1 1477.7L702.7 1478.7L703.2 1479.7L703.8 1480.7L704.3 1481.8L704.9 1482.8L705.4 1483.9L706 1483.7L706.5 1483.3L707.1 1483L707.6 1482.6L708.2 1482.3L708.7 1481.9L709.3 1482.4L709.8 1483.5L710.4 1484.6L710.9 1485.7L711.5 1486.8L712 1487.9L712.6 1488.7L713.1 1488.3L713.7 1487.8L714.2 1487.4L714.8 1486.9L715.3 1486.4L715.9 1485.9L716.4 1486.7L717 1487.9L717.6 1489L718.1 1490.2L718.7 1491.4L719.2 1492.6L719.8 1493.3L720.3 1492.7L720.9 1492.2L721.4 1491.6L722 1491L722.5 1490.4L723.1 1489.8L723.6 1490.5L724.2 1491.7L724.7 1492.9L725.3 1494.1L725.8 1495.3L726.4 1496.6L726.9 1497.8L727.5 1497.1L728 1496.5L728.6 1495.8L729.1 1495.1L729.7 1494.4L730.2 1493.7L730.8 1493.5L731.3 1494.7L731.9 1495.9L732.4 1497.2L733 1498.4L733.5 1499.7L734.1 1500.9L734.6 1501.5L735.2 1500.7L735.7 1499.9L736.3 1499.2L736.8 1498.4L737.4 1497.6L737.9 1496.8L738.5 1496.8L739 1498L739.6 1499.3L740.1 1500.5L740.7 1501.8L741.2 1503L741.8 1504.3L742.3 1504.9L742.9 1504.1L743.4 1503.2L744 1502.4L744.6 1501.5L745.1 1500.6L745.7 1499.7L746.2 1499.1L746.8 1500.3L747.3 1501.5L747.9 1502.7L748.4 1504L749 1505.2L749.5 1506.5L750.1 1507.7L750.6 1507.2L751.2 1506.3L751.7 1505.3L752.3 1504.4L752.8 1503.5L753.4 1502.5L753.9 1501.5L754.5 1501.5L755 1502.7L755.6 1503.9L756.1 1505.1L756.7 1506.3L757.2 1507.5L757.8 1508.6L758.3 1509.8L758.9 1509L759.4 1508L760 1507L760.5 1506L761.1 1504.9L761.6 1503.9L762.2 1502.9L762.7 1502.7L763.3 1503.9L763.8 1505L764.4 1506.2L764.9 1507.3L765.5 1508.5L766 1509.6L766.6 1510.8L767.1 1510.1L767.7 1509L768.2 1508L768.8 1506.9L769.3 1505.8L769.9 1504.7L770.4 1503.6L771 1503L771.6 1504.1L772.1 1505.2L772.7 1506.3L773.2 1507.4L773.8 1508.5L774.3 1509.6L774.9 1510.6L775.4 1510.4L776 1509.2L776.5 1508.1L777.1 1507L777.6 1505.8L778.2 1504.7L778.7 1503.6L779.3 1502.4L779.8 1503.5L780.4 1504.5L780.9 1505.5L781.5 1506.6L782 1507.6L782.6 1508.6L783.1 1509.6L783.7 1509.6L784.2 1508.4L784.8 1507.2L785.3 1506L785.9 1504.9L786.4 1503.7L787 1502.5L787.5 1501.3L788.1 1502.2L788.6 1503.1L789.2 1504.1L789.7 1505.1L790.3 1506L790.8 1507L791.4 1507.9L791.9 1507.6L792.5 1506.4L793 1505.2L793.6 1503.9L794.1 1502.7L794.7 1501.5L795.2 1500.3L795.8 1499.5L796.3 1500.4L796.9 1501.3L797.4 1502.2L798 1503.1L798.5 1503.9L799.1 1504.8L799.7 1505.6L800.2 1504.4L800.8 1503.2L801.3 1501.9L801.9 1500.7L802.4 1499.4L803 1498.2L803.5 1496.9L804.1 1497.5L804.6 1498.3L805.2 1499.1L805.7 1499.9L806.3 1500.7L806.8 1501.4L807.4 1502.2L807.9 1501.3L808.5 1500L809 1498.7L809.6 1497.5L810.1 1496.2L810.7 1495L811.2 1493.8L811.8 1494.4L812.3 1495.1L812.9 1495.8L813.4 1496.5L814 1497.2L814.5 1497.9L815.1 1498.3L815.6 1497L816.2 1495.8L816.7 1494.6L817.3 1493.3L817.8 1492.1L818.4 1490.9L818.9 1490.4L819.5 1491.1L820 1491.7L820.6 1492.3L821.1 1492.9L821.7 1493.5L822.2 1494L822.8 1493.2L823.3 1492L823.9 1490.8L824.4 1489.6L825 1488.4L825.5 1487.3L826.1 1486.5L826.6 1487.1L827.2 1487.6L827.8 1488.1L828.3 1488.5L828.9 1489L829.4 1489.5L830 1488.6L830.5 1487.5L831.1 1486.3L831.6 1485.2L832.2 1484.1L832.7 1483L833.3 1482.5L833.8 1483L834.4 1483.4L834.9 1483.7L835.5 1484.1L836 1484.4L836.6 1484.6L837.1 1483.6L837.7 1482.5L838.2 1481.5L838.8 1480.4L839.3 1479.4L839.9 1478.4L840.4 1478.4L841 1478.7L841.5 1479L842.1 1479.2L842.6 1479.5L843.2 1479.7L843.7 1479.2L844.3 1478.2L844.8 1477.3L845.4 1476.3L845.9 1475.4L846.5 1474.5L847 1474L847.6 1474.2L848.1 1474.3L848.7 1474.4L849.2 1474.5L849.8 1474.6L850.3 1474.5L850.9 1473.7L851.4 1472.8L852 1472L852.5 1471.2L853.1 1470.4L853.6 1469.6L854.2 1469.7L854.8 1469.6L855.3 1469.6L855.9 1469.6L856.4 1469.6L857 1469.7L857.5 1469L858.1 1468.1L858.6 1467.3L859.2 1466.3L859.7 1465.4L860.3 1464.5L860.8 1464.2L861.4 1464.2L861.9 1464.3L862.5 1464.5L863 1464.6L863.6 1464.8L864.1 1464.5L864.7 1463.5L865.2 1462.5L865.8 1461.5L866.3 1460.5L866.9 1459.4L867.4 1458.6L868 1458.8L868.5 1459L869.1 1459.3L869.6 1459.5L870.2 1459.8L870.7 1460.1L871.3 1459.1L871.8 1458.1L872.4 1457L872.9 1455.9L873.5 1454.7L874 1453.6L874.6 1453.3L875.1 1453.7L875.7 1454L876.2 1454.4L876.8 1454.8L877.3 1455.2L877.9 1455.2L878.4 1454.1L879 1452.9L879.5 1451.7L880.1 1450.6L880.6 1449.4L881.2 1448.1L881.7 1448.3L882.3 1448.7L882.9 1449.2L883.4 1449.7L884 1450.2L884.5 1450.7L885.1 1450.7L885.6 1449.5L886.2 1448.3L886.7 1447.1L887.3 1445.8L887.8 1444.6L888.4 1443.3L888.9 1443.4L889.5 1443.9L890 1444.5L890.6 1445.1L891.1 1445.7L891.7 1446.4L892.2 1446.9L892.8 1445.7L893.3 1444.4L893.9 1443.2L894.4 1441.9L895 1440.6L895.5 1439.3L896.1 1438.5L896.6 1439.2L897.2 1439.9L897.7 1440.6L898.3 1441.3L898.8 1442L899.4 1442.8L899.9 1442.8L900.5 1441.5L901 1440.2L901.6 1438.9L902.1 1437.7L902.7 1436.4L903.2 1435.1L903.8 1434.6L904.3 1435.4L904.9 1436.1L905.4 1436.9L906 1437.7L906.5 1438.6L907.1 1439.4L907.6 1439.6L908.2 1438.3L908.7 1437.1L909.3 1435.8L909.9 1434.6L910.4 1433.3L911 1432L911.5 1431L912.1 1431.8L912.6 1432.7L913.2 1433.6L913.7 1434.4L914.3 1435.3L914.8 1436.2L915.4 1437.2L915.9 1436.4L916.5 1435.1L917 1433.9L917.6 1432.7L918.1 1431.4L918.7 1430.2L919.2 1429L919.8 1428.6L920.3 1429.6L920.9 1430.5L921.4 1431.5L922 1432.4L922.5 1433.4L923.1 1434.4L923.6 1435.4L924.2 1434.3L924.7 1433.2L925.3 1432L925.8 1430.8L926.4 1429.6L926.9 1428.4L927.5 1427.3L928 1427L928.6 1428L929.1 1429L929.7 1430.1L930.2 1431.1L930.8 1432.1L931.3 1433.2L931.9 1434.3L932.4 1433.5L933 1432.4L933.5 1431.3L934.1 1430.1L934.6 1429L935.2 1427.9L935.7 1426.8L936.3 1426.1L936.9 1427.2L937.4 1428.3L938 1429.5L938.5 1430.6L939.1 1431.7L939.6 1432.8L940.2 1433.9L940.7 1433.7L941.3 1432.7L941.8 1431.6L942.4 1430.5L942.9 1429.5L943.5 1428.4L944 1427.4L944.6 1426.4L945.1 1427.6L945.7 1428.7L946.2 1429.9L946.8 1431.1L947.3 1432.2L947.9 1433.4L948.4 1434.6L949 1434.8L949.5 1433.8L950.1 1432.8L950.6 1431.8L951.2 1430.8L951.7 1429.9L952.3 1428.9L952.8 1427.9L953.4 1429.1L953.9 1430.3L954.5 1431.5L955 1432.8L955.6 1434L956.1 1435.2L956.7 1436.4L957.2 1436.5L957.8 1435.6L958.3 1434.6L958.9 1433.7L959.4 1432.8L960 1432L960.5 1431.1L961.1 1430.7L961.6 1431.9L962.2 1433.2L962.7 1434.5L963.3 1435.7L963.8 1437L964.4 1438.2L965 1439.5L965.5 1438.7L966.1 1437.8L966.6 1437L967.2 1436.2L967.7 1435.4L968.3 1434.6L968.8 1433.8L969.4 1434.8L969.9 1436.1L970.5 1437.4L971 1438.7L971.6 1439.9L972.1 1441.2L972.7 1442.5L973.2 1442L973.8 1441.3L974.3 1440.6L974.9 1439.8L975.4 1439.1L976 1438.4L976.5 1437.7L977.1 1438.9L977.6 1440.2L978.2 1441.4L978.7 1442.7L979.3 1444L979.8 1445.2L980.4 1446.3L980.9 1445.6L981.5 1445L982 1444.3L982.6 1443.7L983.1 1443.1L983.7 1442.5L984.2 1442.7L984.8 1444L985.3 1445.2L985.9 1446.5L986.4 1447.7L987 1448.9L987.5 1450.2L988.1 1450L988.6 1449.5L989.2 1448.9L989.7 1448.4L990.3 1447.9L990.8 1447.5L991.4 1447.4L992 1448.6L992.5 1449.8L993.1 1451L993.6 1452.2L994.2 1453.4L994.7 1454.6L995.3 1454.5L995.8 1454L996.4 1453.6L996.9 1453.2L997.5 1452.9L998 1452.5L998.6 1452.8L999.1 1453.9L999.7 1455.1L1000.2 1456.2L1000.8 1457.3L1001.3 1458.4L1001.9 1459.4L1002.4 1459.1L1003 1458.8L1003.5 1458.5L1004.1 1458.2L1004.6 1458L1005.2 1457.7L1005.7 1458.6L1006.3 1459.6L1006.8 1460.7L1007.4 1461.7L1007.9 1462.7L1008.5 1463.7L1009 1464L1009.6 1463.8L1010.1 1463.7L1010.7 1463.5L1011.2 1463.4L1011.8 1463.3L1012.3 1463.6L1012.9 1464.5L1013.4 1465.5L1014 1466.4L1014.5 1467.3L1015.1 1468.2L1015.6 1468.9L1016.2 1468.8L1016.7 1468.8L1017.3 1468.8L1017.8 1468.8L1018.4 1468.8L1018.9 1468.8L1019.5 1469.7L1020.1 1470.4L1020.6 1471.2L1021.2 1472L1021.7 1472.9L1022.3 1473.7L1022.8 1473.8L1023.4 1473.8L1023.9 1473.7L1024.5 1473.6L1025 1473.5L1025.6 1473.3L1026.1 1473.8L1026.7 1474.7L1027.2 1475.6L1027.8 1476.5L1028.3 1477.4L1028.9 1478.4L1029.4 1478.9L1030 1478.7L1030.5 1478.5L1031.1 1478.3L1031.6 1478L1032.2 1477.8L1032.7 1477.7L1033.3 1478.7L1033.8 1479.7L1034.4 1480.7L1034.9 1481.8L1035.5 1482.8L1036 1483.9L1036.6 1483.7L1037.1 1483.3L1037.7 1483L1038.2 1482.6L1038.8 1482.3L1039.3 1481.9L1039.9 1482.4L1040.4 1483.5L1041 1484.6L1041.5 1485.7L1042.1 1486.8L1042.6 1487.9L1043.2 1488.7L1043.7 1488.3L1044.3 1487.8L1044.8 1487.4L1045.4 1486.9L1045.9 1486.4L1046.5 1485.9L1047 1486.7L1047.6 1487.9L1048.2 1489L1048.7 1490.2L1049.3 1491.4L1049.8 1492.6L1050.4 1493.3L1050.9 1492.7L1051.5 1492.2L1052 1491.6L1052.6 1491L1053.1 1490.4L1053.7 1489.8L1054.2 1490.5L1054.8 1491.7L1055.3 1492.9L1055.9 1494.1L1056.4 1495.3L1057 1496.6L1057.5 1497.8L1058.1 1497.1L1058.6 1496.5L1059.2 1495.8L1059.7 1495.1L1060.3 1494.4L1060.8 1493.7L1061.4 1493.5L1061.9 1494.7L1062.5 1495.9L1063 1497.2L1063.6 1498.4L1064.1 1499.7L1064.7 1500.9L1065.2 1501.5L1065.8 1500.7L1066.3 1499.9L1066.9 1499.2L1067.4 1498.4L1068 1497.6L1068.5 1496.8L1069.1 1496.8L1069.6 1498L1070.2 1499.3L1070.7 1500.5L1071.3 1501.8L1071.8 1503L1072.4 1504.3L1072.9 1504.9L1073.5 1504.1L1074 1503.2L1074.6 1502.4L1075.2 1501.5L1075.7 1500.6L1076.3 1499.7L1076.8 1499.1L1077.4 1500.3L1077.9 1501.5L1078.5 1502.7L1079 1504L1079.6 1505.2L1080.1 1506.5L1080.7 1507.7L1081.2 1507.2L1081.8 1506.3L1082.3 1505.3L1082.9 1504.4L1083.4 1503.5L1084 1502.5L1084.5 1501.5L1085.1 1501.5L1085.6 1502.7L1086.2 1503.9L1086.7 1505.1L1087.3 1506.3L1087.8 1507.5L1088.4 1508.6L1088.9 1509.8L1089.5 1509L1090 1508L1090.6 1507L1091.1 1506L1091.7 1504.9L1092.2 1503.9L1092.8 1502.9L1093.3 1502.7L1093.9 1503.9L1094.4 1505L1095 1506.2L1095.5 1507.3L1096.1 1508.5L1096.6 1509.6L1097.2 1510.8L1097.7 1510.1L1098.3 1509L1098.8 1508L1099.4 1506.9L1099.9 1505.8L1100.5 1504.7L1101 1503.6L1101.6 1503L1102.2 1504.1L1102.7 1505.2L1103.3 1506.3L1103.8 1507.4L1104.4 1508.5L1104.9 1509.6L1105.5 1510.6L1106 1510.4L1106.6 1509.2L1107.1 1508.1L1107.7 1507L1108.2 1505.8L1108.8 1504.7L1109.3 1503.6L1109.9 1502.4L1110.4 1503.5L1111 1504.5L1111.5 1505.5L1112.1 1506.6L1112.6 1507.6L1113.2 1508.6L1113.7 1509.6L1114.3 1509.6L1114.8 1508.4L1115.4 1507.2L1115.9 1506L1116.5 1504.9L1117 1503.7L1117.6 1502.5L1118.1 1501.3L1118.7 1502.2L1119.2 1503.1L1119.8 1504.1L1120.3 1505.1L1120.9 1506L1121.4 1507L1122 1507.9L1122.5 1507.6L1123.1 1506.4L1123.6 1505.2L1124.2 1503.9L1124.7 1502.7L1125.3 1501.5L1125.8 1500.3L1126.4 1499.5L1126.9 1500.4L1127.5 1501.3L1128 1502.2L1128.6 1503.1L1129.1 1503.9L1129.7 1504.8L1130.3 1505.6L1130.8 1504.4L1131.4 1503.2L1131.9 1501.9L1132.5 1500.7L1133 1499.4L1133.6 1498.2L1134.1 1496.9L1134.7 1497.5L1135.2 1498.3L1135.8 1499.1L1136.3 1499.9L1136.9 1500.7L1137.4 1501.4L1138 1502.2L1138.5 1501.3L1139.1 1500L1139.6 1498.7L1140.2 1497.5L1140.7 1496.2L1141.3 1495L1141.8 1493.8L1142.4 1494.4L1142.9 1495.1L1143.5 1495.8L1144 1496.5L1144.6 1497.2L1145.1 1497.9L1145.7 1498.3L1146.2 1497L1146.8 1495.8L1147.3 1494.6L1147.9 1493.3L1148.4 1492.1L1149 1490.9L1149.5 1490.4L1150.1 1491.1L1150.6 1491.7L1151.2 1492.3L1151.7 1492.9L1152.3 1493.5L1152.8 1494L1153.4 1493.2L1153.9 1492L1154.5 1490.8L1155 1489.6L1155.6 1488.4L1156.1 1487.3L1156.7 1486.5L1157.3 1487.1L1157.8 1487.6L1158.4 1488.1L1158.9 1488.5L1159.5 1489L1160 1489.5L1160.6 1488.6L1161.1 1487.5L1161.7 1486.3L1162.2 1485.2L1162.8 1484.1L1163.3 1483L1163.9 1482.5L1164.4 1483L1165 1483.4L1165.5 1483.7L1166.1 1484.1L1166.6 1484.4L1167.2 1484.6L1167.7 1483.6L1168.3 1482.5L1168.8 1481.5L1169.4 1480.4L1169.9 1479.4L1170.5 1478.4L1171 1478.4L1171.6 1478.7L1172.1 1479L1172.7 1479.2L1173.2 1479.5L1173.8 1479.7L1174.3 1479.2L1174.9 1478.2L1175.4 1477.3L1176 1476.3L1176.5 1475.4L1177.1 1474.5L1177.6 1474L1178.2 1474.2L1178.7 1474.3L1179.3 1474.4L1179.8 1474.5L1180.4 1474.6L1180.9 1474.5L1181.5 1473.7L1182 1472.8L1182.6 1472L1183.1 1471.2L1183.7 1470.4L1184.2 1469.6L1184.8 1469.7L1185.4 1469.6L1185.9 1469.6L1186.5 1469.6L1187 1469.6L1187.6 1469.7L1188.1 1469L1188.7 1468.1L1189.2 1467.3L1189.8 1466.3L1190.3 1465.4L1190.9 1464.5L1191.4 1464.2L1192 1464.2L1192.5 1464.3L1193.1 1464.5L1193.6 1464.6L1194.2 1464.8L1194.7 1464.5L1195.3 1463.5L1195.8 1462.5L1196.4 1461.5L1196.9 1460.5L1197.5 1459.4L1198 1458.6L1198.6 1458.8L1199.1 1459L1199.7 1459.3L1200.2 1459.5L1200.8 1459.8L1201.3 1460.1L1201.9 1459.1L1202.4 1458.1L1203 1457L1203.5 1455.9L1204.1 1454.7L1204.6 1453.6L1205.2 1453.3L1205.7 1453.7L1206.3 1454L1206.8 1454.4L1207.4 1454.8L1207.9 1455.2L1208.5 1455.2L1209 1454.1L1209.6 1452.9L1210.1 1451.7L1210.7 1450.6L1211.2 1449.4L1211.8 1448.1L1212.3 1448.3L1212.9 1448.7L1213.5 1449.2L1214 1449.7L1214.6 1450.2L1215.1 1450.7L1215.7 1450.7L1216.2 1449.5L1216.8 1448.3L1217.3 1447.1L1217.9 1445.8L1218.4 1444.6L1219 1443.3L1219.5 1443.4L1220.1 1443.9L1220.6 1444.5L1221.2 1445.1L1221.7 1445.7L1222.3 1446.4L1222.8 1446.9L1223.4 1445.7L1223.9 1444.4L1224.5 1443.2L1225 1441.9L1225.6 1440.6L1226.1 1439.3L1226.7 1438.5L1227.2 1439.2L1227.8 1439.9L1228.3 1440.6L1228.9 1441.3L1229.4 1442L1230 1442.8L1230.5 1442.8L1231.1 1441.5L1231.6 1440.2L1232.2 1438.9L1232.7 1437.7L1233.3 1436.4L1233.8 1435.1L1234.4 1434.6L1234.9 1435.4L1235.5 1436.1L1236 1436.9L1236.6 1437.7L1237.1 1438.6L1237.7 1439.4L1238.2 1439.6L1238.8 1438.3L1239.3 1437.1L1239.9 1435.8L1240.5 1434.6L1241 1433.3L1241.6 1432L1242.1 1431L1242.7 1431.8L1243.2 1432.7L1243.8 1433.6L1244.3 1434.4L1244.9 1435.3L1245.4 1436.2L1246 1437.2L1246.5 1436.4L1247.1 1435.1L1247.6 1433.9L1248.2 1432.7L1248.7 1431.4L1249.3 1430.2L1249.8 1429L1250.4 1428.6L1250.9 1429.6L1251.5 1430.5L1252 1431.5L1252.6 1432.4L1253.1 1433.4L1253.7 1434.4L1254.2 1435.4L1254.8 1434.3L1255.3 1433.2L1255.9 1432L1256.4 1430.8L1257 1429.6L1257.5 1428.4L1258.1 1427.3L1258.6 1427L1259.2 1428L1259.7 1429L1260.3 1430.1L1260.8 1431.1L1261.4 1432.1L1261.9 1433.2L1262.5 1434.3L1263 1433.5L1263.6 1432.4L1264.1 1431.3L1264.7 1430.1L1265.2 1429L1265.8 1427.9L1266.3 1426.8L1266.9 1426.1L1267.5 1427.2L1268 1428.3L1268.6 1429.5L1269.1 1430.6L1269.7 1431.7L1270.2 1432.8L1270.8 1433.9L1271.3 1433.7L1271.9 1432.7L1272.4 1431.6L1273 1430.5L1273.5 1429.5L1274.1 1428.4L1274.6 1427.4L1275.2 1426.4L1275.7 1427.6L1276.3 1428.7L1276.8 1429.9L1277.4 1431.1L1277.9 1432.2L1278.5 1433.4L1279 1434.6L1279.6 1434.8L1280.1 1433.8L1280.7 1432.8L1281.2 1431.8L1281.8 1430.8L1282.3 1429.9L1282.9 1428.9L1283.4 1427.9L1284 1429.1L1284.5 1430.3L1285.1 1431.5L1285.6 1432.8L1286.2 1434L1286.7 1435.2L1287.3 1436.4L1287.8 1436.5L1288.4 1435.6L1288.9 1434.6L1289.5 1433.7L1290 1432.8L1290.6 1432L1291.1 1431.1L1291.7 1430.7L1292.2 1431.9L1292.8 1433.2L1293.3 1434.5L1293.9 1435.7L1294.4 1437L1295 1438.2L1295.6 1439.5L1296.1 1438.7L1296.7 1437.8L1297.2 1437L1297.8 1436.2L1298.3 1435.4L1298.9 1434.6L1299.4 1433.8L1300 1434.8L1300.5 1436.1L1301.1 1437.4L1301.6 1438.7L1302.2 1439.9L1302.7 1441.2L1303.3 1442.5L1303.8 1442L1304.4 1441.3L1304.9 1440.6L1305.5 1439.8L1306 1439.1L1306.6 1438.4L1307.1 1437.7L1307.7 1438.9L1308.2 1440.2L1308.8 1441.4L1309.3 1442.7L1309.9 1444L1310.4 1445.2L1311 1446.3L1311.5 1445.6L1312.1 1445L1312.6 1444.3L1313.2 1443.7L1313.7 1443.1L1314.3 1442.5L1314.8 1442.7L1315.4 1444L1315.9 1445.2L1316.5 1446.5L1317 1447.7L1317.6 1448.9L1318.1 1450.2L1318.7 1450L1319.2 1449.5L1319.8 1448.9L1320.3 1448.4L1320.9 1447.9L1321.4 1447.5L1322 1447.4L1322.6 1448.6L1323.1 1449.8L1323.7 1451L1324.2 1452.2L1324.8 1453.4L1325.3 1454.6L1325.9 1454.5L1326.4 1454L1327 1453.6L1327.5 1453.2L1328.1 1452.9L1328.6 1452.5L1329.2 1452.8L1329.7 1453.9L1330.3 1455.1L1330.8 1456.2L1331.4 1457.3L1331.9 1458.4L1332.5 1459.4L1333 1459.1L1333.6 1458.8L1334.1 1458.5L1334.7 1458.2L1335.2 1458L1335.8 1457.7L1336.3 1458.6L1336.9 1459.6L1337.4 1460.7L1338 1461.7L1338.5 1462.7L1339.1 1463.7L1339.6 1464L1340.2 1463.8L1340.7 1463.7L1341.3 1463.5L1341.8 1463.4L1342.4 1463.3L1342.9 1463.6L1343.5 1464.5L1344 1465.5L1344.6 1466.4L1345.1 1467.3L1345.7 1468.2L1346.2 1468.9L1346.8 1468.8L1347.3 1468.8L1347.9 1468.8L1348.4 1468.8L1349 1468.8L1349.5 1468.8L1350.1 1469.7L1350.7 1470.4L1351.2 1471.2L1351.8 1472L1352.3 1472.9L1352.9 1473.7L1353.4 1473.8L1354 1473.8L1354.5 1473.7L1355.1 1473.6L1355.6 1473.5L1356.2 1473.3L1356.7 1473.8L1357.3 1474.7L1357.8 1475.6L1358.4 1476.5L1358.9 1477.4L1359.5 1478.4L1360 1478.9L1360.6 1478.7L1361.1 1478.5L1361.7 1478.3L1362.2 1478L1362.8 1477.8L1363.3 1477.7L1363.9 1478.7L1364.4 1479.7L1365 1480.7L1365.5 1481.8L1366.1 1482.8L1366.6 1483.9L1367.2 1483.7L1367.7 1483.3L1368.3 1483L1368.8 1482.6L1369.4 1482.3L1369.9 1481.9L1370.5 1482.4L1371 1483.5L1371.6 1484.6L1372.1 1485.7L1372.7 1486.8L1373.2 1487.9L1373.8 1488.7L1374.3 1488.3L1374.9 1487.8L1375.4 1487.4L1376 1486.9L1376.5 1486.4L1377.1 1485.9L1377.6 1486.7L1378.2 1487.9L1378.8 1489L1379.3 1490.2L1379.9 1491.4L1380.4 1492.6L1381 1493.3L1381.5 1492.7L1382.1 1492.2L1382.6 1491.6L1383.2 1491L1383.7 1490.4L1384.3 1489.8L1384.8 1490.5L1385.4 1491.7L1385.9 1492.9L1386.5 1494.1L1387 1495.3L1387.6 1496.6L1388.1 1497.8L1388.7 1497.1L1389.2 1496.5L1389.8 1495.8L1390.3 1495.1L1390.9 1494.4L1391.4 1493.7L1392 1493.5L1392.5 1494.7L1393.1 1495.9L1393.6 1497.2L1394.2 1498.4L1394.7 1499.7L1395.3 1500.9L1395.8 1501.5L1396.4 1500.7L1396.9 1499.9L1397.5 1499.2L1398 1498.4L1398.6 1497.6L1399.1 1496.8L1399.7 1496.8L1400.2 1498L1400.8 1499.3L1401.3 1500.5L1401.9 1501.8L1402.4 1503L1403 1504.3L1403.5 1504.9L1404.1 1504.1L1404.6 1503.2L1405.2 1502.4L1405.8 1501.5L1406.3 1500.6L1406.9 1499.7L1407.4 1499.1L1408 1500.3L1408.5 1501.5L1409.1 1502.7L1409.6 1504L1410.2 1505.2L1410.7 1506.5L1411.3 1507.7L1411.8 1507.2L1412.4 1506.3L1412.9 1505.3L1413.5 1504.4L1414 1503.5L1414.6 1502.5L1415.1 1501.5L1415.7 1501.5L1416.2 1502.7L1416.8 1503.9L1417.3 1505.1L1417.9 1506.3L1418.4 1507.5L1419 1508.6L1419.5 1509.8L1420.1 1509L1420.6 1508L1421.2 1507L1421.7 1506L1422.3 1504.9L1422.8 1503.9L1423.4 1502.9L1423.9 1502.7L1424.5 1503.9L1425 1505L1425.6 1506.2L1426.1 1507.3L1426.7 1508.5L1427.2 1509.6L1427.8 1510.8L1428.3 1510.1L1428.9 1509L1429.4 1508L1430 1506.9L1430.5 1505.8L1431.1 1504.7L1431.6 1503.6L1432.2 1503L1432.7 1504.1L1433.3 1505.2L1433.9 1506.3L1434.4 1507.4L1435 1508.5L1435.5 1509.6L1436.1 1510.6L1436.6 1510.4L1437.2 1509.2L1437.7 1508.1L1438.3 1507L1438.8 1505.8L1439.4 1504.7L1439.9 1503.6L1440.5 1502.4L1441 1503.5L1441.6 1504.5L1442.1 1505.5L1442.7 1506.6L1443.2 1507.6L1443.8 1508.6L1444.3 1509.6L1444.9 1509.6L1445.4 1508.4L1446 1507.2L1446.5 1506L1447.1 1504.9L1447.6 1503.7L1448.2 1502.5L1448.7 1501.3L1449.3 1502.2L1449.8 1503.1L1450.4 1504.1L1450.9 1505.1L1451.5 1506L1452 1507L1452.6 1507.9L1453.1 1507.6L1453.7 1506.4L1454.2 1505.2L1454.8 1503.9L1455.3 1502.7L1455.9 1501.5L1456.4 1500.3L1457 1499.5L1457.5 1500.4L1458.1 1501.3L1458.6 1502.2L1459.2 1503.1L1459.7 1503.9L1460.3 1504.8L1460.9 1505.6L1461.4 1504.4L1462 1503.2L1462.5 1501.9L1463.1 1500.7L1463.6 1499.4L1464.2 1498.2L1464.7 1496.9L1465.3 1497.5L1465.8 1498.3L1466.4 1499.1L1466.9 1499.9L1467.5 1500.7L1468 1501.4L1468.6 1502.2L1469.1 1501.3L1469.7 1500L1470.2 1498.7L1470.8 1497.5L1471.3 1496.2L1471.9 1495L1472.4 1493.8L1473 1494.4L1473.5 1495.1L1474.1 1495.8L1474.6 1496.5L1475.2 1497.2L1475.7 1497.9L1476.3 1498.3L1476.8 1497L1477.4 1495.8L1477.9 1494.6L1478.5 1493.3L1479 1492.1L1479.6 1490.9L1480.1 1490.4L1480.7 1491.1L1481.2 1491.7L1481.8 1492.3L1482.3 1492.9L1482.9 1493.5L1483.4 1494L1484 1493.2L1484.5 1492L1485.1 1490.8L1485.6 1489.6L1486.2 1488.4L1486.7 1487.3L1487.3 1486.5L1487.9 1487.1L1488.4 1487.6L1489 1488.1L1489.5 1488.5L1490.1 1489L1490.6 1489.5L1491.2 1488.6L1491.7 1487.5L1492.3 1486.3L1492.8 1485.2L1493.4 1484.1L1493.9 1483L1494.5 1482.5L1495 1483L1495.6 1483.4L1496.1 1483.7L1496.7 1484.1L1497.2 1484.4L1497.8 1484.6L1498.3 1483.6L1498.9 1482.5L1499.4 1481.5L1500 1480.4L1500.5 1479.4L1501.1 1478.4L1501.6 1478.4L1502.2 1478.7L1502.7 1479L1503.3 1479.2L1503.8 1479.5L1504.4 1479.7L1504.9 1479.2L1505.5 1478.2L1506 1477.3L1506.6 1476.3L1507.1 1475.4L1507.7 1474.5L1508.2 1474L1508.8 1474.2L1509.3 1474.3L1509.9 1474.4L1510.4 1474.5L1511 1474.6L1511.5 1474.5L1512.1 1473.7L1512.6 1472.8L1513.2 1472L1513.7 1471.2L1514.3 1470.4L1514.8 1469.6L1515.4 1469.7L1516 1469.6L1516.5 1469.6L1517.1 1469.6L1517.6 1469.6L1518.2 1469.7L1518.7 1469L1519.3 1468.1L1519.8 1467.3L1520.4 1466.3L1520.9 1465.4L1521.5 1464.5L1522 1464.2L1522.6 1464.2L1523.1 1464.3L1523.7 1464.5L1524.2 1464.6L1524.8 1464.8L1525.3 1464.5L1525.9 1463.5L1526.4 1462.5L1527 1461.5L1527.5 1460.5L1528.1 1459.4L1528.6 1458.6L1529.2 1458.8L1529.7 1459L1530.3 1459.3L1530.8 1459.5L1531.4 1459.8L1531.9 1460.1L1532.5 1459.1L1533 1458.1L1533.6 1457L1534.1 1455.9L1534.7 1454.7L1535.2 1453.6L1535.8 1453.3L1536.3 1453.7L1536.9 1454L1537.4 1454.4L1538 1454.8L1538.5 1455.2L1539.1 1455.2L1539.6 1454.1L1540.2 1452.9L1540.7 1451.7L1541.3 1450.6L1541.8 1449.4L1542.4 1448.1L1543 1448.3L1543.5 1448.7L1544.1 1449.2L1544.6 1449.7L1545.2 1450.2L1545.7 1450.7L1546.3 1450.7L1546.8 1449.5L1547.4 1448.3L1547.9 1447.1L1548.5 1445.8L1549 1444.6L1549.6 1443.3L1550.1 1443.4L1550.7 1443.9L1551.2 1444.5L1551.8 1445.1L1552.3 1445.7L1552.9 1446.4L1553.4 1446.9L1554 1445.7L1554.5 1444.4L1555.1 1443.2L1555.6 1441.9L1556.2 1440.6L1556.7 1439.3L1557.3 1438.5L1557.8 1439.2L1558.4 1439.9L1558.9 1440.6L1559.5 1441.3L1560 1442L1560.6 1442.8L1561.1 1442.8L1561.7 1441.5L1562.2 1440.2L1562.8 1438.9L1563.3 1437.7L1563.9 1436.4L1564.4 1435.1L1565 1434.6L1565.5 1435.4L1566.1 1436.1L1566.6 1436.9L1567.2 1437.7L1567.7 1438.6L1568.3 1439.4L1568.8 1439.6L1569.4 1438.3L1569.9 1437.1L1570.5 1435.8L1571.1 1434.6L1571.6 1433.3L1572.2 1432L1572.7 1431L1573.3 1431.8L1573.8 1432.7L1574.4 1433.6L1574.9 1434.4L1575.5 1435.3L1576 1436.2L1576.6 1437.2L1577.1 1436.4L1577.7 1435.1L1578.2 1433.9L1578.8 1432.7L1579.3 1431.4L1579.9 1430.2L1580.4 1429L1581 1428.6L1581.5 1429.6L1582.1 1430.5L1582.6 1431.5L1583.2 1432.4L1583.7 1433.4L1584.3 1434.4L1584.8 1435.4L1585.4 1434.3L1585.9 1433.2L1586.5 1432L1587 1430.8L1587.6 1429.6L1588.1 1428.4L1588.7 1427.3L1589.2 1427L1589.8 1428L1590.3 1429L1590.9 1430.1L1591.4 1431.1L1592 1432.1L1592.5 1433.2L1593.1 1434.3L1593.6 1433.5L1594.2 1432.4L1594.7 1431.3L1595.3 1430.1L1595.8 1429L1596.4 1427.9L1596.9 1426.8L1597.5 1426.1L1598 1427.2L1598.6 1428.3L1599.2 1429.5L1599.7 1430.6L1600.3 1431.7L1600.8 1432.8L1601.4 1433.9L1601.9 1433.7L1602.5 1432.7L1603 1431.6L1603.6 1430.5L1604.1 1429.5L1604.7 1428.4L1605.2 1427.4L1605.8 1426.4L1606.3 1427.6L1606.9 1428.7L1607.4 1429.9L1608 1431.1L1608.5 1432.2L1609.1 1433.4L1609.6 1434.6L1610.2 1434.8L1610.7 1433.8L1611.3 1432.8L1611.8 1431.8L1612.4 1430.8L1612.9 1429.9L1613.5 1428.9L1614 1427.9L1614.6 1429.1L1615.1 1430.3L1615.7 1431.5L1616.2 1432.8L1616.8 1434L1617.3 1435.2L1617.9 1436.4L1618.4 1436.5L1619 1435.6L1619.5 1434.6L1620.1 1433.7L1620.6 1432.8L1621.2 1432L1621.7 1431.1L1622.3 1430.7L1622.8 1431.9L1623.4 1433.2L1623.9 1434.5L1624.5 1435.7L1625 1437L1625.6 1438.2L1626.2 1439.5L1626.7 1438.7L1627.3 1437.8L1627.8 1437L1628.4 1436.2L1628.9 1435.4L1629.5 1434.6L1630 1433.8L1630.6 1434.8L1631.1 1436.1L1631.7 1437.4L1632.2 1438.7L1632.8 1439.9L1633.3 1441.2L1633.9 1442.5L1634.4 1442L1635 1441.3L1635.5 1440.6L1636.1 1439.8L1636.6 1439.1L1637.2 1438.4L1637.7 1437.7L1638.3 1438.9L1638.8 1440.2L1639.4 1441.4L1639.9 1442.7L1640.5 1444L1641 1445.2L1641.6 1446.3L1642.1 1445.6L1642.7 1445L1643.2 1444.3L1643.8 1443.7L1644.3 1443.1L1644.9 1442.5L1645.4 1442.7L1646 1444L1646.5 1445.2L1647.1 1446.5L1647.6 1447.7L1648.2 1448.9L1648.7 1450.2L1649.3 1450L1649.8 1449.5L1650.4 1448.9L1650.9 1448.4L1651.5 1447.9L1652 1447.5L1652.6 1447.4L1653.2 1448.6L1653.7 1449.8L1654.3 1451L1654.8 1452.2L1655.4 1453.4L1655.9 1454.6L1656.5 1454.5L1657 1454L1657.6 1453.6L1658.1 1453.2L1658.7 1452.9L1659.2 1452.5L1659.8 1452.8L1660.3 1453.9L1660.9 1455.1L1661.4 1456.2L1662 1457.3L1662.5 1458.4L1663.1 1459.4L1663.6 1459.1L1664.2 1458.8L1664.7 1458.5L1665.3 1458.2L1665.8 1458L1666.4 1457.7L1666.9 1458.6L1667.5 1459.6L1668 1460.7L1668.6 1461.7L1669.1 1462.7L1669.7 1463.7L1670.2 1464L1670.8 1463.8L1671.3 1463.7L1671.9 1463.5L1672.4 1463.4L1673 1463.3L1673.5 1463.6L1674.1 1464.5L1674.6 1465.5L1675.2 1466.4L1675.7 1467.3L1676.3 1468.2L1676.8 1468.9L1677.4 1468.8L1677.9 1468.8L1678.5 1468.8L1679 1468.8L1679.6 1468.8L1680.1 1468.8L1680.7 1469.7L1681.3 1470.4L1681.8 1471.2L1682.4 1472L1682.9 1472.9L1683.5 1473.7L1684 1473.8L1684.6 1473.8L1685.1 1473.7L1685.7 1473.6L1686.2 1473.5L1686.8 1473.3L1687.3 1473.8L1687.9 1474.7L1688.4 1475.6L1689 1476.5L1689.5 1477.4L1690.1 1478.4L1690.6 1478.9L1691.2 1478.7L1691.7 1478.5L1692.3 1478.3L1692.8 1478L1693.4 1477.8L1693.9 1477.7L1694.5 1478.7L1695 1479.7L1695.6 1480.7L1696.1 1481.8L1696.7 1482.8L1697.2 1483.9L1697.8 1483.7L1698.3 1483.3L1698.9 1483L1699.4 1482.6L1700 1482.3L1700.5 1481.9L1701.1 1482.4L1701.6 1483.5L1702.2 1484.6L1702.7 1485.7L1703.3 1486.8L1703.8 1487.9L1704.4 1488.7L1704.9 1488.3L1705.5 1487.8L1706 1487.4L1706.6 1486.9L1707.1 1486.4L1707.7 1485.9L1708.3 1486.7L1708.8 1487.9L1709.4 1489L1709.9 1490.2L1710.5 1491.4L1711 1492.6L1711.6 1493.3L1712.1 1492.7L1712.7 1492.2L1713.2 1491.6L1713.8 1491L1714.3 1490.4L1714.9 1489.8L1715.4 1490.5L1716 1491.7L1716.5 1492.9L1717.1 1494.1L1717.6 1495.3L1718.2 1496.6L1718.7 1497.8L1719.3 1497.1L1719.8 1496.5L1720.4 1495.8L1720.9 1495.1L1721.5 1494.4L1722 1493.7L1722.6 1493.5L1723.1 1494.7L1723.7 1495.9L1724.2 1497.2L1724.8 1498.4L1725.3 1499.7L1725.9 1500.9L1726.4 1501.5L1727 1500.7L1727.5 1499.9L1728.1 1499.2L1728.6 1498.4L1729.2 1497.6L1729.7 1496.8L1730.3 1496.8L1730.8 1498L1731.4 1499.3L1731.9 1500.5L1732.5 1501.8L1733 1503L1733.6 1504.3L1734.1 1504.9L1734.7 1504.1L1735.2 1503.2L1735.8 1502.4L1736.4 1501.5L1736.9 1500.6L1737.5 1499.7L1738 1499.1L1738.6 1500.3L1739.1 1501.5L1739.7 1502.7L1740.2 1504L1740.8 1505.2L1741.3 1506.5L1741.9 1507.7L1742.4 1507.2L1743 1506.3L1743.5 1505.3L1744.1 1504.4L1744.6 1503.5L1745.2 1502.5L1745.7 1501.5L1746.3 1501.5L1746.8 1502.7L1747.4 1503.9L1747.9 1505.1L1748.5 1506.3L1749 1507.5L1749.6 1508.6L1750.1 1509.8L1750.7 1509L1751.2 1508L1751.8 1507L1752.3 1506L1752.9 1504.9L1753.4 1503.9L1754 1502.9L1754.5 1502.7L1755.1 1503.9L1755.6 1505L1756.2 1506.2L1756.7 1507.3L1757.3 1508.5L1757.8 1509.6L1758.4 1510.8L1758.9 1510.1L1759.5 1509L1760 1508L1760.6 1506.9L1761.1 1505.8L1761.7 1504.7L1762.2 1503.6L1762.8 1503L1763.3 1504.1L1763.9 1505.2L1764.5 1506.3L1765 1507.4L1765.6 1508.5L1766.1 1509.6L1766.7 1510.6L1767.2 1510.4L1767.8 1509.2L1768.3 1508.1L1768.9 1507L1769.4 1505.8L1770 1504.7L1770.5 1503.6L1771.1 1502.4L1771.6 1503.5L1772.2 1504.5L1772.7 1505.5L1773.3 1506.6L1773.8 1507.6L1774.4 1508.6L1774.9 1509.6L1775.5 1509.6L1776 1508.4L1776.6 1507.2L1777.1 1506L1777.7 1504.9L1778.2 1503.7L1778.8 1502.5L1779.3 1501.3L1779.9 1502.2L1780.4 1503.1L1781 1504.1L1781.5 1505.1L1782.1 1506L1782.6 1507L1783.2 1507.9L1783.7 1507.6L1784.3 1506.4L1784.8 1505.2L1785.4 1503.9L1785.9 1502.7L1786.5 1501.5L1787 1500.3L1787.6 1499.5L1788.1 1500.4L1788.7 1501.3L1789.2 1502.2L1789.8 1503.1L1790.3 1503.9L1790.9 1504.8L1791.5 1505.6L1792 1504.4L1792.6 1503.2L1793.1 1501.9L1793.7 1500.7L1794.2 1499.4L1794.8 1498.2L1795.3 1496.9L1795.9 1497.5L1796.4 1498.3L1797 1499.1L1797.5 1499.9L1798.1 1500.7L1798.6 1501.4L1799.2 1502.2L1799.7 1501.3L1800.3 1500L1800.8 1498.7L1801.4 1497.5L1801.9 1496.2L1802.5 1495L1803 1493.8L1803.6 1494.4L1804.1 1495.1L1804.7 1495.8L1805.2 1496.5L1805.8 1497.2L1806.3 1497.9L1806.9 1498.3L1807.4 1497L1808 1495.8L1808.5 1494.6L1809.1 1493.3L1809.6 1492.1L1810.2 1490.9L1810.7 1490.4L1811.3 1491.1L1811.8 1491.7L1812.4 1492.3L1812.9 1492.9L1813.5 1493.5L1814 1494L1814.6 1493.2L1815.1 1492L1815.7 1490.8L1816.2 1489.6L1816.8 1488.4L1817.3 1487.3L1817.9 1486.5L1818.4 1487.1L1819 1487.6L1819.6 1488.1L1820.1 1488.5L1820.7 1489L1821.2 1489.5L1821.8 1488.6L1822.3 1487.5L1822.9 1486.3L1823.4 1485.2L1824 1484.1L1824.5 1483L1825.1 1482.5L1825.6 1483L1826.2 1483.4L1826.7 1483.7L1827.3 1484.1L1827.8 1484.4L1828.4 1484.6L1828.9 1483.6L1829.5 1482.5L1830 1481.5L1830.6 1480.4L1831.1 1479.4L1831.7 1478.4L1832.2 1478.4L1832.8 1478.7L1833.3 1479L1833.9 1479.2L1834.4 1479.5L1835 1479.7L1835.5 1479.2L1836.1 1478.2L1836.6 1477.3L1837.2 1476.3L1837.7 1475.4L1838.3 1474.5L1838.8 1474L1839.4 1474.2L1839.9 1474.3L1840.5 1474.4L1841 1474.5L1841.6 1474.6L1842.1 1474.5L1842.7 1473.7L1843.2 1472.8L1843.8 1472L1844.3 1471.2L1844.9 1470.4L1845.4 1469.6L1846 1469.7" stroke="#ff00ff" stroke-width="5.5"/>
<path d="M193 1469.4L193.6 1469.8L194.1 1470.1L194.7 1470.4L195.2 1470.6L195.8 1470.9L196.3 1471.2L196.9 1470.9L197.4 1469.4L198 1467.8L198.5 1466.1L199.1 1465.6L199.6 1465.7L200.2 1465.9L200.7 1466.1L201.3 1466.3L201.8 1466.6L202.4 1466.8L202.9 1467.1L203.5 1467.3L204 1465.4L204.6 1463.5L205.1 1461.4L205.7 1459.8L206.2 1460L206.8 1460.2L207.3 1460.4L207.9 1460.7L208.4 1460.9L209 1461.2L209.5 1461.5L210.1 1461.8L210.6 1460.7L211.2 1458.4L211.7 1456.1L212.3 1453.8L212.8 1453.1L213.4 1453.3L213.9 1453.6L214.5 1453.9L215 1454.3L215.6 1454.6L216.1 1455L216.7 1455.3L217.2 1455.7L217.8 1453.3L218.3 1450.8L218.9 1448.3L219.4 1445.8L220 1445.7L220.6 1446.1L221.1 1446.5L221.7 1446.9L222.2 1447.3L222.8 1447.7L223.3 1448.2L223.9 1448.7L224.4 1448.6L225 1446L225.5 1443.4L226.1 1440.8L226.6 1438.2L227.2 1437.9L227.7 1438.4L228.3 1438.9L228.8 1439.5L229.4 1440L229.9 1440.6L230.5 1441.2L231 1441.8L231.6 1442.1L232.1 1439.5L232.7 1436.8L233.2 1434.2L233.8 1431.5L234.3 1430L234.9 1430.6L235.4 1431.3L236 1431.9L236.5 1432.6L237.1 1433.3L237.6 1434.1L238.2 1434.8L238.7 1435.6L239.3 1434L239.8 1431.5L240.4 1428.9L240.9 1426.3L241.5 1423.7L242 1422.9L242.6 1423.7L243.1 1424.5L243.7 1425.3L244.2 1426.2L244.8 1427.1L245.3 1428L245.9 1428.9L246.4 1429.8L247 1427.6L247.5 1425.1L248.1 1422.7L248.7 1420.3L249.2 1417.8L249.8 1416.3L250.3 1417.2L250.9 1418.2L251.4 1419.3L252 1420.3L252.5 1421.4L253.1 1422.5L253.6 1423.6L254.2 1424.7L254.7 1423.1L255.3 1420.8L255.8 1418.5L256.4 1416.2L256.9 1414L257.5 1411.8L258 1411.6L258.6 1412.7L259.1 1414L259.7 1415.2L260.2 1416.5L260.8 1417.8L261.3 1419.1L261.9 1420.4L262.4 1420.5L263 1418.4L263.5 1416.3L264.1 1414.2L264.6 1412.2L265.2 1410.2L265.7 1408.2L266.3 1408.3L266.8 1409.7L267.4 1411.1L267.9 1412.6L268.5 1414.1L269 1415.6L269.6 1417.2L270.1 1418.7L270.7 1417.8L271.2 1416L271.8 1414.1L272.3 1412.3L272.9 1410.5L273.4 1408.7L274 1407L274.5 1406.7L275.1 1408.4L275.7 1410L276.2 1411.7L276.8 1413.5L277.3 1415.2L277.9 1417L278.4 1418.8L279 1417.3L279.5 1415.7L280.1 1414.1L280.6 1412.5L281.2 1410.9L281.7 1409.4L282.3 1407.9L282.8 1407.1L283.4 1409L283.9 1411L284.5 1412.9L285 1414.9L285.6 1416.9L286.1 1418.9L286.7 1420L287.2 1418.6L287.8 1417.2L288.3 1415.8L288.9 1414.5L289.4 1413.2L290 1411.9L290.5 1410.6L291.1 1409.9L291.6 1412L292.2 1414.2L292.7 1416.4L293.3 1418.6L293.8 1420.8L294.4 1423L294.9 1422.7L295.5 1421.5L296 1420.3L296.6 1419.2L297.1 1418.1L297.7 1417L298.2 1415.9L298.8 1414.9L299.3 1415.1L299.9 1417.5L300.4 1419.8L301 1422.2L301.5 1424.6L302.1 1427.1L302.6 1427.7L303.2 1426.7L303.8 1425.7L304.3 1424.7L304.9 1423.8L305.4 1422.9L306 1422L306.5 1421.2L307.1 1420.3L307.6 1422.8L308.2 1425.3L308.7 1427.9L309.3 1430.4L309.8 1433L310.4 1433.3L310.9 1432.5L311.5 1431.7L312 1430.9L312.6 1430.2L313.1 1429.5L313.7 1428.7L314.2 1428.1L314.8 1427.4L315.3 1430.1L315.9 1432.7L316.4 1435.3L317 1438L317.5 1440.2L318.1 1439.5L318.6 1438.8L319.2 1438.2L319.7 1437.6L320.3 1437L320.8 1436.4L321.4 1435.9L321.9 1435.3L322.5 1436.3L323 1438.9L323.6 1441.6L324.1 1444.2L324.7 1446.8L325.2 1446.4L325.8 1445.9L326.3 1445.4L326.9 1444.9L327.4 1444.5L328 1444L328.5 1443.6L329.1 1443.2L329.6 1443.6L330.2 1446.2L330.7 1448.8L331.3 1451.3L331.9 1453.6L332.4 1453.2L333 1452.8L333.5 1452.4L334.1 1452L334.6 1451.7L335.2 1451.3L335.7 1451L336.3 1450.7L336.8 1451.6L337.4 1454L337.9 1456.4L338.5 1458.7L339 1459.9L339.6 1459.6L340.1 1459.2L340.7 1458.9L341.2 1458.7L341.8 1458.4L342.3 1458.2L342.9 1457.9L343.4 1457.7L344 1459.4L344.5 1461.5L345.1 1463.6L345.6 1465.7L346.2 1465.5L346.7 1465.2L347.3 1465L347.8 1464.7L348.4 1464.5L348.9 1464.3L349.5 1464.1L350 1463.9L350.6 1464.4L351.1 1466.2L351.7 1468L352.2 1469.6L352.8 1470.1L353.3 1469.9L353.9 1469.6L354.4 1469.4L355 1469.1L355.5 1468.9L356.1 1468.7L356.6 1468.4L357.2 1468.2L357.7 1469.4L358.3 1469.4L358.9 1469.8L359.4 1470.1L360 1470.4L360.5 1470.6L361.1 1470.9L361.6 1471.2L362.2 1470.9L362.7 1469.4L363.3 1467.8L363.8 1466.1L364.4 1465.6L364.9 1465.7L365.5 1465.9L366 1466.1L366.6 1466.3L367.1 1466.6L367.7 1466.8L368.2 1467.1L368.8 1467.3L369.3 1465.4L369.9 1463.5L370.4 1461.4L371 1459.8L371.5 1460L372.1 1460.2L372.6 1460.4L373.2 1460.7L373.7 1460.9L374.3 1461.2L374.8 1461.5L375.4 1461.8L375.9 1460.7L376.5 1458.4L377 1456.1L377.6 1453.8L378.1 1453.1L378.7 1453.3L379.2 1453.6L379.8 1453.9L380.3 1454.3L380.9 1454.6L381.4 1455L382 1455.3L382.5 1455.7L383.1 1453.3L383.6 1450.8L384.2 1448.3L384.7 1445.8L385.3 1445.7L385.9 1446.1L386.4 1446.5L387 1446.9L387.5 1447.3L388.1 1447.7L388.6 1448.2L389.2 1448.7L389.7 1448.6L390.3 1446L390.8 1443.4L391.4 1440.8L391.9 1438.2L392.5 1437.9L393 1438.4L393.6 1438.9L394.1 1439.5L394.7 1440L395.2 1440.6L395.8 1441.2L396.3 1441.8L396.9 1442.1L397.4 1439.5L398 1436.8L398.5 1434.2L399.1 1431.5L399.6 1430L400.2 1430.6L400.7 1431.3L401.3 1431.9L401.8 1432.6L402.4 1433.3L402.9 1434.1L403.5 1434.8L404 1435.6L404.6 1434L405.1 1431.5L405.7 1428.9L406.2 1426.3L406.8 1423.7L407.3 1422.9L407.9 1423.7L408.4 1424.5L409 1425.3L409.5 1426.2L410.1 1427.1L410.6 1428L411.2 1428.9L411.7 1429.8L412.3 1427.6L412.8 1425.1L413.4 1422.7L414 1420.3L414.5 1417.8L415.1 1416.3L415.6 1417.2L416.2 1418.2L416.7 1419.3L417.3 1420.3L417.8 1421.4L418.4 1422.5L418.9 1423.6L419.5 1424.7L420 1423.1L420.6 1420.8L421.1 1418.5L421.7 1416.2L422.2 1414L422.8 1411.8L423.3 1411.6L423.9 1412.7L424.4 1414L425 1415.2L425.5 1416.5L426.1 1417.8L426.6 1419.1L427.2 1420.4L427.7 1420.5L428.3 1418.4L428.8 1416.3L429.4 1414.2L429.9 1412.2L430.5 1410.2L431 1408.2L431.6 1408.3L432.1 1409.7L432.7 1411.1L433.2 1412.6L433.8 1414.1L434.3 1415.6L434.9 1417.2L435.4 1418.7L436 1417.8L436.5 1416L437.1 1414.1L437.6 1412.3L438.2 1410.5L438.7 1408.7L439.3 1407L439.8 1406.7L440.4 1408.4L441 1410L441.5 1411.7L442.1 1413.5L442.6 1415.2L443.2 1417L443.7 1418.8L444.3 1417.3L444.8 1415.7L445.4 1414.1L445.9 1412.5L446.5 1410.9L447 1409.4L447.6 1407.9L448.1 1407.1L448.7 1409L449.2 1411L449.8 1412.9L450.3 1414.9L450.9 1416.9L451.4 1418.9L452 1420L452.5 1418.6L453.1 1417.2L453.6 1415.8L454.2 1414.5L454.7 1413.2L455.3 1411.9L455.8 1410.6L456.4 1409.9L456.9 1412L457.5 1414.2L458 1416.4L458.6 1418.6L459.1 1420.8L459.7 1423L460.2 1422.7L460.8 1421.5L461.3 1420.3L461.9 1419.2L462.4 1418.1L463 1417L463.5 1415.9L464.1 1414.9L464.6 1415.1L465.2 1417.5L465.7 1419.8L466.3 1422.2L466.8 1424.6L467.4 1427.1L467.9 1427.7L468.5 1426.7L469.1 1425.7L469.6 1424.7L470.2 1423.8L470.7 1422.9L471.3 1422L471.8 1421.2L472.4 1420.3L472.9 1422.8L473.5 1425.3L474 1427.9L474.6 1430.4L475.1 1433L475.7 1433.3L476.2 1432.5L476.8 1431.7L477.3 1430.9L477.9 1430.2L478.4 1429.5L479 1428.7L479.5 1428.1L480.1 1427.4L480.6 1430.1L481.2 1432.7L481.7 1435.3L482.3 1438L482.8 1440.2L483.4 1439.5L483.9 1438.8L484.5 1438.2L485 1437.6L485.6 1437L486.1 1436.4L486.7 1435.9L487.2 1435.3L487.8 1436.3L488.3 1438.9L488.9 1441.6L489.4 1444.2L490 1446.8L490.5 1446.4L491.1 1445.9L491.6 1445.4L492.2 1444.9L492.7 1444.5L493.3 1444L493.8 1443.6L494.4 1443.2L494.9 1443.6L495.5 1446.2L496 1448.8L496.6 1451.3L497.2 1453.6L497.7 1453.2L498.3 1452.8L498.8 1452.4L499.4 1452L499.9 1451.7L500.5 1451.3L501 1451L501.6 1450.7L502.1 1451.6L502.7 1454L503.2 1456.4L503.8 1458.7L504.3 1459.9L504.9 1459.6L505.4 1459.2L506 1458.9L506.5 1458.7L507.1 1458.4L507.6 1458.2L508.2 1457.9L508.7 1457.7L509.3 1459.4L509.8 1461.5L510.4 1463.6L510.9 1465.7L511.5 1465.5L512 1465.2L512.6 1465L513.1 1464.7L513.7 1464.5L514.2 1464.3L514.8 1464.1L515.3 1463.9L515.9 1464.4L516.4 1466.2L517 1468L517.5 1469.6L518.1 1470.1L518.6 1469.9L519.2 1469.6L519.7 1469.4L520.3 1469.1L520.8 1468.9L521.4 1468.7L521.9 1468.4L522.5 1468.2L523 1469.4L523.6 1469.4L524.2 1469.8L524.7 1470.1L525.3 1470.4L525.8 1470.6L526.4 1470.9L526.9 1471.2L527.5 1470.9L528 1469.4L528.6 1467.8L529.1 1466.1L529.7 1465.6L530.2 1465.7L530.8 1465.9L531.3 1466.1L531.9 1466.3L532.4 1466.6L533 1466.8L533.5 1467.1L534.1 1467.3L534.6 1465.4L535.2 1463.5L535.7 1461.4L536.3 1459.8L536.8 1460L537.4 1460.2L537.9 1460.4L538.5 1460.7L539 1460.9L539.6 1461.2L540.1 1461.5L540.7 1461.8L541.2 1460.7L541.8 1458.4L542.3 1456.1L542.9 1453.8L543.4 1453.1L544 1453.3L544.5 1453.6L545.1 1453.9L545.6 1454.3L546.2 1454.6L546.7 1455L547.3 1455.3L547.8 1455.7L548.4 1453.3L548.9 1450.8L549.5 1448.3L550 1445.8L550.6 1445.7L551.1 1446.1L551.7 1446.5L552.3 1446.9L552.8 1447.3L553.4 1447.7L553.9 1448.2L554.5 1448.7L555 1448.6L555.6 1446L556.1 1443.4L556.7 1440.8L557.2 1438.2L557.8 1437.9L558.3 1438.4L558.9 1438.9L559.4 1439.5L560 1440L560.5 1440.6L561.1 1441.2L561.6 1441.8L562.2 1442.1L562.7 1439.5L563.3 1436.8L563.8 1434.2L564.4 1431.5L564.9 1430L565.5 1430.6L566 1431.3L566.6 1431.9L567.1 1432.6L567.7 1433.3L568.2 1434.1L568.8 1434.8L569.3 1435.6L569.9 1434L570.4 1431.5L571 1428.9L571.5 1426.3L572.1 1423.7L572.6 1422.9L573.2 1423.7L573.7 1424.5L574.3 1425.3L574.8 1426.2L575.4 1427.1L575.9 1428L576.5 1428.9L577 1429.8L577.6 1427.6L578.1 1425.1L578.7 1422.7L579.3 1420.3L579.8 1417.8L580.4 1416.3L580.9 1417.2L581.5 1418.2L582 1419.3L582.6 1420.3L583.1 1421.4L583.7 1422.5L584.2 1423.6L584.8 1424.7L585.3 1423.1L585.9 1420.8L586.4 1418.5L587 1416.2L587.5 1414L588.1 1411.8L588.6 1411.6L589.2 1412.7L589.7 1414L590.3 1415.2L590.8 1416.5L591.4 1417.8L591.9 1419.1L592.5 1420.4L593 1420.5L593.6 1418.4L594.1 1416.3L594.7 1414.2L595.2 1412.2L595.8 1410.2L596.3 1408.2L596.9 1408.3L597.4 1409.7L598 1411.1L598.5 1412.6L599.1 1414.1L599.6 1415.6L600.2 1417.2L600.7 1418.7L601.3 1417.8L601.8 1416L602.4 1414.1L602.9 1412.3L603.5 1410.5L604 1408.7L604.6 1407L605.1 1406.7L605.7 1408.4L606.3 1410L606.8 1411.7L607.4 1413.5L607.9 1415.2L608.5 1417L609 1418.8L609.6 1417.3L610.1 1415.7L610.7 1414.1L611.2 1412.5L611.8 1410.9L612.3 1409.4L612.9 1407.9L613.4 1407.1L614 1409L614.5 1411L615.1 1412.9L615.6 1414.9L616.2 1416.9L616.7 1418.9L617.3 1420L617.8 1418.6L618.4 1417.2L618.9 1415.8L619.5 1414.5L620 1413.2L620.6 1411.9L621.1 1410.6L621.7 1409.9L622.2 1412L622.8 1414.2L623.3 1416.4L623.9 1418.6L624.4 1420.8L625 1423L625.5 1422.7L626.1 1421.5L626.6 1420.3L627.2 1419.2L627.7 1418.1L628.3 1417L628.8 1415.9L629.4 1414.9L629.9 1415.1L630.5 1417.5L631 1419.8L631.6 1422.2L632.1 1424.6L632.7 1427.1L633.2 1427.7L633.8 1426.7L634.4 1425.7L634.9 1424.7L635.5 1423.8L636 1422.9L636.6 1422L637.1 1421.2L637.7 1420.3L638.2 1422.8L638.8 1425.3L639.3 1427.9L639.9 1430.4L640.4 1433L641 1433.3L641.5 1432.5L642.1 1431.7L642.6 1430.9L643.2 1430.2L643.7 1429.5L644.3 1428.7L644.8 1428.1L645.4 1427.4L645.9 1430.1L646.5 1432.7L647 1435.3L647.6 1438L648.1 1440.2L648.7 1439.5L649.2 1438.8L649.8 1438.2L650.3 1437.6L650.9 1437L651.4 1436.4L652 1435.9L652.5 1435.3L653.1 1436.3L653.6 1438.9L654.2 1441.6L654.7 1444.2L655.3 1446.8L655.8 1446.4L656.4 1445.9L656.9 1445.4L657.5 1444.9L658 1444.5L658.6 1444L659.1 1443.6L659.7 1443.2L660.2 1443.6L660.8 1446.2L661.3 1448.8L661.9 1451.3L662.5 1453.6L663 1453.2L663.6 1452.8L664.1 1452.4L664.7 1452L665.2 1451.7L665.8 1451.3L666.3 1451L666.9 1450.7L667.4 1451.6L668 1454L668.5 1456.4L669.1 1458.7L669.6 1459.9L670.2 1459.6L670.7 1459.2L671.3 1458.9L671.8 1458.7L672.4 1458.4L672.9 1458.2L673.5 1457.9L674 1457.7L674.6 1459.4L675.1 1461.5L675.7 1463.6L676.2 1465.7L676.8 1465.5L677.3 1465.2L677.9 1465L678.4 1464.7L679 1464.5L679.5 1464.3L680.1 1464.1L680.6 1463.9L681.2 1464.4L681.7 1466.2L682.3 1468L682.8 1469.6L683.4 1470.1L683.9 1469.9L684.5 1469.6L685 1469.4L685.6 1469.1L686.1 1468.9L686.7 1468.7L687.2 1468.4L687.8 1468.2L688.3 1469.4L688.9 1469.4L689.5 1469.8L690 1470.1L690.6 1470.4L691.1 1470.6L691.7 1470.9L692.2 1471.2L692.8 1470.9L693.3 1469.4L693.9 1467.8L694.4 1466.1L695 1465.6L695.5 1465.7L696.1 1465.9L696.6 1466.1L697.2 1466.3L697.7 1466.6L698.3 1466.8L698.8 1467.1L699.4 1467.3L699.9 1465.4L700.5 1463.5L701 1461.4L701.6 1459.8L702.1 1460L702.7 1460.2L703.2 1460.4L703.8 1460.7L704.3 1460.9L704.9 1461.2L705.4 1461.5L706 1461.8L706.5 1460.7L707.1 1458.4L707.6 1456.1L708.2 1453.8L708.7 1453.1L709.3 1453.3L709.8 1453.6L710.4 1453.9L710.9 1454.3L711.5 1454.6L712 1455L712.6 1455.3L713.1 1455.7L713.7 1453.3L714.2 1450.8L714.8 1448.3L715.3 1445.8L715.9 1445.7L716.4 1446.1L717 1446.5L717.6 1446.9L718.1 1447.3L718.7 1447.7L719.2 1448.2L719.8 1448.7L720.3 1448.6L720.9 1446L721.4 1443.4L722 1440.8L722.5 1438.2L723.1 1437.9L723.6 1438.4L724.2 1438.9L724.7 1439.5L725.3 1440L725.8 1440.6L726.4 1441.2L726.9 1441.8L727.5 1442.1L728 1439.5L728.6 1436.8L729.1 1434.2L729.7 1431.5L730.2 1430L730.8 1430.6L731.3 1431.3L731.9 1431.9L732.4 1432.6L733 1433.3L733.5 1434.1L734.1 1434.8L734.6 1435.6L735.2 1434L735.7 1431.5L736.3 1428.9L736.8 1426.3L737.4 1423.7L737.9 1422.9L738.5 1423.7L739 1424.5L739.6 1425.3L740.1 1426.2L740.7 1427.1L741.2 1428L741.8 1428.9L742.3 1429.8L742.9 1427.6L743.4 1425.1L744 1422.7L744.6 1420.3L745.1 1417.8L745.7 1416.3L746.2 1417.2L746.8 1418.2L747.3 1419.3L747.9 1420.3L748.4 1421.4L749 1422.5L749.5 1423.6L750.1 1424.7L750.6 1423.1L751.2 1420.8L751.7 1418.5L752.3 1416.2L752.8 1414L753.4 1411.8L753.9 1411.6L754.5 1412.7L755 1414L755.6 1415.2L756.1 1416.5L756.7 1417.8L757.2 1419.1L757.8 1420.4L758.3 1420.5L758.9 1418.4L759.4 1416.3L760 1414.2L760.5 1412.2L761.1 1410.2L761.6 1408.2L762.2 1408.3L762.7 1409.7L763.3 1411.1L763.8 1412.6L764.4 1414.1L764.9 1415.6L765.5 1417.2L766 1418.7L766.6 1417.8L767.1 1416L767.7 1414.1L768.2 1412.3L768.8 1410.5L769.3 1408.7L769.9 1407L770.4 1406.7L771 1408.4L771.6 1410L772.1 1411.7L772.7 1413.5L773.2 1415.2L773.8 1417L774.3 1418.8L774.9 1417.3L775.4 1415.7L776 1414.1L776.5 1412.5L777.1 1410.9L777.6 1409.4L778.2 1407.9L778.7 1407.1L779.3 1409L779.8 1411L780.4 1412.9L780.9 1414.9L781.5 1416.9L782 1418.9L782.6 1420L783.1 1418.6L783.7 1417.2L784.2 1415.8L784.8 1414.5L785.3 1413.2L785.9 1411.9L786.4 1410.6L787 1409.9L787.5 1412L788.1 1414.2L788.6 1416.4L789.2 1418.6L789.7 1420.8L790.3 1423L790.8 1422.7L791.4 1421.5L791.9 1420.3L792.5 1419.2L793 1418.1L793.6 1417L794.1 1415.9L794.7 1414.9L795.2 1415.1L795.8 1417.5L796.3 1419.8L796.9 1422.2L797.4 1424.6L798 1427.1L798.5 1427.7L799.1 1426.7L799.7 1425.7L800.2 1424.7L800.8 1423.8L801.3 1422.9L801.9 1422L802.4 1421.2L803 1420.3L803.5 1422.8L804.1 1425.3L804.6 1427.9L805.2 1430.4L805.7 1433L806.3 1433.3L806.8 1432.5L807.4 1431.7L807.9 1430.9L808.5 1430.2L809 1429.5L809.6 1428.7L810.1 1428.1L810.7 1427.4L811.2 1430.1L811.8 1432.7L812.3 1435.3L812.9 1438L813.4 1440.2L814 1439.5L814.5 1438.8L815.1 1438.2L815.6 1437.6L816.2 1437L816.7 1436.4L817.3 1435.9L817.8 1435.3L818.4 1436.3L818.9 1438.9L819.5 1441.6L820 1444.2L820.6 1446.8L821.1 1446.4L821.7 1445.9L822.2 1445.4L822.8 1444.9L823.3 1444.5L823.9 1444L824.4 1443.6L825 1443.2L825.5 1443.6L826.1 1446.2L826.6 1448.8L827.2 1451.3L827.8 1453.6L828.3 1453.2L828.9 1452.8L829.4 1452.4L830 1452L830.5 1451.7L831.1 1451.3L831.6 1451L832.2 1450.7L832.7 1451.6L833.3 1454L833.8 1456.4L834.4 1458.7L834.9 1459.9L835.5 1459.6L836 1459.2L836.6 1458.9L837.1 1458.7L837.7 1458.4L838.2 1458.2L838.8 1457.9L839.3 1457.7L839.9 1459.4L840.4 1461.5L841 1463.6L841.5 1465.7L842.1 1465.5L842.6 1465.2L843.2 1465L843.7 1464.7L844.3 1464.5L844.8 1464.3L845.4 1464.1L845.9 1463.9L846.5 1464.4L847 1466.2L847.6 1468L848.1 1469.6L848.7 1470.1L849.2 1469.9L849.8 1469.6L850.3 1469.4L850.9 1469.1L851.4 1468.9L852 1468.7L852.5 1468.4L853.1 1468.2L853.6 1469.4L854.2 1469.4L854.8 1469.8L855.3 1470.1L855.9 1470.4L856.4 1470.6L857 1470.9L857.5 1471.2L858.1 1470.9L858.6 1469.4L859.2 1467.8L859.7 1466.1L860.3 1465.6L860.8 1465.7L861.4 1465.9L861.9 1466.1L862.5 1466.3L863 1466.6L863.6 1466.8L864.1 1467.1L864.7 1467.3L865.2 1465.4L865.8 1463.5L866.3 1461.4L866.9 1459.8L867.4 1460L868 1460.2L868.5 1460.4L869.1 1460.7L869.6 1460.9L870.2 1461.2L870.7 1461.5L871.3 1461.8L871.8 1460.7L872.4 1458.4L872.9 1456.1L873.5 1453.8L874 1453.1L874.6 1453.3L875.1 1453.6L875.7 1453.9L876.2 1454.3L876.8 1454.6L877.3 1455L877.9 1455.3L878.4 1455.7L879 1453.3L879.5 1450.8L880.1 1448.3L880.6 1445.8L881.2 1445.7L881.7 1446.1L882.3 1446.5L882.9 1446.9L883.4 1447.3L884 1447.7L884.5 1448.2L885.1 1448.7L885.6 1448.6L886.2 1446L886.7 1443.4L887.3 1440.8L887.8 1438.2L888.4 1437.9L888.9 1438.4L889.5 1438.9L890 1439.5L890.6 1440L891.1 1440.6L891.7 1441.2L892.2 1441.8L892.8 1442.1L893.3 1439.5L893.9 1436.8L894.4 1434.2L895 1431.5L895.5 1430L896.1 1430.6L896.6 1431.3L897.2 1431.9L897.7 1432.6L898.3 1433.3L898.8 1434.1L899.4 1434.8L899.9 1435.6L900.5 1434L901 1431.5L901.6 1428.9L902.1 1426.3L902.7 1423.7L903.2 1422.9L903.8 1423.7L904.3 1424.5L904.9 1425.3L905.4 1426.2L906 1427.1L906.5 1428L907.1 1428.9L907.6 1429.8L908.2 1427.6L908.7 1425.1L909.3 1422.7L909.9 1420.3L910.4 1417.8L911 1416.3L911.5 1417.2L912.1 1418.2L912.6 1419.3L913.2 1420.3L913.7 1421.4L914.3 1422.5L914.8 1423.6L915.4 1424.7L915.9 1423.1L916.5 1420.8L917 1418.5L917.6 1416.2L918.1 1414L918.7 1411.8L919.2 1411.6L919.8 1412.7L920.3 1414L920.9 1415.2L921.4 1416.5L922 1417.8L922.5 1419.1L923.1 1420.4L923.6 1420.5L924.2 1418.4L924.7 1416.3L925.3 1414.2L925.8 1412.2L926.4 1410.2L926.9 1408.2L927.5 1408.3L928 1409.7L928.6 1411.1L929.1 1412.6L929.7 1414.1L930.2 1415.6L930.8 1417.2L931.3 1418.7L931.9 1417.8L932.4 1416L933 1414.1L933.5 1412.3L934.1 1410.5L934.6 1408.7L935.2 1407L935.7 1406.7L936.3 1408.4L936.9 1410L937.4 1411.7L938 1413.5L938.5 1415.2L939.1 1417L939.6 1418.8L940.2 1417.3L940.7 1415.7L941.3 1414.1L941.8 1412.5L942.4 1410.9L942.9 1409.4L943.5 1407.9L944 1407.1L944.6 1409L945.1 1411L945.7 1412.9L946.2 1414.9L946.8 1416.9L947.3 1418.9L947.9 1420L948.4 1418.6L949 1417.2L949.5 1415.8L950.1 1414.5L950.6 1413.2L951.2 1411.9L951.7 1410.6L952.3 1409.9L952.8 1412L953.4 1414.2L953.9 1416.4L954.5 1418.6L955 1420.8L955.6 1423L956.1 1422.7L956.7 1421.5L957.2 1420.3L957.8 1419.2L958.3 1418.1L958.9 1417L959.4 1415.9L960 1414.9L960.5 1415.1L961.1 1417.5L961.6 1419.8L962.2 1422.2L962.7 1424.6L963.3 1427.1L963.8 1427.7L964.4 1426.7L965 1425.7L965.5 1424.7L966.1 1423.8L966.6 1422.9L967.2 1422L967.7 1421.2L968.3 1420.3L968.8 1422.8L969.4 1425.3L969.9 1427.9L970.5 1430.4L971 1433L971.6 1433.3L972.1 1432.5L972.7 1431.7L973.2 1430.9L973.8 1430.2L974.3 1429.5L974.9 1428.7L975.4 1428.1L976 1427.4L976.5 1430.1L977.1 1432.7L977.6 1435.3L978.2 1438L978.7 1440.2L979.3 1439.5L979.8 1438.8L980.4 1438.2L980.9 1437.6L981.5 1437L982 1436.4L982.6 1435.9L983.1 1435.3L983.7 1436.3L984.2 1438.9L984.8 1441.6L985.3 1444.2L985.9 1446.8L986.4 1446.4L987 1445.9L987.5 1445.4L988.1 1444.9L988.6 1444.5L989.2 1444L989.7 1443.6L990.3 1443.2L990.8 1443.6L991.4 1446.2L992 1448.8L992.5 1451.3L993.1 1453.6L993.6 1453.2L994.2 1452.8L994.7 1452.4L995.3 1452L995.8 1451.7L996.4 1451.3L996.9 1451L997.5 1450.7L998 1451.6L998.6 1454L999.1 1456.4L999.7 1458.7L1000.2 1459.9L1000.8 1459.6L1001.3 1459.2L1001.9 1458.9L1002.4 1458.7L1003 1458.4L1003.5 1458.2L1004.1 1457.9L1004.6 1457.7L1005.2 1459.4L1005.7 1461.5L1006.3 1463.6L1006.8 1465.7L1007.4 1465.5L1007.9 1465.2L1008.5 1465L1009 1464.7L1009.6 1464.5L1010.1 1464.3L1010.7 1464.1L1011.2 1463.9L1011.8 1464.4L1012.3 1466.2L1012.9 1468L1013.4 1469.6L1014 1470.1L1014.5 1469.9L1015.1 1469.6L1015.6 1469.4L1016.2 1469.1L1016.7 1468.9L1017.3 1468.7L1017.8 1468.4L1018.4 1468.2L1018.9 1469.4L1019.5 1469.4L1020.1 1469.8L1020.6 1470.1L1021.2 1470.4L1021.7 1470.6L1022.3 1470.9L1022.8 1471.2L1023.4 1470.9L1023.9 1469.4L1024.5 1467.8L1025 1466.1L1025.6 1465.6L1026.1 1465.7L1026.7 1465.9L1027.2 1466.1L1027.8 1466.3L1028.3 1466.6L1028.9 1466.8L1029.4 1467.1L1030 1467.3L1030.5 1465.4L1031.1 1463.5L1031.6 1461.4L1032.2 1459.8L1032.7 1460L1033.3 1460.2L1033.8 1460.4L1034.4 1460.7L1034.9 1460.9L1035.5 1461.2L1036 1461.5L1036.6 1461.8L1037.1 1460.7L1037.7 1458.4L1038.2 1456.1L1038.8 1453.8L1039.3 1453.1L1039.9 1453.3L1040.4 1453.6L1041 1453.9L1041.5 1454.3L1042.1 1454.6L1042.6 1455L1043.2 1455.3L1043.7 1455.7L1044.3 1453.3L1044.8 1450.8L1045.4 1448.3L1045.9 1445.8L1046.5 1445.7L1047 1446.1L1047.6 1446.5L1048.2 1446.9L1048.7 1447.3L1049.3 1447.7L1049.8 1448.2L1050.4 1448.7L1050.9 1448.6L1051.5 1446L1052 1443.4L1052.6 1440.8L1053.1 1438.2L1053.7 1437.9L1054.2 1438.4L1054.8 1438.9L1055.3 1439.5L1055.9 1440L1056.4 1440.6L1057 1441.2L1057.5 1441.8L1058.1 1442.1L1058.6 1439.5L1059.2 1436.8L1059.7 1434.2L1060.3 1431.5L1060.8 1430L1061.4 1430.6L1061.9 1431.3L1062.5 1431.9L1063 1432.6L1063.6 1433.3L1064.1 1434.1L1064.7 1434.8L1065.2 1435.6L1065.8 1434L1066.3 1431.5L1066.9 1428.9L1067.4 1426.3L1068 1423.7L1068.5 1422.9L1069.1 1423.7L1069.6 1424.5L1070.2 1425.3L1070.7 1426.2L1071.3 1427.1L1071.8 1428L1072.4 1428.9L1072.9 1429.8L1073.5 1427.6L1074 1425.1L1074.6 1422.7L1075.2 1420.3L1075.7 1417.8L1076.3 1416.3L1076.8 1417.2L1077.4 1418.2L1077.9 1419.3L1078.5 1420.3L1079 1421.4L1079.6 1422.5L1080.1 1423.6L1080.7 1424.7L1081.2 1423.1L1081.8 1420.8L1082.3 1418.5L1082.9 1416.2L1083.4 1414L1084 1411.8L1084.5 1411.6L1085.1 1412.7L1085.6 1414L1086.2 1415.2L1086.7 1416.5L1087.3 1417.8L1087.8 1419.1L1088.4 1420.4L1088.9 1420.5L1089.5 1418.4L1090 1416.3L1090.6 1414.2L1091.1 1412.2L1091.7 1410.2L1092.2 1408.2L1092.8 1408.3L1093.3 1409.7L1093.9 1411.1L1094.4 1412.6L1095 1414.1L1095.5 1415.6L1096.1 1417.2L1096.6 1418.7L1097.2 1417.8L1097.7 1416L1098.3 1414.1L1098.8 1412.3L1099.4 1410.5L1099.9 1408.7L1100.5 1407L1101 1406.7L1101.6 1408.4L1102.2 1410L1102.7 1411.7L1103.3 1413.5L1103.8 1415.2L1104.4 1417L1104.9 1418.8L1105.5 1417.3L1106 1415.7L1106.6 1414.1L1107.1 1412.5L1107.7 1410.9L1108.2 1409.4L1108.8 1407.9L1109.3 1407.1L1109.9 1409L1110.4 1411L1111 1412.9L1111.5 1414.9L1112.1 1416.9L1112.6 1418.9L1113.2 1420L1113.7 1418.6L1114.3 1417.2L1114.8 1415.8L1115.4 1414.5L1115.9 1413.2L1116.5 1411.9L1117 1410.6L1117.6 1409.9L1118.1 1412L1118.7 1414.2L1119.2 1416.4L1119.8 1418.6L1120.3 1420.8L1120.9 1423L1121.4 1422.7L1122 1421.5L1122.5 1420.3L1123.1 1419.2L1123.6 1418.1L1124.2 1417L1124.7 1415.9L1125.3 1414.9L1125.8 1415.1L1126.4 1417.5L1126.9 1419.8L1127.5 1422.2L1128 1424.6L1128.6 1427.1L1129.1 1427.7L1129.7 1426.7L1130.3 1425.7L1130.8 1424.7L1131.4 1423.8L1131.9 1422.9L1132.5 1422L1133 1421.2L1133.6 1420.3L1134.1 1422.8L1134.7 1425.3L1135.2 1427.9L1135.8 1430.4L1136.3 1433L1136.9 1433.3L1137.4 1432.5L1138 1431.7L1138.5 1430.9L1139.1 1430.2L1139.6 1429.5L1140.2 1428.7L1140.7 1428.1L1141.3 1427.4L1141.8 1430.1L1142.4 1432.7L1142.9 1435.3L1143.5 1438L1144 1440.2L1144.6 1439.5L1145.1 1438.8L1145.7 1438.2L1146.2 1437.6L1146.8 1437L1147.3 1436.4L1147.9 1435.9L1148.4 1435.3L1149 1436.3L1149.5 1438.9L1150.1 1441.6L1150.6 1444.2L1151.2 1446.8L1151.7 1446.4L1152.3 1445.9L1152.8 1445.4L1153.4 1444.9L1153.9 1444.5L1154.5 1444L1155 1443.6L1155.6 1443.2L1156.1 1443.6L1156.7 1446.2L1157.3 1448.8L1157.8 1451.3L1158.4 1453.6L1158.9 1453.2L1159.5 1452.8L1160 1452.4L1160.6 1452L1161.1 1451.7L1161.7 1451.3L1162.2 1451L1162.8 1450.7L1163.3 1451.6L1163.9 1454L1164.4 1456.4L1165 1458.7L1165.5 1459.9L1166.1 1459.6L1166.6 1459.2L1167.2 1458.9L1167.7 1458.7L1168.3 1458.4L1168.8 1458.2L1169.4 1457.9L1169.9 1457.7L1170.5 1459.4L1171 1461.5L1171.6 1463.6L1172.1 1465.7L1172.7 1465.5L1173.2 1465.2L1173.8 1465L1174.3 1464.7L1174.9 1464.5L1175.4 1464.3L1176 1464.1L1176.5 1463.9L1177.1 1464.4L1177.6 1466.2L1178.2 1468L1178.7 1469.6L1179.3 1470.1L1179.8 1469.9L1180.4 1469.6L1180.9 1469.4L1181.5 1469.1L1182 1468.9L1182.6 1468.7L1183.1 1468.4L1183.7 1468.2L1184.2 1469.4L1184.8 1470.6L1185.4 1469.8L1185.9 1470.1L1186.5 1470.4L1187 1470.6L1187.6 1470.9L1188.1 1471.2L1188.7 1470.9L1189.2 1469.4L1189.8 1467.8L1190.3 1466.1L1190.9 1465.6L1191.4 1465.7L1192 1465.9L1192.5 1466.1L1193.1 1466.3L1193.6 1466.6L1194.2 1466.8L1194.7 1467.1L1195.3 1467.3L1195.8 1465.4L1196.4 1463.5L1196.9 1461.4L1197.5 1459.8L1198 1460L1198.6 1460.2L1199.1 1460.4L1199.7 1460.7L1200.2 1460.9L1200.8 1461.2L1201.3 1461.5L1201.9 1461.8L1202.4 1460.7L1203 1458.4L1203.5 1456.1L1204.1 1453.8L1204.6 1453.1L1205.2 1453.3L1205.7 1453.6L1206.3 1453.9L1206.8 1454.3L1207.4 1454.6L1207.9 1455L1208.5 1455.3L1209 1455.7L1209.6 1453.3L1210.1 1450.8L1210.7 1448.3L1211.2 1445.8L1211.8 1445.7L1212.3 1446.1L1212.9 1446.5L1213.5 1446.9L1214 1447.3L1214.6 1447.7L1215.1 1448.2L1215.7 1448.7L1216.2 1448.6L1216.8 1446L1217.3 1443.4L1217.9 1440.8L1218.4 1438.2L1219 1437.9L1219.5 1438.4L1220.1 1438.9L1220.6 1439.5L1221.2 1440L1221.7 1440.6L1222.3 1441.2L1222.8 1441.8L1223.4 1442.1L1223.9 1439.5L1224.5 1436.8L1225 1434.2L1225.6 1431.5L1226.1 1430L1226.7 1430.6L1227.2 1431.3L1227.8 1431.9L1228.3 1432.6L1228.9 1433.3L1229.4 1434.1L1230 1434.8L1230.5 1435.6L1231.1 1434L1231.6 1431.5L1232.2 1428.9L1232.7 1426.3L1233.3 1423.7L1233.8 1422.9L1234.4 1423.7L1234.9 1424.5L1235.5 1425.3L1236 1426.2L1236.6 1427.1L1237.1 1428L1237.7 1428.9L1238.2 1429.8L1238.8 1427.6L1239.3 1425.1L1239.9 1422.7L1240.5 1420.3L1241 1417.8L1241.6 1416.3L1242.1 1417.2L1242.7 1418.2L1243.2 1419.3L1243.8 1420.3L1244.3 1421.4L1244.9 1422.5L1245.4 1423.6L1246 1424.7L1246.5 1423.1L1247.1 1420.8L1247.6 1418.5L1248.2 1416.2L1248.7 1414L1249.3 1411.8L1249.8 1411.6L1250.4 1412.7L1250.9 1414L1251.5 1415.2L1252 1416.5L1252.6 1417.8L1253.1 1419.1L1253.7 1420.4L1254.2 1420.5L1254.8 1418.4L1255.3 1416.3L1255.9 1414.2L1256.4 1412.2L1257 1410.2L1257.5 1408.2L1258.1 1408.3L1258.6 1409.7L1259.2 1411.1L1259.7 1412.6L1260.3 1414.1L1260.8 1415.6L1261.4 1417.2L1261.9 1418.7L1262.5 1417.8L1263 1416L1263.6 1414.1L1264.1 1412.3L1264.7 1410.5L1265.2 1408.7L1265.8 1407L1266.3 1406.7L1266.9 1408.4L1267.5 1410L1268 1411.7L1268.6 1413.5L1269.1 1415.2L1269.7 1417L1270.2 1418.8L1270.8 1417.3L1271.3 1415.7L1271.9 1414.1L1272.4 1412.5L1273 1410.9L1273.5 1409.4L1274.1 1407.9L1274.6 1407.1L1275.2 1409L1275.7 1411L1276.3 1412.9L1276.8 1414.9L1277.4 1416.9L1277.9 1418.9L1278.5 1420L1279 1418.6L1279.6 1417.2L1280.1 1415.8L1280.7 1414.5L1281.2 1413.2L1281.8 1411.9L1282.3 1410.6L1282.9 1409.9L1283.4 1412L1284 1414.2L1284.5 1416.4L1285.1 1418.6L1285.6 1420.8L1286.2 1423L1286.7 1422.7L1287.3 1421.5L1287.8 1420.3L1288.4 1419.2L1288.9 1418.1L1289.5 1417L1290 1415.9L1290.6 1414.9L1291.1 1415.1L1291.7 1417.5L1292.2 1419.8L1292.8 1422.2L1293.3 1424.6L1293.9 1427.1L1294.4 1427.7L1295 1426.7L1295.6 1425.7L1296.1 1424.7L1296.7 1423.8L1297.2 1422.9L1297.8 1422L1298.3 1421.2L1298.9 1420.3L1299.4 1422.8L1300 1425.3L1300.5 1427.9L1301.1 1430.4L1301.6 1433L1302.2 1433.3L1302.7 1432.5L1303.3 1431.7L1303.8 1430.9L1304.4 1430.2L1304.9 1429.5L1305.5 1428.7L1306 1428.1L1306.6 1427.4L1307.1 1430.1L1307.7 1432.7L1308.2 1435.3L1308.8 1438L1309.3 1440.2L1309.9 1439.5L1310.4 1438.8L1311 1438.2L1311.5 1437.6L1312.1 1437L1312.6 1436.4L1313.2 1435.9L1313.7 1435.3L1314.3 1436.3L1314.8 1438.9L1315.4 1441.6L1315.9 1444.2L1316.5 1446.8L1317 1446.4L1317.6 1445.9L1318.1 1445.4L1318.7 1444.9L1319.2 1444.5L1319.8 1444L1320.3 1443.6L1320.9 1443.2L1321.4 1443.6L1322 1446.2L1322.6 1448.8L1323.1 1451.3L1323.7 1453.6L1324.2 1453.2L1324.8 1452.8L1325.3 1452.4L1325.9 1452L1326.4 1451.7L1327 1451.3L1327.5 1451L1328.1 1450.7L1328.6 1451.6L1329.2 1454L1329.7 1456.4L1330.3 1458.7L1330.8 1459.9L1331.4 1459.6L1331.9 1459.2L1332.5 1458.9L1333 1458.7L1333.6 1458.4L1334.1 1458.2L1334.7 1457.9L1335.2 1457.7L1335.8 1459.4L1336.3 1461.5L1336.9 1463.6L1337.4 1465.7L1338 1465.5L1338.5 1465.2L1339.1 1465L1339.6 1464.7L1340.2 1464.5L1340.7 1464.3L1341.3 1464.1L1341.8 1463.9L1342.4 1464.4L1342.9 1466.2L1343.5 1468L1344 1469.6L1344.6 1470.1L1345.1 1469.9L1345.7 1469.6L1346.2 1469.4L1346.8 1469.1L1347.3 1468.9L1347.9 1468.7L1348.4 1468.4L1349 1468.2L1349.5 1469.4L1350.1 1470.6L1350.7 1469.8L1351.2 1470.1L1351.8 1470.4L1352.3 1470.6L1352.9 1470.9L1353.4 1471.2L1354 1470.9L1354.5 1469.4L1355.1 1467.8L1355.6 1466.1L1356.2 1465.6L1356.7 1465.7L1357.3 1465.9L1357.8 1466.1L1358.4 1466.3L1358.9 1466.6L1359.5 1466.8L1360 1467.1L1360.6 1467.3L1361.1 1465.4L1361.7 1463.5L1362.2 1461.4L1362.8 1459.8L1363.3 1460L1363.9 1460.2L1364.4 1460.4L1365 1460.7L1365.5 1460.9L1366.1 1461.2L1366.6 1461.5L1367.2 1461.8L1367.7 1460.7L1368.3 1458.4L1368.8 1456.1L1369.4 1453.8L1369.9 1453.1L1370.5 1453.3L1371 1453.6L1371.6 1453.9L1372.1 1454.3L1372.7 1454.6L1373.2 1455L1373.8 1455.3L1374.3 1455.7L1374.9 1453.3L1375.4 1450.8L1376 1448.3L1376.5 1445.8L1377.1 1445.7L1377.6 1446.1L1378.2 1446.5L1378.8 1446.9L1379.3 1447.3L1379.9 1447.7L1380.4 1448.2L1381 1448.7L1381.5 1448.6L1382.1 1446L1382.6 1443.4L1383.2 1440.8L1383.7 1438.2L1384.3 1437.9L1384.8 1438.4L1385.4 1438.9L1385.9 1439.5L1386.5 1440L1387 1440.6L1387.6 1441.2L1388.1 1441.8L1388.7 1442.1L1389.2 1439.5L1389.8 1436.8L1390.3 1434.2L1390.9 1431.5L1391.4 1430L1392 1430.6L1392.5 1431.3L1393.1 1431.9L1393.6 1432.6L1394.2 1433.3L1394.7 1434.1L1395.3 1434.8L1395.8 1435.6L1396.4 1434L1396.9 1431.5L1397.5 1428.9L1398 1426.3L1398.6 1423.7L1399.1 1422.9L1399.7 1423.7L1400.2 1424.5L1400.8 1425.3L1401.3 1426.2L1401.9 1427.1L1402.4 1428L1403 1428.9L1403.5 1429.8L1404.1 1427.6L1404.6 1425.1L1405.2 1422.7L1405.8 1420.3L1406.3 1417.8L1406.9 1416.3L1407.4 1417.2L1408 1418.2L1408.5 1419.3L1409.1 1420.3L1409.6 1421.4L1410.2 1422.5L1410.7 1423.6L1411.3 1424.7L1411.8 1423.1L1412.4 1420.8L1412.9 1418.5L1413.5 1416.2L1414 1414L1414.6 1411.8L1415.1 1411.6L1415.7 1412.7L1416.2 1414L1416.8 1415.2L1417.3 1416.5L1417.9 1417.8L1418.4 1419.1L1419 1420.4L1419.5 1420.5L1420.1 1418.4L1420.6 1416.3L1421.2 1414.2L1421.7 1412.2L1422.3 1410.2L1422.8 1408.2L1423.4 1408.3L1423.9 1409.7L1424.5 1411.1L1425 1412.6L1425.6 1414.1L1426.1 1415.6L1426.7 1417.2L1427.2 1418.7L1427.8 1417.8L1428.3 1416L1428.9 1414.1L1429.4 1412.3L1430 1410.5L1430.5 1408.7L1431.1 1407L1431.6 1406.7L1432.2 1408.4L1432.7 1410L1433.3 1411.7L1433.9 1413.5L1434.4 1415.2L1435 1417L1435.5 1418.8L1436.1 1417.3L1436.6 1415.7L1437.2 1414.1L1437.7 1412.5L1438.3 1410.9L1438.8 1409.4L1439.4 1407.9L1439.9 1407.1L1440.5 1409L1441 1411L1441.6 1412.9L1442.1 1414.9L1442.7 1416.9L1443.2 1418.9L1443.8 1420L1444.3 1418.6L1444.9 1417.2L1445.4 1415.8L1446 1414.5L1446.5 1413.2L1447.1 1411.9L1447.6 1410.6L1448.2 1409.9L1448.7 1412L1449.3 1414.2L1449.8 1416.4L1450.4 1418.6L1450.9 1420.8L1451.5 1423L1452 1422.7L1452.6 1421.5L1453.1 1420.3L1453.7 1419.2L1454.2 1418.1L1454.8 1417L1455.3 1415.9L1455.9 1414.9L1456.4 1415.1L1457 1417.5L1457.5 1419.8L1458.1 1422.2L1458.6 1424.6L1459.2 1427.1L1459.7 1427.7L1460.3 1426.7L1460.9 1425.7L1461.4 1424.7L1462 1423.8L1462.5 1422.9L1463.1 1422L1463.6 1421.2L1464.2 1420.3L1464.7 1422.8L1465.3 1425.3L1465.8 1427.9L1466.4 1430.4L1466.9 1433L1467.5 1433.3L1468 1432.5L1468.6 1431.7L1469.1 1430.9L1469.7 1430.2L1470.2 1429.5L1470.8 1428.7L1471.3 1428.1L1471.9 1427.4L1472.4 1430.1L1473 1432.7L1473.5 1435.3L1474.1 1438L1474.6 1440.2L1475.2 1439.5L1475.7 1438.8L1476.3 1438.2L1476.8 1437.6L1477.4 1437L1477.9 1436.4L1478.5 1435.9L1479 1435.3L1479.6 1436.3L1480.1 1438.9L1480.7 1441.6L1481.2 1444.2L1481.8 1446.8L1482.3 1446.4L1482.9 1445.9L1483.4 1445.4L1484 1444.9L1484.5 1444.5L1485.1 1444L1485.6 1443.6L1486.2 1443.2L1486.7 1443.6L1487.3 1446.2L1487.9 1448.8L1488.4 1451.3L1489 1453.6L1489.5 1453.2L1490.1 1452.8L1490.6 1452.4L1491.2 1452L1491.7 1451.7L1492.3 1451.3L1492.8 1451L1493.4 1450.7L1493.9 1451.6L1494.5 1454L1495 1456.4L1495.6 1458.7L1496.1 1459.9L1496.7 1459.6L1497.2 1459.2L1497.8 1458.9L1498.3 1458.7L1498.9 1458.4L1499.4 1458.2L1500 1457.9L1500.5 1457.7L1501.1 1459.4L1501.6 1461.5L1502.2 1463.6L1502.7 1465.7L1503.3 1465.5L1503.8 1465.2L1504.4 1465L1504.9 1464.7L1505.5 1464.5L1506 1464.3L1506.6 1464.1L1507.1 1463.9L1507.7 1464.4L1508.2 1466.2L1508.8 1468L1509.3 1469.6L1509.9 1470.1L1510.4 1469.9L1511 1469.6L1511.5 1469.4L1512.1 1469.1L1512.6 1468.9L1513.2 1468.7L1513.7 1468.4L1514.3 1468.2L1514.8 1469.4L1515.4 1470.6L1516 1469.8L1516.5 1470.1L1517.1 1470.4L1517.6 1470.6L1518.2 1470.9L1518.7 1471.2L1519.3 1470.9L1519.8 1469.4L1520.4 1467.8L1520.9 1466.1L1521.5 1465.6L1522 1465.7L1522.6 1465.9L1523.1 1466.1L1523.7 1466.3L1524.2 1466.6L1524.8 1466.8L1525.3 1467.1L1525.9 1467.3L1526.4 1465.4L1527 1463.5L1527.5 1461.4L1528.1 1459.8L1528.6 1460L1529.2 1460.2L1529.7 1460.4L1530.3 1460.7L1530.8 1460.9L1531.4 1461.2L1531.9 1461.5L1532.5 1461.8L1533 1460.7L1533.6 1458.4L1534.1 1456.1L1534.7 1453.8L1535.2 1453.1L1535.8 1453.3L1536.3 1453.6L1536.9 1453.9L1537.4 1454.3L1538 1454.6L1538.5 1455L1539.1 1455.3L1539.6 1455.7L1540.2 1453.3L1540.7 1450.8L1541.3 1448.3L1541.8 1445.8L1542.4 1445.7L1543 1446.1L1543.5 1446.5L1544.1 1446.9L1544.6 1447.3L1545.2 1447.7L1545.7 1448.2L1546.3 1448.7L1546.8 1448.6L1547.4 1446L1547.9 1443.4L1548.5 1440.8L1549 1438.2L1549.6 1437.9L1550.1 1438.4L1550.7 1438.9L1551.2 1439.5L1551.8 1440L1552.3 1440.6L1552.9 1441.2L1553.4 1441.8L1554 1442.1L1554.5 1439.5L1555.1 1436.8L1555.6 1434.2L1556.2 1431.5L1556.7 1430L1557.3 1430.6L1557.8 1431.3L1558.4 1431.9L1558.9 1432.6L1559.5 1433.3L1560 1434.1L1560.6 1434.8L1561.1 1435.6L1561.7 1434L1562.2 1431.5L1562.8 1428.9L1563.3 1426.3L1563.9 1423.7L1564.4 1422.9L1565 1423.7L1565.5 1424.5L1566.1 1425.3L1566.6 1426.2L1567.2 1427.1L1567.7 1428L1568.3 1428.9L1568.8 1429.8L1569.4 1427.6L1569.9 1425.1L1570.5 1422.7L1571.1 1420.3L1571.6 1417.8L1572.2 1416.3L1572.7 1417.2L1573.3 1418.2L1573.8 1419.3L1574.4 1420.3L1574.9 1421.4L1575.5 1422.5L1576 1423.6L1576.6 1424.7L1577.1 1423.1L1577.7 1420.8L1578.2 1418.5L1578.8 1416.2L1579.3 1414L1579.9 1411.8L1580.4 1411.6L1581 1412.7L1581.5 1414L1582.1 1415.2L1582.6 1416.5L1583.2 1417.8L1583.7 1419.1L1584.3 1420.4L1584.8 1420.5L1585.4 1418.4L1585.9 1416.3L1586.5 1414.2L1587 1412.2L1587.6 1410.2L1588.1 1408.2L1588.7 1408.3L1589.2 1409.7L1589.8 1411.1L1590.3 1412.6L1590.9 1414.1L1591.4 1415.6L1592 1417.2L1592.5 1418.7L1593.1 1417.8L1593.6 1416L1594.2 1414.1L1594.7 1412.3L1595.3 1410.5L1595.8 1408.7L1596.4 1407L1596.9 1406.7L1597.5 1408.4L1598 1410L1598.6 1411.7L1599.2 1413.5L1599.7 1415.2L1600.3 1417L1600.8 1418.8L1601.4 1417.3L1601.9 1415.7L1602.5 1414.1L1603 1412.5L1603.6 1410.9L1604.1 1409.4L1604.7 1407.9L1605.2 1407.1L1605.8 1409L1606.3 1411L1606.9 1412.9L1607.4 1414.9L1608 1416.9L1608.5 1418.9L1609.1 1420L1609.6 1418.6L1610.2 1417.2L1610.7 1415.8L1611.3 1414.5L1611.8 1413.2L1612.4 1411.9L1612.9 1410.6L1613.5 1409.9L1614 1412L1614.6 1414.2L1615.1 1416.4L1615.7 1418.6L1616.2 1420.8L1616.8 1423L1617.3 1422.7L1617.9 1421.5L1618.4 1420.3L1619 1419.2L1619.5 1418.1L1620.1 1417L1620.6 1415.9L1621.2 1414.9L1621.7 1415.1L1622.3 1417.5L1622.8 1419.8L1623.4 1422.2L1623.9 1424.6L1624.5 1427.1L1625 1427.7L1625.6 1426.7L1626.2 1425.7L1626.7 1424.7L1627.3 1423.8L1627.8 1422.9L1628.4 1422L1628.9 1421.2L1629.5 1420.3L1630 1422.8L1630.6 1425.3L1631.1 1427.9L1631.7 1430.4L1632.2 1433L1632.8 1433.3L1633.3 1432.5L1633.9 1431.7L1634.4 1430.9L1635 1430.2L1635.5 1429.5L1636.1 1428.7L1636.6 1428.1L1637.2 1427.4L1637.7 1430.1L1638.3 1432.7L1638.8 1435.3L1639.4 1438L1639.9 1440.2L1640.5 1439.5L1641 1438.8L1641.6 1438.2L1642.1 1437.6L1642.7 1437L1643.2 1436.4L1643.8 1435.9L1644.3 1435.3L1644.9 1436.3L1645.4 1438.9L1646 1441.6L1646.5 1444.2L1647.1 1446.8L1647.6 1446.4L1648.2 1445.9L1648.7 1445.4L1649.3 1444.9L1649.8 1444.5L1650.4 1444L1650.9 1443.6L1651.5 1443.2L1652 1443.6L1652.6 1446.2L1653.2 1448.8L1653.7 1451.3L1654.3 1453.6L1654.8 1453.2L1655.4 1452.8L1655.9 1452.4L1656.5 1452L1657 1451.7L1657.6 1451.3L1658.1 1451L1658.7 1450.7L1659.2 1451.6L1659.8 1454L1660.3 1456.4L1660.9 1458.7L1661.4 1459.9L1662 1459.6L1662.5 1459.2L1663.1 1458.9L1663.6 1458.7L1664.2 1458.4L1664.7 1458.2L1665.3 1457.9L1665.8 1457.7L1666.4 1459.4L1666.9 1461.5L1667.5 1463.6L1668 1465.7L1668.6 1465.5L1669.1 1465.2L1669.7 1465L1670.2 1464.7L1670.8 1464.5L1671.3 1464.3L1671.9 1464.1L1672.4 1463.9L1673 1464.4L1673.5 1466.2L1674.1 1468L1674.6 1469.6L1675.2 1470.1L1675.7 1469.9L1676.3 1469.6L1676.8 1469.4L1677.4 1469.1L1677.9 1468.9L1678.5 1468.7L1679 1468.4L1679.6 1468.2L1680.1 1469.4L1680.7 1470.6L1681.3 1469.8L1681.8 1470.1L1682.4 1470.4L1682.9 1470.6L1683.5 1470.9L1684 1471.2L1684.6 1470.9L1685.1 1469.4L1685.7 1467.8L1686.2 1466.1L1686.8 1465.6L1687.3 1465.7L1687.9 1465.9L1688.4 1466.1L1689 1466.3L1689.5 1466.6L1690.1 1466.8L1690.6 1467.1L1691.2 1467.3L1691.7 1465.4L1692.3 1463.5L1692.8 1461.4L1693.4 1459.8L1693.9 1460L1694.5 1460.2L1695 1460.4L1695.6 1460.7L1696.1 1460.9L1696.7 1461.2L1697.2 1461.5L1697.8 1461.8L1698.3 1460.7L1698.9 1458.4L1699.4 1456.1L1700 1453.8L1700.5 1453.1L1701.1 1453.3L1701.6 1453.6L1702.2 1453.9L1702.7 1454.3L1703.3 1454.6L1703.8 1455L1704.4 1455.3L1704.9 1455.7L1705.5 1453.3L1706 1450.8L1706.6 1448.3L1707.1 1445.8L1707.7 1445.7L1708.3 1446.1L1708.8 1446.5L1709.4 1446.9L1709.9 1447.3L1710.5 1447.7L1711 1448.2L1711.6 1448.7L1712.1 1448.6L1712.7 1446L1713.2 1443.4L1713.8 1440.8L1714.3 1438.2L1714.9 1437.9L1715.4 1438.4L1716 1438.9L1716.5 1439.5L1717.1 1440L1717.6 1440.6L1718.2 1441.2L1718.7 1441.8L1719.3 1442.1L1719.8 1439.5L1720.4 1436.8L1720.9 1434.2L1721.5 1431.5L1722 1430L1722.6 1430.6L1723.1 1431.3L1723.7 1431.9L1724.2 1432.6L1724.8 1433.3L1725.3 1434.1L1725.9 1434.8L1726.4 1435.6L1727 1434L1727.5 1431.5L1728.1 1428.9L1728.6 1426.3L1729.2 1423.7L1729.7 1422.9L1730.3 1423.7L1730.8 1424.5L1731.4 1425.3L1731.9 1426.2L1732.5 1427.1L1733 1428L1733.6 1428.9L1734.1 1429.8L1734.7 1427.6L1735.2 1425.1L1735.8 1422.7L1736.4 1420.3L1736.9 1417.8L1737.5 1416.3L1738 1417.2L1738.6 1418.2L1739.1 1419.3L1739.7 1420.3L1740.2 1421.4L1740.8 1422.5L1741.3 1423.6L1741.9 1424.7L1742.4 1423.1L1743 1420.8L1743.5 1418.5L1744.1 1416.2L1744.6 1414L1745.2 1411.8L1745.7 1411.6L1746.3 1412.7L1746.8 1414L1747.4 1415.2L1747.9 1416.5L1748.5 1417.8L1749 1419.1L1749.6 1420.4L1750.1 1420.5L1750.7 1418.4L1751.2 1416.3L1751.8 1414.2L1752.3 1412.2L1752.9 1410.2L1753.4 1408.2L1754 1408.3L1754.5 1409.7L1755.1 1411.1L1755.6 1412.6L1756.2 1414.1L1756.7 1415.6L1757.3 1417.2L1757.8 1418.7L1758.4 1417.8L1758.9 1416L1759.5 1414.1L1760 1412.3L1760.6 1410.5L1761.1 1408.7L1761.7 1407L1762.2 1406.7L1762.8 1408.4L1763.3 1410L1763.9 1411.7L1764.5 1413.5L1765 1415.2L1765.6 1417L1766.1 1418.8L1766.7 1417.3L1767.2 1415.7L1767.8 1414.1L1768.3 1412.5L1768.9 1410.9L1769.4 1409.4L1770 1407.9L1770.5 1407.1L1771.1 1409L1771.6 1411L1772.2 1412.9L1772.7 1414.9L1773.3 1416.9L1773.8 1418.9L1774.4 1420L1774.9 1418.6L1775.5 1417.2L1776 1415.8L1776.6 1414.5L1777.1 1413.2L1777.7 1411.9L1778.2 1410.6L1778.8 1409.9L1779.3 1412L1779.9 1414.2L1780.4 1416.4L1781 1418.6L1781.5 1420.8L1782.1 1423L1782.6 1422.7L1783.2 1421.5L1783.7 1420.3L1784.3 1419.2L1784.8 1418.1L1785.4 1417L1785.9 1415.9L1786.5 1414.9L1787 1415.1L1787.6 1417.5L1788.1 1419.8L1788.7 1422.2L1789.2 1424.6L1789.8 1427.1L1790.3 1427.7L1790.9 1426.7L1791.5 1425.7L1792 1424.7L1792.6 1423.8L1793.1 1422.9L1793.7 1422L1794.2 1421.2L1794.8 1420.3L1795.3 1422.8L1795.9 1425.3L1796.4 1427.9L1797 1430.4L1797.5 1433L1798.1 1433.3L1798.6 1432.5L1799.2 1431.7L1799.7 1430.9L1800.3 1430.2L1800.8 1429.5L1801.4 1428.7L1801.9 1428.1L1802.5 1427.4L1803 1430.1L1803.6 1432.7L1804.1 1435.3L1804.7 1438L1805.2 1440.2L1805.8 1439.5L1806.3 1438.8L1806.9 1438.2L1807.4 1437.6L1808 1437L1808.5 1436.4L1809.1 1435.9L1809.6 1435.3L1810.2 1436.3L1810.7 1438.9L1811.3 1441.6L1811.8 1444.2L1812.4 1446.8L1812.9 1446.4L1813.5 1445.9L1814 1445.4L1814.6 1444.9L1815.1 1444.5L1815.7 1444L1816.2 1443.6L1816.8 1443.2L1817.3 1443.6L1817.9 1446.2L1818.4 1448.8L1819 1451.3L1819.6 1453.6L1820.1 1453.2L1820.7 1452.8L1821.2 1452.4L1821.8 1452L1822.3 1451.7L1822.9 1451.3L1823.4 1451L1824 1450.7L1824.5 1451.6L1825.1 1454L1825.6 1456.4L1826.2 1458.7L1826.7 1459.9L1827.3 1459.6L1827.8 1459.2L1828.4 1458.9L1828.9 1458.7L1829.5 1458.4L1830 1458.2L1830.6 1457.9L1831.1 1457.7L1831.7 1459.4L1832.2 1461.5L1832.8 1463.6L1833.3 1465.7L1833.9 1465.5L1834.4 1465.2L1835 1465L1835.5 1464.7L1836.1 1464.5L1836.6 1464.3L1837.2 1464.1L1837.7 1463.9L1838.3 1464.4L1838.8 1466.2L1839.4 1468L1839.9 1469.6L1840.5 1470.1L1841 1469.9L1841.6 1469.6L1842.1 1469.4L1842.7 1469.1L1843.2 1468.9L1843.8 1468.7L1844.3 1468.4L1844.9 1468.2L1845.4 1469.4L1846 1470.6" stroke="#ff0000" stroke-width="6"/>
<path d="M193 1470.5L193.6 1470.5L194.1 1470.5L194.7 1470.5L195.2 1470.4L195.8 1470.2L196.3 1470L196.9 1469.8L197.4 1469.6L198 1469.4L198.5 1469.4L199.1 1469.3L199.6 1469.3L200.2 1469.3L200.7 1469.2L201.3 1469.1L201.8 1468.8L202.4 1468.4L202.9 1468L203.5 1467.6L204 1467.1L204.6 1466.8L205.1 1466.7L205.7 1466.7L206.2 1466.7L206.8 1466.6L207.3 1466.6L207.9 1466.6L208.4 1466.2L209 1465.6L209.5 1465.1L210.1 1464.5L210.6 1464L211.2 1463.4L211.7 1463.1L212.3 1463.1L212.8 1463.1L213.4 1463.1L213.9 1463.1L214.5 1463.2L215 1463L215.6 1462.4L216.1 1461.7L216.7 1461L217.2 1460.3L217.8 1459.6L218.3 1458.9L218.9 1458.9L219.4 1458.9L220 1458.9L220.6 1459L221.1 1459L221.7 1459.1L222.2 1458.8L222.8 1458.1L223.3 1457.3L223.9 1456.6L224.4 1455.8L225 1455L225.5 1454.2L226.1 1454.2L226.6 1454.3L227.2 1454.3L227.7 1454.4L228.3 1454.5L228.8 1454.7L229.4 1454.6L229.9 1453.8L230.5 1452.9L231 1452.1L231.6 1451.3L232.1 1450.5L232.7 1449.6L233.2 1449.3L233.8 1449.4L234.3 1449.5L234.9 1449.7L235.4 1449.9L236 1450L236.5 1450.2L237.1 1449.7L237.6 1448.9L238.2 1448L238.7 1447.2L239.3 1446.3L239.8 1445.5L240.4 1444.6L240.9 1444.5L241.5 1444.7L242 1445L242.6 1445.2L243.1 1445.4L243.7 1445.6L244.2 1445.9L244.8 1445.4L245.3 1444.6L245.9 1443.7L246.4 1442.9L247 1442.1L247.5 1441.2L248.1 1440.4L248.7 1440.2L249.2 1440.4L249.8 1440.7L250.3 1441L250.9 1441.3L251.4 1441.6L252 1442L252.5 1441.9L253.1 1441.2L253.6 1440.4L254.2 1439.6L254.7 1438.8L255.3 1438L255.8 1437.2L256.4 1436.4L256.9 1436.7L257.5 1437.1L258 1437.5L258.6 1437.9L259.1 1438.2L259.7 1438.6L260.2 1439.1L260.8 1438.9L261.3 1438.1L261.9 1437.4L262.4 1436.7L263 1436L263.5 1435.3L264.1 1434.5L264.6 1433.8L265.2 1434.3L265.7 1434.8L266.3 1435.2L266.8 1435.7L267.4 1436.2L267.9 1436.7L268.5 1437.2L269 1437.2L269.6 1436.5L270.1 1435.9L270.7 1435.2L271.2 1434.6L271.8 1434L272.3 1433.4L272.9 1432.7L273.4 1433.1L274 1433.7L274.5 1434.2L275.1 1434.8L275.7 1435.4L276.2 1436L276.8 1436.6L277.3 1436.9L277.9 1436.3L278.4 1435.8L279 1435.2L279.5 1434.7L280.1 1434.2L280.6 1433.6L281.2 1433.1L281.7 1433.3L282.3 1434L282.8 1434.6L283.4 1435.3L283.9 1436L284.5 1436.6L285 1437.3L285.6 1437.9L286.1 1437.5L286.7 1437L287.2 1436.6L287.8 1436.1L288.3 1435.7L288.9 1435.2L289.4 1434.8L290 1435L290.5 1435.8L291.1 1436.5L291.6 1437.2L292.2 1438L292.7 1438.7L293.3 1439.5L293.8 1440.2L294.4 1439.8L294.9 1439.4L295.5 1439.1L296 1438.7L296.6 1438.4L297.1 1438L297.7 1437.7L298.2 1438.2L298.8 1439L299.3 1439.8L299.9 1440.6L300.4 1441.4L301 1442.2L301.5 1443L302.1 1443.3L302.6 1443.1L303.2 1442.8L303.8 1442.5L304.3 1442.2L304.9 1442L305.4 1441.7L306 1441.8L306.5 1442.6L307.1 1443.4L307.6 1444.3L308.2 1445.1L308.7 1446L309.3 1446.8L309.8 1447.4L310.4 1447.2L310.9 1447L311.5 1446.8L312 1446.6L312.6 1446.4L313.1 1446.3L313.7 1446.3L314.2 1447.2L314.8 1448L315.3 1448.8L315.9 1449.7L316.4 1450.5L317 1451.3L317.5 1451.8L318.1 1451.7L318.6 1451.5L319.2 1451.4L319.7 1451.3L320.3 1451.1L320.8 1451L321.4 1451.5L321.9 1452.3L322.5 1453.1L323 1453.9L323.6 1454.7L324.1 1455.5L324.7 1456.3L325.2 1456.3L325.8 1456.2L326.3 1456.1L326.9 1456L327.4 1456L328 1455.9L328.5 1456.1L329.1 1456.9L329.6 1457.7L330.2 1458.4L330.7 1459.1L331.3 1459.9L331.9 1460.6L332.4 1460.6L333 1460.6L333.5 1460.5L334.1 1460.5L334.6 1460.5L335.2 1460.5L335.7 1460.8L336.3 1461.4L336.8 1462.1L337.4 1462.7L337.9 1463.4L338.5 1464L339 1464.5L339.6 1464.5L340.1 1464.5L340.7 1464.5L341.2 1464.5L341.8 1464.5L342.3 1464.5L342.9 1465L343.4 1465.5L344 1466L344.5 1466.5L345.1 1467L345.6 1467.5L346.2 1467.7L346.7 1467.7L347.3 1467.7L347.8 1467.8L348.4 1467.8L348.9 1467.8L349.5 1468L350 1468.4L350.6 1468.7L351.1 1469.1L351.7 1469.4L352.2 1469.7L352.8 1469.9L353.3 1469.9L353.9 1469.9L354.4 1470L355 1470L355.5 1470L356.1 1470.1L356.6 1470.3L357.2 1470.4L357.7 1470.5L358.3 1470.5L358.9 1470.5L359.4 1470.5L360 1470.5L360.5 1470.4L361.1 1470.2L361.6 1470L362.2 1469.8L362.7 1469.6L363.3 1469.4L363.8 1469.4L364.4 1469.3L364.9 1469.3L365.5 1469.3L366 1469.2L366.6 1469.1L367.1 1468.8L367.7 1468.4L368.2 1468L368.8 1467.6L369.3 1467.1L369.9 1466.8L370.4 1466.7L371 1466.7L371.5 1466.7L372.1 1466.6L372.6 1466.6L373.2 1466.6L373.7 1466.2L374.3 1465.6L374.8 1465.1L375.4 1464.5L375.9 1464L376.5 1463.4L377 1463.1L377.6 1463.1L378.1 1463.1L378.7 1463.1L379.2 1463.1L379.8 1463.2L380.3 1463L380.9 1462.4L381.4 1461.7L382 1461L382.5 1460.3L383.1 1459.6L383.6 1458.9L384.2 1458.9L384.7 1458.9L385.3 1458.9L385.9 1459L386.4 1459L387 1459.1L387.5 1458.8L388.1 1458.1L388.6 1457.3L389.2 1456.6L389.7 1455.8L390.3 1455L390.8 1454.2L391.4 1454.2L391.9 1454.3L392.5 1454.3L393 1454.4L393.6 1454.5L394.1 1454.7L394.7 1454.6L395.2 1453.8L395.8 1452.9L396.3 1452.1L396.9 1451.3L397.4 1450.5L398 1449.6L398.5 1449.3L399.1 1449.4L399.6 1449.5L400.2 1449.7L400.7 1449.9L401.3 1450L401.8 1450.2L402.4 1449.7L402.9 1448.9L403.5 1448L404 1447.2L404.6 1446.3L405.1 1445.5L405.7 1444.6L406.2 1444.5L406.8 1444.7L407.3 1445L407.9 1445.2L408.4 1445.4L409 1445.6L409.5 1445.9L410.1 1445.4L410.6 1444.6L411.2 1443.7L411.7 1442.9L412.3 1442.1L412.8 1441.2L413.4 1440.4L414 1440.2L414.5 1440.4L415.1 1440.7L415.6 1441L416.2 1441.3L416.7 1441.6L417.3 1442L417.8 1441.9L418.4 1441.2L418.9 1440.4L419.5 1439.6L420 1438.8L420.6 1438L421.1 1437.2L421.7 1436.4L422.2 1436.7L422.8 1437.1L423.3 1437.5L423.9 1437.9L424.4 1438.2L425 1438.6L425.5 1439.1L426.1 1438.9L426.6 1438.1L427.2 1437.4L427.7 1436.7L428.3 1436L428.8 1435.3L429.4 1434.5L429.9 1433.8L430.5 1434.3L431 1434.8L431.6 1435.2L432.1 1435.7L432.7 1436.2L433.2 1436.7L433.8 1437.2L434.3 1437.2L434.9 1436.5L435.4 1435.9L436 1435.2L436.5 1434.6L437.1 1434L437.6 1433.4L438.2 1432.7L438.7 1433.1L439.3 1433.7L439.8 1434.2L440.4 1434.8L441 1435.4L441.5 1436L442.1 1436.6L442.6 1436.9L443.2 1436.3L443.7 1435.8L444.3 1435.2L444.8 1434.7L445.4 1434.2L445.9 1433.6L446.5 1433.1L447 1433.3L447.6 1434L448.1 1434.6L448.7 1435.3L449.2 1436L449.8 1436.6L450.3 1437.3L450.9 1437.9L451.4 1437.5L452 1437L452.5 1436.6L453.1 1436.1L453.6 1435.7L454.2 1435.2L454.7 1434.8L455.3 1435L455.8 1435.8L456.4 1436.5L456.9 1437.2L457.5 1438L458 1438.7L458.6 1439.5L459.1 1440.2L459.7 1439.8L460.2 1439.4L460.8 1439.1L461.3 1438.7L461.9 1438.4L462.4 1438L463 1437.7L463.5 1438.2L464.1 1439L464.6 1439.8L465.2 1440.6L465.7 1441.4L466.3 1442.2L466.8 1443L467.4 1443.3L467.9 1443.1L468.5 1442.8L469.1 1442.5L469.6 1442.2L470.2 1442L470.7 1441.7L471.3 1441.8L471.8 1442.6L472.4 1443.4L472.9 1444.3L473.5 1445.1L474 1446L474.6 1446.8L475.1 1447.4L475.7 1447.2L476.2 1447L476.8 1446.8L477.3 1446.6L477.9 1446.4L478.4 1446.3L479 1446.3L479.5 1447.2L480.1 1448L480.6 1448.8L481.2 1449.7L481.7 1450.5L482.3 1451.3L482.8 1451.8L483.4 1451.7L483.9 1451.5L484.5 1451.4L485 1451.3L485.6 1451.1L486.1 1451L486.7 1451.5L487.2 1452.3L487.8 1453.1L488.3 1453.9L488.9 1454.7L489.4 1455.5L490 1456.3L490.5 1456.3L491.1 1456.2L491.6 1456.1L492.2 1456L492.7 1456L493.3 1455.9L493.8 1456.1L494.4 1456.9L494.9 1457.7L495.5 1458.4L496 1459.1L496.6 1459.9L497.2 1460.6L497.7 1460.6L498.3 1460.6L498.8 1460.5L499.4 1460.5L499.9 1460.5L500.5 1460.5L501 1460.8L501.6 1461.4L502.1 1462.1L502.7 1462.7L503.2 1463.4L503.8 1464L504.3 1464.5L504.9 1464.5L505.4 1464.5L506 1464.5L506.5 1464.5L507.1 1464.5L507.6 1464.5L508.2 1465L508.7 1465.5L509.3 1466L509.8 1466.5L510.4 1467L510.9 1467.5L511.5 1467.7L512 1467.7L512.6 1467.7L513.1 1467.8L513.7 1467.8L514.2 1467.8L514.8 1468L515.3 1468.4L515.9 1468.7L516.4 1469.1L517 1469.4L517.5 1469.7L518.1 1469.9L518.6 1469.9L519.2 1469.9L519.7 1470L520.3 1470L520.8 1470L521.4 1470.1L521.9 1470.3L522.5 1470.4L523 1470.5L523.6 1470.5L524.2 1470.5L524.7 1470.5L525.3 1470.5L525.8 1470.4L526.4 1470.2L526.9 1470L527.5 1469.8L528 1469.6L528.6 1469.4L529.1 1469.4L529.7 1469.3L530.2 1469.3L530.8 1469.3L531.3 1469.2L531.9 1469.1L532.4 1468.8L533 1468.4L533.5 1468L534.1 1467.6L534.6 1467.1L535.2 1466.8L535.7 1466.7L536.3 1466.7L536.8 1466.7L537.4 1466.6L537.9 1466.6L538.5 1466.6L539 1466.2L539.6 1465.6L540.1 1465.1L540.7 1464.5L541.2 1464L541.8 1463.4L542.3 1463.1L542.9 1463.1L543.4 1463.1L544 1463.1L544.5 1463.1L545.1 1463.2L545.6 1463L546.2 1462.4L546.7 1461.7L547.3 1461L547.8 1460.3L548.4 1459.6L548.9 1458.9L549.5 1458.9L550 1458.9L550.6 1458.9L551.1 1459L551.7 1459L552.3 1459.1L552.8 1458.8L553.4 1458.1L553.9 1457.3L554.5 1456.6L555 1455.8L555.6 1455L556.1 1454.2L556.7 1454.2L557.2 1454.3L557.8 1454.3L558.3 1454.4L558.9 1454.5L559.4 1454.7L560 1454.6L560.5 1453.8L561.1 1452.9L561.6 1452.1L562.2 1451.3L562.7 1450.5L563.3 1449.6L563.8 1449.3L564.4 1449.4L564.9 1449.5L565.5 1449.7L566 1449.9L566.6 1450L567.1 1450.2L567.7 1449.7L568.2 1448.9L568.8 1448L569.3 1447.2L569.9 1446.3L570.4 1445.5L571 1444.6L571.5 1444.5L572.1 1444.7L572.6 1445L573.2 1445.2L573.7 1445.4L574.3 1445.6L574.8 1445.9L575.4 1445.4L575.9 1444.6L576.5 1443.7L577 1442.9L577.6 1442.1L578.1 1441.2L578.7 1440.4L579.3 1440.2L579.8 1440.4L580.4 1440.7L580.9 1441L581.5 1441.3L582 1441.6L582.6 1442L583.1 1441.9L583.7 1441.2L584.2 1440.4L584.8 1439.6L585.3 1438.8L585.9 1438L586.4 1437.2L587 1436.4L587.5 1436.7L588.1 1437.1L588.6 1437.5L589.2 1437.9L589.7 1438.2L590.3 1438.6L590.8 1439.1L591.4 1438.9L591.9 1438.1L592.5 1437.4L593 1436.7L593.6 1436L594.1 1435.3L594.7 1434.5L595.2 1433.8L595.8 1434.3L596.3 1434.8L596.9 1435.2L597.4 1435.7L598 1436.2L598.5 1436.7L599.1 1437.2L599.6 1437.2L600.2 1436.5L600.7 1435.9L601.3 1435.2L601.8 1434.6L602.4 1434L602.9 1433.4L603.5 1432.7L604 1433.1L604.6 1433.7L605.1 1434.2L605.7 1434.8L606.3 1435.4L606.8 1436L607.4 1436.6L607.9 1436.9L608.5 1436.3L609 1435.8L609.6 1435.2L610.1 1434.7L610.7 1434.2L611.2 1433.6L611.8 1433.1L612.3 1433.3L612.9 1434L613.4 1434.6L614 1435.3L614.5 1436L615.1 1436.6L615.6 1437.3L616.2 1437.9L616.7 1437.5L617.3 1437L617.8 1436.6L618.4 1436.1L618.9 1435.7L619.5 1435.2L620 1434.8L620.6 1435L621.1 1435.8L621.7 1436.5L622.2 1437.2L622.8 1438L623.3 1438.7L623.9 1439.5L624.4 1440.2L625 1439.8L625.5 1439.4L626.1 1439.1L626.6 1438.7L627.2 1438.4L627.7 1438L628.3 1437.7L628.8 1438.2L629.4 1439L629.9 1439.8L630.5 1440.6L631 1441.4L631.6 1442.2L632.1 1443L632.7 1443.3L633.2 1443.1L633.8 1442.8L634.4 1442.5L634.9 1442.2L635.5 1442L636 1441.7L636.6 1441.8L637.1 1442.6L637.7 1443.4L638.2 1444.3L638.8 1445.1L639.3 1446L639.9 1446.8L640.4 1447.4L641 1447.2L641.5 1447L642.1 1446.8L642.6 1446.6L643.2 1446.4L643.7 1446.3L644.3 1446.3L644.8 1447.2L645.4 1448L645.9 1448.8L646.5 1449.7L647 1450.5L647.6 1451.3L648.1 1451.8L648.7 1451.7L649.2 1451.5L649.8 1451.4L650.3 1451.3L650.9 1451.1L651.4 1451L652 1451.5L652.5 1452.3L653.1 1453.1L653.6 1453.9L654.2 1454.7L654.7 1455.5L655.3 1456.3L655.8 1456.3L656.4 1456.2L656.9 1456.1L657.5 1456L658 1456L658.6 1455.9L659.1 1456.1L659.7 1456.9L660.2 1457.7L660.8 1458.4L661.3 1459.1L661.9 1459.9L662.5 1460.6L663 1460.6L663.6 1460.6L664.1 1460.5L664.7 1460.5L665.2 1460.5L665.8 1460.5L666.3 1460.8L666.9 1461.4L667.4 1462.1L668 1462.7L668.5 1463.4L669.1 1464L669.6 1464.5L670.2 1464.5L670.7 1464.5L671.3 1464.5L671.8 1464.5L672.4 1464.5L672.9 1464.5L673.5 1465L674 1465.5L674.6 1466L675.1 1466.5L675.7 1467L676.2 1467.5L676.8 1467.7L677.3 1467.7L677.9 1467.7L678.4 1467.8L679 1467.8L679.5 1467.8L680.1 1468L680.6 1468.4L681.2 1468.7L681.7 1469.1L682.3 1469.4L682.8 1469.7L683.4 1469.9L683.9 1469.9L684.5 1469.9L685 1470L685.6 1470L686.1 1470L686.7 1470.1L687.2 1470.3L687.8 1470.4L688.3 1470.5L688.9 1470.5L689.5 1470.5L690 1470.5L690.6 1470.5L691.1 1470.4L691.7 1470.2L692.2 1470L692.8 1469.8L693.3 1469.6L693.9 1469.4L694.4 1469.4L695 1469.3L695.5 1469.3L696.1 1469.3L696.6 1469.2L697.2 1469.1L697.7 1468.8L698.3 1468.4L698.8 1468L699.4 1467.6L699.9 1467.1L700.5 1466.8L701 1466.7L701.6 1466.7L702.1 1466.7L702.7 1466.6L703.2 1466.6L703.8 1466.6L704.3 1466.2L704.9 1465.6L705.4 1465.1L706 1464.5L706.5 1464L707.1 1463.4L707.6 1463.1L708.2 1463.1L708.7 1463.1L709.3 1463.1L709.8 1463.1L710.4 1463.2L710.9 1463L711.5 1462.4L712 1461.7L712.6 1461L713.1 1460.3L713.7 1459.6L714.2 1458.9L714.8 1458.9L715.3 1458.9L715.9 1458.9L716.4 1459L717 1459L717.6 1459.1L718.1 1458.8L718.7 1458.1L719.2 1457.3L719.8 1456.6L720.3 1455.8L720.9 1455L721.4 1454.2L722 1454.2L722.5 1454.3L723.1 1454.3L723.6 1454.4L724.2 1454.5L724.7 1454.7L725.3 1454.6L725.8 1453.8L726.4 1452.9L726.9 1452.1L727.5 1451.3L728 1450.5L728.6 1449.6L729.1 1449.3L729.7 1449.4L730.2 1449.5L730.8 1449.7L731.3 1449.9L731.9 1450L732.4 1450.2L733 1449.7L733.5 1448.9L734.1 1448L734.6 1447.2L735.2 1446.3L735.7 1445.5L736.3 1444.6L736.8 1444.5L737.4 1444.7L737.9 1445L738.5 1445.2L739 1445.4L739.6 1445.6L740.1 1445.9L740.7 1445.4L741.2 1444.6L741.8 1443.7L742.3 1442.9L742.9 1442.1L743.4 1441.2L744 1440.4L744.6 1440.2L745.1 1440.4L745.7 1440.7L746.2 1441L746.8 1441.3L747.3 1441.6L747.9 1442L748.4 1441.9L749 1441.2L749.5 1440.4L750.1 1439.6L750.6 1438.8L751.2 1438L751.7 1437.2L752.3 1436.4L752.8 1436.7L753.4 1437.1L753.9 1437.5L754.5 1437.9L755 1438.2L755.6 1438.6L756.1 1439.1L756.7 1438.9L757.2 1438.1L757.8 1437.4L758.3 1436.7L758.9 1436L759.4 1435.3L760 1434.5L760.5 1433.8L761.1 1434.3L761.6 1434.8L762.2 1435.2L762.7 1435.7L763.3 1436.2L763.8 1436.7L764.4 1437.2L764.9 1437.2L765.5 1436.5L766 1435.9L766.6 1435.2L767.1 1434.6L767.7 1434L768.2 1433.4L768.8 1432.7L769.3 1433.1L769.9 1433.7L770.4 1434.2L771 1434.8L771.6 1435.4L772.1 1436L772.7 1436.6L773.2 1436.9L773.8 1436.3L774.3 1435.8L774.9 1435.2L775.4 1434.7L776 1434.2L776.5 1433.6L777.1 1433.1L777.6 1433.3L778.2 1434L778.7 1434.6L779.3 1435.3L779.8 1436L780.4 1436.6L780.9 1437.3L781.5 1437.9L782 1437.5L782.6 1437L783.1 1436.6L783.7 1436.1L784.2 1435.7L784.8 1435.2L785.3 1434.8L785.9 1435L786.4 1435.8L787 1436.5L787.5 1437.2L788.1 1438L788.6 1438.7L789.2 1439.5L789.7 1440.2L790.3 1439.8L790.8 1439.4L791.4 1439.1L791.9 1438.7L792.5 1438.4L793 1438L793.6 1437.7L794.1 1438.2L794.7 1439L795.2 1439.8L795.8 1440.6L796.3 1441.4L796.9 1442.2L797.4 1443L798 1443.3L798.5 1443.1L799.1 1442.8L799.7 1442.5L800.2 1442.2L800.8 1442L801.3 1441.7L801.9 1441.8L802.4 1442.6L803 1443.4L803.5 1444.3L804.1 1445.1L804.6 1446L805.2 1446.8L805.7 1447.4L806.3 1447.2L806.8 1447L807.4 1446.8L807.9 1446.6L808.5 1446.4L809 1446.3L809.6 1446.3L810.1 1447.2L810.7 1448L811.2 1448.8L811.8 1449.7L812.3 1450.5L812.9 1451.3L813.4 1451.8L814 1451.7L814.5 1451.5L815.1 1451.4L815.6 1451.3L816.2 1451.1L816.7 1451L817.3 1451.5L817.8 1452.3L818.4 1453.1L818.9 1453.9L819.5 1454.7L820 1455.5L820.6 1456.3L821.1 1456.3L821.7 1456.2L822.2 1456.1L822.8 1456L823.3 1456L823.9 1455.9L824.4 1456.1L825 1456.9L825.5 1457.7L826.1 1458.4L826.6 1459.1L827.2 1459.9L827.8 1460.6L828.3 1460.6L828.9 1460.6L829.4 1460.5L830 1460.5L830.5 1460.5L831.1 1460.5L831.6 1460.8L832.2 1461.4L832.7 1462.1L833.3 1462.7L833.8 1463.4L834.4 1464L834.9 1464.5L835.5 1464.5L836 1464.5L836.6 1464.5L837.1 1464.5L837.7 1464.5L838.2 1464.5L838.8 1465L839.3 1465.5L839.9 1466L840.4 1466.5L841 1467L841.5 1467.5L842.1 1467.7L842.6 1467.7L843.2 1467.7L843.7 1467.8L844.3 1467.8L844.8 1467.8L845.4 1468L845.9 1468.4L846.5 1468.7L847 1469.1L847.6 1469.4L848.1 1469.7L848.7 1469.9L849.2 1469.9L849.8 1469.9L850.3 1470L850.9 1470L851.4 1470L852 1470.1L852.5 1470.3L853.1 1470.4L853.6 1470.5L854.2 1470.5L854.8 1470.5L855.3 1470.5L855.9 1470.5L856.4 1470.4L857 1470.2L857.5 1470L858.1 1469.8L858.6 1469.6L859.2 1469.4L859.7 1469.4L860.3 1469.3L860.8 1469.3L861.4 1469.3L861.9 1469.2L862.5 1469.1L863 1468.8L863.6 1468.4L864.1 1468L864.7 1467.6L865.2 1467.1L865.8 1466.8L866.3 1466.7L866.9 1466.7L867.4 1466.7L868 1466.6L868.5 1466.6L869.1 1466.6L869.6 1466.2L870.2 1465.6L870.7 1465.1L871.3 1464.5L871.8 1464L872.4 1463.4L872.9 1463.1L873.5 1463.1L874 1463.1L874.6 1463.1L875.1 1463.1L875.7 1463.2L876.2 1463L876.8 1462.4L877.3 1461.7L877.9 1461L878.4 1460.3L879 1459.6L879.5 1458.9L880.1 1458.9L880.6 1458.9L881.2 1458.9L881.7 1459L882.3 1459L882.9 1459.1L883.4 1458.8L884 1458.1L884.5 1457.3L885.1 1456.6L885.6 1455.8L886.2 1455L886.7 1454.2L887.3 1454.2L887.8 1454.3L888.4 1454.3L888.9 1454.4L889.5 1454.5L890 1454.7L890.6 1454.6L891.1 1453.8L891.7 1452.9L892.2 1452.1L892.8 1451.3L893.3 1450.5L893.9 1449.6L894.4 1449.3L895 1449.4L895.5 1449.5L896.1 1449.7L896.6 1449.9L897.2 1450L897.7 1450.2L898.3 1449.7L898.8 1448.9L899.4 1448L899.9 1447.2L900.5 1446.3L901 1445.5L901.6 1444.6L902.1 1444.5L902.7 1444.7L903.2 1445L903.8 1445.2L904.3 1445.4L904.9 1445.6L905.4 1445.9L906 1445.4L906.5 1444.6L907.1 1443.7L907.6 1442.9L908.2 1442.1L908.7 1441.2L909.3 1440.4L909.9 1440.2L910.4 1440.4L911 1440.7L911.5 1441L912.1 1441.3L912.6 1441.6L913.2 1442L913.7 1441.9L914.3 1441.2L914.8 1440.4L915.4 1439.6L915.9 1438.8L916.5 1438L917 1437.2L917.6 1436.4L918.1 1436.7L918.7 1437.1L919.2 1437.5L919.8 1437.9L920.3 1438.2L920.9 1438.6L921.4 1439.1L922 1438.9L922.5 1438.1L923.1 1437.4L923.6 1436.7L924.2 1436L924.7 1435.3L925.3 1434.5L925.8 1433.8L926.4 1434.3L926.9 1434.8L927.5 1435.2L928 1435.7L928.6 1436.2L929.1 1436.7L929.7 1437.2L930.2 1437.2L930.8 1436.5L931.3 1435.9L931.9 1435.2L932.4 1434.6L933 1434L933.5 1433.4L934.1 1432.7L934.6 1433.1L935.2 1433.7L935.7 1434.2L936.3 1434.8L936.9 1435.4L937.4 1436L938 1436.6L938.5 1436.9L939.1 1436.3L939.6 1435.8L940.2 1435.2L940.7 1434.7L941.3 1434.2L941.8 1433.6L942.4 1433.1L942.9 1433.3L943.5 1434L944 1434.6L944.6 1435.3L945.1 1436L945.7 1436.6L946.2 1437.3L946.8 1437.9L947.3 1437.5L947.9 1437L948.4 1436.6L949 1436.1L949.5 1435.7L950.1 1435.2L950.6 1434.8L951.2 1435L951.7 1435.8L952.3 1436.5L952.8 1437.2L953.4 1438L953.9 1438.7L954.5 1439.5L955 1440.2L955.6 1439.8L956.1 1439.4L956.7 1439.1L957.2 1438.7L957.8 1438.4L958.3 1438L958.9 1437.7L959.4 1438.2L960 1439L960.5 1439.8L961.1 1440.6L961.6 1441.4L962.2 1442.2L962.7 1443L963.3 1443.3L963.8 1443.1L964.4 1442.8L965 1442.5L965.5 1442.2L966.1 1442L966.6 1441.7L967.2 1441.8L967.7 1442.6L968.3 1443.4L968.8 1444.3L969.4 1445.1L969.9 1446L970.5 1446.8L971 1447.4L971.6 1447.2L972.1 1447L972.7 1446.8L973.2 1446.6L973.8 1446.4L974.3 1446.3L974.9 1446.3L975.4 1447.2L976 1448L976.5 1448.8L977.1 1449.7L977.6 1450.5L978.2 1451.3L978.7 1451.8L979.3 1451.7L979.8 1451.5L980.4 1451.4L980.9 1451.3L981.5 1451.1L982 1451L982.6 1451.5L983.1 1452.3L983.7 1453.1L984.2 1453.9L984.8 1454.7L985.3 1455.5L985.9 1456.3L986.4 1456.3L987 1456.2L987.5 1456.1L988.1 1456L988.6 1456L989.2 1455.9L989.7 1456.1L990.3 1456.9L990.8 1457.7L991.4 1458.4L992 1459.1L992.5 1459.9L993.1 1460.6L993.6 1460.6L994.2 1460.6L994.7 1460.5L995.3 1460.5L995.8 1460.5L996.4 1460.5L996.9 1460.8L997.5 1461.4L998 1462.1L998.6 1462.7L999.1 1463.4L999.7 1464L1000.2 1464.5L1000.8 1464.5L1001.3 1464.5L1001.9 1464.5L1002.4 1464.5L1003 1464.5L1003.5 1464.5L1004.1 1465L1004.6 1465.5L1005.2 1466L1005.7 1466.5L1006.3 1467L1006.8 1467.5L1007.4 1467.7L1007.9 1467.7L1008.5 1467.7L1009 1467.8L1009.6 1467.8L1010.1 1467.8L1010.7 1468L1011.2 1468.4L1011.8 1468.7L1012.3 1469.1L1012.9 1469.4L1013.4 1469.7L1014 1469.9L1014.5 1469.9L1015.1 1469.9L1015.6 1470L1016.2 1470L1016.7 1470L1017.3 1470.1L1017.8 1470.3L1018.4 1470.4L1018.9 1470.5L1019.5 1470.5L1020.1 1470.5L1020.6 1470.5L1021.2 1470.5L1021.7 1470.4L1022.3 1470.2L1022.8 1470L1023.4 1469.8L1023.9 1469.6L1024.5 1469.4L1025 1469.4L1025.6 1469.3L1026.1 1469.3L1026.7 1469.3L1027.2 1469.2L1027.8 1469.1L1028.3 1468.8L1028.9 1468.4L1029.4 1468L1030 1467.6L1030.5 1467.1L1031.1 1466.8L1031.6 1466.7L1032.2 1466.7L1032.7 1466.7L1033.3 1466.6L1033.8 1466.6L1034.4 1466.6L1034.9 1466.2L1035.5 1465.6L1036 1465.1L1036.6 1464.5L1037.1 1464L1037.7 1463.4L1038.2 1463.1L1038.8 1463.1L1039.3 1463.1L1039.9 1463.1L1040.4 1463.1L1041 1463.2L1041.5 1463L1042.1 1462.4L1042.6 1461.7L1043.2 1461L1043.7 1460.3L1044.3 1459.6L1044.8 1458.9L1045.4 1458.9L1045.9 1458.9L1046.5 1458.9L1047 1459L1047.6 1459L1048.2 1459.1L1048.7 1458.8L1049.3 1458.1L1049.8 1457.3L1050.4 1456.6L1050.9 1455.8L1051.5 1455L1052 1454.2L1052.6 1454.2L1053.1 1454.3L1053.7 1454.3L1054.2 1454.4L1054.8 1454.5L1055.3 1454.7L1055.9 1454.6L1056.4 1453.8L1057 1452.9L1057.5 1452.1L1058.1 1451.3L1058.6 1450.5L1059.2 1449.6L1059.7 1449.3L1060.3 1449.4L1060.8 1449.5L1061.4 1449.7L1061.9 1449.9L1062.5 1450L1063 1450.2L1063.6 1449.7L1064.1 1448.9L1064.7 1448L1065.2 1447.2L1065.8 1446.3L1066.3 1445.5L1066.9 1444.6L1067.4 1444.5L1068 1444.7L1068.5 1445L1069.1 1445.2L1069.6 1445.4L1070.2 1445.6L1070.7 1445.9L1071.3 1445.4L1071.8 1444.6L1072.4 1443.7L1072.9 1442.9L1073.5 1442.1L1074 1441.2L1074.6 1440.4L1075.2 1440.2L1075.7 1440.4L1076.3 1440.7L1076.8 1441L1077.4 1441.3L1077.9 1441.6L1078.5 1442L1079 1441.9L1079.6 1441.2L1080.1 1440.4L1080.7 1439.6L1081.2 1438.8L1081.8 1438L1082.3 1437.2L1082.9 1436.4L1083.4 1436.7L1084 1437.1L1084.5 1437.5L1085.1 1437.9L1085.6 1438.2L1086.2 1438.6L1086.7 1439.1L1087.3 1438.9L1087.8 1438.1L1088.4 1437.4L1088.9 1436.7L1089.5 1436L1090 1435.3L1090.6 1434.5L1091.1 1433.8L1091.7 1434.3L1092.2 1434.8L1092.8 1435.2L1093.3 1435.7L1093.9 1436.2L1094.4 1436.7L1095 1437.2L1095.5 1437.2L1096.1 1436.5L1096.6 1435.9L1097.2 1435.2L1097.7 1434.6L1098.3 1434L1098.8 1433.4L1099.4 1432.7L1099.9 1433.1L1100.5 1433.7L1101 1434.2L1101.6 1434.8L1102.2 1435.4L1102.7 1436L1103.3 1436.6L1103.8 1436.9L1104.4 1436.3L1104.9 1435.8L1105.5 1435.2L1106 1434.7L1106.6 1434.2L1107.1 1433.6L1107.7 1433.1L1108.2 1433.3L1108.8 1434L1109.3 1434.6L1109.9 1435.3L1110.4 1436L1111 1436.6L1111.5 1437.3L1112.1 1437.9L1112.6 1437.5L1113.2 1437L1113.7 1436.6L1114.3 1436.1L1114.8 1435.7L1115.4 1435.2L1115.9 1434.8L1116.5 1435L1117 1435.8L1117.6 1436.5L1118.1 1437.2L1118.7 1438L1119.2 1438.7L1119.8 1439.5L1120.3 1440.2L1120.9 1439.8L1121.4 1439.4L1122 1439.1L1122.5 1438.7L1123.1 1438.4L1123.6 1438L1124.2 1437.7L1124.7 1438.2L1125.3 1439L1125.8 1439.8L1126.4 1440.6L1126.9 1441.4L1127.5 1442.2L1128 1443L1128.6 1443.3L1129.1 1443.1L1129.7 1442.8L1130.3 1442.5L1130.8 1442.2L1131.4 1442L1131.9 1441.7L1132.5 1441.8L1133 1442.6L1133.6 1443.4L1134.1 1444.3L1134.7 1445.1L1135.2 1446L1135.8 1446.8L1136.3 1447.4L1136.9 1447.2L1137.4 1447L1138 1446.8L1138.5 1446.6L1139.1 1446.4L1139.6 1446.3L1140.2 1446.3L1140.7 1447.2L1141.3 1448L1141.8 1448.8L1142.4 1449.7L1142.9 1450.5L1143.5 1451.3L1144 1451.8L1144.6 1451.7L1145.1 1451.5L1145.7 1451.4L1146.2 1451.3L1146.8 1451.1L1147.3 1451L1147.9 1451.5L1148.4 1452.3L1149 1453.1L1149.5 1453.9L1150.1 1454.7L1150.6 1455.5L1151.2 1456.3L1151.7 1456.3L1152.3 1456.2L1152.8 1456.1L1153.4 1456L1153.9 1456L1154.5 1455.9L1155 1456.1L1155.6 1456.9L1156.1 1457.7L1156.7 1458.4L1157.3 1459.1L1157.8 1459.9L1158.4 1460.6L1158.9 1460.6L1159.5 1460.6L1160 1460.5L1160.6 1460.5L1161.1 1460.5L1161.7 1460.5L1162.2 1460.8L1162.8 1461.4L1163.3 1462.1L1163.9 1462.7L1164.4 1463.4L1165 1464L1165.5 1464.5L1166.1 1464.5L1166.6 1464.5L1167.2 1464.5L1167.7 1464.5L1168.3 1464.5L1168.8 1464.5L1169.4 1465L1169.9 1465.5L1170.5 1466L1171 1466.5L1171.6 1467L1172.1 1467.5L1172.7 1467.7L1173.2 1467.7L1173.8 1467.7L1174.3 1467.8L1174.9 1467.8L1175.4 1467.8L1176 1468L1176.5 1468.4L1177.1 1468.7L1177.6 1469.1L1178.2 1469.4L1178.7 1469.7L1179.3 1469.9L1179.8 1469.9L1180.4 1469.9L1180.9 1470L1181.5 1470L1182 1470L1182.6 1470.1L1183.1 1470.3L1183.7 1470.4L1184.2 1470.5L1184.8 1470.5L1185.4 1470.5L1185.9 1470.5L1186.5 1470.5L1187 1470.4L1187.6 1470.2L1188.1 1470L1188.7 1469.8L1189.2 1469.6L1189.8 1469.4L1190.3 1469.4L1190.9 1469.3L1191.4 1469.3L1192 1469.3L1192.5 1469.2L1193.1 1469.1L1193.6 1468.8L1194.2 1468.4L1194.7 1468L1195.3 1467.6L1195.8 1467.1L1196.4 1466.8L1196.9 1466.7L1197.5 1466.7L1198 1466.7L1198.6 1466.6L1199.1 1466.6L1199.7 1466.6L1200.2 1466.2L1200.8 1465.6L1201.3 1465.1L1201.9 1464.5L1202.4 1464L1203 1463.4L1203.5 1463.1L1204.1 1463.1L1204.6 1463.1L1205.2 1463.1L1205.7 1463.1L1206.3 1463.2L1206.8 1463L1207.4 1462.4L1207.9 1461.7L1208.5 1461L1209 1460.3L1209.6 1459.6L1210.1 1458.9L1210.7 1458.9L1211.2 1458.9L1211.8 1458.9L1212.3 1459L1212.9 1459L1213.5 1459.1L1214 1458.8L1214.6 1458.1L1215.1 1457.3L1215.7 1456.6L1216.2 1455.8L1216.8 1455L1217.3 1454.2L1217.9 1454.2L1218.4 1454.3L1219 1454.3L1219.5 1454.4L1220.1 1454.5L1220.6 1454.7L1221.2 1454.6L1221.7 1453.8L1222.3 1452.9L1222.8 1452.1L1223.4 1451.3L1223.9 1450.5L1224.5 1449.6L1225 1449.3L1225.6 1449.4L1226.1 1449.5L1226.7 1449.7L1227.2 1449.9L1227.8 1450L1228.3 1450.2L1228.9 1449.7L1229.4 1448.9L1230 1448L1230.5 1447.2L1231.1 1446.3L1231.6 1445.5L1232.2 1444.6L1232.7 1444.5L1233.3 1444.7L1233.8 1445L1234.4 1445.2L1234.9 1445.4L1235.5 1445.6L1236 1445.9L1236.6 1445.4L1237.1 1444.6L1237.7 1443.7L1238.2 1442.9L1238.8 1442.1L1239.3 1441.2L1239.9 1440.4L1240.5 1440.2L1241 1440.4L1241.6 1440.7L1242.1 1441L1242.7 1441.3L1243.2 1441.6L1243.8 1442L1244.3 1441.9L1244.9 1441.2L1245.4 1440.4L1246 1439.6L1246.5 1438.8L1247.1 1438L1247.6 1437.2L1248.2 1436.4L1248.7 1436.7L1249.3 1437.1L1249.8 1437.5L1250.4 1437.9L1250.9 1438.2L1251.5 1438.6L1252 1439.1L1252.6 1438.9L1253.1 1438.1L1253.7 1437.4L1254.2 1436.7L1254.8 1436L1255.3 1435.3L1255.9 1434.5L1256.4 1433.8L1257 1434.3L1257.5 1434.8L1258.1 1435.2L1258.6 1435.7L1259.2 1436.2L1259.7 1436.7L1260.3 1437.2L1260.8 1437.2L1261.4 1436.5L1261.9 1435.9L1262.5 1435.2L1263 1434.6L1263.6 1434L1264.1 1433.4L1264.7 1432.7L1265.2 1433.1L1265.8 1433.7L1266.3 1434.2L1266.9 1434.8L1267.5 1435.4L1268 1436L1268.6 1436.6L1269.1 1436.9L1269.7 1436.3L1270.2 1435.8L1270.8 1435.2L1271.3 1434.7L1271.9 1434.2L1272.4 1433.6L1273 1433.1L1273.5 1433.3L1274.1 1434L1274.6 1434.6L1275.2 1435.3L1275.7 1436L1276.3 1436.6L1276.8 1437.3L1277.4 1437.9L1277.9 1437.5L1278.5 1437L1279 1436.6L1279.6 1436.1L1280.1 1435.7L1280.7 1435.2L1281.2 1434.8L1281.8 1435L1282.3 1435.8L1282.9 1436.5L1283.4 1437.2L1284 1438L1284.5 1438.7L1285.1 1439.5L1285.6 1440.2L1286.2 1439.8L1286.7 1439.4L1287.3 1439.1L1287.8 1438.7L1288.4 1438.4L1288.9 1438L1289.5 1437.7L1290 1438.2L1290.6 1439L1291.1 1439.8L1291.7 1440.6L1292.2 1441.4L1292.8 1442.2L1293.3 1443L1293.9 1443.3L1294.4 1443.1L1295 1442.8L1295.6 1442.5L1296.1 1442.2L1296.7 1442L1297.2 1441.7L1297.8 1441.8L1298.3 1442.6L1298.9 1443.4L1299.4 1444.3L1300 1445.1L1300.5 1446L1301.1 1446.8L1301.6 1447.4L1302.2 1447.2L1302.7 1447L1303.3 1446.8L1303.8 1446.6L1304.4 1446.4L1304.9 1446.3L1305.5 1446.3L1306 1447.2L1306.6 1448L1307.1 1448.8L1307.7 1449.7L1308.2 1450.5L1308.8 1451.3L1309.3 1451.8L1309.9 1451.7L1310.4 1451.5L1311 1451.4L1311.5 1451.3L1312.1 1451.1L1312.6 1451L1313.2 1451.5L1313.7 1452.3L1314.3 1453.1L1314.8 1453.9L1315.4 1454.7L1315.9 1455.5L1316.5 1456.3L1317 1456.3L1317.6 1456.2L1318.1 1456.1L1318.7 1456L1319.2 1456L1319.8 1455.9L1320.3 1456.1L1320.9 1456.9L1321.4 1457.7L1322 1458.4L1322.6 1459.1L1323.1 1459.9L1323.7 1460.6L1324.2 1460.6L1324.8 1460.6L1325.3 1460.5L1325.9 1460.5L1326.4 1460.5L1327 1460.5L1327.5 1460.8L1328.1 1461.4L1328.6 1462.1L1329.2 1462.7L1329.7 1463.4L1330.3 1464L1330.8 1464.5L1331.4 1464.5L1331.9 1464.5L1332.5 1464.5L1333 1464.5L1333.6 1464.5L1334.1 1464.5L1334.7 1465L1335.2 1465.5L1335.8 1466L1336.3 1466.5L1336.9 1467L1337.4 1467.5L1338 1467.7L1338.5 1467.7L1339.1 1467.7L1339.6 1467.8L1340.2 1467.8L1340.7 1467.8L1341.3 1468L1341.8 1468.4L1342.4 1468.7L1342.9 1469.1L1343.5 1469.4L1344 1469.7L1344.6 1469.9L1345.1 1469.9L1345.7 1469.9L1346.2 1470L1346.8 1470L1347.3 1470L1347.9 1470.1L1348.4 1470.3L1349 1470.4L1349.5 1470.5L1350.1 1470.5L1350.7 1470.5L1351.2 1470.5L1351.8 1470.5L1352.3 1470.4L1352.9 1470.2L1353.4 1470L1354 1469.8L1354.5 1469.6L1355.1 1469.4L1355.6 1469.4L1356.2 1469.3L1356.7 1469.3L1357.3 1469.3L1357.8 1469.2L1358.4 1469.1L1358.9 1468.8L1359.5 1468.4L1360 1468L1360.6 1467.6L1361.1 1467.1L1361.7 1466.8L1362.2 1466.7L1362.8 1466.7L1363.3 1466.7L1363.9 1466.6L1364.4 1466.6L1365 1466.6L1365.5 1466.2L1366.1 1465.6L1366.6 1465.1L1367.2 1464.5L1367.7 1464L1368.3 1463.4L1368.8 1463.1L1369.4 1463.1L1369.9 1463.1L1370.5 1463.1L1371 1463.1L1371.6 1463.2L1372.1 1463L1372.7 1462.4L1373.2 1461.7L1373.8 1461L1374.3 1460.3L1374.9 1459.6L1375.4 1458.9L1376 1458.9L1376.5 1458.9L1377.1 1458.9L1377.6 1459L1378.2 1459L1378.8 1459.1L1379.3 1458.8L1379.9 1458.1L1380.4 1457.3L1381 1456.6L1381.5 1455.8L1382.1 1455L1382.6 1454.2L1383.2 1454.2L1383.7 1454.3L1384.3 1454.3L1384.8 1454.4L1385.4 1454.5L1385.9 1454.7L1386.5 1454.6L1387 1453.8L1387.6 1452.9L1388.1 1452.1L1388.7 1451.3L1389.2 1450.5L1389.8 1449.6L1390.3 1449.3L1390.9 1449.4L1391.4 1449.5L1392 1449.7L1392.5 1449.9L1393.1 1450L1393.6 1450.2L1394.2 1449.7L1394.7 1448.9L1395.3 1448L1395.8 1447.2L1396.4 1446.3L1396.9 1445.5L1397.5 1444.6L1398 1444.5L1398.6 1444.7L1399.1 1445L1399.7 1445.2L1400.2 1445.4L1400.8 1445.6L1401.3 1445.9L1401.9 1445.4L1402.4 1444.6L1403 1443.7L1403.5 1442.9L1404.1 1442.1L1404.6 1441.2L1405.2 1440.4L1405.8 1440.2L1406.3 1440.4L1406.9 1440.7L1407.4 1441L1408 1441.3L1408.5 1441.6L1409.1 1442L1409.6 1441.9L1410.2 1441.2L1410.7 1440.4L1411.3 1439.6L1411.8 1438.8L1412.4 1438L1412.9 1437.2L1413.5 1436.4L1414 1436.7L1414.6 1437.1L1415.1 1437.5L1415.7 1437.9L1416.2 1438.2L1416.8 1438.6L1417.3 1439.1L1417.9 1438.9L1418.4 1438.1L1419 1437.4L1419.5 1436.7L1420.1 1436L1420.6 1435.3L1421.2 1434.5L1421.7 1433.8L1422.3 1434.3L1422.8 1434.8L1423.4 1435.2L1423.9 1435.7L1424.5 1436.2L1425 1436.7L1425.6 1437.2L1426.1 1437.2L1426.7 1436.5L1427.2 1435.9L1427.8 1435.2L1428.3 1434.6L1428.9 1434L1429.4 1433.4L1430 1432.7L1430.5 1433.1L1431.1 1433.7L1431.6 1434.2L1432.2 1434.8L1432.7 1435.4L1433.3 1436L1433.9 1436.6L1434.4 1436.9L1435 1436.3L1435.5 1435.8L1436.1 1435.2L1436.6 1434.7L1437.2 1434.2L1437.7 1433.6L1438.3 1433.1L1438.8 1433.3L1439.4 1434L1439.9 1434.6L1440.5 1435.3L1441 1436L1441.6 1436.6L1442.1 1437.3L1442.7 1437.9L1443.2 1437.5L1443.8 1437L1444.3 1436.6L1444.9 1436.1L1445.4 1435.7L1446 1435.2L1446.5 1434.8L1447.1 1435L1447.6 1435.8L1448.2 1436.5L1448.7 1437.2L1449.3 1438L1449.8 1438.7L1450.4 1439.5L1450.9 1440.2L1451.5 1439.8L1452 1439.4L1452.6 1439.1L1453.1 1438.7L1453.7 1438.4L1454.2 1438L1454.8 1437.7L1455.3 1438.2L1455.9 1439L1456.4 1439.8L1457 1440.6L1457.5 1441.4L1458.1 1442.2L1458.6 1443L1459.2 1443.3L1459.7 1443.1L1460.3 1442.8L1460.9 1442.5L1461.4 1442.2L1462 1442L1462.5 1441.7L1463.1 1441.8L1463.6 1442.6L1464.2 1443.4L1464.7 1444.3L1465.3 1445.1L1465.8 1446L1466.4 1446.8L1466.9 1447.4L1467.5 1447.2L1468 1447L1468.6 1446.8L1469.1 1446.6L1469.7 1446.4L1470.2 1446.3L1470.8 1446.3L1471.3 1447.2L1471.9 1448L1472.4 1448.8L1473 1449.7L1473.5 1450.5L1474.1 1451.3L1474.6 1451.8L1475.2 1451.7L1475.7 1451.5L1476.3 1451.4L1476.8 1451.3L1477.4 1451.1L1477.9 1451L1478.5 1451.5L1479 1452.3L1479.6 1453.1L1480.1 1453.9L1480.7 1454.7L1481.2 1455.5L1481.8 1456.3L1482.3 1456.3L1482.9 1456.2L1483.4 1456.1L1484 1456L1484.5 1456L1485.1 1455.9L1485.6 1456.1L1486.2 1456.9L1486.7 1457.7L1487.3 1458.4L1487.9 1459.1L1488.4 1459.9L1489 1460.6L1489.5 1460.6L1490.1 1460.6L1490.6 1460.5L1491.2 1460.5L1491.7 1460.5L1492.3 1460.5L1492.8 1460.8L1493.4 1461.4L1493.9 1462.1L1494.5 1462.7L1495 1463.4L1495.6 1464L1496.1 1464.5L1496.7 1464.5L1497.2 1464.5L1497.8 1464.5L1498.3 1464.5L1498.9 1464.5L1499.4 1464.5L1500 1465L1500.5 1465.5L1501.1 1466L1501.6 1466.5L1502.2 1467L1502.7 1467.5L1503.3 1467.7L1503.8 1467.7L1504.4 1467.7L1504.9 1467.8L1505.5 1467.8L1506 1467.8L1506.6 1468L1507.1 1468.4L1507.7 1468.7L1508.2 1469.1L1508.8 1469.4L1509.3 1469.7L1509.9 1469.9L1510.4 1469.9L1511 1469.9L1511.5 1470L1512.1 1470L1512.6 1470L1513.2 1470.1L1513.7 1470.3L1514.3 1470.4L1514.8 1470.5L1515.4 1470.5L1516 1470.5L1516.5 1470.5L1517.1 1470.5L1517.6 1470.4L1518.2 1470.2L1518.7 1470L1519.3 1469.8L1519.8 1469.6L1520.4 1469.4L1520.9 1469.4L1521.5 1469.3L1522 1469.3L1522.6 1469.3L1523.1 1469.2L1523.7 1469.1L1524.2 1468.8L1524.8 1468.4L1525.3 1468L1525.9 1467.6L1526.4 1467.1L1527 1466.8L1527.5 1466.7L1528.1 1466.7L1528.6 1466.7L1529.2 1466.6L1529.7 1466.6L1530.3 1466.6L1530.8 1466.2L1531.4 1465.6L1531.9 1465.1L1532.5 1464.5L1533 1464L1533.6 1463.4L1534.1 1463.1L1534.7 1463.1L1535.2 1463.1L1535.8 1463.1L1536.3 1463.1L1536.9 1463.2L1537.4 1463L1538 1462.4L1538.5 1461.7L1539.1 1461L1539.6 1460.3L1540.2 1459.6L1540.7 1458.9L1541.3 1458.9L1541.8 1458.9L1542.4 1458.9L1543 1459L1543.5 1459L1544.1 1459.1L1544.6 1458.8L1545.2 1458.1L1545.7 1457.3L1546.3 1456.6L1546.8 1455.8L1547.4 1455L1547.9 1454.2L1548.5 1454.2L1549 1454.3L1549.6 1454.3L1550.1 1454.4L1550.7 1454.5L1551.2 1454.7L1551.8 1454.6L1552.3 1453.8L1552.9 1452.9L1553.4 1452.1L1554 1451.3L1554.5 1450.5L1555.1 1449.6L1555.6 1449.3L1556.2 1449.4L1556.7 1449.5L1557.3 1449.7L1557.8 1449.9L1558.4 1450L1558.9 1450.2L1559.5 1449.7L1560 1448.9L1560.6 1448L1561.1 1447.2L1561.7 1446.3L1562.2 1445.5L1562.8 1444.6L1563.3 1444.5L1563.9 1444.7L1564.4 1445L1565 1445.2L1565.5 1445.4L1566.1 1445.6L1566.6 1445.9L1567.2 1445.4L1567.7 1444.6L1568.3 1443.7L1568.8 1442.9L1569.4 1442.1L1569.9 1441.2L1570.5 1440.4L1571.1 1440.2L1571.6 1440.4L1572.2 1440.7L1572.7 1441L1573.3 1441.3L1573.8 1441.6L1574.4 1442L1574.9 1441.9L1575.5 1441.2L1576 1440.4L1576.6 1439.6L1577.1 1438.8L1577.7 1438L1578.2 1437.2L1578.8 1436.4L1579.3 1436.7L1579.9 1437.1L1580.4 1437.5L1581 1437.9L1581.5 1438.2L1582.1 1438.6L1582.6 1439.1L1583.2 1438.9L1583.7 1438.1L1584.3 1437.4L1584.8 1436.7L1585.4 1436L1585.9 1435.3L1586.5 1434.5L1587 1433.8L1587.6 1434.3L1588.1 1434.8L1588.7 1435.2L1589.2 1435.7L1589.8 1436.2L1590.3 1436.7L1590.9 1437.2L1591.4 1437.2L1592 1436.5L1592.5 1435.9L1593.1 1435.2L1593.6 1434.6L1594.2 1434L1594.7 1433.4L1595.3 1432.7L1595.8 1433.1L1596.4 1433.7L1596.9 1434.2L1597.5 1434.8L1598 1435.4L1598.6 1436L1599.2 1436.6L1599.7 1436.9L1600.3 1436.3L1600.8 1435.8L1601.4 1435.2L1601.9 1434.7L1602.5 1434.2L1603 1433.6L1603.6 1433.1L1604.1 1433.3L1604.7 1434L1605.2 1434.6L1605.8 1435.3L1606.3 1436L1606.9 1436.6L1607.4 1437.3L1608 1437.9L1608.5 1437.5L1609.1 1437L1609.6 1436.6L1610.2 1436.1L1610.7 1435.7L1611.3 1435.2L1611.8 1434.8L1612.4 1435L1612.9 1435.8L1613.5 1436.5L1614 1437.2L1614.6 1438L1615.1 1438.7L1615.7 1439.5L1616.2 1440.2L1616.8 1439.8L1617.3 1439.4L1617.9 1439.1L1618.4 1438.7L1619 1438.4L1619.5 1438L1620.1 1437.7L1620.6 1438.2L1621.2 1439L1621.7 1439.8L1622.3 1440.6L1622.8 1441.4L1623.4 1442.2L1623.9 1443L1624.5 1443.3L1625 1443.1L1625.6 1442.8L1626.2 1442.5L1626.7 1442.2L1627.3 1442L1627.8 1441.7L1628.4 1441.8L1628.9 1442.6L1629.5 1443.4L1630 1444.3L1630.6 1445.1L1631.1 1446L1631.7 1446.8L1632.2 1447.4L1632.8 1447.2L1633.3 1447L1633.9 1446.8L1634.4 1446.6L1635 1446.4L1635.5 1446.3L1636.1 1446.3L1636.6 1447.2L1637.2 1448L1637.7 1448.8L1638.3 1449.7L1638.8 1450.5L1639.4 1451.3L1639.9 1451.8L1640.5 1451.7L1641 1451.5L1641.6 1451.4L1642.1 1451.3L1642.7 1451.1L1643.2 1451L1643.8 1451.5L1644.3 1452.3L1644.9 1453.1L1645.4 1453.9L1646 1454.7L1646.5 1455.5L1647.1 1456.3L1647.6 1456.3L1648.2 1456.2L1648.7 1456.1L1649.3 1456L1649.8 1456L1650.4 1455.9L1650.9 1456.1L1651.5 1456.9L1652 1457.7L1652.6 1458.4L1653.2 1459.1L1653.7 1459.9L1654.3 1460.6L1654.8 1460.6L1655.4 1460.6L1655.9 1460.5L1656.5 1460.5L1657 1460.5L1657.6 1460.5L1658.1 1460.8L1658.7 1461.4L1659.2 1462.1L1659.8 1462.7L1660.3 1463.4L1660.9 1464L1661.4 1464.5L1662 1464.5L1662.5 1464.5L1663.1 1464.5L1663.6 1464.5L1664.2 1464.5L1664.7 1464.5L1665.3 1465L1665.8 1465.5L1666.4 1466L1666.9 1466.5L1667.5 1467L1668 1467.5L1668.6 1467.7L1669.1 1467.7L1669.7 1467.7L1670.2 1467.8L1670.8 1467.8L1671.3 1467.8L1671.9 1468L1672.4 1468.4L1673 1468.7L1673.5 1469.1L1674.1 1469.4L1674.6 1469.7L1675.2 1469.9L1675.7 1469.9L1676.3 1469.9L1676.8 1470L1677.4 1470L1677.9 1470L1678.5 1470.1L1679 1470.3L1679.6 1470.4L1680.1 1470.5L1680.7 1470.5L1681.3 1470.5L1681.8 1470.5L1682.4 1470.5L1682.9 1470.4L1683.5 1470.2L1684 1470L1684.6 1469.8L1685.1 1469.6L1685.7 1469.4L1686.2 1469.4L1686.8 1469.3L1687.3 1469.3L1687.9 1469.3L1688.4 1469.2L1689 1469.1L1689.5 1468.8L1690.1 1468.4L1690.6 1468L1691.2 1467.6L1691.7 1467.1L1692.3 1466.8L1692.8 1466.7L1693.4 1466.7L1693.9 1466.7L1694.5 1466.6L1695 1466.6L1695.6 1466.6L1696.1 1466.2L1696.7 1465.6L1697.2 1465.1L1697.8 1464.5L1698.3 1464L1698.9 1463.4L1699.4 1463.1L1700 1463.1L1700.5 1463.1L1701.1 1463.1L1701.6 1463.1L1702.2 1463.2L1702.7 1463L1703.3 1462.4L1703.8 1461.7L1704.4 1461L1704.9 1460.3L1705.5 1459.6L1706 1458.9L1706.6 1458.9L1707.1 1458.9L1707.7 1458.9L1708.3 1459L1708.8 1459L1709.4 1459.1L1709.9 1458.8L1710.5 1458.1L1711 1457.3L1711.6 1456.6L1712.1 1455.8L1712.7 1455L1713.2 1454.2L1713.8 1454.2L1714.3 1454.3L1714.9 1454.3L1715.4 1454.4L1716 1454.5L1716.5 1454.7L1717.1 1454.6L1717.6 1453.8L1718.2 1452.9L1718.7 1452.1L1719.3 1451.3L1719.8 1450.5L1720.4 1449.6L1720.9 1449.3L1721.5 1449.4L1722 1449.5L1722.6 1449.7L1723.1 1449.9L1723.7 1450L1724.2 1450.2L1724.8 1449.7L1725.3 1448.9L1725.9 1448L1726.4 1447.2L1727 1446.3L1727.5 1445.5L1728.1 1444.6L1728.6 1444.5L1729.2 1444.7L1729.7 1445L1730.3 1445.2L1730.8 1445.4L1731.4 1445.6L1731.9 1445.9L1732.5 1445.4L1733 1444.6L1733.6 1443.7L1734.1 1442.9L1734.7 1442.1L1735.2 1441.2L1735.8 1440.4L1736.4 1440.2L1736.9 1440.4L1737.5 1440.7L1738 1441L1738.6 1441.3L1739.1 1441.6L1739.7 1442L1740.2 1441.9L1740.8 1441.2L1741.3 1440.4L1741.9 1439.6L1742.4 1438.8L1743 1438L1743.5 1437.2L1744.1 1436.4L1744.6 1436.7L1745.2 1437.1L1745.7 1437.5L1746.3 1437.9L1746.8 1438.2L1747.4 1438.6L1747.9 1439.1L1748.5 1438.9L1749 1438.1L1749.6 1437.4L1750.1 1436.7L1750.7 1436L1751.2 1435.3L1751.8 1434.5L1752.3 1433.8L1752.9 1434.3L1753.4 1434.8L1754 1435.2L1754.5 1435.7L1755.1 1436.2L1755.6 1436.7L1756.2 1437.2L1756.7 1437.2L1757.3 1436.5L1757.8 1435.9L1758.4 1435.2L1758.9 1434.6L1759.5 1434L1760 1433.4L1760.6 1432.7L1761.1 1433.1L1761.7 1433.7L1762.2 1434.2L1762.8 1434.8L1763.3 1435.4L1763.9 1436L1764.5 1436.6L1765 1436.9L1765.6 1436.3L1766.1 1435.8L1766.7 1435.2L1767.2 1434.7L1767.8 1434.2L1768.3 1433.6L1768.9 1433.1L1769.4 1433.3L1770 1434L1770.5 1434.6L1771.1 1435.3L1771.6 1436L1772.2 1436.6L1772.7 1437.3L1773.3 1437.9L1773.8 1437.5L1774.4 1437L1774.9 1436.6L1775.5 1436.1L1776 1435.7L1776.6 1435.2L1777.1 1434.8L1777.7 1435L1778.2 1435.8L1778.8 1436.5L1779.3 1437.2L1779.9 1438L1780.4 1438.7L1781 1439.5L1781.5 1440.2L1782.1 1439.8L1782.6 1439.4L1783.2 1439.1L1783.7 1438.7L1784.3 1438.4L1784.8 1438L1785.4 1437.7L1785.9 1438.2L1786.5 1439L1787 1439.8L1787.6 1440.6L1788.1 1441.4L1788.7 1442.2L1789.2 1443L1789.8 1443.3L1790.3 1443.1L1790.9 1442.8L1791.5 1442.5L1792 1442.2L1792.6 1442L1793.1 1441.7L1793.7 1441.8L1794.2 1442.6L1794.8 1443.4L1795.3 1444.3L1795.9 1445.1L1796.4 1446L1797 1446.8L1797.5 1447.4L1798.1 1447.2L1798.6 1447L1799.2 1446.8L1799.7 1446.6L1800.3 1446.4L1800.8 1446.3L1801.4 1446.3L1801.9 1447.2L1802.5 1448L1803 1448.8L1803.6 1449.7L1804.1 1450.5L1804.7 1451.3L1805.2 1451.8L1805.8 1451.7L1806.3 1451.5L1806.9 1451.4L1807.4 1451.3L1808 1451.1L1808.5 1451L1809.1 1451.5L1809.6 1452.3L1810.2 1453.1L1810.7 1453.9L1811.3 1454.7L1811.8 1455.5L1812.4 1456.3L1812.9 1456.3L1813.5 1456.2L1814 1456.1L1814.6 1456L1815.1 1456L1815.7 1455.9L1816.2 1456.1L1816.8 1456.9L1817.3 1457.7L1817.9 1458.4L1818.4 1459.1L1819 1459.9L1819.6 1460.6L1820.1 1460.6L1820.7 1460.6L1821.2 1460.5L1821.8 1460.5L1822.3 1460.5L1822.9 1460.5L1823.4 1460.8L1824 1461.4L1824.5 1462.1L1825.1 1462.7L1825.6 1463.4L1826.2 1464L1826.7 1464.5L1827.3 1464.5L1827.8 1464.5L1828.4 1464.5L1828.9 1464.5L1829.5 1464.5L1830 1464.5L1830.6 1465L1831.1 1465.5L1831.7 1466L1832.2 1466.5L1832.8 1467L1833.3 1467.5L1833.9 1467.7L1834.4 1467.7L1835 1467.7L1835.5 1467.8L1836.1 1467.8L1836.6 1467.8L1837.2 1468L1837.7 1468.4L1838.3 1468.7L1838.8 1469.1L1839.4 1469.4L1839.9 1469.7L1840.5 1469.9L1841 1469.9L1841.6 1469.9L1842.1 1470L1842.7 1470L1843.2 1470L1843.8 1470.1L1844.3 1470.3L1844.9 1470.4L1845.4 1470.5L1846 1470.5" stroke="#000000" stroke-width="6"/>
</g>
<path d="M193 1101H1846V1840H193ZM358.3 1840v-17M358.3 1101v17M523.6 1840v-17M523.6 1101v17M688.9 1840v-17M688.9 1101v17M854.2 1840v-17M854.2 1101v17M1019.5 1840v-17M1019.5 1101v17M1184.8 1840v-17M1184.8 1101v17M1350.1 1840v-17M1350.1 1101v17M1515.4 1840v-17M1515.4 1101v17M1680.7 1840v-17M1680.7 1101v17M193 1193.4h17M193 1285.8h17M193 1378.1h17M193 1470.5h17M193 1562.9h17M193 1655.2h17M193 1747.6h17M1846 1224.2h-17M1846 1347.3h-17M1846 1470.5h-17M1846 1593.7h-17M1846 1716.8h-17" stroke="#000" stroke-width="2" fill="none" shape-rendering="crispEdges"/>
<g font-family="&quot;Liberation Serif&quot;, &quot;Times New Roman&quot;, serif" font-size="49.5" fill="#000" stroke="#000" stroke-width="1.1">
<text x="178" y="1118" text-anchor="end">800</text>
<text x="178" y="1210.4" text-anchor="end">600</text>
<text x="178" y="1302.8" text-anchor="end">400</text>
<text x="178" y="1395.1" text-anchor="end">200</text>
<text x="178" y="1487.5" text-anchor="end">0</text>
<text x="178" y="1579.9" text-anchor="end">-200</text>
<text x="178" y="1672.2" text-anchor="end">-400</text>
<text x="178" y="1764.6" text-anchor="end">-600</text>
<text x="178" y="1857" text-anchor="end">-800</text>
<text x="1862" y="1118">15</text>
<text x="1862" y="1241.2">10</text>
<text x="1862" y="1364.3">5</text>
<text x="1862" y="1487.5">0</text>
<text x="1862" y="1610.7">-5</text>
<text x="1862" y="1733.8">-10</text>
<text x="1862" y="1857">-15</text>
<text x="193" y="1901" text-anchor="middle">0.68</text>
<text x="358.3" y="1901" text-anchor="middle">0.69</text>
<text x="523.6" y="1901" text-anchor="middle">0.7</text>
<text x="688.9" y="1901" text-anchor="middle">0.71</text>
<text x="854.2" y="1901" text-anchor="middle">0.72</text>
<text x="1019.5" y="1901" text-anchor="middle">0.73</text>
<text x="1184.8" y="1901" text-anchor="middle">0.74</text>
<text x="1350.1" y="1901" text-anchor="middle">0.75</text>
<text x="1515.4" y="1901" text-anchor="middle">0.76</text>
<text x="1680.7" y="1901" text-anchor="middle">0.77</text>
<text x="1846" y="1901" text-anchor="middle">0.78</text>
<text x="1018.5" y="1965" font-size="55" text-anchor="middle">Time (s)</text>
<text transform="translate(69 1474) rotate(-90)" font-size="55" text-anchor="middle">Voltage (V)</text>
<text transform="translate(1983 1470) rotate(-90)" font-size="55" text-anchor="middle">Current (A)</text>
</g>
<text x="101.6" y="1302.8" font-family="&quot;Liberation Serif&quot;, &quot;Times New Roman&quot;, serif" font-size="51" fill="#00ff00" text-anchor="end">0</text>
<text transform="translate(1009 2061.6) scale(0.91 1)" font-family="&quot;Liberation Serif&quot;, &quot;Times New Roman&quot;, serif" font-size="75" font-style="italic" fill="#262626" text-anchor="middle">(b)</text>
<text x="230.9" y="1237.4" font-family="&quot;Liberation Serif&quot;, &quot;Times New Roman&quot;, serif" font-style="italic" fill="#00ff00"><tspan font-size="66" stroke="#00ff00" stroke-width="0.6">v</tspan><tspan font-size="44" dy="8.2">ab</tspan></text>
<text x="243.6" y="1382.6" font-family="&quot;Liberation Serif&quot;, &quot;Times New Roman&quot;, serif" font-style="italic" fill="#0044cc"><tspan font-size="66" stroke="#0044cc" stroke-width="0.6">v</tspan><tspan font-size="44" dy="8.8">g</tspan></text>
<text x="398.4" y="1556" font-family="&quot;Liberation Serif&quot;, &quot;Times New Roman&quot;, serif" font-style="italic" fill="#e02ad0"><tspan font-size="66" stroke="#e02ad0" stroke-width="0.6">i</tspan><tspan font-size="44" dy="8.9">g</tspan></text>
<text x="564" y="1503.7" font-family="&quot;Liberation Serif&quot;, &quot;Times New Roman&quot;, serif" font-style="italic" fill="#000000"><tspan font-size="66" stroke="#000000" stroke-width="0.6">i</tspan><tspan font-size="44" dy="8">IN</tspan></text>
<text x="693" y="1414.6" font-family="&quot;Liberation Serif&quot;, &quot;Times New Roman&quot;, serif" font-style="italic" fill="#ff0000"><tspan font-size="66" stroke="#ff0000" stroke-width="0.6">i</tspan><tspan font-size="44" dy="9.5">L</tspan></text>
</svg></body></html>
